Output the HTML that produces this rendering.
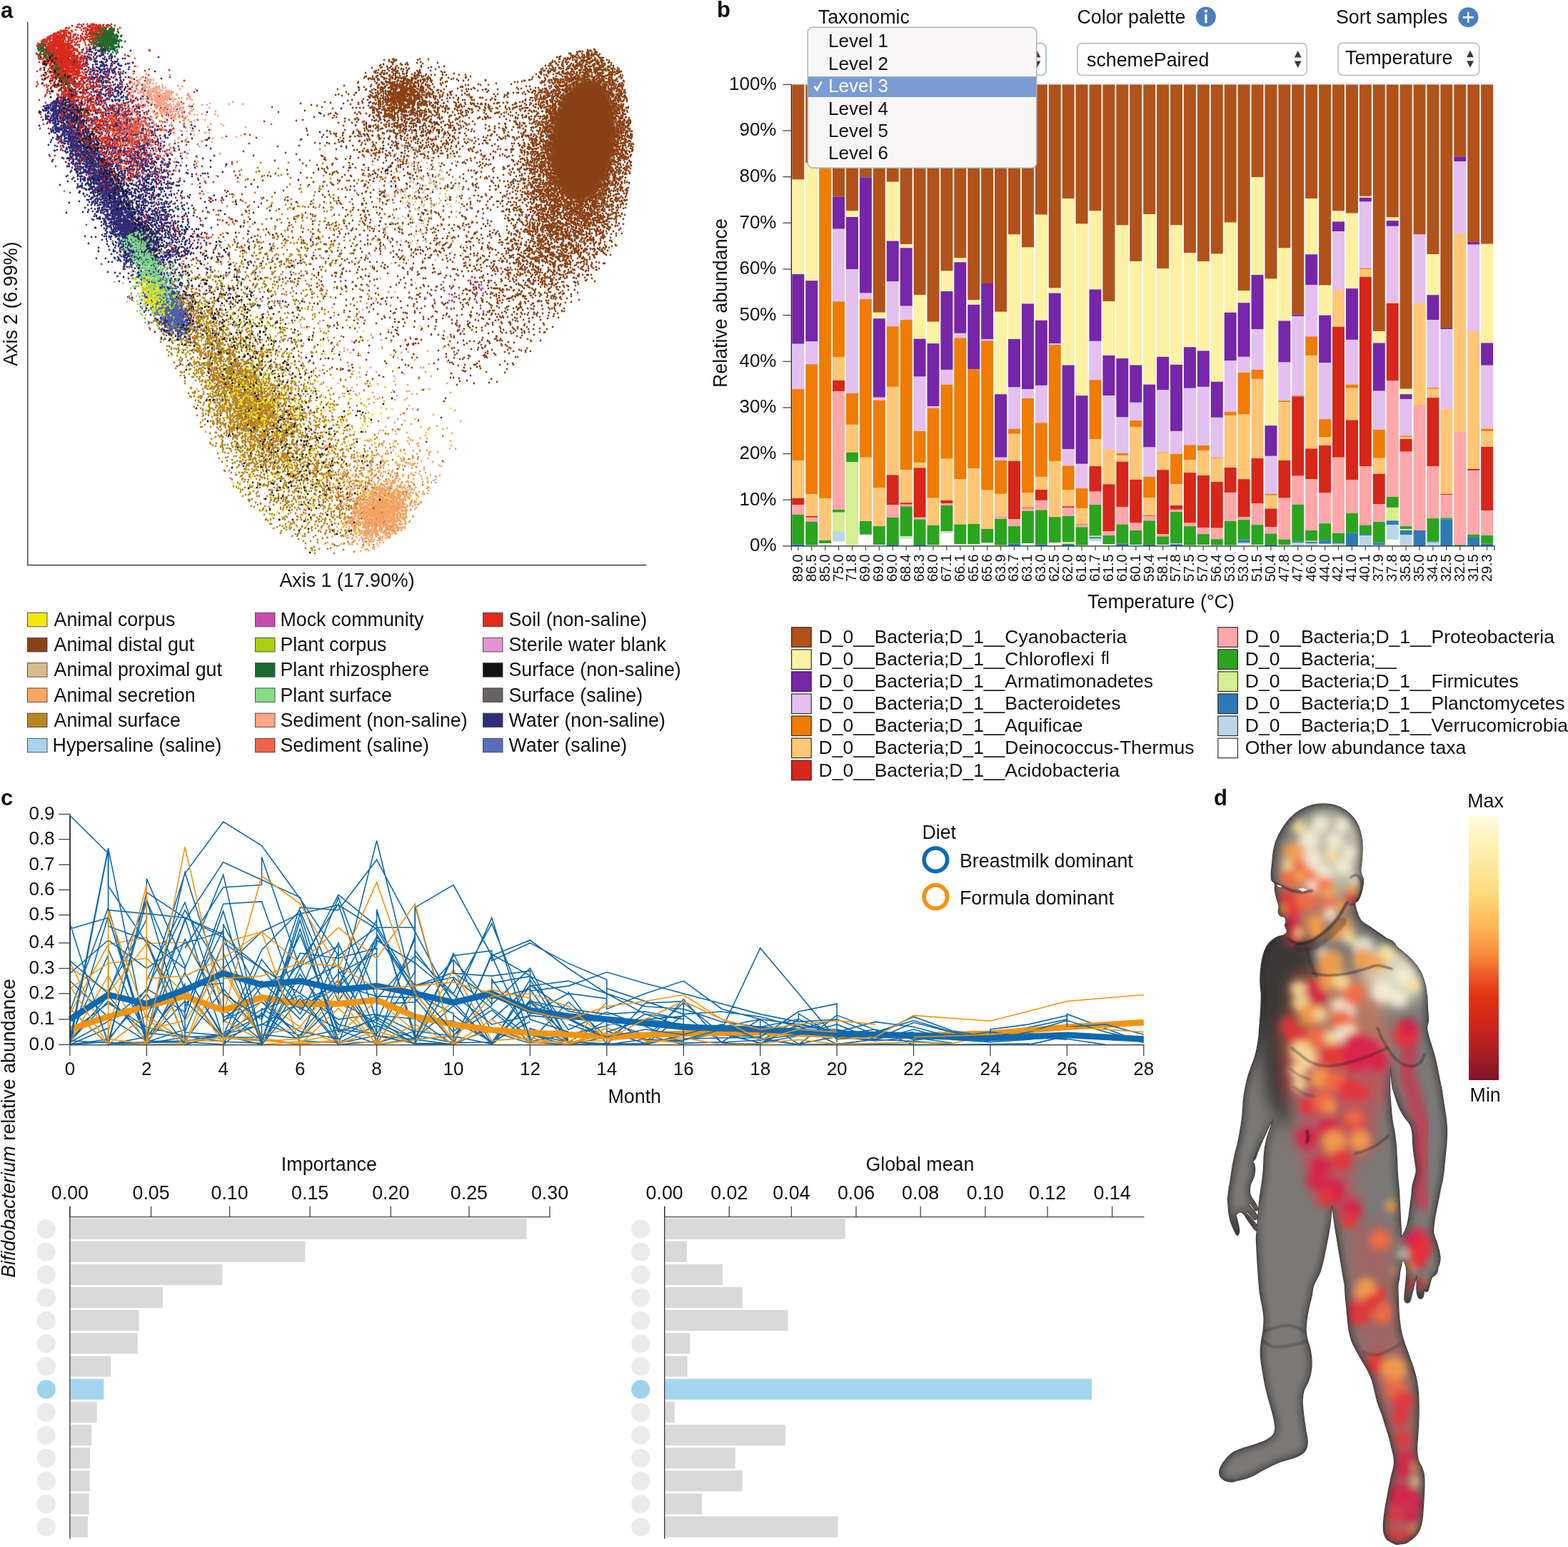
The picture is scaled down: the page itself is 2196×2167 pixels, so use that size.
<!DOCTYPE html>
<html lang="en"><head><meta charset="utf-8"><title>Figure</title>
<style>html,body{margin:0;padding:0;background:#fff;overflow:hidden}svg{display:block}text{font-family:'Liberation Sans', Arial, Helvetica, sans-serif;fill:#111}</style></head><body>
<svg width="2196" height="2167" viewBox="0 0 2196 2167">
<rect width="2196" height="2167" fill="#fff"/>
<g id="sc" fill="none" stroke-width="2.8" stroke-linecap="round">
<filter id="sf" x="-20%" y="-20%" width="140%" height="140%"><feGaussianBlur stdDeviation="3.5"/></filter><ellipse cx="817" cy="196" rx="85" ry="45" transform="rotate(96 817 196)" fill="#8a4115" filter="url(#sf)"/>
<path stroke="#8a4115" d="M823 70zm3 1zm2 0zm12 10zm2 0zm3 0zm-4 4zm2 0zm1 0zm1 0zm-3 2zm1 0zm13 1zm-13 2zm4 0zm-7 2zm5 0zm14 0zm-6 2zm-12 1zm18 0zm-43-23zm18 0zm-12 1zm14 0zm-14 2zm3 0zm9 0zm-10 1zm8 0zm1 0zm-11 1zm3 0zm6 0zm-12 2zm6 0zm-7 1zm1 0zm3 0zm-4 1zm6 0zm1 0zm3 0zm5 0zm-7 1zm-3 1zm1 0zm2 0zm8 0zm-18 1zm6 0zm15 0zm-19 1zm13 0zm4 1zm-14 1zm1 0zm6 0zm9 0zm-12 1zm14 0zm-14 1zm8 0zm-2 1zm6 0zm-7 1zm9 0zm-23 1zm3 1zm1 0zm6 0zm2 0zm3 0zm8 1zm-18 1zm11 0zm2 0zm2 0zm-28-22zm1 1zm-1 2zm-1 1zm-7 1zm3 0zm-1 1zm9 1zm-16 1zm13 0zm3 0zm-19 1zm4 0zm-1 1zm3 0zm-5 1zm9 0zm6 0zm-1 1zm8 1zm-9 1zm6 0zm-2 2zm-2 1zm3 0zm1 1zm1 0zm-10 1zm4 0zm6 0zm1 0zm-17 1zm16 0zm-7 1zm9 1zm-30-16zm-5 1zm3 0zm1 2zm6 0zm-1 3zm-6 2zm5 0zm-16 1zm7 0zm0 1zm-8 1zm17 0zm-7 1zm1 0zm6 0zm-20 1zm19 0zm1 0zm1 1zm-11 2zm5 0zm-19-3zm-164-9zm22 10zm-18 1zm11 0zm-15 1zm-16-7zm8 1zm-2 3zm-38-9zm3 1zm-3 1zm18 3zm-9 2zm10 0zm0 1zm-15 1zm-2 2zm-4-11zm-12 1zm12 4zm-8 5zm-7 1zm-8 5zm-2 1zm-13 2zm1 5zm-2 1zm16 0zm-17 1zm7 1zm-1 1zm5 0zm3 0zm1 3zm11-15zm3 0zm-4 2zm-6 1zm13 0zm-5 1zm2 0zm3 0zm9 0zm-19 1zm-3 2zm16 0zm1 1zm3 1zm-11 1zm1 1zm8 0zm3 0zm-12 1zm7 0zm-4 3zm6 3zm2 0zm-18 1zm-1 1zm1 0zm11 0zm12-23zm-1 1zm9 0zm-10 1zm0 1zm5 0zm-3 1zm1 0zm9 0zm-7 1zm13 0zm-14 1zm3 1zm5 0zm5 0zm-15 2zm0 3zm12 0zm-8 1zm3 0zm1 1zm-9 1zm13 0zm2 0zm3 0zm-14 1zm12 0zm3 1zm2 0zm-18 1zm5 0zm10 0zm2 0zm2 0zm-22 1zm12 0zm6 0zm-3 1zm4 0zm-20 1zm8 0zm3 0zm7 0zm2 0zm-12 1zm-6 1zm1 0zm2 0zm8 0zm23-21zm-4 1zm3 1zm-1 1zm-5 2zm-4 1zm8 0zm12 0zm-12 1zm-4 1zm-5 3zm2 0zm21 0zm-20 1zm3 0zm-4 1zm4 0zm10 0zm2 0zm-18 1zm13 0zm6 0zm4 0zm-14 1zm1 0zm9 0zm-10 1zm4 0zm-8 1zm1 0zm3 0zm8 0zm5 0zm-15 1zm3 1zm5 0zm-11 1zm-1 1zm7 0zm12 0zm12-22zm-7 2zm15 1zm5 1zm-19 4zm16 0zm-20 2zm2 2zm16 1zm-15 3zm1 0zm0 2zm16 1zm-2 3zm18-16zm-11 2zm3 4zm7 1zm-3 1zm-6 3zm33-7zm-7 2zm0 10zm21 0zm11 0zm32-1zm25-6zm1 0zm-8 1zm-9 2zm33-18zm3 2zm2 0zm-5 1zm9 0zm-11 1zm2 1zm-7 2zm11 1zm3 0zm2 2zm-22 4zm18 2zm-1 2zm8-19zm15 0zm4 0zm-16 1zm4 1zm1 0zm-10 1zm20 0zm-17 1zm18 0zm-19 1zm13 0zm4 0zm-5 1zm-14 1zm21 0zm-5 1zm7 3zm-13 3zm11 1zm-7 1zm-13 1zm12 0zm1 1zm3 0zm3 0zm-5 1zm5 0zm-14 1zm7 0zm1 0zm6 0zm3 0zm-8 2zm-4 1zm21-23zm5 1zm7 1zm-10 2zm-7 1zm9 0zm9 0zm-19 1zm2 0zm16 0zm-20 1zm1 0zm6 0zm2 1zm6 0zm1 0zm-6 1zm6 0zm-9 1zm11 0zm-16 1zm16 0zm1 0zm-17 1zm15 0zm-17 1zm8 0zm2 0zm-7 1zm1 0zm2 0zm11 0zm1 0zm-15 1zm16 0zm-8 1zm10 0zm-19 1zm3 0zm4 0zm6 1zm-10 1zm7 0zm3 0zm8 0zm-21 1zm9 0zm-1 1zm2 0zm4 0zm-15 1zm15 0zm6 0zm-12 1zm19-23zm1 0zm14 0zm-17 1zm4 0zm4 0zm-10 1zm1 0zm2 0zm8 0zm9 0zm2 0zm-19 1zm3 0zm2 0zm1 0zm8 0zm-7 1zm1 0zm5 0zm1 0zm2 0zm-20 1zm16 0zm2 0zm-17 1zm1 0zm19 0zm-17 1zm14 0zm-16 1zm4 0zm15 0zm1 0zm-9 1zm-11 1zm1 0zm5 0zm1 0zm4 0zm-9 1zm9 0zm9 0zm1 0zm-21 1zm2 0zm3 0zm9 0zm5 0zm1 1zm-7 1zm5 0zm-17 2zm11 0zm2 1zm6 0zm-22 1zm4 0zm7 0zm5 0zm7 0zm-19 1zm1 0zm5 0zm2 0zm6 0zm-15 1zm5 0zm3 0zm-7 1zm1 0zm13 0zm3 0zm-18 1zm2 0zm3 0zm5 0zm6 0zm3 0zm1 0zm-22 1zm11 0zm8 0zm2 0zm10-23zm8 0zm-16 1zm7 0zm-5 1zm3 0zm8 0zm5 0zm-9 1zm6 2zm4 0zm2 0zm-19 1zm3 0zm12 0zm1 0zm-18 1zm1 0zm13 0zm9 0zm-10 1zm2 0zm2 0zm-6 1zm3 0zm-4 1zm7 0zm-12 1zm0 1zm2 0zm6 0zm4 1zm-17 1zm9 0zm-4 1zm7 0zm4 0zm-13 1zm1 0zm9 0zm5 0zm4 0zm-21 1zm14 0zm7 0zm-10 2zm6 0zm-17 1zm9 0zm3 0zm1 0zm3 0zm1 0zm2 0zm-1 1zm2 0zm-21 1zm8 0zm1 0zm4 0zm7 0zm-13 1zm8 0zm8 0zm2-21zm1 2zm2 0zm-3 3zm4 4zm-2 1zm4 1zm-7 1zm6 0zm3 3zm-8 1zm7 3zm-5 1zm6 1zm-3 2zm2 0zm-1 1zm-4 3zm-2 1zm5 2zm4 0zm0 1zm-8 2zm5 0zm-2 1zm6 1zm-9 1zm4 0zm-2 1zm4 1zm3 1zm1 0zm-7 2zm9 0zm-10 1zm1 0zm5 0zm-7 1zm11 0zm0 1zm-34-21zm8 0zm10 0zm-21 1zm3 0zm2 1zm10 0zm-13 1zm1 0zm8 0zm5 0zm3 0zm3 0zm-21 1zm6 0zm8 0zm-8 1zm6 0zm6 0zm-13 1zm1 0zm-8 1zm7 0zm1 0zm2 0zm1 0zm1 0zm4 0zm1 0zm6 0zm-22 1zm1 0zm2 0zm12 0zm-7 1zm7 0zm-11 1zm3 0zm1 0zm5 0zm1 0zm-12 1zm3 0zm9 0zm8 0zm-16 1zm2 0zm7 0zm3 0zm-7 1zm1 0zm5 0zm1 0zm-10 1zm-2 1zm6 0zm5 0zm4 0zm-10 1zm-1 1zm4 0zm8 0zm-2 1zm-1 1zm1 0zm-14 1zm3 0zm10 0zm2 0zm-6 1zm1 0zm-2 1zm4 0zm-35-23zm2 0zm2 0zm1 0zm2 0zm5 0zm2 0zm-6 1zm2 3zm5 2zm0 1zm-45-7zm5 0zm4 0zm7 0zm-12 2zm9 0zm-14 1zm1 0zm12 0zm5 1zm-17 1zm4 0zm1 0zm9 0zm-4 1zm2 0zm-11 1zm3 0zm1 0zm-7 1zm10 0zm-10 1zm2 0zm7 1zm-6 1zm2 0zm1 0zm2 0zm2 1zm-9 1zm4 0zm2 0zm-6 1zm2 0zm4 0zm-2 2zm-5 1zm4 0zm1 0zm-1 1zm-4 1zm3 0zm-2 1zm0 1zm-21-21zm12 0zm2 0zm1 0zm2 0zm1 0zm-21 1zm8 0zm3 0zm1 0zm5 0zm1 0zm2 0zm-17 1zm6 0zm4 0zm-3 1zm-9 1zm11 0zm1 0zm6 1zm-13 1zm5 0zm-4 1zm7 0zm6 0zm2 0zm-13 1zm5 0zm-8 1zm-7 1zm2 1zm19 0zm-15 1zm7 0zm-2 1zm1 0zm2 0zm-12 1zm3 0zm5 0zm8 0zm1 0zm2 0zm2 0zm-18 1zm3 0zm6 0zm3 0zm6 0zm-10 1zm9 0zm-15 2zm4 0zm-9 2zm2 0zm17 0zm-17 1zm5 0zm7 0zm-10 1zm5 0zm1 0zm3 0zm4 1zm-37-20zm4 0zm9 1zm-3 1zm-4 1zm9 0zm-18 1zm2 0zm18 0zm-17 1zm9 0zm-13 1zm10 0zm6 0zm4 0zm-11 1zm4 0zm8 1zm-15 2zm1 0zm12 0zm2 1zm-10 2zm4 0zm1 0zm1 0zm4 0zm-9 1zm4 0zm3 0zm-4 1zm-9 1zm3 0zm5 0zm3 0zm-13 2zm15 0zm-6 2zm7 0zm-29-22zm5 0zm-18 2zm6 1zm-4 1zm17 0zm-9 4zm-8 1zm17 7zm-7 4zm-4 1zm-4 1zm4 0zm-21-13zm8 0zm-12 3zm0 1zm-1 2zm4 7zm-29-18zm3 2zm-2 2zm10 3zm-20 5zm21 2zm-6 1zm-39-18zm5 3zm16 2zm-18 4zm6 1zm0 2zm2 2zm2 0zm-1 2zm-12 2zm13 0zm3 0zm-39-19zm22 0zm-2 1zm-4 2zm6 3zm-16 2zm1 4zm15 0zm-17 4zm5 0zm7 0zm0 1zm-15 4zm9 1zm6 0zm-41-23zm-1 3zm2 1zm1 1zm19 0zm-17 1zm8 0zm4 1zm-11 2zm1 0zm-1 1zm1 0zm7 0zm-12 1zm2 1zm1 0zm11 1zm-13 3zm4 0zm9 0zm0 1zm-6 1zm9 2zm-18 2zm9 1zm-34-23zm14 0zm-11 1zm3 0zm4 0zm-10 1zm1 0zm4 0zm8 0zm4 0zm-4 1zm2 0zm-13 1zm6 0zm5 0zm-12 1zm2 0zm12 0zm1 0zm-3 1zm8 0zm-20 1zm11 0zm5 0zm-9 1zm-7 1zm2 0zm14 0zm2 0zm-18 1zm10 0zm4 0zm-5 1zm12 0zm1 0zm-20 1zm20 0zm-22 1zm7 0zm4 0zm-8 1zm3 0zm14 0zm-17 1zm2 0zm4 0zm4 1zm1 0zm7 0zm-22 1zm4 0zm1 0zm3 0zm3 0zm-4 1zm-2 1zm3 0zm7 0zm-15 2zm6 0zm10 0zm-15 1zm3 0zm14 0zm2 0zm-16 1zm11 0zm1 0zm-33-23zm4 0zm6 0zm-15 2zm1 0zm1 0zm3 0zm4 0zm1 0zm-5 1zm7 0zm1 0zm-11 1zm6 0zm8 0zm1 0zm1 0zm-20 1zm2 0zm1 0zm10 0zm4 0zm4 0zm-20 1zm1 0zm8 0zm13 0zm-23 1zm13 0zm6 0zm-17 1zm7 0zm2 0zm2 0zm1 0zm-13 1zm1 0zm1 0zm3 0zm8 0zm1 0zm8 0zm-18 1zm1 0zm1 0zm2 0zm2 0zm1 0zm4 0zm1 0zm-17 1zm10 0zm-10 1zm2 0zm3 0zm2 0zm1 0zm4 0zm6 0zm-16 1zm4 0zm4 0zm1 0zm8 0zm4 0zm-20 1zm7 0zm-3 1zm1 0zm3 0zm8 0zm3 0zm-20 1zm4 0zm1 0zm5 0zm2 0zm9 0zm-23 1zm5 0zm1 0zm10 0zm6 0zm-19 1zm4 0zm1 0zm6 0zm1 0zm1 0zm5 0zm-20 1zm3 0zm4 0zm5 0zm1 0zm2 0zm1 0zm-16 1zm10 0zm6 0zm1 0zm2 0zm1 0zm1 0zm-16 1zm1 0zm15 0zm-20 1zm3 0zm2 0zm2 0zm4 0zm5 0zm-16 1zm5 0zm2 0zm-12-23zm2 0zm-22 1zm10 0zm8 0zm1 0zm1 0zm-20 2zm1 0zm3 0zm3 0zm3 0zm9 0zm-14 1zm17 0zm-15 1zm12 0zm3 0zm-18 1zm15 0zm-19 2zm8 0zm6 0zm2 0zm1 0zm-2 1zm7 0zm-22 1zm11 0zm8 0zm-3 1zm5 0zm-20 1zm11 0zm3 0zm1 0zm2 0zm1 0zm3 0zm0 1zm-17 1zm3 0zm6 0zm3 0zm-17 1zm8 0zm12 0zm2 0zm-11 1zm10 0zm-14 1zm4 0zm4 0zm7 0zm-22 1zm3 0zm8 0zm11 0zm-10 1zm2 0zm2 0zm1 0zm1 0zm1 0zm2 0zm-12 1zm1 0zm2 0zm2 0zm1 0zm-14 1zm13 0zm6 1zm2 0zm-21 1zm2 0zm1 0zm10 0zm6 0zm-39-21zm3 3zm11 0zm-12 1zm9 0zm5 0zm-8 2zm1 5zm8 0zm-7 1zm-2 1zm4 0zm-4 2zm6 0zm1 0zm1 3zm-44-20zm3 9zm13 1zm-5 10zm-23-7zm-15 10zm-28 12zm24-5zm-4 8zm7 4zm9-18zm3 8zm-3 7zm-3 1zm6 5zm36-19zm-3 5zm1 9zm-2 7zm4 0zm6-23zm18 2zm-5 4zm-3 1zm5 0zm-1 2zm5 0zm-5 5zm2 0zm-11 1zm5 2zm-1 2zm6 0zm1 2zm13-21zm4 0zm1 0zm7 0zm-19 2zm3 0zm3 0zm11 0zm1 0zm-7 1zm2 0zm3 0zm0 1zm3 0zm-11 1zm-2 1zm15 0zm-8 1zm2 0zm2 0zm2 0zm2 0zm-2 1zm-5 1zm7 0zm-22 1zm9 0zm-10 1zm15 0zm7 0zm-2 1zm-19 1zm2 0zm9 0zm-7 1zm1 0zm6 1zm4 0zm2 0zm-16 1zm19 0zm-9 1zm-11 1zm17 0zm-9 1zm5 0zm9 0zm-20 1zm1 0zm7 0zm8 0zm1 1zm3 0zm-13 2zm14-23zm3 0zm7 0zm2 0zm11 0zm-16 1zm1 0zm11 0zm1 0zm-18 1zm1 0zm4 0zm3 0zm-3 1zm6 0zm8 0zm-17 1zm6 0zm6 0zm2 0zm-2 1zm-8 1zm1 0zm10 0zm2 0zm-18 1zm1 0zm4 0zm8 0zm3 0zm-19 1zm4 0zm3 0zm1 0zm5 0zm-4 1zm5 0zm-14 1zm11 0zm1 0zm-12 1zm9 0zm4 0zm4 0zm6 0zm-11 1zm3 0zm1 0zm-10 1zm5 0zm3 0zm3 0zm-16 1zm3 0zm-3 1zm1 1zm9 0zm-6 1zm10 0zm7 0zm-22 1zm14 0zm2 0zm1 0zm-4 1zm3 0zm-11 1zm-4 1zm13 0zm8 1zm-12 1zm9 0zm2 0zm24-23zm-11 1zm6 0zm3 0zm-18 1zm1 0zm7 0zm3 0zm-8 1zm6 0zm1 0zm3 0zm3 0zm5 0zm-8 1zm-3 3zm-8 1zm-2 1zm19 0zm-19 1zm3 0zm5 1zm9 0zm-15 1zm6 0zm10 0zm-12 1zm12 0zm2 0zm-14 1zm9 0zm-13 1zm5 0zm-8 1zm1 0zm2 0zm9 0zm7 0zm-6 1zm-8 1zm1 0zm7 0zm5 1zm-9 2zm14 0zm-16 1zm2 0zm2 1zm8 0zm9-23zm6 1zm3 1zm-11 1zm3 2zm1 0zm4 0zm9 1zm-10 1zm4 0zm2 0zm-14 4zm2 1zm6 0zm11 0zm-7 1zm-2 1zm4 2zm-3 1zm-3 1zm6 0zm-11 1zm11 1zm4 0zm-19 1zm16 1zm22-22zm7 2zm-20 2zm18 0zm-19 3zm17 0zm-14 1zm1 0zm1 0zm8 1zm-13 1zm16 0zm6 0zm-22 1zm17 0zm-7 2zm-7 1zm19 0zm-4 1zm3 0zm2 2zm-17 1zm-1 2zm15 0zm-1 1zm9-19zm16 3zm3 1zm-10 3zm0 1zm-9 1zm18 0zm-8 2zm-13 6zm8 2zm14 0zm3-20zm-1 1zm7 1zm4 3zm1 1zm10 0zm-6 1zm-3 1zm-8 1zm1 1zm8 0zm1 1zm-5 7zm-4 1zm5 1zm-4 2zm19-23zm6 0zm6 0zm-15 1zm22 2zm-18 2zm8 0zm5 2zm1 2zm1 4zm-19 1zm6 2zm16 2zm-18 2zm23-19zm-2 1zm21 1zm-12 1zm-7 2zm-2 1zm14 0zm2 0zm2 0zm-7 1zm-4 1zm8 2zm-13 3zm17 1zm-14 2zm6 0zm-1 1zm6 0zm-15 2zm13 0zm2 0zm4 0zm-16 1zm7 0zm-10 1zm3 0zm40-22zm-21 1zm13 0zm9 0zm-16 1zm1 0zm6 1zm-1 1zm4 0zm-11 2zm1 0zm7 0zm2 0zm4 0zm2 0zm-3 1zm-8 1zm12 1zm-1 1zm-17 2zm3 0zm8 0zm-14 1zm20 0zm0 1zm-11 1zm-2 1zm14 2zm1 0zm-13 1zm3 0zm6 1zm4 1zm-4 1zm2 1zm9-23zm4 0zm7 0zm3 1zm1 0zm-7 1zm5 1zm-13 1zm2 0zm-7 1zm16 0zm3 0zm1 0zm2 0zm-18 1zm1 0zm15 0zm-11 1zm-5 1zm1 0zm2 0zm1 1zm-9 1zm10 0zm4 0zm2 0zm4 0zm-14 1zm8 0zm1 0zm3 0zm3 0zm-18 1zm5 0zm1 0zm9 0zm-18 1zm5 0zm12 0zm-8 1zm1 0zm4 0zm1 0zm-14 1zm2 0zm1 0zm6 0zm1 0zm-9 1zm4 0zm3 0zm2 0zm4 0zm-11 1zm5 0zm4 0zm4 0zm-13 1zm-1 1zm9 0zm5 0zm-10 1zm4 0zm2 0zm2 0zm2 0zm-12 1zm-2 1zm4 0zm3 0zm5 0zm-10 1zm2 0zm3 0zm2 0zm72-23zm11 0zm-14 1zm2 0zm1 0zm5 0zm-5 1zm11 0zm-9 1zm6 0zm-1 1zm-4 1zm3 0zm1 0zm-9 1zm3 0zm3 0zm-3 1zm5 0zm3 0zm-8 1zm3 0zm-1 1zm-3 1zm9 0zm-8 1zm1 0zm6 0zm2 0zm-1 2zm-4 1zm1 1zm0 1zm-2 1zm3 3zm3 0zm-7 2zm2 0zm2 0zm3 0zm-8 1zm5 0zm11-21zm3 0zm-7 2zm1 0zm4 0zm1 0zm0 1zm0 1zm-8 1zm3 0zm3 0zm7 0zm1 0zm2 0zm-16 1zm2 1zm2 0zm4 1zm-5 1zm7 1zm-6 1zm4 1zm-8 1zm2 0zm2 0zm5 0zm1 1zm-2 1zm-2 1zm-4 1zm4 1zm2 0zm5 0zm-9 1zm-1 1zm1 0zm6 1zm1 1zm7 0zm1 1zm-16 1zm2 0zm3 0zm6 0zm-12 1zm17 0zm-19 1zm4 0zm4 0zm2 0zm9 0zm-19 1zm6 0zm1 0zm11 0zm-15 1zm3 0zm1 0zm9 0zm-16 1zm7 0zm3 0zm-10 1zm2 0zm2 0zm6 0zm1 0zm-6 1zm7 0zm3 0zm-11 1zm-4 1zm2 1zm7 0zm-9 1zm0 1zm2 0zm7 0zm8 1zm-15 1zm18 0zm1 0zm-19 1zm1 0zm5 0zm7 0zm-6 1zm3 0zm1 0zm-10 1zm3 1zm6 1zm-9 1zm4 0zm2 0zm-7 1zm1 0zm8 0zm5 0zm-17-23zm-9 1zm2 0zm-1 1zm2 0zm2 0zm3 1zm-6 1zm0 1zm2 0zm1 1zm-2 1zm-2 3zm2 0zm3 0zm-1 1zm2 0zm-4 2zm3 0zm1 0zm-6 1zm2 1zm2 0zm3 0zm-7 1zm1 0zm2 2zm2 0zm0 1zm2 1zm-7 1zm6 1zm2 0zm-8 1zm-84-23zm2 0zm9 0zm-14 1zm1 0zm3 0zm1 0zm3 0zm3 0zm3 0zm-12 1zm3 1zm10 0zm0 1zm-11 1zm3 0zm2 0zm4 2zm2 0zm-10 1zm5 0zm4 0zm-14 1zm2 0zm0 1zm3 0zm1 0zm6 0zm-5 2zm6 0zm-11 1zm7 0zm1 0zm-2 1zm-8 1zm0 1zm2 0zm1 0zm1 1zm0 1zm5 0zm3 0zm-4 2zm-4 1zm-1 1zm4 0zm2 0zm1 0zm1 0zm1 0zm-6 1zm6 0zm-28-22zm-3 1zm16 0zm-17 1zm3 0zm4 0zm1 0zm-1 1zm10 0zm-20 1zm21 0zm0 1zm-12 1zm3 0zm3 0zm6 1zm-14 1zm9 0zm-15 1zm4 0zm13 0zm4 0zm-20 1zm20 0zm-10 1zm8 0zm0 1zm-9 1zm7 0zm-17 2zm16 0zm5 0zm-9 1zm5 0zm4 1zm-3 1zm-6 1zm8 1zm-15 2zm7 0zm2 0zm-18-23zm-20 2zm6 2zm5 0zm2 1zm-12 1zm1 0zm1 1zm11 2zm-8 1zm0 1zm5 1zm3 2zm-3 4zm-3 1zm2 2zm1 0zm4 1zm2 0zm1 0zm3 0zm-12 1zm9 0zm-26-22zm-15 4zm0 6zm10 0zm-3 2zm-1 2zm2 0zm-11 6zm15 0zm0 1zm-3 1zm5 0zm-20-14zm-13 3zm12 4zm-5 6zm-39-20zm6 5zm7 6zm-5 1zm8 2zm-11 6zm-24-22zm9 0zm6 2zm-13 2zm11 3zm-11 1zm0 2zm0 1zm15 0zm-3 1zm0 1zm-6 1zm-3 1zm-7 2zm10 1zm6 0zm1 0zm-14 4zm4 1zm-33-21zm1 0zm19 0zm-3 1zm0 1zm-13 1zm18 3zm-17 1zm-2 2zm5 0zm3 3zm1 0zm2 0zm-12 1zm9 0zm-9 2zm3 0zm8 1zm8 1zm0 1zm-44-20zm1 0zm8 0zm-2 1zm12 0zm-9 1zm-4 1zm4 0zm-12 2zm19 0zm-12 2zm-1 1zm11 0zm3 0zm-13 1zm8 0zm-15 1zm4 4zm19 0zm-22 1zm6 1zm13 0zm-3 1zm6 1zm-2 2zm-13 3zm7 0zm-38-23zm5 0zm5 0zm-11 1zm11 0zm7 2zm-13 1zm11 0zm7 0zm-19 1zm5 2zm7 0zm-11 1zm3 0zm-8 1zm1 0zm9 0zm11 0zm-17 2zm5 0zm4 2zm-13 1zm16 0zm5 1zm-11 2zm-2 1zm-3 1zm10 0zm-12 1zm8 3zm-18-22zm-15 1zm12 1zm-8 1zm11 1zm-17 4zm0 2zm2 0zm6 1zm11 3zm-1 1zm2 0zm3 1zm-15 2zm-6 4zm-3-23zm-19 3zm2 3zm3 0zm0 3zm6 1zm-6 1zm-3 1zm16 0zm-10 4zm6 0zm-18 1zm1 3zm4 0zm12 2zm1 0zm-6 1zm-27-23zm11 3zm-7 1zm5 3zm-15 7zm19 2zm-7 2zm-15 4zm11 1zm6 0zm6 0zm-29-19zm-12 12zm6 3zm3 0zm-1 2zm1 2zm-18-2zm-38-20zm14 11zm2 9zm-88-1zm-51 6zm67-1zm62 3zm20 4zm7 1zm30-3zm-9 3zm12-7zm4 11zm0 2zm15 3zm4-13zm11 0zm7 2zm-15 1zm20 0zm-15 2zm-6 1zm20 4zm1 2zm-7 1zm-12 1zm0 1zm8 1zm11 1zm-4 1zm8-22zm14 0zm-1 9zm5 1zm-16 5zm3 0zm5 3zm9 0zm-14 2zm-6 1zm15 0zm1 0zm15-21zm14 0zm-4 1zm-17 4zm15 2zm-13 2zm18 1zm-11 1zm-7 2zm11 1zm4 1zm-4 3zm-5 3zm17-21zm3 0zm17 2zm-20 1zm19 0zm-22 2zm9 0zm4 2zm8 0zm0 4zm-6 1zm-12 2zm11 0zm-3 2zm-8 1zm3 0zm5 1zm1 1zm-3 1zm-4 1zm12 1zm17-23zm11 0zm-21 2zm10 1zm1 0zm7 3zm4 3zm-18 1zm16 0zm0 1zm-8 1zm-10 2zm11 0zm-8 2zm9 0zm-8 3zm12 0zm-5 1zm-5 1zm-1 2zm10 0zm2 0zm1 0zm8-22zm8 0zm6 0zm-4 2zm-4 2zm-8 2zm16 0zm-15 1zm-2 1zm3 1zm11 2zm0 2zm-15 2zm7 0zm3 4zm6 1zm-4 2zm29-22zm-7 3zm3 1zm5 1zm-15 1zm2 2zm11 0zm-16 4zm16 1zm-1 1zm-7 2zm1 2zm5 1zm7 1zm9-16zm2 0zm-4 4zm7 0zm-10 10zm18 1zm8-20zm6 1zm-4 1zm16 7zm1 4zm-1 4zm2 0zm-11 1zm2 0zm6 0zm2 0zm9-18zm-7 1zm4 0zm-3 3zm12 0zm9 0zm-8 4zm6 2zm-12 1zm13 0zm-14 1zm1 0zm7 1zm-4 1zm8 0zm1 0zm3 1zm-4 1zm1 0zm3 0zm-2 1zm-10 5zm4 0zm5 1zm12-23zm13 0zm-9 1zm-12 1zm1 0zm1 1zm3 1zm-4 1zm7 0zm15 0zm-21 1zm5 0zm8 0zm8 0zm-17 1zm6 0zm4 0zm-15 1zm1 0zm0 1zm10 0zm-5 1zm4 0zm-9 1zm6 0zm15 0zm-6 1zm1 0zm3 0zm2 0zm-9 1zm-9 3zm3 0zm9 0zm3 0zm-1 1zm-5 1zm-12 1zm4 1zm17 0zm-19 1zm3 0zm9 0zm5 0zm-5 1zm3 0zm4 0zm-21 1zm7 0zm5 0zm11-23zm3 0zm3 0zm3 0zm-4 1zm1 0zm3 0zm-5 1zm1 1zm2 0zm2 0zm-4 1zm3 0zm2 2zm-4 1zm3 0zm-8 1zm2 0zm-4 1zm7 0zm-6 1zm3 0zm-4 1zm9 0zm-8 1zm4 0zm6 0zm-5 1zm2 1zm2 0zm1 0zm-7 1zm7 0zm-6 1zm4 0zm2 0zm-6 1zm5 0zm-10 1zm1 0zm3 0zm5 0zm-8 1zm3 0zm0 2zm4 1zm-8 1zm8 0zm83-23zm1 0zm2 0zm-2 2zm-5 1zm5 1zm1 0zm1 1zm-5 1zm3 2zm-3 1zm2 0zm2 1zm1 0zm-3 1zm-2 1zm1 0zm3 0zm-4 1zm6 1zm-9 1zm1 0zm0 1zm-1 1zm3 0zm4 1zm2 0zm-4 1zm2 0zm-5 1zm-2 1zm-2 2zm7 0zm4 0zm1-23zm4 1zm13 0zm-15 1zm5 0zm-5 1zm1 0zm4 0zm-6 1zm0 1zm10 0zm-9 1zm9 0zm5 0zm3 0zm-19 1zm13 0zm1 0zm1 0zm-9 1zm5 0zm-11 1zm1 0zm1 0zm9 1zm12 0zm-23 1zm11 0zm-10 1zm8 0zm10 0zm3 2zm-19 1zm5 1zm1 0zm-9 1zm7 0zm14 0zm1 0zm-20 1zm4 0zm2 1zm3 0zm11 0zm-22 1zm6 0zm5 0zm6 0zm-10 1zm6 0zm5 0zm-17 2zm4 0zm3 0zm-5 1zm1 0zm4 0zm-8 1zm4 0zm1 0zm15 0zm-13 1zm-1 1zm1 0zm5 0zm-8 1zm12 0zm-14 1zm1 0zm6 0zm1 0zm5 0zm-11 1zm3 0zm4 1zm-8 1zm7 0zm7 1zm-15 1zm9 1zm8 1zm-17 2zm3 0zm0 1zm11 2zm-10 1zm-2 1zm10 0zm-11 1zm6 0zm-6 1zm8 1zm2 0zm-9 1zm12 0zm-28-23zm3 0zm6 0zm2 0zm-7 2zm1 0zm2 0zm-6 1zm-2 5zm2 0zm4 0zm1 0zm2 0zm-8 1zm8 0zm-3 1zm2 0zm3 0zm-10 1zm11 0zm-14 1zm6 0zm0 1zm1 1zm4 0zm2 1zm-15 1zm3 0zm2 0zm-2 1zm2 0zm3 0zm-3 2zm5 0zm-11 1zm8 0zm8 0zm-17 1zm3 1zm3 0zm1 0zm2 0zm5 0zm-14 1zm7 0zm4 0zm-83-23zm1 0zm1 2zm-6 1zm6 0zm-5 2zm5 0zm3 0zm-10 1zm11 0zm-3 1zm1 0zm3 0zm-12 1zm3 0zm3 0zm6 0zm-7 1zm3 0zm2 0zm-9 2zm5 0zm4 1zm1 0zm-11 1zm2 0zm3 0zm2 1zm3 0zm-4 1zm2 0zm3 0zm-8 1zm4 0zm4 0zm-4 1zm6 0zm-13 1zm1 0zm10 0zm1 0zm-10 1zm-1 1zm12 0zm-11 1zm8 0zm1 0zm-11 1zm11 1zm-29-23zm5 0zm-2 1zm-5 1zm12 0zm1 0zm1 0zm4 0zm-14 1zm6 0zm-14 1zm16 0zm-9 1zm16 0zm-8 1zm2 0zm-10 1zm7 0zm-4 1zm10 0zm-18 1zm3 0zm14 1zm-19 1zm8 0zm9 0zm5 0zm-18 1zm11 0zm8 0zm-4 1zm-8 1zm6 0zm-13 1zm10 0zm-9 1zm12 0zm2 0zm-18 1zm3 0zm9 0zm3 1zm4 0zm-6 1zm1 0zm-12 1zm-2 1zm12 0zm9 0zm-22 1zm16 0zm2 0zm1 0zm-3 1zm1 0zm4 0zm-26-23zm-5 1zm-6 2zm10 2zm-6 1zm7 2zm-2 4zm2 1zm-14 1zm16 0zm-8 1zm1 0zm9 0zm-6 1zm4 0zm-13 4zm1 0zm10 0zm3 0zm-17 1zm9 0zm3 0zm1 0zm4 0zm0 2zm1 0zm-39-23zm3 2zm11 0zm-8 2zm9 6zm-8 7zm-6 1zm2 2zm-2 1zm9 1zm-40-22zm13 0zm-10 3zm1 1zm-2 3zm-4 4zm1 4zm11 0zm-5 1zm13 3zm-42-8zm6 12zm4 0zm-33-22zm16 2zm-2 8zm-2 5zm-34 5zm-16-21zm5 0zm5 3zm-5 2zm-8 7zm3 6zm-4 2zm2 3zm-34-22zm13 2zm6 0zm-6 2zm-12 3zm6 0zm5 0zm5 0zm-13 2zm4 0zm8 0zm-4 3zm-1 1zm-7 2zm1 0zm0 2zm3 0zm4 3zm-25-21zm3 2zm-2 7zm8 4zm-1 4zm-4 1zm-8 2zm4 3zm-14-23zm-18 1zm12 1zm-10 1zm12 7zm-13 5zm7 4zm8 4zm-34-17zm-6 1zm10 7zm-13 4zm10 1zm7 0zm-26-12zm-22-5zm5 3zm-1 2zm-34 1zm-18 14zm-47-20zm-38 13zm-44-5zm55 14zm28 12zm-12 10zm35-15zm-11 6zm-7 9zm25-19zm17 1zm18-2zm18 0zm14 13zm-20 4zm38-19zm-3 1zm5 1zm-11 2zm17 4zm-6 4zm3 1zm-1 1zm-12 2zm4 3zm25-12zm-6 6zm3 0zm7 0zm0 8zm-12 2zm25-20zm17 0zm-9 1zm5 0zm-14 1zm11 1zm5 4zm-13 8zm-1 3zm19-16zm19 0zm-14 3zm2 3zm3 3zm-1 6zm18-20zm15 2zm0 1zm-5 3zm-8 3zm17 1zm-16 2zm10 5zm13-15zm-4 4zm12 4zm2 10zm23-15zm-15 1zm6 1zm4 1zm1 7zm-1 6zm19-16zm5 3zm10 0zm-12 8zm3 4zm-11 1zm3 0zm41-20zm-7 7zm-12 2zm4 4zm9 3zm0 2zm8 4zm4-22zm7 7zm1 2zm6 3zm6 7zm22-19zm-3 2zm-13 10zm18 0zm-12 1zm13 0zm-4 2zm1 3zm-8 2zm-10 1zm16 0zm-2 1zm8-21zm15 1zm7 0zm-11 1zm-3 2zm12 1zm-7 3zm8 0zm-11 2zm3 0zm2 0zm-13 1zm18 0zm-15 1zm3 0zm6 2zm-1 1zm2 0zm8 0zm0 2zm-23 2zm18 0zm-3 2zm22-23zm-13 1zm5 0zm10 0zm5 0zm1 0zm-21 1zm3 0zm19 0zm0 1zm1 0zm-18 1zm16 0zm-8 1zm-2 1zm6 0zm-7 1zm2 0zm-9 1zm20 1zm-14 2zm2 0zm-4 1zm-1 1zm11 0zm-14 1zm10 1zm-8 1zm2 0zm1 0zm12 0zm2 0zm-19 1zm9 1zm4 0zm3 0zm2 0zm1 0zm-21 1zm5 1zm-6 1zm10 1zm2 0zm2 0zm4 0zm-17 1zm33-23zm0 1zm1 0zm1 0zm2 0zm-10 1zm1 0zm6 0zm-11 1zm6 0zm-3 1zm5 0zm1 0zm3 0zm-12 1zm14 0zm2 0zm1 0zm-13 1zm-2 1zm3 0zm8 0zm-7 1zm2 0zm3 0zm4 0zm2 0zm-16 1zm11 0zm3 0zm3 0zm-16 1zm3 0zm11 0zm-12 1zm7 0zm6 0zm1 0zm-14 1zm-2 1zm1 0zm3 0zm6 0zm3 0zm-15 1zm2 0zm7 0zm4 0zm4 1zm1 0zm-4 1zm7 0zm-19 1zm4 1zm10 0zm3 0zm1 0zm-19 1zm8 0zm11 0zm-17 1zm6 0zm10 0zm4 0zm-14 1zm4 0zm7 0zm-16 1zm10 0zm1 0zm1 1zm5 0zm3-3zm0 2zm47-11zm-3 7zm2 0zm-2 1zm1 0zm-4 2zm6 0zm-9 1zm1 0zm7 0zm1 0zm-5 1zm5 0zm7-23zm1 0zm9 0zm2 0zm2 0zm-10 1zm5 0zm-9 1zm10 0zm6 0zm-18 1zm17 0zm-18 1zm3 0zm2 0zm3 0zm9 0zm-12 1zm6 0zm4 0zm1 0zm-16 1zm2 0zm5 0zm12 0zm-21 1zm19 0zm-20 1zm3 0zm7 0zm3 0zm7 0zm-12 1zm11 0zm3 0zm-11 2zm10 0zm-21 1zm3 0zm8 0zm8 0zm1 0zm-15 1zm6 0zm1 1zm1 0zm10 0zm-10 1zm4 0zm-15 1zm4 0zm6 0zm6 0zm-18 1zm9 0zm5 0zm3 0zm-17 1zm4 1zm1 0zm5 0zm9 0zm2 0zm-20 1zm8 0zm-9 1zm8 0zm14 0zm-15 1zm1 0zm14 0zm-20 1zm24-23zm7 1zm-7 1zm2 0zm8 0zm1 2zm-7 5zm6 0zm-11 2zm2 1zm0 1zm3 2zm8 0zm-14 1zm17 0zm0 1zm-16 2zm5 2zm-2 1zm1 1zm2 0zm1 0zm8 0zm-11 1zm9 0zm-14 1zm5 1zm8 0zm-8 1zm3 0zm1 1zm-7 3zm12 0zm-1 3zm-5 3zm-6 1zm8 2zm-3 1zm-1 1zm3 4zm4 0zm-34-22zm7 0zm2 0zm-7 1zm7 0zm-6 1zm2 0zm1 0zm-8 1zm3 0zm5 0zm4 0zm3 0zm4 0zm2 0zm-18 1zm3 0zm12 0zm-6 1zm-5 1zm1 1zm-7 1zm3 0zm1 0zm-4 1zm7 0zm12 0zm-15 1zm-5 2zm3 1zm3 0zm15 0zm-11 1zm-10 1zm1 0zm13 0zm-11 1zm11 0zm8 0zm-16 1zm8 0zm8 0zm-12 1zm12 0zm-13 1zm-7 1zm3 0zm13 0zm-14 1zm9 2zm1 0zm-27-23zm3 0zm-4 1zm2 0zm-4 1zm1 0zm3 0zm4 0zm2 0zm-11 1zm1 0zm4 0zm1 0zm5 0zm4 0zm-16 1zm1 0zm2 0zm1 0zm9 0zm-13 1zm11 0zm-10 1zm2 0zm13 0zm-20 1zm2 0zm6 0zm3 0zm1 0zm2 0zm6 0zm-20 1zm6 0zm12 0zm-21 1zm7 0zm-5 1zm4 0zm6 0zm3 0zm4 0zm3 0zm-22 1zm7 0zm10 0zm-16 1zm9 0zm2 0zm2 0zm-2 1zm6 0zm3 0zm-7 1zm8 0zm-14 1zm2 0zm12 0zm-21 1zm3 0zm6 1zm2 0zm2 0zm2 0zm3 0zm-13 1zm11 0zm4 0zm-16 1zm5 0zm7 0zm1 0zm-18 1zm4 0zm12 0zm-16 1zm14 0zm4 0zm5 0zm-23 1zm6 0zm10 0zm-12 1zm-27-23zm3 1zm-2 2zm4 1zm1 0zm-7 1zm2 0zm3 1zm4 0zm-1 1zm-1 1zm3 0zm3 0zm4 0zm2 0zm3 1zm-21 1zm4 0zm4 0zm1 0zm1 0zm2 0zm2 0zm5 0zm1 0zm-18 1zm3 0zm1 0zm4 0zm1 0zm1 0zm2 0zm3 0zm-15 2zm1 0zm5 0zm10 0zm4 0zm-21 1zm11 0zm3 1zm2 0zm-17 1zm20 0zm-21 1zm19 0zm4 0zm-21 1zm5 0zm8 0zm7 0zm-18 1zm3 0zm4 0zm6 0zm1 0zm1 0zm-17 1zm4 0zm3 0zm12 0zm-21 1zm4 0zm1 0zm6 0zm12 0zm-17 1zm2 0zm4 0zm3 0zm8 0zm-18 1zm1 0zm5 0zm6 0zm4 0zm-45-23zm11 0zm3 0zm2 0zm4 0zm-14 1zm1 0zm1 0zm-6 1zm7 0zm7 0zm3 0zm1 0zm2 0zm1 0zm-23 1zm10 0zm6 0zm4 0zm-19 1zm8 0zm13 0zm0 1zm-17 1zm4 0zm5 0zm-9 1zm2 0zm1 0zm5 0zm7 0zm-16 1zm9 0zm6 0zm-19 1zm3 0zm5 0zm-7 1zm2 0zm2 0zm2 0zm2 0zm5 0zm6 0zm-10 1zm-7 1zm9 0zm-10 1zm13 0zm2 0zm-16 1zm6 1zm7 0zm1 0zm5 0zm2 0zm-21 1zm1 0zm9 0zm2 0zm10 0zm-9 1zm3 0zm-3 1zm7 0zm2 0zm-14 1zm4 0zm5 0zm-8 1zm-8 1zm10 0zm6 0zm-4 1zm1 0zm-15 1zm8 0zm1 0zm7 0zm2 0zm5 0zm-42-22zm11 0zm5 0zm-11 1zm12 0zm-15 1zm4 0zm1 0zm2 0zm9 0zm-21 1zm2 0zm3 0zm12 0zm-6 1zm1 0zm7 0zm-21 2zm17 0zm-13 1zm13 1zm-17 1zm16 0zm-1 1zm7 0zm-20 1zm3 0zm3 0zm11 1zm-19 1zm5 0zm1 0zm8 1zm-6 1zm13 0zm-4 1zm-13 1zm12 1zm2 0zm5 0zm-20 1zm19 1zm-15 1zm5 1zm2 0zm9 0zm-45-20zm7 0zm-4 1zm13 4zm3 0zm-10 1zm9 3zm-17 2zm11 1zm4 0zm5 0zm-8 1zm-8 1zm5 3zm-9 3zm-13-19zm8 1zm-17 1zm13 1zm-10 5zm13 1zm1 0zm-6 1zm-8 3zm-1 1zm9 1zm3 0zm-5 3zm-35-10zm11 3zm-38-14zm16 9zm-6 4zm-4 8zm-22-22zm15 10zm-16 2zm-1 1zm0 3zm17 6zm-47-21zm3 13zm1 7zm4 2zm-21-17zm-6 5zm15 1zm-8 1zm10 2zm-28-15zm-2 1zm-13 2zm9 1zm-11 1zm0 6zm19 0zm-8 2zm9 8zm-41-17zm3 1zm1 0zm2 0zm0 1zm0 4zm7 6zm-3 1zm1 0zm-7 3zm15 0zm-10 2zm-22-10zm-10 2zm12 5zm-8 2zm-5 1zm-22-20zm7 13zm-32-6zm2 11zm-16-16zm5 5zm3 3zm-1 7zm-19 3zm-50-16zm14 10zm-30-3zm-3 8zm-27-13zm-2 8zm-31 15zm41-5zm-3 5zm44 13zm40-10zm-10 4zm6 0zm-9 1zm8 2zm-11 2zm41-16zm-18 9zm3 10zm30-9zm27-10zm-10 3zm17 0zm-11 2zm-7 7zm-3 7zm42-20zm-15 5zm2 0zm5 0zm0 1zm-5 1zm1 6zm2 2zm-7 1zm2 5zm27-18zm-7 5zm4 1zm14 4zm-2 1zm-10 1zm-2 5zm39-22zm-16 5zm-3 1zm22 2zm-2 5zm0 1zm-20 3zm35-14zm8 3zm-4 4zm2 2zm6 0zm-10 4zm2 5zm18-12zm12 10zm-21 3zm32-13zm12 1zm3 4zm12-11zm-11 12zm19 0zm-16 1zm2 2zm-1 1zm9 4zm22-20zm-7 2zm11 1zm-4 15zm27-16zm3 0zm-4 1zm-4 2zm9 1zm-1 4zm-5 1zm3 3zm-4 1zm10 1zm1 0zm-6 2zm2 0zm29-19zm-14 3zm14 0zm-16 1zm-7 1zm9 1zm1 1zm13 0zm-12 1zm-4 3zm10 0zm4 0zm-5 3zm2 2zm5 2zm-13 3zm1 0zm11 0zm9-23zm3 0zm10 0zm0 1zm-13 1zm3 0zm4 0zm6 1zm-13 1zm11 0zm-10 1zm5 0zm1 0zm7 0zm-10 1zm2 0zm4 0zm2 0zm-16 1zm6 0zm10 0zm-17 1zm17 0zm-14 1zm1 0zm6 1zm-8 1zm6 0zm0 1zm7 0zm3 0zm-12 1zm2 1zm7 0zm-6 1zm4 1zm2 0zm6 0zm-21 2zm8 0zm7 0zm2 0zm-4 1zm3 0zm2 0zm-8 1zm9 0zm-14 1zm5 0zm8 0zm-5 1zm8 0zm-6 1zm9-23zm11 0zm7 0zm-15 1zm2 0zm8 0zm2 1zm-15 1zm2 0zm5 0zm5 0zm7 0zm-15 1zm3 0zm5 0zm7 0zm-19 1zm5 0zm6 0zm2 0zm-12 1zm3 0zm1 0zm-3 1zm3 0zm4 0zm10 0zm-16 1zm1 0zm2 0zm12 0zm-16 1zm10 1zm7 0zm-12 1zm-5 1zm19 0zm-23 1zm13 0zm3 0zm1 0zm-15 1zm10 0zm10 0zm0 1zm-19 1zm1 0zm3 0zm-2 1zm7 0zm-11 1zm19 0zm1 0zm-17 1zm6 0zm-3 1zm-3 1zm4 0zm5 0zm1 1zm1 0zm1 0zm0 1zm20-23zm-5 1zm10 0zm1 0zm1 0zm-12 1zm1 0zm4 0zm3 0zm5 0zm-19 1zm6 0zm1 0zm6 0zm4 0zm-12 1zm8 0zm7 0zm2 0zm-23 1zm3 0zm1 0zm10 0zm8 0zm-20 1zm5 1zm2 0zm3 0zm11 0zm-16 1zm4 0zm5 0zm4 0zm-11 1zm3 0zm1 0zm6 0zm2 0zm0 1zm-21 1zm5 0zm10 0zm-14 1zm3 0zm2 0zm10 0zm-10 1zm2 0zm8 0zm7 0zm-15 1zm12 1zm3 0zm-17 1zm11 0zm-12 1zm13 0zm-14 1zm3 0zm16 0zm-9 1zm2 0zm-14 1zm1 0zm5 0zm5 0zm5 0zm-10 2zm4 0zm5 0zm-16 1zm22 0zm4-23zm10 0zm1 0zm1 0zm1 0zm2 0zm2 0zm3 0zm-12 1zm3 0zm9 0zm-22 1zm14 0zm4 0zm-8 1zm5 0zm1 0zm-17 1zm7 0zm5 0zm5 0zm-5 1zm8 0zm-10 1zm3 0zm9 0zm-20 1zm9 1zm5 0zm-4 1zm9 0zm-21 1zm5 0zm1 0zm7 0zm-10 1zm6 0zm4 1zm3 0zm5 0zm-15 1zm1 0zm2 0zm9 0zm4 0zm-22 1zm11 0zm-4 1zm-4 1zm4 0zm2 0zm11 0zm-3 1zm5 0zm1 0zm-21 1zm6 0zm1 0zm1 0zm4 0zm1 0zm1 0zm-14 1zm8 0zm5 0zm-11 1zm3 0zm7 0zm8 0zm-21 1zm5 0zm11 0zm1 0zm3 0zm-14 1zm8 0zm7 0zm-19 1zm1 0zm8 0zm9 0zm7-23zm1 1zm-5 1zm9 0zm4 0zm4 0zm-10 3zm12 0zm-6 1zm1 0zm-9 1zm16 3zm2 0zm-14 1zm10 0zm4 0zm-6 1zm-16 1zm10 0zm4 0zm-15 1zm23 0zm-18 1zm-4 1zm6 0zm15 0zm1 0zm-22 2zm1 0zm2 0zm9 0zm-8 3zm2 1zm-3 1zm9 0zm16-21zm7 1zm-3 1zm-7 6zm5 2zm4 1zm-8 1zm-3 1zm9 4zm-6 6zm-2 3zm4 4zm-23-8zm17 0zm-14 2zm2 0zm6 1zm-12 1zm6 0zm11 0zm0 1zm-8 1zm-4 2zm2 1zm-11 1zm18 2zm-17 1zm1 1zm-3 1zm4 3zm19 0zm-18 1zm-3 1zm2 0zm3 0zm-4 1zm2 1zm-20-22zm2 0zm12 0zm-15 1zm3 0zm1 0zm4 0zm-14 1zm7 0zm1 0zm-7 1zm5 0zm6 1zm4 0zm1 0zm-9 1zm13 1zm-17 1zm0 1zm1 0zm13 0zm-10 1zm3 0zm8 0zm-21 1zm20 0zm-10 1zm13 1zm-18 1zm14 1zm-13 1zm4 0zm-5 1zm4 0zm-9 1zm20 0zm-14 1zm13 0zm-12 1zm8 2zm-4 1zm3 0zm1 0zm-31-22zm1 0zm5 0zm8 0zm-21 1zm3 0zm8 0zm1 0zm4 0zm-13 1zm15 0zm-6 1zm5 0zm-17 1zm1 0zm6 0zm7 0zm-10 2zm6 0zm-8 1zm12 1zm6 1zm-8 1zm-10 1zm10 0zm8 0zm1 0zm-7 1zm3 0zm-18 1zm19 0zm4 0zm-5 1zm-6 1zm1 1zm6 0zm2 0zm1 0zm1 0zm-18 1zm7 0zm2 0zm9 0zm-21 1zm1 0zm0 1zm3 0zm8 0zm1 1zm2 0zm-16 1zm17 0zm5 0zm-23 1zm4 0zm12 0zm-11 1zm1 0zm16 0zm-40-23zm2 0zm-1 1zm1 0zm3 0zm5 0zm1 1zm4 0zm-19 1zm-1 1zm3 0zm-1 1zm4 0zm-6 1zm4 0zm6 0zm3 0zm3 0zm1 0zm-10 1zm4 0zm4 0zm3 0zm-16 1zm2 2zm6 0zm1 0zm6 0zm-17 1zm14 0zm8 1zm-20 1zm3 0zm1 0zm1 0zm2 1zm9 1zm1 0zm-9 1zm3 0zm-8 1zm15 0zm-18 1zm19 0zm-20 1zm2 0zm17 0zm2 0zm-13 2zm2 0zm-6 1zm13 0zm2 0zm-7 1zm1 0zm3 0zm-41-23zm4 0zm-3 1zm7 0zm3 0zm-3 1zm7 0zm6 1zm-20 1zm7 0zm6 1zm5 0zm-18 1zm3 0zm3 0zm1 0zm7 0zm7 0zm-20 1zm12 0zm-13 1zm2 1zm1 0zm3 0zm1 0zm7 1zm-13 2zm-1 1zm4 0zm10 0zm1 0zm-9 1zm14 1zm-11 1zm-9 1zm9 1zm2 0zm6 0zm4 0zm-20 1zm5 2zm12 0zm-19 1zm10 0zm4 1zm5 0zm-42-20zm16 0zm4 2zm-20 1zm18 0zm-10 3zm6 0zm-13 2zm2 0zm17 0zm-9 1zm2 1zm3 0zm-10 1zm13 1zm1 0zm-22 1zm2 0zm6 0zm15 1zm-23 5zm-1-18zm-9 6zm3 3zm3 4zm-16 2zm10 4zm9 0zm-36-22zm-6 1zm3 3zm12 5zm-9 9zm5 2zm-12 1zm-8-22zm-19 1zm4 2zm-5 1zm20 9zm-3 1zm-1 2zm-2 5zm-2 1zm-17-16zm-8 5zm7 8zm-7 1zm-16-17zm-12 4zm-3 2zm6 0zm1 9zm1 4zm8 0zm-42-22zm21 3zm-10 7zm-13 6zm17 4zm3 3zm-32-23zm11 0zm-11 1zm-6 6zm2 2zm13 8zm-23-16zm-10 1zm6 0zm2 0zm-17 10zm8 5zm-1 3zm11 2zm-19 1zm-12-23zm-8 1zm5 4zm6 3zm3 1zm-14 2zm13 1zm-19 5zm11 1zm-33-17zm7 0zm-4 4zm7 6zm-22-11zm-12 3zm3 0zm-4 4zm18 5zm1 3zm-8 2zm-30-15zm0 7zm8 11zm-3 2zm3 0zm1 0zm-38-10zm1 9zm-16-5zm-33 2zm-30 2zm11 19zm11 7zm69-18zm0 7zm9 1zm-13 3zm11 8zm6-22zm3 2zm16 3zm-18 3zm33-8zm6 5zm-2 9zm-17 1zm22 3zm-2 1zm24-13zm-8 2zm-9 2zm14 3zm-1 1zm-1 4zm24-13zm-8 1zm-6 5zm20 3zm-18 2zm25-17zm18 0zm-3 3zm-15 3zm1 3zm17 0zm-11 1zm-7 2zm0 1zm1 3zm18 0zm-4 2zm9-15zm16 1zm-11 3zm12 1zm0 2zm15 0zm9 0zm-21 4zm6 0zm7 0zm-10 4zm4 2zm13 1zm-20 1zm32-21zm8 2zm-13 2zm11 0zm5 7zm-11 4zm3 0zm-7 5zm30-19zm-6 9zm9 10zm-12 1zm32-20zm-4 1zm10 5zm-4 2zm-10 1zm5 0zm-4 4zm14 4zm-5 1zm9 2zm17-18zm-2 4zm0 3zm4 0zm-12 1zm-1 1zm16 0zm5 8zm-17 2zm22-23zm8 0zm8 0zm-17 4zm5 0zm8 1zm6 2zm-1 2zm-6 3zm8 0zm-7 2zm5 0zm-1 1zm-7 1zm-6 4zm11 2zm3 0zm-12 1zm17-22zm4 0zm11 2zm0 1zm-16 1zm8 1zm1 1zm6 1zm1 0zm-12 2zm16 0zm1 2zm-16 1zm13 0zm0 2zm1 0zm2 0zm-8 1zm-9 4zm1 0zm15 0zm1 0zm-2 2zm-7 1zm5 0zm1 0zm25-23zm-8 1zm1 0zm-11 1zm7 0zm1 0zm4 0zm4 0zm-6 1zm4 0zm-10 1zm14 1zm-11 1zm2 0zm-1 1zm-1 1zm1 0zm4 0zm3 0zm-15 1zm1 0zm5 3zm5 0zm-12 1zm20 0zm-9 1zm11 0zm-16 1zm-2 2zm4 0zm4 0zm7 0zm-9 1zm-8 1zm12 0zm-2 3zm10 0zm-10 1zm1 0zm3 0zm27-23zm1 0zm0 2zm-21 1zm12 0zm7 1zm-15 1zm1 0zm-3 2zm15 0zm-16 1zm19 0zm2 0zm-13 1zm10 0zm-5 1zm1 0zm3 0zm-16 1zm17 1zm-17 1zm20 0zm-21 2zm20 0zm-9 2zm0 1zm-9 1zm17 0zm-18 2zm2 0zm5 0zm12 0zm1 0zm-17 1zm1 0zm14 1zm17-23zm-4 1zm4 0zm-3 1zm10 0zm-16 2zm2 0zm0 1zm12 1zm-13 1zm10 0zm-15 1zm10 0zm1 0zm-11 1zm21 0zm-20 1zm10 0zm-4 1zm11 0zm-5 1zm2 0zm7 0zm1 0zm-23 1zm11 0zm-9 1zm10 0zm2 0zm5 0zm-2 1zm1 0zm-9 2zm4 0zm2 0zm3 0zm3 1zm1 0zm-13 1zm12 2zm-14 1zm1 1zm13 0zm10-23zm1 0zm5 0zm2 0zm1 0zm-9 1zm8 0zm-9 1zm9 1zm4 0zm-15 2zm7 0zm6 0zm6 0zm-20 2zm20 0zm-16 2zm-3 3zm7 0zm5 0zm5 0zm-18 1zm2 0zm9 0zm3 0zm5 0zm-17 1zm12 0zm-16 1zm2 0zm0 1zm13 0zm3 2zm-10 1zm5 2zm2 2zm22-22zm2 0zm-9 2zm10 0zm-17 2zm23 3zm-14 1zm8 0zm-9 1zm1 0zm-9 1zm13 0zm-9 5zm11 5zm-38 3zm-1 1zm2 1zm3 2zm-4 2zm1 1zm4 0zm7 1zm10 0zm-21 2zm4 0zm6 2zm3 4zm8 0zm-22 2zm18 0zm-23-18zm-16 1zm13 1zm-16 2zm9 1zm-8 2zm20 0zm-15 1zm11 0zm-17 1zm5 1zm1 1zm6 1zm-11 1zm-2 1zm1 0zm22 0zm-16 1zm14 1zm-17 2zm1 3zm-2 1zm-17-22zm1 0zm1 0zm11 0zm-18 2zm8 0zm8 0zm-15 1zm7 0zm9 1zm-7 1zm-13 1zm8 0zm7 0zm-13 1zm2 2zm3 0zm14 0zm-17 1zm2 1zm12 0zm-11 1zm0 1zm9 0zm-18 2zm15 2zm-13 1zm6 0zm-4 2zm4 0zm15 0zm-11 2zm-29-22zm8 0zm5 0zm-11 1zm10 1zm-11 1zm13 0zm-10 1zm5 2zm5 0zm-21 1zm11 0zm0 1zm9 0zm3 0zm-21 6zm5 1zm3 1zm3 1zm-12 1zm5 1zm-1 3zm3 0zm7 0zm-19-22zm1 0zm-15 3zm6 1zm-8 1zm13 0zm1 0zm1 2zm-16 1zm3 0zm1 0zm-7 1zm23 0zm-14 1zm9 0zm-12 1zm0 2zm5 0zm0 3zm-9 1zm6 0zm2 0zm5 0zm1 0zm-1 2zm-9 2zm13 0zm1 0zm1 0zm-6 1zm-6 1zm14 0zm-27-23zm-2 1zm-13 1zm2 3zm11 4zm1 6zm-13 1zm5 1zm-10 1zm11 0zm9 0zm-6 1zm-14 1zm15 2zm2 0zm-41-20zm8 2zm2 0zm-4 2zm14 0zm-11 7zm8 1zm5 0zm-21 1zm19 5zm-41-20zm-3 3zm9 1zm10 2zm-10 5zm-4 4zm12 1zm-1 1zm6 1zm-3 1zm-7 1zm-34-14zm8 11zm6 1zm-41-17zm2 0zm18 3zm-11 17zm-3 1zm-11-20zm-3 4zm0 2zm-13 1zm-1 6zm14 0zm-2 1zm-27-16zm-3 3zm6 1zm-12 4zm15 1zm-5 6zm11 1zm-4 5zm-20-21zm-15 8zm-2 5zm5 3zm-27-15zm-1 3zm12 11zm-11 2zm-14-15zm-15 3zm6 3zm13 0zm-5 2zm6 4zm-23 3zm10 3zm-11-17zm-23 4zm20 5zm-7 10zm-26-20zm-5 1zm1 14zm11 1zm-28-9zm-15 12zm-39-15zm-13 6zm-46-5zm49 34zm38-10zm-5 1zm27-2zm28-5zm-6 1zm-7 14zm11 2zm26-15zm-1 8zm29 5zm-4 5zm22-18zm-11 1zm24 16zm30-8zm34-6zm-16 9zm16 0zm21-15zm1 0zm-11 22zm18 1zm3-21zm10 15zm-3 3zm17-17zm12 1zm-2 10zm4 1zm8 4zm-18 2zm14 0zm-3 1zm-7 1zm2 0zm24-23zm11 0zm-10 9zm4 0zm-3 1zm-11 1zm19 1zm-5 7zm5 1zm2 0zm-21 2zm36-22zm2 1zm0 1zm-4 3zm10 1zm-16 1zm10 0zm-3 9zm6 2zm-15 2zm10 2zm3 0zm11-22zm8 0zm-12 2zm17 0zm-14 2zm18 3zm-8 2zm6 0zm3 1zm-6 2zm-13 2zm4 1zm1 0zm12 3zm-6 2zm-14 2zm32-22zm11 0zm-1 1zm-6 1zm-12 2zm20 0zm3 0zm-18 1zm11 0zm6 0zm-11 1zm8 0zm-16 2zm12 0zm-9 1zm4 0zm9 1zm-4 1zm-12 1zm0 1zm16 0zm1 1zm-5 1zm4 3zm-18 2zm2 2zm36-22zm-9 1zm11 0zm1 0zm3 0zm0 1zm-18 1zm18 1zm-20 1zm16 0zm6 1zm-18 1zm10 0zm1 0zm-11 1zm1 0zm-3 2zm1 0zm1 1zm14 0zm-6 1zm-7 1zm-2 1zm6 0zm-5 1zm3 1zm13 0zm-5 2zm-14 2zm-2 1zm0 1zm14 0zm29-22zm-2 2zm-15 1zm17 0zm-17 2zm10 6zm1 0zm1 1zm-10 10zm9 0zm11-21zm6 0zm2 0zm4 0zm-9 4zm1 4zm-11 17zm-9 2zm0 3zm-6 3zm17 2zm-11 3zm-8 1zm-23-15zm14 2zm-8 4zm2 0zm2 2zm5 0zm2 2zm-1 7zm-7 1zm-10 4zm-19-21zm6 0zm8 0zm-6 2zm1 1zm-14 1zm6 0zm17 0zm-11 1zm-10 2zm19 4zm-12 1zm2 0zm3 0zm-12 3zm13 3zm-11 1zm-18-20zm13 1zm-2 1zm-12 1zm-3 1zm-1 1zm18 0zm-11 1zm2 0zm-12 1zm13 2zm5 4zm-11 1zm0 2zm0 1zm0 3zm-30-19zm6 4zm-6 3zm18 0zm-3 1zm-10 2zm15 0zm-22 2zm-1 2zm2 1zm1 6zm-19-22zm10 2zm-8 1zm5 0zm8 0zm-19 2zm16 0zm-5 3zm-13 1zm2 2zm0 3zm12 8zm-26-21zm6 0zm-4 2zm1 0zm-7 6zm-7 1zm14 0zm-16 1zm8 0zm-2 4zm13 0zm-19 6zm13 1zm-26-8zm9 1zm-19 7zm-22-17zm4 6zm-20-9zm-4 2zm-7 5zm6 1zm12 0zm-11 4zm-4 3zm-7-16zm-16 7zm5 14zm-32-18zm12 4zm6 0zm-8 5zm-7 4zm-13-8zm3 7zm-9 6zm-19-13zm-10 10zm-8-16zm-7 5zm-15-2zm-2 3zm-13 7zm5 0zm0 1zm-30-15zm0 9zm11 3zm-24 7zm-45-4zm-52 10zm74 11zm7 5zm31-18zm34-1zm21 19zm1 3zm27-22zm8 12zm2 8zm17 0zm11-10zm1 2zm-4 2zm30-9zm5 1zm-17 8zm11 0zm-11 4zm5 0zm9 1zm14-16zm7 2zm5 9zm17-11zm10 10zm-20 1zm11 1zm0 3zm25-19zm-10 7zm21 2zm-14 12zm27-16zm8 2zm3 2zm-11 1zm6 6zm4 1zm-12 3zm-2 2zm30-19zm6 0zm-7 2zm4 2zm5 1zm-13 1zm-6 5zm19 3zm-4 3zm-8 1zm8 2zm17-19zm-4 2zm-5 2zm19 1zm-6 3zm-6 1zm-7 3zm20 0zm-16 3zm11 1zm2 1zm12-21zm12 0zm-19 5zm10 1zm-6 2zm7 0zm-10 5zm3 1zm-2 3zm19 1zm0 1zm6-18zm1 5zm5 0zm-2 2zm5 4zm-10 1zm21 1zm-10 2zm-9 7zm14 0zm11-23zm17 0zm-3 3zm-9 1zm9 0zm-18 2zm12 1zm-13 3zm-11 35zm-13 1zm-10-22zm-9 4zm-5 1zm10 0zm10 0zm1 4zm-10 1zm4 0zm-4 4zm8 5zm4 2zm-25-18zm-13 3zm10 2zm-12 2zm6 0zm-13 5zm0 6zm4 0zm3 0zm-23-21zm-5 7zm9 4zm11 4zm-2 4zm-18 1zm8 1zm-11 2zm-16-22zm6 0zm5 2zm-18 18zm9 1zm6 0zm-24-22zm4 0zm-1 2zm-2 5zm0 1zm-5 7zm0 2zm-22-4zm6 5zm-38 1zm2 0zm-28-8zm2 2zm10 7zm-35-8zm8 6zm-44 5zm6 0zm-44-23zm13 4zm-18 6zm-17 10zm-61 14zm-1 8zm90-18zm-1 1zm1 11zm31-12zm21 4zm-1 10zm56-12zm-2 1zm-1 6zm-17 2zm27-10zm3 0zm4 0zm-8 1zm1 1zm5 18zm39-16zm18-5zm-13 3zm8 4zm6 4zm-2 4zm-15 1zm0 4zm19 3zm10-22zm16 0zm-20 2zm20 4zm-14 15zm-8 1zm26-20zm6 1zm-1 2zm10 4zm-6 5zm-4 2zm1 2zm1 0zm21-17zm8 3zm5 3zm4 4zm-12 1zm31-5zm-11 2zm16 2zm-7 1zm-14 7zm-15 6zm4 4zm-11 1zm10 6zm-38-4zm9 8zm-10-15zm-7 5zm4 3zm-9 2zm-7 4zm7 6zm-31-21zm7 5zm7 2zm-28-8zm-6 5zm5 8zm-36-2zm-14-11zm-4 11zm4 7zm-22-13zm-28-5zm-9 11zm9 10zm-19-10zm-29 0zm12 3zm-80-9zm-34 0zm-4 10zm156 15zm22-6zm15 21zm35-20zm6 17zm42-17zm9 5zm-4 5zm24-2zm24-6zm8 4zm-74 27zm-37 12zm-159 4zm171 41zm23 27zm-63 11z"/>
<path stroke="#b5821f" d="M380 174zm97 19zm38 20zm-25 19zm-38-3zm-120-2zm-16 6zm17 22zm26-14zm48 8zm-1 9zm-4 4zm19-3zm10 2zm5-12zm19 5zm-7 7zm17-16zm-7 15zm42-3zm6-3zm26-6zm0 34zm-22-1zm-43-8zm8 8zm-26-16zm-1 22zm-27-23zm-13 15zm-5 2zm-3 6zm-19-11zm-15 1zm1 2zm7 2zm7 3zm-1 3zm-23-17zm-13 14zm-18-8zm-15 8zm-48 26zm9-15zm21 3zm10 3zm5 7zm41-9zm-2 12zm27-19zm-1 15zm30-14zm-8 7zm22-11zm7 0zm-12 2zm-2 1zm14 10zm-8 1zm14 2zm-16 2zm0 4zm22-4zm5 2zm7 1zm6 0zm1 0zm3-14zm17 5zm-4 10zm12-1zm29-9zm-8 9zm11 10zm3 3zm-32-3zm-20-7zm9 2zm-6 2zm5 2zm4 2zm-10 2zm-1 6zm-20-14zm-12 10zm13 0zm-9 2zm13 4zm-44-16zm14 4zm3 1zm-16 5zm-24-8zm1 1zm-1 3zm14 2zm-32-9zm9 11zm2 3zm-24-14zm-13 20zm-23-22zm8 0zm-9 14zm-27 1zm6 5zm-24-5zm4 5zm-40-14zm15 19zm7 10zm5 0zm-2 4zm-21 2zm47-2zm-3 4zm2 0zm24-8zm-2 9zm12-13zm0 1zm2 2zm-8 5zm35-11zm8 3zm-14 10zm2 1zm-5 5zm29-20zm-8 1zm22 1zm-1 3zm-19 5zm2 0zm14 1zm-1 1zm3 1zm-17 2zm-1 1zm8 1zm2 0zm2 3zm26-22zm2 0zm-3 3zm7 0zm-12 1zm-6 7zm13 2zm-15 6zm20 0zm-17 1zm-5 1zm37-22zm-6 4zm-4 1zm15 0zm3 1zm-3 4zm1 2zm-12 1zm2 8zm3 0zm6 0zm-6 2zm22-17zm0 1zm-7 2zm6 5zm6 8zm20-20zm-3 4zm2 0zm-4 1zm4 1zm7 3zm-11 4zm15 0zm-21 2zm25-16zm8 0zm4 4zm4 4zm23-9zm43 22zm17-6zm-14 9zm-60 16zm-37-11zm-14 3zm14 0zm8 1zm-22 9zm-6-18zm-17 9zm19 4zm-31-13zm4 6zm4 4zm-17 1zm-2 1zm2 2zm16 5zm-17 2zm8 1zm-18-20zm2 0zm-1 1zm-11 3zm2 0zm14 2zm-15 3zm0 1zm11 0zm4 1zm-38-13zm-9 2zm2 0zm19 1zm-1 3zm-16 2zm9 1zm-13 5zm10 0zm-3 1zm14 5zm-41-21zm-1 6zm18 1zm-19 1zm2 2zm19 3zm-18 1zm5 2zm13 1zm-15 4zm-22-18zm-2 4zm7 1zm2 4zm0 1zm5 8zm-37-21zm-6 9zm19 1zm-35-1zm11 2zm-18 9zm1 2zm-16-22zm2 14zm0 2zm-13 2zm14 2zm-36-16zm18 8zm-8 1zm-7 9zm-12-5zm-28-13zm18 20zm5 10zm29-9zm2 7zm-8 6zm26-9zm-9 2zm-1 3zm10 3zm4 4zm-5 2zm7 1zm12-15zm9 4zm4 3zm-21 3zm4 2zm-5 2zm37-17zm-1 1zm1 0zm-10 1zm11 0zm-9 1zm5 3zm-10 1zm19 0zm-5 1zm0 1zm1 7zm-2 5zm15-22zm-3 1zm19 1zm0 2zm1 4zm1 1zm-14 6zm6 1zm-13 6zm8 0zm6 0zm21-19zm8 3zm-6 2zm-12 2zm0 5zm21 0zm-2 3zm-19 3zm43-22zm-10 5zm-4 2zm12 0zm-17 1zm8 2zm-10 4zm11 0zm11 0zm9-10zm-7 1zm8 2zm11 3zm-7 1zm-11 4zm9 1zm-4 1zm7 4zm23-15zm8 3zm-18 1zm7 0zm1 0zm-6 2zm17 10zm-4 1zm12-23zm6 5zm-7 11zm11 0zm-14 1zm20 0zm-18 4zm17 1zm26-22zm-20 23zm49-8zm67 17zm-27 12zm-32-16zm-21 8zm-3 6zm-34-15zm-7 1zm-20 1zm-20 2zm18 0zm-10 7zm2 3zm-4 6zm-31-22zm16 0zm-6 3zm3 0zm3 1zm-17 11zm8 1zm-8 3zm-6-20zm-2 1zm6 5zm-15 8zm14 0zm-6 4zm-11 2zm-1 3zm-20-20zm1 1zm3 0zm-8 4zm7 0zm13 2zm-11 1zm-9 2zm-1 2zm16 2zm-3 1zm-9 3zm12 0zm-17 1zm-1 1zm-15-20zm11 2zm-17 6zm15 1zm2 4zm-18 4zm13 2zm-18-21zm-19 2zm21 2zm-3 3zm3 1zm-16 1zm10 1zm-5 1zm-12 1zm15 0zm-5 2zm-1 1zm-5 1zm8 0zm-11 4zm5 1zm4 0zm-30-22zm1 1zm5 1zm-2 1zm0 2zm-7 1zm15 0zm-9 3zm15 1zm-14 3zm1 0zm13 1zm-8 1zm1 0zm-12 2zm15 0zm-13 1zm9 0zm9 0zm-18 1zm-3 1zm4 2zm1 0zm6 0zm-28-21zm-7 7zm8 0zm-2 1zm5 0zm-8 1zm17 0zm-13 2zm4 1zm4 0zm-13 1zm13 0zm6 0zm-23 1zm1 1zm4 0zm-1 2zm10 1zm-13 2zm13 0zm-9 1zm1 0zm-4 1zm10 0zm-18-17zm-14 3zm7 0zm10 9zm2 0zm-5 2zm5 1zm-28-8zm4 0zm-11 8zm-20-18zm19 35zm5 8zm24-22zm-8 2zm6 1zm9 0zm-17 2zm15 1zm-11 2zm-8 1zm-2 2zm19 0zm-3 1zm0 4zm-2 1zm3 1zm5 0zm-9 1zm10 0zm-18 1zm2 1zm8 1zm-11 1zm25-23zm5 0zm8 0zm-3 1zm2 0zm3 2zm-17 1zm3 0zm5 0zm7 0zm5 1zm-17 2zm1 0zm12 0zm-15 1zm8 0zm4 0zm-10 1zm6 0zm8 0zm1 0zm-8 3zm5 0zm-8 1zm4 0zm-2 1zm-1 1zm-4 1zm5 0zm1 0zm-12 1zm16 1zm-14 1zm1 0zm18 0zm-15 1zm16 0zm-5 1zm2 0zm-4 1zm1 1zm1 0zm4 0zm3-23zm2 1zm13 0zm-14 2zm3 0zm4 0zm9 0zm-7 1zm-4 1zm11 0zm-16 2zm21 0zm-19 1zm3 0zm11 0zm-18 1zm9 1zm6 0zm6 0zm-20 2zm16 0zm4 0zm-17 1zm18 0zm-2 2zm-6 1zm2 0zm-9 1zm7 0zm7 1zm-11 1zm-4 2zm1 1zm8 0zm3 0zm4 0zm-4 1zm26-23zm-11 1zm13 0zm-20 1zm3 0zm10 0zm-12 2zm6 0zm0 1zm7 0zm3 1zm-6 2zm-13 2zm3 0zm7 0zm9 0zm-18 1zm13 2zm-3 1zm2 1zm-12 3zm6 0zm9 0zm-10 1zm14 0zm-18 1zm1 0zm2 0zm10 0zm-11 1zm3 0zm-4 1zm9 0zm-11 1zm45-20zm-7 4zm-13 2zm9 1zm0 1zm11 0zm-14 4zm3 0zm-6 2zm11 1zm7 0zm-15 1zm9 0zm2 3zm17-20zm-1 3zm4 5zm-9 4zm8 3zm5 3zm-11 1zm13 1zm1 1zm22-23zm-5 5zm-15 7zm14 1zm5 0zm-13 3zm0 1zm9 2zm-8 1zm10 1zm22-14zm-6 6zm9 0zm-6 3zm-3 5zm-8 1zm46-21zm-19 10zm9 5zm16-14zm18 0zm-8 4zm-6 6zm-3 3zm15 2zm7-12zm8 1zm14 0zm-22 21zm-3 8zm11 6zm-19-9zm0 12zm-32-12zm-7 2zm11 2zm-3 9zm-3 2zm-29-20zm13 0zm-4 6zm1 1zm2 4zm2 0zm-14 1zm19 3zm-10 2zm-3 2zm5 0zm-5 1zm-29-22zm8 0zm11 0zm-11 2zm1 3zm0 1zm6 6zm-17 1zm18 2zm-17 3zm14 1zm-16 3zm-8-20zm-6 1zm2 0zm-3 2zm-6 1zm7 2zm6 1zm0 1zm-15 1zm13 1zm-13 2zm14 0zm-5 1zm10 1zm1 0zm-17 1zm5 0zm5 2zm-6 1zm14 1zm-29-21zm-17 2zm6 0zm16 0zm-14 2zm12 1zm3 1zm-23 2zm10 1zm10 0zm-10 2zm-1 1zm12 0zm-13 1zm10 3zm-12 1zm4 0zm0 1zm-7 1zm12 0zm3 3zm-34-23zm2 1zm10 2zm-12 1zm8 0zm-16 1zm2 0zm8 0zm-9 2zm4 0zm-1 1zm9 0zm2 0zm-3 2zm7 0zm-12 1zm3 0zm6 0zm-15 1zm1 2zm1 2zm9 1zm4 1zm7 0zm-18 1zm14 0zm4 0zm-3 1zm-15 1zm7 0zm5 1zm-36-22zm-3 1zm-1 1zm1 0zm8 1zm6 0zm-13 2zm4 0zm11 0zm4 0zm1 0zm-21 1zm4 0zm2 0zm5 0zm4 1zm6 0zm-3 1zm-20 1zm23 0zm-13 1zm3 1zm1 0zm-11 2zm9 0zm-12 2zm13 0zm0 1zm9 0zm-14 1zm-2 1zm1 0zm2 0zm3 0zm-4 1zm1 0zm0 1zm0 1zm9 0zm-11 1zm-7 1zm1 0zm-16-22zm11 0zm-5 2zm6 2zm-4 1zm-10 2zm12 0zm1 0zm1 1zm-20 2zm0 1zm8 2zm0 1zm3 0zm-10 2zm15 1zm-1 1zm5 1zm-20 3zm-19-19zm6 0zm11 2zm-6 1zm2 2zm-2 1zm-4 2zm1 1zm1 5zm0 1zm8 1zm-14 3zm9 6zm0 5zm3 3zm-1 5zm6-17zm7 2zm2 0zm6 1zm-17 3zm10 0zm12 0zm-22 2zm20 1zm-9 1zm6 0zm-7 2zm13 0zm-14 1zm6 0zm2 0zm-16 3zm7 1zm13 2zm-8 1zm20-18zm5 0zm7 0zm-18 1zm12 0zm8 2zm-9 2zm9 0zm-2 1zm-10 1zm3 0zm-12 1zm16 0zm-6 1zm2 0zm1 0zm7 0zm-9 1zm4 0zm1 1zm1 1zm3 1zm1 0zm-5 2zm-15 4zm18 0zm-5 1zm11-23zm3 0zm2 0zm-7 1zm3 0zm13 0zm1 0zm-13 1zm12 0zm-10 1zm5 1zm4 0zm-4 3zm-12 1zm15 0zm1 0zm-16 1zm17 0zm2 0zm-10 1zm-4 1zm17 0zm-2 1zm1 0zm-18 1zm2 0zm13 0zm-10 1zm6 1zm-10 1zm3 0zm13 0zm2 0zm-1 1zm-8 1zm-4 1zm-7 1zm6 0zm1 0zm-8 1zm12 0zm2 0zm3 1zm1 0zm5-22zm23 1zm-3 1zm-5 2zm4 0zm-11 1zm1 0zm6 0zm6 2zm-20 1zm8 0zm9 1zm-12 1zm2 0zm3 1zm5 0zm-15 1zm3 0zm10 0zm-4 1zm4 0zm-12 1zm4 0zm16 0zm-22 1zm12 0zm3 0zm-8 1zm6 0zm4 1zm-6 2zm-11 1zm10 0zm1 0zm12 0zm-17 2zm3 0zm9 0zm-16 1zm6 0zm2 0zm22-23zm10 1zm-14 2zm15 1zm-11 3zm6 0zm-4 1zm11 0zm-11 2zm4 0zm3 1zm-8 1zm3 4zm-6 1zm8 2zm4 0zm4 0zm-7 1zm3 1zm-4 2zm15-23zm-4 2zm15 1zm7 2zm-17 2zm16 0zm1 2zm-16 4zm11 1zm2 0zm-11 3zm-5 2zm3 0zm6 0zm2 1zm-14 2zm1 0zm6 1zm32-11zm-14 2zm1 0zm11 0zm4 1zm3 2zm-16 1zm6 1zm2 1zm-11 3zm30-19zm6 0zm2 1zm-15 5zm13 4zm-4 4zm1 1zm21-12zm3 6zm25-7zm-2 17zm11 1zm-15 13zm-30-10zm7 1zm3 8zm10 2zm-16 9zm-23-16zm11 1zm-6 5zm1 3zm-6 7zm-9-23zm-3 3zm-16 1zm3 3zm5 3zm-1 2zm-3 2zm5 0zm-10 1zm1 0zm14 0zm6 1zm-8 2zm-7 2zm6 0zm9 0zm2 1zm-44-19zm2 0zm6 1zm-6 1zm2 2zm-7 1zm3 0zm4 0zm13 0zm-18 1zm16 2zm3 0zm-17 2zm2 0zm2 0zm8 0zm-16 1zm0 1zm14 1zm-10 3zm2 2zm6 0zm9 0zm1 0zm1 0zm-13 1zm2 0zm4 0zm1 1zm-39-22zm9 1zm5 0zm-9 2zm2 0zm-2 1zm-6 1zm8 0zm2 0zm-5 1zm0 1zm13 1zm1 2zm-19 1zm17 0zm5 1zm-23 1zm8 0zm-4 1zm15 0zm-12 1zm-7 1zm1 0zm1 0zm7 0zm4 0zm8 0zm-12 1zm-7 1zm17 0zm-3 1zm3 0zm-16 1zm11 0zm-9 1zm3 1zm12 0zm-18 1zm15 0zm1 0zm-20-22zm-18 1zm8 2zm0 1zm3 0zm3 0zm-17 1zm1 0zm9 0zm1 0zm9 0zm-18 1zm13 0zm3 0zm-6 1zm2 1zm6 0zm-14 1zm3 0zm6 0zm4 0zm1 0zm-10 1zm3 0zm-9 1zm2 0zm6 0zm-12 1zm8 0zm2 1zm-4 1zm8 0zm7 0zm-17 1zm4 0zm14 0zm-11 2zm8 0zm-13 1zm6 0zm4 0zm-9 1zm2 0zm2 0zm10 0zm1 0zm-12 1zm5 0zm4 0zm1 0zm1 0zm-21 1zm10 0zm5 0zm-14 1zm4 0zm-25-23zm1 0zm7 0zm-3 1zm12 0zm-17 1zm8 0zm3 1zm-3 1zm-8 1zm8 0zm8 0zm-17 1zm2 0zm3 1zm-6 1zm3 0zm1 0zm-1 1zm16 0zm-7 1zm-11 1zm5 0zm3 0zm8 0zm-8 1zm3 0zm0 1zm-8 1zm7 0zm1 0zm5 0zm-13 1zm-4 1zm2 0zm6 0zm12 0zm-15 1zm13 1zm-9 1zm2 0zm3 0zm-5 2zm2 1zm1 1zm3 0zm2 0zm-36-21zm4 1zm2 0zm-6 2zm2 0zm11 0zm2 0zm-15 1zm13 0zm-3 1zm5 0zm-22 1zm11 1zm-4 2zm10 1zm-15 1zm-2 1zm19 1zm-3 1zm-3 2zm8 0zm-4 1zm2 0zm-19 1zm19 1zm-1 1zm2 1zm-34-23zm-7 4zm12 3zm5 2zm-15 3zm12 5zm0 5zm1 8zm10-6zm2 0zm9 0zm-6 5zm10 0zm3 2zm0 6zm-19 2zm16 2zm-6 3zm7 1zm-12 1zm-9 1zm34-23zm12 0zm1 0zm-2 1zm1 1zm-16 1zm4 0zm1 0zm2 0zm0 1zm-5 1zm4 0zm7 0zm-10 1zm10 0zm1 0zm0 1zm2 0zm-16 1zm11 0zm2 0zm1 0zm-5 3zm7 0zm-3 1zm-15 1zm4 0zm7 0zm3 0zm4 0zm-5 1zm1 0zm-5 1zm-11 1zm4 0zm6 0zm11 0zm-20 1zm4 0zm12 0zm3 0zm1 2zm-6 1zm-8 1zm14 2zm1-23zm12 0zm-4 1zm4 0zm6 0zm2 0zm1 0zm-21 1zm5 0zm3 0zm-8 1zm18 0zm-4 1zm3 1zm2 0zm3 0zm-4 1zm1 0zm3 0zm-17 1zm4 0zm11 0zm-9 1zm2 0zm1 0zm-13 1zm2 0zm5 0zm2 0zm1 0zm3 0zm3 0zm5 0zm-21 1zm2 0zm2 0zm2 0zm1 0zm7 0zm-13 1zm3 0zm6 0zm1 0zm-9 1zm9 0zm-6 1zm7 0zm1 0zm8 0zm-20 1zm1 0zm1 0zm3 0zm3 0zm8 0zm-18 1zm19 0zm-19 1zm8 0zm3 0zm-11 1zm9 0zm2 0zm2 0zm1 0zm2 0zm-7 1zm2 0zm3 0zm3 0zm4 0zm1 0zm1 0zm-7 1zm7 0zm-22 1zm14 0zm1 0zm4 0zm-17 1zm10 0zm-3 1zm3 0zm9 0zm-20 1zm2 0zm1 0zm8 0zm9 0zm24-23zm-11 1zm6 0zm-7 1zm3 0zm5 0zm-17 1zm4 0zm3 0zm1 0zm-6 1zm5 0zm2 0zm10 0zm-17 1zm4 0zm11 0zm-15 1zm8 0zm-11 1zm10 0zm11 0zm-20 1zm9 0zm1 0zm8 0zm-14 1zm4 0zm-8 1zm6 0zm8 0zm4 0zm-12 1zm1 0zm7 1zm4 0zm1 0zm-16 1zm9 0zm7 0zm-19 1zm6 0zm-2 1zm9 0zm-14 1zm17 0zm2 0zm1 0zm1 0zm1 0zm-19 1zm1 0zm10 1zm3 0zm-16 1zm6 0zm12 0zm-8 1zm6 0zm-11 1zm1 0zm2 0zm-8 1zm3 1zm10 0zm2 0zm17-23zm0 1zm8 1zm-4 1zm3 0zm-16 1zm3 0zm4 0zm0 1zm2 1zm-5 1zm5 0zm4 0zm-9 1zm12 0zm-10 1zm1 0zm5 0zm-11 1zm6 0zm-6 1zm5 0zm5 0zm10 0zm2 0zm-12 1zm8 0zm-15 1zm1 1zm-5 1zm14 0zm3 0zm-16 1zm11 0zm10 0zm-22 2zm20 0zm-14 1zm-4 1zm3 0zm14 0zm2 0zm-19 1zm5 0zm4 0zm7 0zm-12 2zm9 0zm4 0zm10-23zm-4 5zm12 0zm6 0zm-10 1zm-2 4zm3 0zm1 0zm-10 2zm4 0zm9 1zm5 0zm1 0zm-19 2zm1 0zm8 1zm1 0zm3 0zm9 0zm-12 2zm8 1zm-12 2zm9 2zm13-23zm-3 1zm0 5zm0 1zm4 2zm-1 2zm9 0zm-7 1zm10 0zm4 2zm-4 2zm4 0zm-3 1zm-3 3zm7 0zm14-20zm-6 10zm12 0zm-9 6zm-3 6zm5 1zm34-20zm0 2zm-13 11zm-4 3zm31-19zm0 19zm15 18zm-18-1zm0 2zm-21-14zm-5 1zm13 4zm-12 2zm0 7zm3 0zm5 1zm2 0zm-5 7zm-25-21zm7 1zm-16 4zm1 3zm8 0zm-10 2zm17 0zm-1 3zm-17 4zm14 2zm4 3zm-42-23zm5 1zm1 1zm7 0zm7 1zm-16 2zm-4 2zm3 0zm2 3zm10 0zm4 0zm-4 1zm5 0zm-10 2zm13 5zm-15 2zm-3 1zm2 1zm-28-22zm7 1zm6 0zm-9 2zm-2 1zm-1 2zm3 0zm2 0zm1 0zm7 0zm2 1zm-18 3zm1 0zm13 0zm6 0zm-16 1zm0 2zm-2 4zm17 0zm3 1zm-23 1zm6 0zm-6 1zm14 2zm-13 1zm5 0zm1 0zm7 0zm2 0zm2 0zm-37-23zm2 0zm6 0zm1 0zm4 0zm-1 1zm5 0zm-22 1zm6 0zm7 0zm3 0zm-5 1zm1 0zm-11 2zm7 0zm15 0zm-21 1zm5 0zm8 0zm5 0zm-16 1zm7 0zm-2 1zm4 0zm-7 1zm14 0zm-20 1zm11 0zm-6 1zm7 0zm6 0zm-14 1zm6 0zm6 0zm6 0zm-21 1zm1 0zm2 0zm4 0zm1 0zm9 0zm-18 1zm4 0zm6 0zm2 0zm-12 1zm4 0zm2 0zm1 0zm9 0zm3 0zm2 0zm2 0zm-20 1zm6 0zm2 0zm7 0zm4 0zm1 0zm-2 1zm-16 1zm4 0zm3 0zm1 0zm2 0zm3 0zm-3 1zm-13 1zm5 0zm11 0zm4 0zm-14 1zm1 0zm1 0zm-9 1zm1 0zm1 0zm1 0zm1 0zm6 0zm1 0zm6 0zm-14 1zm5 0zm7 0zm6 0zm-41-23zm2 0zm-2 1zm10 0zm2 0zm2 0zm4 1zm-14 1zm-6 1zm3 0zm16 0zm-14 1zm3 0zm3 0zm2 0zm3 0zm1 0zm3 0zm-22 1zm13 0zm6 0zm-20 1zm3 0zm4 0zm1 0zm15 0zm-22 1zm7 0zm9 0zm-15 1zm4 0zm1 0zm5 0zm8 0zm3 0zm-21 1zm2 0zm10 0zm3 0zm1 0zm-17 1zm17 0zm4 0zm-22 1zm6 0zm5 0zm7 0zm-13 1zm2 1zm10 0zm2 0zm-13 1zm5 0zm9 0zm-20 1zm12 0zm1 0zm1 0zm1 0zm7 0zm-20 1zm3 0zm13 0zm-10 1zm10 0zm3 0zm-10 1zm1 0zm4 0zm-16 1zm1 0zm1 0zm4 0zm6 0zm1 0zm2 0zm7 0zm-16 1zm1 0zm1 0zm15 0zm-8 1zm-12 1zm2 0zm8 0zm1 0zm-35-23zm8 0zm4 0zm2 0zm2 0zm-7 1zm5 0zm-3 1zm9 0zm-17 1zm8 0zm8 0zm-20 1zm10 0zm-2 1zm6 0zm-8 2zm6 0zm-11 1zm-2 1zm8 0zm7 0zm3 0zm-15 1zm1 0zm10 0zm3 1zm1 0zm-4 1zm3 0zm2 0zm-17 1zm2 1zm9 0zm1 0zm4 0zm2 0zm-10 1zm4 0zm-6 1zm1 1zm1 0zm-9 1zm10 0zm6 0zm-12 1zm16 0zm-19 1zm4 0zm4 0zm-2 1zm12 0zm-6 1zm-13 1zm7 0zm1 0zm1 0zm-25-23zm11 1zm-16 2zm6 0zm9 0zm-16 1zm7 0zm5 3zm3 0zm-6 1zm-3 1zm6 0zm-4 1zm0 1zm1 1zm1 0zm6 0zm-1 1zm-14 1zm14 0zm-4 3zm1 0zm5 0zm1 0zm-17 1zm1 1zm13 0zm3 0zm-13 1zm-3 1zm12 0zm-6 1zm-9 1zm-6-23zm-19 3zm6 0zm8 0zm-12 1zm10 5zm1 2zm-2 5zm-5 2zm12 3zm0 2zm0 8zm0 6zm-3 3zm6 3zm-4 3zm21-22zm1 0zm4 1zm-9 2zm5 0zm5 0zm-18 1zm16 0zm-7 1zm2 0zm-11 1zm5 2zm8 1zm3 2zm-4 1zm1 1zm-1 2zm2 0zm3 1zm-11 1zm11 0zm-5 1zm4 4zm4-22zm9 0zm10 0zm-13 1zm4 0zm6 0zm1 1zm-3 3zm7 0zm1 0zm-10 1zm1 0zm4 1zm-10 1zm4 0zm5 0zm-10 1zm1 0zm14 0zm-20 1zm9 0zm11 1zm-11 1zm12 0zm-20 1zm9 0zm4 0zm4 1zm-6 1zm5 0zm3 0zm-21 1zm11 0zm3 0zm2 0zm-5 1zm0 1zm10 0zm-19 1zm1 0zm1 0zm11 0zm2 0zm5 0zm-19 2zm12 0zm-2 1zm7 0zm3 0zm-12 1zm14-23zm3 0zm12 0zm4 0zm2 0zm-17 1zm10 0zm2 0zm2 0zm-6 1zm-7 1zm8 0zm7 0zm-21 1zm6 0zm3 0zm3 0zm-12 1zm1 0zm2 0zm1 0zm6 0zm7 0zm2 0zm2 1zm-21 1zm1 0zm11 0zm1 0zm4 0zm-14 1zm4 0zm6 0zm2 0zm-15 1zm3 0zm1 0zm5 0zm-2 1zm7 0zm1 0zm1 0zm-11 1zm8 0zm3 0zm5 0zm-17 1zm2 1zm13 0zm-17 1zm12 0zm3 0zm4 0zm-18 1zm12 0zm-13 1zm3 0zm1 0zm1 0zm1 0zm1 0zm1 0zm3 0zm1 0zm2 0zm1 0zm1 0zm1 0zm-11 1zm3 0zm-11 1zm1 0zm1 0zm12 0zm1 0zm2 0zm2 0zm4 0zm-12 1zm8 0zm2 0zm-11 1zm9 0zm-18 1zm5 1zm1 0zm10 0zm-17 1zm44-23zm1 0zm-16 1zm3 0zm6 0zm-13 1zm6 0zm-7 1zm2 0zm3 0zm4 0zm2 0zm2 0zm4 0zm-2 1zm4 0zm3 0zm-20 1zm5 0zm12 0zm-14 1zm2 0zm7 0zm7 0zm1 0zm-19 1zm5 0zm-1 1zm2 0zm3 0zm5 0zm1 0zm2 0zm-15 1zm6 0zm1 0zm2 1zm3 0zm6 0zm-21 1zm2 0zm7 0zm4 0zm2 0zm-6 1zm-11 1zm2 0zm-1 1zm2 0zm1 0zm12 0zm-14 1zm6 0zm6 0zm-14 1zm3 0zm2 0zm2 0zm13 0zm-14 1zm6 0zm3 0zm7 0zm1 0zm-22 1zm1 0zm16 0zm-17 1zm13 0zm9 0zm-11 1zm9 0zm-13 1zm2 0zm9 0zm-16 2zm18 0zm2 0zm2-23zm4 0zm6 0zm-11 1zm19 0zm4 0zm-9 1zm-2 1zm-8 1zm-2 1zm10 0zm7 0zm2 0zm-12 1zm-9 1zm20 0zm-13 1zm6 0zm-11 1zm2 0zm6 0zm2 0zm-10 1zm10 2zm-7 2zm11 0zm-3 1zm2 1zm4 0zm1 0zm3 0zm-22 2zm3 1zm11 0zm2 0zm-17 1zm10 0zm7 0zm4 0zm2 0zm-23 1zm0 1zm3 0zm-3 1zm7 0zm2 0zm8 0zm5 0zm6-23zm9 2zm-13 1zm0 1zm5 2zm3 0zm-6 1zm11 0zm5 1zm-13 2zm2 2zm10 0zm-12 1zm1 3zm11 2zm1 0zm-17 3zm2 0zm1 0zm3 0zm-3 2zm25-21zm-3 2zm16 0zm2 3zm-8 2zm9 0zm-19 1zm10 0zm4 1zm-8 2zm12 1zm-19 1zm9 0zm-8 1zm13 3zm-6 1zm-9 1zm23 1zm-12 1zm4 0zm15-23zm3 7zm-9 1zm10 0zm8 1zm-9 3zm2 0zm-11 1zm4 0zm-4 6zm1 0zm18 4zm13-19zm-6 4zm3 4zm-4 1zm12 8zm19-18zm-6 2zm4 2zm1 3zm-1 3zm20 1zm20 12zm-22 11zm7 9zm-27-17zm4 0zm13 4zm-29 0zm-12 3zm16 3zm-5 1zm1 5zm-3 2zm-32-18zm12 0zm-10 4zm5 2zm4 10zm7 1zm-46-22zm1 0zm-1 4zm9 2zm7 0zm-14 6zm0 1zm3 1zm-4 1zm0 1zm-2 5zm11 2zm-35-22zm9 1zm-2 1zm2 0zm-6 1zm2 1zm3 0zm-8 1zm3 0zm13 0zm-13 2zm12 1zm-14 1zm1 0zm14 0zm1 0zm4 1zm-21 1zm20 0zm3 0zm-4 1zm4 0zm-21 3zm1 0zm5 1zm5 0zm10 0zm-3 1zm-2 1zm-17 1zm20 1zm-20 1zm1 0zm3 0zm9 1zm-19-23zm-2 1zm-12 1zm12 0zm4 0zm-14 1zm5 0zm1 0zm3 0zm4 0zm-20 3zm1 0zm14 0zm1 0zm2 0zm-17 1zm6 0zm-3 1zm16 0zm2 0zm-19 1zm8 0zm-7 1zm8 1zm3 0zm-11 1zm8 1zm2 0zm-14 1zm3 0zm0 1zm6 0zm1 2zm2 0zm2 0zm-14 1zm2 0zm1 0zm2 0zm3 0zm-7 1zm15 0zm5 4zm-32-23zm2 0zm-14 1zm7 1zm4 0zm5 0zm-6 1zm0 1zm-5 1zm3 0zm1 0zm4 0zm-7 1zm4 0zm0 1zm6 0zm-9 1zm7 0zm-5 1zm-4 1zm15 0zm-17 1zm5 0zm4 0zm-1 1zm4 0zm1 0zm2 0zm4 0zm-23 2zm6 0zm2 0zm3 0zm-11 1zm7 0zm4 0zm11 0zm-21 1zm17 1zm5 0zm-21 1zm9 0zm7 1zm5 0zm-21 1zm7 0zm13 0zm-14 1zm-4 1zm13 0zm2 0zm-17 1zm6 0zm15 0zm-41-23zm4 0zm3 0zm2 0zm1 0zm-5 1zm3 0zm-12 1zm1 0zm3 0zm3 0zm10 0zm-14 1zm7 1zm8 0zm-9 1zm-8 1zm12 1zm-15 1zm8 0zm4 0zm4 1zm-12 2zm4 0zm1 0zm12 0zm-14 1zm7 0zm2 0zm6 0zm-10 1zm3 0zm-12 1zm17 0zm3 0zm-15 1zm6 0zm9 1zm-18 1zm2 0zm4 1zm10 0zm-8 1zm-5 1zm8 0zm5 0zm-7 2zm6 1zm2 0zm-31-22zm5 0zm-11 1zm7 0zm4 0zm1 0zm-11 1zm3 0zm7 0zm-15 2zm4 0zm-3 2zm4 0zm8 2zm5 0zm-7 1zm2 0zm-3 1zm5 0zm-20 1zm17 0zm3 0zm-20 1zm15 0zm5 2zm-20 3zm17 1zm-4 1zm7 0zm-8 1zm-12 2zm7 0zm-13-22zm-4 5zm-8 1zm12 3zm-4 2zm-6 3zm-2 5zm17 3zm-13 1zm9 18zm4 5zm21-22zm-6 1zm4 0zm-18 1zm6 1zm3 0zm-8 1zm10 0zm7 1zm3 0zm2 1zm-11 1zm-12 1zm19 1zm-6 10zm19-20zm8 0zm1 0zm-8 1zm12 0zm-3 2zm-11 1zm12 1zm-9 1zm1 0zm3 0zm5 0zm-15 1zm6 0zm8 0zm-11 3zm3 0zm0 1zm-6 2zm1 0zm10 0zm-3 1zm-7 2zm2 0zm9 0zm-16 1zm7 0zm14 0zm1 1zm-7 1zm3 0zm-3 1zm3 2zm5 0zm-23 1zm28-23zm4 0zm3 0zm5 0zm2 0zm2 0zm-19 1zm14 0zm-14 1zm16 0zm1 0zm4 0zm-13 1zm7 0zm-11 1zm8 1zm1 0zm1 0zm2 0zm4 0zm-7 1zm-13 1zm6 0zm13 0zm3 0zm-7 1zm1 0zm-15 1zm14 0zm7 1zm-16 1zm1 1zm11 0zm-16 1zm10 0zm7 0zm0 1zm-15 1zm7 0zm11 0zm-20 2zm7 0zm9 2zm-16 2zm7 0zm-5 1zm1 0zm3 0zm2 0zm-7 1zm9 0zm13-23zm12 0zm-13 2zm11 0zm3 0zm-14 1zm4 0zm15 0zm1 0zm-15 1zm9 1zm-8 1zm7 0zm-8 1zm6 1zm-12 2zm11 1zm1 0zm2 0zm5 0zm2 0zm-5 1zm-3 1zm6 0zm-19 1zm11 0zm6 0zm-11 1zm5 0zm-9 1zm15 0zm3 0zm-14 1zm16 0zm-12 1zm9 1zm-17 1zm20 0zm-11 1zm1 1zm-11 1zm13 0zm8 0zm20-23zm-10 2zm8 0zm-16 1zm0 1zm11 1zm-2 1zm10 0zm-2 1zm-10 1zm-1 1zm9 0zm-14 2zm1 2zm-1 3zm18 0zm-15 1zm13 0zm6 0zm-11 2zm3 0zm-12 1zm-3 2zm29-21zm9 1zm9 0zm-12 2zm9 0zm-12 1zm-7 2zm6 0zm-6 2zm0 2zm2 0zm16 1zm-9 1zm-7 2zm-3 3zm0 2zm14 1zm8 2zm16-23zm-3 1zm0 1zm3 3zm9 0zm-14 2zm-5 2zm-3 5zm23-9zm0 1zm6 0zm14 4zm-20 5zm2 0zm19 0zm-17 1zm8 0zm3 1zm7 4zm9-21zm-1 5zm17 2zm-16 2zm-6 7zm9 6zm6 0zm28-12zm2 10zm16-1zm6 0zm6-4zm5 15zm-16-1zm-2 5zm-8 8zm-29-15zm3 9zm13 3zm-15 6zm-21-20zm13 9zm-17 2zm12 1zm-9 5zm6 3zm-32-21zm5 5zm10 1zm4 2zm-19 7zm6 0zm-3 1zm15 2zm-14 1zm0 1zm17 0zm-22 1zm-19-21zm8 0zm-1 1zm-8 2zm3 0zm15 0zm-20 3zm20 0zm-20 1zm17 3zm-18 4zm4 1zm10 2zm3 0zm-14 1zm2 0zm2 0zm-7 2zm19 2zm-18 1zm14 0zm7 0zm-33-23zm-12 2zm10 0zm1 0zm-4 3zm3 0zm1 0zm6 0zm4 0zm-15 3zm3 2zm-3 1zm2 0zm-8 3zm5 0zm-5 2zm5 0zm4 1zm10 1zm-14 2zm4 0zm10 1zm-38-20zm6 1zm-5 2zm5 0zm8 0zm1 0zm-14 1zm-7 2zm21 0zm-16 1zm2 0zm2 1zm5 0zm5 2zm-18 1zm6 0zm6 0zm4 0zm-18 1zm3 3zm5 0zm2 0zm8 0zm-14 1zm2 0zm16 0zm0 1zm-22 1zm5 0zm10 2zm-9 1zm2 0zm11 0zm0 1zm-43-23zm1 0zm5 0zm-6 1zm4 0zm16 0zm0 1zm-9 1zm3 0zm-13 2zm5 0zm0 1zm10 0zm-16 1zm4 0zm18 0zm-14 1zm7 0zm4 0zm0 1zm-7 1zm7 0zm-4 2zm-3 1zm-6 1zm2 0zm-7 1zm22 1zm-17 2zm17 0zm-3 1zm-13 3zm6 0zm-9 1zm5 0zm2 0zm-17-23zm3 0zm-9 2zm1 2zm5 1zm-18 1zm7 0zm10 0zm-4 2zm10 0zm-15 2zm7 0zm-14 1zm16 0zm-7 5zm12 0zm-18 2zm11 1zm-10 1zm2 1zm3 0zm1 1zm-27-22zm9 0zm-1 1zm4 0zm-17 1zm8 0zm12 0zm-1 1zm-10 7zm8 0zm2 1zm-3 1zm-14 3zm14 1zm-5 1zm-11 1zm-2 1zm12 0zm10 4zm-30-23zm6 3zm-3 4zm-18 4zm10 3zm7 3zm-6 7zm2 9zm7 3zm5-12zm4 0zm5 0zm-6 3zm-6 3zm7 5zm-6 3zm18 2zm-5 2zm9 1zm17-16zm-15 2zm19 0zm-4 1zm-15 2zm8 0zm11 7zm2 0zm-21 2zm13 6zm25-22zm-14 1zm22 0zm-23 2zm20 1zm-3 2zm0 2zm-11 1zm1 1zm2 3zm-3 1zm14 2zm7-16zm14 1zm-17 2zm13 1zm4 0zm6 0zm-20 4zm2 0zm4 0zm9 0zm2 2zm-13 1zm1 0zm6 0zm5 0zm-14 3zm9 3zm-14 4zm11 1zm19-23zm-3 2zm10 0zm2 1zm-4 2zm1 0zm3 0zm5 0zm-6 1zm7 0zm-4 2zm-2 1zm-12 2zm7 3zm1 1zm10 0zm-17 1zm18 3zm-14 1zm1 0zm1 1zm6 1zm24-22zm-1 1zm2 0zm-15 1zm4 2zm11 0zm3 0zm-9 2zm-5 1zm7 3zm-8 2zm9 0zm1 1zm-13 1zm5 1zm9 0zm-15 2zm6 1zm-6 2zm17 0zm-15 1zm6 2zm5 0zm32-21zm-20 1zm0 5zm10 2zm-4 1zm13 1zm2 0zm-18 1zm6 2zm0 1zm-4 2zm10 1zm4 1zm-21 3zm9 0zm28-22zm3 0zm-13 1zm9 2zm-1 1zm2 1zm8 0zm-19 2zm6 2zm11 2zm-12 5zm6 4zm-10 2zm34-23zm-2 14zm-8 8zm8 0zm-7 1zm32-6zm1 3zm15-13zm12 0zm-43 17zm-18 1zm20 5zm-11 1zm-10 4zm11 3zm-13 5zm-23-17zm5 0zm8 0zm5 0zm1 2zm-14 1zm5 5zm-10 1zm11 1zm1 0zm10 0zm-15 4zm15 1zm-23 2zm4 3zm18 0zm-20 1zm-25-23zm20 2zm-11 2zm2 0zm8 5zm-3 1zm-12 2zm7 1zm-1 2zm5 0zm-11 1zm4 0zm4 0zm-12 1zm8 1zm11 4zm-20 1zm12 0zm5 0zm-26-22zm1 0zm2 0zm-18 1zm16 3zm4 0zm1 2zm1 2zm-9 3zm8 1zm-4 1zm-12 1zm10 1zm-8 1zm10 0zm2 0zm-8 3zm9 0zm-12 1zm-8 1zm20 0zm-30-22zm-10 2zm4 2zm6 0zm7 0zm-12 1zm-2 1zm14 0zm-6 1zm-8 2zm-4 1zm3 2zm2 0zm8 0zm5 1zm-17 5zm-24-18zm0 1zm13 0zm-7 1zm1 0zm2 0zm7 0zm-14 2zm5 4zm7 0zm1 2zm-8 1zm5 0zm5 1zm-20 1zm22 2zm-11 2zm-11 1zm19 5zm-26-23zm-17 2zm2 0zm13 0zm2 0zm-17 1zm12 1zm3 0zm-10 1zm-6 1zm12 0zm4 0zm3 0zm-15 1zm17 0zm-18 1zm14 0zm1 0zm-9 1zm9 0zm-4 3zm8 3zm-15 8zm-12-22zm-9 2zm10 1zm-15 5zm0 1zm-4 1zm22 0zm-12 2zm6 1zm-9 4zm10 1zm-30-15zm2 0zm-1 2zm9 2zm-6 5zm29 11zm-11 1zm3 6zm5 7zm26-14zm-4 3zm2 1zm-5 1zm1 0zm-6 3zm9 10zm0 4zm22-21zm-6 3zm4 1zm7 2zm0 3zm-19 4zm22 0zm-16 2zm8 2zm-15 1zm20 0zm-1 1zm-15 2zm32-17zm-8 1zm-1 1zm17 0zm-6 1zm4 2zm5 0zm-22 2zm21 1zm-13 2zm4 2zm6 0zm-1 2zm-14 1zm28-20zm15 0zm-20 1zm17 0zm-8 1zm-2 3zm9 0zm-19 2zm13 1zm-5 3zm5 2zm-11 1zm3 3zm2 5zm5 0zm-11 1zm26-19zm1 1zm3 0zm4 0zm-2 1zm6 1zm-1 1zm1 1zm5 2zm-15 1zm4 0zm-6 11zm1 0zm14 0zm22-20zm-3 14zm9 3zm6-19zm5 2zm-7 4zm18 11zm18-11zm-9 16zm-28 6zm-9 10zm3 4zm-31-19zm5 1zm-13 3zm8 0zm-12 2zm-18-5zm15 1zm-21 15zm10 1zm2 1zm1 1zm-37-19zm17 0zm-17 1zm10 4zm-3 2zm13 2zm-38-6zm13 0zm-10 1zm-8 2zm7 0zm11 0zm-9 4zm10 13zm9 0zm10 1zm-10 2zm4 0zm0 4zm27 0zm13-5zm15 3z"/>
<path stroke="#2f2c78" d="M138 64zm1 0zm-13 2zm16 1zm-17 2zm2 0zm16 1zm-6 1zm1 0zm12-13zm11 0zm-16 2zm11 1zm-7 2zm-2 1zm-2 4zm5 0zm9 0zm-1 1zm-7 2zm32 0zm354 19zm-365-8zm3 0zm11 6zm-7 1zm-34-12zm10 0zm-2 2zm4 0zm4 0zm-14 1zm9 0zm-12 2zm9 0zm-7 1zm3 0zm16 0zm-9 2zm8 1zm-16 1zm10 0zm4 0zm-18 2zm12 0zm9 1zm-19 1zm20 0zm-22 1zm3 0zm3 0zm5 0zm2 0zm-11 2zm17 0zm-8 1zm-30-23zm4 1zm-5 3zm9 0zm10 1zm-21 2zm14 0zm4 0zm-17 1zm2 0zm6 0zm-6 1zm10 0zm-3 2zm-11 1zm0 1zm1 0zm10 1zm2 0zm2 0zm6 0zm-8 1zm-12 1zm12 2zm7 1zm2 1zm-2 1zm-6 1zm-11 1zm15 0zm-24-22zm-7 5zm-3 1zm14 0zm-16 2zm15 1zm-14 2zm-4 2zm6 0zm-8 3zm3 1zm6 0zm-3 1zm7 0zm4 0zm3 2zm-11 1zm8 1zm-29 4zm3 20zm7-22zm19 0zm-19 1zm14 6zm6 5zm-13 1zm-6 6zm8 1zm5 0zm-2 1zm3 0zm16-21zm13 0zm-9 1zm9 0zm3 0zm-11 1zm5 1zm4 0zm-19 1zm4 0zm15 0zm-10 2zm-11 1zm11 0zm6 0zm-3 1zm3 0zm4 1zm-16 2zm10 0zm5 0zm-7 1zm-9 2zm14 1zm-16 1zm20 0zm-5 2zm5 0zm-11 1zm19-20zm11 0zm-16 1zm2 0zm6 0zm14 0zm-14 2zm7 0zm-13 1zm-1 1zm3 0zm4 0zm8 0zm5 0zm-19 3zm1 0zm14 0zm-12 1zm0 1zm2 0zm-7 2zm11 0zm-12 1zm6 0zm2 1zm-8 1zm10 0zm9 0zm-15 3zm-3 2zm9 0zm7 2zm7-21zm12 0zm-7 3zm15 0zm-19 8zm11 0zm-12 1zm1 3zm2 3zm-3 1zm14 0zm-12 2zm47-18zm347 9zm-288 18zm-47 13zm-26-18zm6 8zm-3 12zm-15-22zm-15 2zm-2 4zm-3 2zm7 0zm-8 2zm11 0zm-12 1zm10 2zm-6 1zm-3 2zm8 0zm12 2zm-11 1zm8 2zm-7 2zm-36-23zm11 0zm-6 2zm14 0zm2 0zm-3 1zm-4 3zm7 1zm-11 1zm7 0zm5 1zm-8 1zm7 1zm-17 1zm7 1zm3 0zm-10 1zm12 1zm3 0zm-1 1zm-11 2zm-1 1zm3 0zm4 1zm5 0zm3 0zm-20 1zm2 0zm15 0zm-4 1zm-20-21zm-5 1zm-2 2zm-8 1zm20 0zm-23 1zm21 0zm2 0zm-12 1zm3 1zm1 0zm-7 1zm4 0zm3 0zm-12 1zm17 0zm0 1zm-3 3zm3 0zm-1 2zm-2 1zm6 0zm-8 1zm-7 1zm6 2zm7 0zm2 2zm-28-22zm-12 7zm-6 3zm3 0zm3 0zm-6 1zm8 1zm-8 3zm4 0zm-5 2zm7 1zm-4 1zm10 1zm-8 1zm1 1zm13 0zm-20-11zm-6 2zm-3 2zm5 0zm-6 1zm1 0zm2 0zm1 0zm2 0zm-10 2zm14 0zm-7 1zm2 0zm4 0zm-14 1zm5 0zm-10 1zm2 0zm5 0zm6 0zm-13 1zm2 0zm2 0zm1 0zm5 0zm1 0zm3 0zm-18 3zm-1 1zm-5 1zm-1 3zm2 0zm-3 1zm4 1zm-7 1zm3 1zm2 0zm2 4zm-2 4zm3 0zm-3 2zm6 1zm-7 1zm3 0zm6-23zm8 0zm2 0zm2 0zm-11 1zm3 0zm6 0zm2 0zm3 0zm-9 1zm6 0zm2 0zm-2 1zm2 0zm3 0zm-11 1zm12 0zm2 0zm-19 1zm3 0zm2 0zm16 0zm-19 1zm3 0zm7 0zm-8 1zm11 0zm-16 1zm2 0zm1 0zm13 0zm4 0zm1 0zm-21 1zm11 0zm3 0zm-4 1zm2 0zm1 0zm4 0zm5 0zm-22 1zm1 0zm2 0zm5 0zm3 0zm6 0zm1 0zm2 0zm2 0zm-13 1zm2 0zm1 0zm3 0zm1 0zm4 0zm-15 1zm8 0zm2 0zm2 0zm-15 1zm4 0zm3 0zm9 0zm1 0zm-16 1zm4 0zm6 0zm1 0zm1 0zm1 0zm-10 1zm3 0zm11 0zm-19 1zm3 0zm9 0zm5 0zm1 0zm2 0zm-19 1zm12 0zm3 0zm1 0zm-10 1zm3 0zm6 0zm1 0zm-7 1zm3 0zm7 0zm-22 1zm13 0zm2 0zm8 0zm-20 1zm4 0zm1 0zm5 0zm8 0zm2 1zm7-23zm10 1zm-10 1zm13 0zm-18 1zm3 0zm12 0zm-13 1zm9 1zm5 0zm-16 1zm10 0zm2 0zm4 0zm-17 1zm7 0zm-5 1zm-1 2zm15 0zm3 0zm-17 1zm7 0zm-7 1zm7 0zm7 0zm-3 1zm-9 1zm5 0zm-7 1zm1 0zm2 0zm2 0zm1 0zm1 0zm1 0zm2 0zm-11 2zm1 0zm2 0zm8 0zm6 0zm-15 1zm7 0zm10 0zm3 0zm-23 1zm4 0zm8 0zm4 0zm2 0zm-17 1zm5 0zm6 0zm6 0zm4 0zm-19 1zm11 0zm-14 1zm1 0zm4 0zm4 0zm-2 1zm4 0zm5 0zm15-22zm9 2zm-14 6zm3 0zm12 1zm-17 1zm1 1zm1 2zm1 0zm13 1zm-11 2zm-3 1zm10 2zm-3 3zm20-20zm17 0zm-12 1zm3 2zm-2 1zm8 1zm-15 1zm6 0zm-6 2zm4 0zm15 0zm-19 1zm11 0zm2 0zm5 1zm-22 1zm22 0zm-22 1zm7 0zm2 0zm4 0zm7 0zm-8 3zm0 1zm6 0zm1 0zm4 3zm-17 1zm12 0zm11-23zm4 0zm8 0zm-17 4zm11 1zm1 0zm7 0zm4 0zm-23 1zm8 2zm13 1zm-18 2zm10 1zm-9 2zm-4 2zm3 0zm5 0zm7 0zm-11 2zm5 1zm-2 1zm9 1zm11-17zm-2 3zm2 0zm-3 5zm2 1zm11 0zm-3 1zm-6 3zm7 4zm1 1zm-9 1zm23-17zm-2 6zm18 2zm35-9zm21 8zm188-5zm55 15zm68 17zm-13-6zm-27 12zm-22-21zm-26 3zm-55 11zm-165-1zm-20-5zm-3 3zm-48-3zm-5 4zm3 1zm6 0zm10 3zm1 4zm-19 1zm-24-22zm-2 2zm2 0zm9 0zm6 3zm-9 3zm-1 7zm12 0zm-12 2zm-4 1zm5 0zm-7 2zm10 1zm11 0zm-6 1zm-11 1zm5 0zm1 0zm-22-23zm2 1zm-5 1zm-10 1zm1 0zm9 1zm-1 1zm-8 1zm2 0zm13 0zm7 0zm-8 1zm7 0zm-4 1zm5 0zm-6 2zm-17 1zm1 0zm20 0zm-15 1zm4 0zm-8 1zm4 0zm-1 1zm-5 1zm20 0zm2 0zm-4 1zm-3 1zm6 0zm-11 1zm7 0zm6 1zm-21 2zm12 0zm1 0zm5 0zm-6 1zm2 1zm-40-22zm19 0zm2 0zm-1 2zm0 1zm3 1zm-16 1zm11 0zm2 0zm-17 1zm2 0zm14 2zm-10 1zm1 0zm-10 1zm20 0zm-18 1zm12 0zm-7 1zm14 0zm-12 1zm5 0zm-10 2zm18 2zm1 0zm-6 4zm-40-21zm20 0zm-8 2zm-5 1zm-7 1zm9 0zm9 2zm-13 1zm2 0zm7 1zm6 0zm-21 3zm4 0zm1 0zm15 0zm-18 1zm9 1zm-11 1zm9 1zm1 0zm4 0zm1 1zm-14 1zm2 0zm0 1zm6 0zm1 0zm11 3zm-40-22zm5 0zm2 0zm4 0zm-14 1zm1 0zm2 0zm7 0zm5 0zm3 0zm-14 1zm5 0zm1 0zm-12 1zm6 0zm7 0zm8 0zm-19 1zm1 0zm2 0zm6 0zm6 0zm-16 1zm1 0zm13 0zm-6 1zm5 0zm4 0zm-16 1zm1 0zm11 0zm-13 1zm1 0zm4 0zm2 0zm5 0zm4 0zm-14 1zm1 0zm4 0zm6 0zm5 0zm-15 1zm13 0zm-10 1zm2 0zm5 0zm-12 1zm3 0zm-2 1zm12 0zm8 0zm-19 1zm1 0zm10 0zm-8 1zm5 0zm10 0zm-15 1zm-7 1zm7 0zm9 0zm6 0zm-15 1zm2 0zm1 0zm2 0zm5 0zm-16 1zm1 0zm10 0zm1 0zm1 0zm2 0zm6 0zm-20 1zm1 0zm1 0zm6 0zm5 0zm2 0zm1 0zm-17 1zm14 0zm-14 1zm3 0zm6 0zm4 0zm-11 1zm3 0zm1 0zm2 0zm2 0zm5 0zm2 0zm-33-23zm8 0zm-17 1zm6 0zm9 0zm-6 1zm4 0zm3 0zm-10 1zm-2 1zm12 0zm1 0zm5 0zm-17 1zm12 0zm1 0zm-10 1zm11 0zm-2 1zm-11 1zm8 0zm-7 1zm6 0zm1 0zm4 0zm2 0zm3 0zm0 1zm-21 1zm9 0zm9 0zm-15 1zm1 0zm4 0zm5 0zm-7 1zm10 0zm-16 1zm4 0zm4 0zm2 0zm3 0zm-14 1zm9 0zm8 0zm-9 1zm8 0zm-17 1zm17 0zm6 0zm-17 1zm12 0zm5 0zm0 1zm-6 1zm-9 1zm8 0zm3 0zm-10 2zm4 0zm-16-23zm0 1zm2 0zm-5 4zm-11 3zm16 5zm-2 6zm2 12zm9-7zm2 0zm4 0zm5 1zm2 0zm-2 1zm-12 1zm3 0zm4 0zm-14 1zm14 1zm4 0zm1 1zm1 0zm2 0zm1 0zm-13 2zm6 0zm-8 5zm13 2zm0 2zm-8 1zm-9 1zm1 0zm15 1zm4-20zm4 0zm1 0zm6 0zm3 0zm-14 1zm7 0zm6 0zm1 0zm2 0zm-16 1zm2 0zm9 0zm3 0zm3 0zm5 0zm-22 1zm2 0zm1 0zm17 0zm1 0zm2 0zm-17 1zm10 0zm2 0zm1 0zm2 0zm-19 1zm2 0zm1 0zm5 0zm9 0zm3 0zm-17 1zm2 0zm1 0zm2 0zm11 0zm-21 1zm4 0zm3 0zm1 0zm14 0zm-17 2zm2 0zm-7 1zm23 0zm-19 1zm2 0zm2 0zm3 0zm6 0zm4 0zm2 0zm-19 1zm1 0zm2 0zm2 0zm2 0zm2 0zm2 0zm4 0zm-8 1zm10 0zm-17 1zm3 0zm5 0zm5 0zm-14 1zm10 0zm2 0zm1 0zm6 0zm-14 1zm2 0zm4 0zm7 0zm-10 1zm7 0zm-11 1zm2 0zm3 0zm5 0zm-11 1zm6 0zm1 0zm1 0zm2 0zm1 0zm-13 1zm2 0zm3 0zm2 0zm8 0zm2 0zm-17 1zm6 0zm9 0zm4 0zm-20 1zm17 0zm-7 1zm4 0zm9-23zm5 1zm7 0zm-11 1zm3 0zm4 0zm-9 1zm1 0zm4 0zm2 0zm-4 1zm1 0zm12 0zm-15 1zm6 0zm7 0zm-15 1zm6 0zm3 0zm2 0zm11 0zm-15 1zm1 0zm-8 1zm2 0zm-2 1zm2 0zm20 0zm-10 1zm-7 1zm1 0zm4 0zm-6 1zm3 0zm4 0zm2 0zm1 0zm8 0zm-19 1zm2 0zm4 0zm2 0zm2 0zm2 0zm-12 1zm9 0zm5 0zm3 0zm-15 1zm2 0zm-7 1zm7 0zm1 0zm15 0zm-18 1zm11 0zm-15 1zm8 0zm5 0zm-8 1zm1 0zm4 0zm-10 1zm6 0zm3 0zm-10 1zm7 0zm5 0zm8 0zm-20 1zm3 0zm9 0zm-2 1zm5 0zm2 0zm6 0zm17-23zm-11 1zm3 1zm3 0zm5 0zm-12 2zm10 0zm-9 1zm18 1zm-16 3zm7 0zm-2 3zm5 0zm-16 1zm10 0zm9 0zm-18 2zm16 0zm-16 1zm4 0zm8 0zm-11 1zm3 2zm8 0zm9 0zm-1 1zm-13 1zm4 0zm-13 1zm16 0zm2 0zm5 0zm13-22zm-9 1zm-1 1zm1 0zm17 1zm-20 1zm4 0zm10 0zm4 0zm-11 1zm-3 1zm1 0zm2 0zm5 0zm4 0zm2 0zm5 0zm-5 1zm-6 1zm11 0zm-20 4zm17 3zm-7 1zm7 1zm-14 1zm8 0zm-12 1zm15 0zm-11 1zm1 0zm6 0zm9 0zm-18 2zm18 0zm-15 1zm29-22zm-2 2zm-2 1zm8 0zm5 0zm-18 1zm-2 1zm12 1zm2 1zm-12 1zm9 0zm-12 1zm8 2zm-3 1zm-1 1zm3 2zm3 0zm1 0zm6 0zm-7 2zm-10 3zm3 1zm6 0zm3 0zm-1 1zm32-22zm-10 1zm5 5zm-8 1zm3 1zm-7 1zm7 2zm5 0zm-1 1zm-6 5zm1 2zm7 0zm2 3zm22-17zm-5 7zm-7 2zm8 2zm8 4zm34-20zm-3 3zm5 12zm163-8zm20 5zm59 3zm33-3zm16-10zm2 11zm-11 1zm31-11zm-24 23zm-37 13zm-4 7zm-27-1zm-27-3zm-172-5zm-17-12zm-5 7zm0 9zm-23-3zm-31-14zm12 2zm2 3zm-12 17zm-22-21zm-1 3zm1 0zm7 1zm9 1zm-7 1zm-13 2zm10 0zm-11 1zm22 2zm-22 2zm17 0zm2 3zm-12 3zm7 2zm2 0zm2 0zm-31-23zm-11 1zm20 0zm-19 2zm12 0zm-12 3zm20 0zm-2 1zm-13 1zm7 0zm8 1zm-15 1zm10 0zm5 0zm-10 2zm-10 1zm3 0zm14 0zm1 0zm1 0zm3 0zm-19 1zm10 0zm-6 1zm-7 1zm4 0zm7 0zm-9 1zm11 0zm-7 1zm15 0zm-13 1zm10 0zm-19 3zm15 0zm2 0zm-16 1zm6 0zm-15-22zm-10 1zm7 0zm6 0zm1 0zm-10 1zm5 3zm-15 1zm21 0zm-21 1zm3 1zm3 0zm11 0zm6 0zm-20 1zm-2 1zm22 0zm-22 1zm0 1zm11 0zm-12 1zm9 0zm10 1zm-3 1zm6 0zm-5 1zm2 0zm-13 1zm4 2zm1 0zm0 1zm-5 2zm2 0zm10 0zm-30-22zm1 0zm-12 1zm12 0zm5 0zm-16 1zm4 0zm-6 4zm6 0zm4 1zm3 1zm3 0zm6 0zm-21 1zm1 0zm2 0zm18 0zm-21 1zm13 0zm-14 1zm6 0zm1 1zm13 0zm-20 1zm2 0zm2 0zm9 0zm-9 1zm8 0zm-11 1zm6 1zm12 0zm-18 2zm4 0zm2 0zm4 1zm5 0zm-4 1zm10 0zm-20 1zm4 0zm-24-22zm1 0zm-2 1zm4 0zm9 0zm-14 1zm1 0zm-5 1zm3 0zm8 0zm1 0zm6 0zm1 0zm-18 1zm2 0zm5 0zm2 0zm3 0zm-7 1zm4 0zm3 0zm1 0zm2 0zm-14 1zm5 0zm3 0zm1 0zm6 0zm5 0zm-18 1zm16 0zm3 0zm-16 1zm1 0zm9 0zm4 0zm-15 1zm5 0zm-10 1zm4 0zm2 0zm2 0zm1 0zm8 0zm-13 1zm2 0zm2 0zm13 0zm-21 1zm2 0zm2 0zm3 0zm2 0zm8 0zm-13 1zm3 0zm3 0zm-8 1zm10 0zm6 0zm1 0zm-13 1zm1 0zm2 0zm9 0zm2 0zm1 0zm-21 1zm8 0zm3 0zm2 0zm-14 1zm5 0zm1 0zm7 0zm7 0zm-20 1zm12 0zm6 0zm-10 2zm2 0zm8 0zm-14 1zm1 0zm2 0zm3 0zm2 0zm6 0zm2 0zm3 0zm-14 1zm4 0zm1 0zm-10 1zm11 0zm-37-23zm8 0zm1 0zm7 0zm3 0zm1 0zm-16 1zm3 0zm6 0zm-3 1zm2 0zm7 0zm-15 1zm6 0zm4 0zm1 0zm6 0zm-19 2zm7 0zm5 0zm2 0zm1 0zm-17 1zm3 0zm7 0zm9 0zm-2 1zm1 0zm2 0zm-7 1zm3 0zm-11 1zm6 0zm-7 1zm17 0zm-18 1zm12 0zm-6 1zm6 0zm-17 1zm7 0zm7 0zm6 0zm-19 1zm15 0zm7 0zm-14 2zm4 1zm1 1zm4 0zm-13 1zm5 0zm2 1zm-3 1zm7 0zm0 1zm6 0zm-11 1zm11 0zm1 0zm-32-18zm2 1zm5 0zm-21 4zm19 1zm2 6zm1 0zm-2 14zm2 7zm4-13zm8 0zm6 0zm4 0zm-9 1zm1 5zm5 0zm2 4zm1 0zm1 1zm1 0zm-1 1zm1 0zm-14 1zm4 7zm3 0zm1 0zm2 2zm5-23zm1 0zm3 0zm11 0zm3 0zm1 0zm1 0zm1 0zm2 0zm-12 1zm9 0zm1 0zm2 0zm-20 1zm8 0zm6 0zm2 0zm-15 1zm1 0zm3 0zm1 0zm1 0zm3 0zm6 0zm1 0zm-13 1zm12 0zm2 0zm-20 1zm6 0zm5 0zm1 0zm7 0zm1 0zm-4 1zm3 0zm-12 1zm2 0zm1 0zm6 0zm-12 1zm8 0zm1 0zm8 0zm1 0zm-18 1zm3 0zm2 0zm7 0zm6 0zm-17 1zm2 0zm4 0zm3 0zm3 0zm5 0zm-20 1zm6 0zm4 0zm5 0zm4 0zm-19 1zm1 0zm9 0zm-2 1zm7 0zm-11 1zm12 0zm-9 1zm1 0zm2 0zm-10 1zm5 0zm7 0zm3 0zm2 0zm2 0zm-21 1zm13 0zm5 0zm4 0zm-17 1zm6 0zm4 0zm5 0zm-14 1zm-2 1zm16 0zm-13 1zm3 0zm-4 1zm2 1zm8 0zm1 0zm11-23zm5 0zm2 0zm1 0zm-12 1zm2 0zm2 0zm1 0zm-5 1zm9 0zm2 0zm-12 1zm9 0zm4 0zm-13 1zm1 0zm5 0zm1 0zm12 0zm3 0zm-22 1zm4 0zm3 0zm15 0zm-20 1zm2 0zm6 0zm5 0zm3 0zm-15 1zm18 0zm-20 1zm15 0zm2 0zm-15 1zm18 0zm-19 1zm2 0zm5 0zm-3 1zm8 0zm6 0zm2 0zm-17 1zm18 0zm-18 1zm7 0zm1 0zm-13 1zm11 0zm-11 1zm1 0zm4 0zm2 0zm3 1zm3 0zm-7 1zm8 0zm1 0zm-7 1zm2 0zm8 0zm-18 1zm3 0zm2 0zm1 0zm1 0zm1 0zm8 0zm3 0zm-18 1zm2 0zm1 0zm3 0zm4 0zm9 0zm-16 1zm2 1zm12 0zm-16 1zm1 0zm1 0zm1 0zm7 0zm2 0zm2 0zm5 0zm14-23zm-4 2zm-3 3zm7 0zm11 3zm-18 1zm-1 1zm9 0zm2 0zm-1 2zm2 0zm-6 5zm5 0zm2 1zm-16 2zm4 1zm8 0zm-11 1zm36-22zm5 1zm-11 1zm-5 1zm7 0zm-8 1zm14 0zm-13 1zm2 0zm17 1zm-3 1zm3 0zm-14 1zm5 0zm3 0zm-1 3zm2 0zm-5 1zm2 0zm8 3zm-7 1zm2 0zm-7 1zm10 1zm-16 1zm-3 1zm13 0zm-2 1zm-1 1zm14-22zm19 1zm-8 1zm-6 2zm10 4zm4 0zm-14 1zm4 0zm3 1zm-6 2zm8 0zm-13 2zm18 0zm-12 2zm15 0zm-19 1zm7 0zm9 0zm2 0zm-16 1zm12 0zm-14 4zm-3 1zm9 0zm7 0zm3 0zm2 0zm2 0zm24-20zm-13 12zm-7 1zm4 4zm4 0zm-11 3zm29-19zm9 8zm74 6zm188-18zm14 20zm113 2zm-61 7zm-18-5zm-56 9zm-117 10zm-98-8zm13 8zm-30-9zm-5 9zm-29-10zm-1 4zm-12-3zm-13 8zm14 2zm4 3zm-35-23zm4 0zm0 1zm-2 1zm-9 2zm14 0zm9 0zm-7 4zm5 1zm-15 2zm7 0zm-12 1zm-1 1zm19 0zm-10 2zm7 3zm-16 1zm6 0zm4 1zm4 0zm8 0zm-5 1zm-6 1zm-6 1zm-27-23zm5 0zm1 0zm2 0zm3 0zm1 0zm5 0zm-14 1zm5 0zm6 0zm-7 1zm2 0zm4 0zm5 0zm-10 1zm4 0zm-8 1zm5 1zm11 1zm-7 1zm2 0zm6 0zm-17 2zm6 0zm-7 1zm8 0zm7 0zm-8 1zm9 0zm-4 1zm-16 1zm19 0zm3 0zm-20 1zm2 1zm5 2zm2 0zm-11 1zm7 0zm2 0zm4 0zm2 2zm3 0zm-10 1zm12 0zm-14 2zm1 0zm-29-23zm14 0zm1 0zm4 1zm-13 1zm-3 1zm15 0zm-18 1zm2 0zm6 0zm5 1zm-3 1zm1 0zm2 0zm4 0zm-14 1zm16 0zm-15 1zm6 0zm3 0zm-9 1zm10 1zm-14 1zm1 0zm2 0zm16 0zm-22 1zm1 0zm2 0zm6 1zm14 0zm-23 1zm0 1zm1 0zm5 0zm15 0zm-20 1zm10 0zm-4 1zm7 0zm3 0zm-15 1zm7 0zm-8 1zm4 0zm7 0zm-12 1zm3 0zm2 0zm13 0zm-4 1zm-12 2zm1 0zm14 0zm-38-23zm1 0zm2 0zm2 0zm7 0zm-12 1zm8 0zm3 0zm7 0zm2 0zm-20 1zm3 0zm5 0zm2 0zm1 0zm7 0zm1 0zm-22 1zm2 0zm1 0zm3 0zm3 0zm3 0zm-9 1zm8 0zm7 0zm-14 1zm1 0zm7 0zm2 0zm1 0zm5 0zm2 0zm-20 1zm2 0zm5 0zm8 0zm-16 1zm3 0zm3 0zm1 0zm1 0zm9 0zm5 0zm-20 1zm7 0zm13 0zm-23 1zm5 0zm1 0zm2 0zm12 0zm1 0zm-20 1zm11 0zm1 0zm1 0zm-14 1zm1 0zm6 0zm5 0zm2 0zm3 0zm5 0zm-13 1zm2 0zm1 0zm3 0zm-6 1zm1 0zm5 0zm7 0zm-21 1zm13 0zm1 0zm3 0zm3 0zm-7 1zm3 0zm-9 1zm1 0zm12 0zm-19 1zm3 0zm1 0zm5 0zm5 0zm-14 1zm9 0zm4 0zm1 0zm7 0zm-22 1zm1 0zm8 0zm2 0zm2 0zm2 0zm5 0zm1 0zm-21 1zm5 0zm2 0zm3 0zm7 0zm2 0zm1 0zm-21 1zm9 0zm13 0zm-20 1zm1 0zm13 0zm-12 1zm11 0zm6 0zm2 0zm-41-23zm12 0zm-14 1zm9 0zm9 0zm-6 1zm1 0zm2 0zm-8 1zm7 0zm-8 1zm2 0zm5 0zm3 0zm-11 1zm5 0zm9 0zm-13 1zm1 0zm11 0zm-3 2zm1 0zm-8 1zm4 1zm-3 1zm3 0zm6 1zm-14 1zm2 0zm9 1zm-11 1zm6 0zm-12 1zm2 0zm9 0zm4 0zm4 0zm-16 3zm17 0zm-2 1zm-11 1zm4 0zm-5 2zm11 0zm-28-18zm6 3zm-6 10zm-14 2zm-4 14zm26-7zm20 0zm4 0zm-15 1zm11 0zm-2 3zm4 0zm-6 2zm6 1zm-6 5zm4 2zm-3 1zm3 0zm1 0zm-11 1zm2 1zm11 3zm9-23zm7 0zm-12 1zm6 0zm8 0zm2 0zm3 0zm-16 1zm2 0zm6 0zm10 0zm-13 1zm2 0zm4 0zm4 0zm-9 1zm10 0zm-18 1zm14 0zm6 0zm-22 1zm5 0zm1 0zm11 0zm1 0zm3 0zm-16 1zm1 0zm5 0zm3 0zm3 0zm3 0zm2 0zm-18 1zm2 0zm5 0zm4 0zm1 0zm3 0zm-18 1zm11 0zm5 0zm3 1zm-20 1zm6 0zm4 0zm9 0zm-14 1zm10 0zm2 0zm1 0zm1 0zm1 0zm1 0zm1 0zm-13 1zm-5 1zm2 0zm3 0zm3 0zm4 0zm5 0zm-15 1zm-3 1zm11 0zm7 0zm-16 1zm14 0zm2 0zm-22 1zm6 0zm1 0zm2 0zm5 0zm7 0zm2 0zm-20 1zm4 0zm5 0zm-10 1zm14 0zm6 0zm1 1zm-10 2zm2 0zm21-23zm2 0zm-10 1zm2 0zm4 0zm3 0zm1 0zm-11 1zm9 0zm-4 1zm6 0zm-10 1zm2 0zm8 1zm3 0zm-16 1zm5 0zm15 0zm-19 1zm5 0zm1 0zm-8 1zm1 0zm7 0zm-1 1zm2 0zm3 0zm-9 1zm4 0zm13 0zm2 0zm-22 1zm10 0zm4 0zm3 0zm-13 1zm10 0zm-14 1zm12 0zm5 0zm-17 1zm2 0zm3 0zm4 0zm1 0zm1 0zm-10 1zm5 0zm7 0zm1 0zm2 0zm1 0zm-12 1zm6 0zm2 0zm1 0zm-13 1zm5 0zm1 0zm12 0zm2 0zm-16 1zm3 0zm13 0zm-20 1zm2 0zm3 0zm-4 1zm14 0zm6 0zm-20 1zm10 0zm-12 1zm2 0zm5 0zm-2 1zm4 0zm3 0zm18-23zm4 0zm4 0zm9 1zm-17 2zm5 0zm8 2zm-10 1zm-9 1zm1 0zm15 0zm6 0zm-19 1zm-1 1zm1 0zm11 0zm-8 1zm-1 2zm15 0zm-14 1zm2 0zm6 1zm-12 1zm14 0zm2 0zm-4 2zm5 0zm4 0zm-22 1zm3 0zm-1 1zm3 0zm1 0zm-6 1zm17 0zm1 0zm-6 1zm-6 1zm1 0zm14 0zm-13 1zm27-21zm2 0zm-2 1zm-10 1zm-1 1zm4 1zm7 0zm10 0zm-11 1zm3 0zm-6 1zm5 0zm-10 1zm1 0zm11 0zm2 0zm-10 1zm-5 1zm14 0zm-12 1zm15 0zm1 0zm-12 1zm2 0zm2 0zm11 0zm-19 2zm-2 1zm3 0zm5 0zm8 0zm-12 1zm3 0zm6 0zm-9 1zm11 1zm-4 1zm2 0zm1 0zm2 0zm-14 1zm-4 1zm10 1zm29-23zm0 1zm-6 4zm-6 3zm1 6zm14 0zm-14 1zm5 0zm7 4zm7 2zm-18 1zm5 0zm-5 1zm4 0zm20-23zm-5 4zm0 6zm7 4zm9 4zm9-15zm2 6zm39 12zm20-2zm28-12zm215 4zm-158 36zm-48-8zm12 8zm-42-23zm-20 6zm15 15zm-88-21zm17 3zm3 0zm-15 6zm18 5zm-5 2zm-15 3zm11 0zm5 2zm-18 2zm-19-22zm17 2zm-23 1zm9 0zm5 0zm-1 1zm7 1zm-11 1zm-6 1zm18 0zm-18 1zm18 0zm2 0zm-17 1zm9 0zm5 1zm-11 1zm-4 1zm14 0zm-8 1zm4 1zm-12 1zm9 0zm-12 2zm4 0zm0 1zm8 0zm-9 2zm6 0zm9 1zm-18 1zm16 0zm-22-23zm5 0zm-19 1zm11 0zm7 0zm-20 1zm9 0zm-9 2zm4 0zm12 2zm4 0zm-14 2zm3 0zm-10 1zm6 0zm11 0zm-7 1zm4 0zm-10 1zm3 0zm7 0zm-9 1zm6 0zm9 0zm0 1zm-15 1zm10 0zm-16 1zm2 0zm17 0zm-11 1zm8 2zm-15 2zm9 1zm9 0zm-15 1zm5 0zm-5 1zm1 0zm3 0zm1 0zm1 0zm-31-23zm4 0zm5 0zm-8 1zm8 0zm6 0zm-16 1zm5 0zm-6 1zm1 0zm1 0zm16 0zm-5 1zm1 0zm-10 1zm3 0zm8 0zm-16 1zm3 0zm2 0zm-1 1zm4 0zm-8 1zm5 0zm2 0zm6 0zm-12 1zm7 0zm1 0zm3 0zm5 0zm2 0zm-18 1zm13 0zm-11 1zm4 0zm2 0zm3 0zm-5 1zm2 0zm-3 1zm3 0zm2 0zm7 0zm2 0zm-19 1zm3 0zm2 0zm17 0zm-20 1zm3 0zm2 0zm4 0zm2 0zm8 0zm-22 1zm1 0zm5 0zm-6 1zm3 0zm4 0zm1 1zm1 0zm6 0zm-14 1zm5 0zm1 0zm4 0zm1 0zm3 0zm-11 1zm1 0zm3 0zm2 0zm-8 1zm21 0zm-22 1zm2 0zm1 0zm1 0zm5 0zm3 0zm6 0zm-19 1zm2 0zm2 0zm1 0zm2 0zm2 0zm1 0zm6 0zm-29-23zm1 0zm1 0zm1 0zm3 0zm1 0zm1 0zm2 0zm-16 1zm2 0zm2 0zm4 0zm1 0zm7 0zm-20 1zm11 0zm5 0zm1 0zm-18 1zm4 0zm1 0zm1 0zm2 0zm2 0zm1 0zm4 0zm3 0zm-13 1zm6 0zm2 0zm9 0zm-17 1zm2 0zm5 0zm3 0zm-14 1zm1 0zm2 0zm4 0zm1 0zm1 0zm6 0zm1 0zm5 0zm-18 1zm5 0zm1 0zm1 0zm2 0zm1 0zm5 0zm4 0zm-17 1zm9 0zm5 0zm3 0zm-21 1zm5 0zm5 0zm5 0zm-17 1zm5 0zm10 0zm5 0zm-10 1zm3 0zm4 0zm5 0zm-21 1zm2 0zm2 0zm15 0zm1 0zm-12 1zm3 0zm4 0zm3 0zm1 0zm1 0zm-21 1zm2 0zm6 0zm7 0zm-8 1zm3 0zm3 0zm3 0zm-14 1zm6 0zm4 0zm4 0zm2 0zm1 0zm-13 1zm4 0zm3 0zm2 0zm3 0zm-10 1zm1 0zm2 0zm3 0zm1 0zm5 0zm2 0zm-22 1zm3 0zm2 0zm2 0zm1 0zm1 0zm6 0zm3 0zm3 0zm2 0zm-17 1zm7 0zm3 0zm2 0zm1 0zm-15 1zm2 0zm9 0zm1 0zm4 0zm-9 1zm8 0zm1 0zm3 0zm-19 1zm6 0zm9 0zm-40-23zm7 0zm2 0zm4 0zm1 1zm1 0zm2 0zm-5 1zm-11 1zm14 0zm2 0zm-9 1zm-4 1zm2 0zm12 0zm2 0zm-13 1zm8 0zm4 0zm-4 1zm4 0zm-20 1zm18 0zm1 0zm-16 1zm16 0zm1 0zm-7 1zm5 2zm-10 1zm3 0zm2 0zm1 0zm1 0zm-12 2zm7 0zm2 0zm-11 1zm15 0zm3 0zm-5 1zm6 0zm-4 1zm5 0zm-14 1zm0 1zm2 0zm7 0zm4 2zm-11 1zm12 0zm-33-16zm0 13zm-15-1zm48 6zm-17 1zm8 0zm8 2zm-8 1zm1 2zm7 1zm0 1zm-7 5zm0 2zm2 0zm19-16zm1 0zm3 0zm4 0zm-2 1zm1 0zm-15 1zm2 0zm3 0zm-9 1zm2 0zm12 0zm1 0zm2 0zm1 0zm-15 1zm11 0zm1 0zm2 0zm2 0zm-18 1zm12 0zm6 0zm4 0zm-15 1zm1 0zm7 0zm1 0zm-14 1zm10 0zm1 0zm9 0zm-5 1zm-13 1zm12 0zm3 0zm1 0zm-17 1zm11 0zm-5 1zm6 0zm5 0zm-21 1zm17 0zm3 0zm-12 1zm5 0zm3 0zm6 0zm-19 1zm1 0zm5 0zm3 0zm2 0zm3 0zm3 0zm-20 1zm5 0zm8 0zm3 0zm-16 1zm8 0zm7 0zm-14 1zm19 0zm-14 1zm13 0zm-7 1zm2 0zm-7 1zm3 0zm6 0zm5 0zm-16 1zm18 0zm-3 1zm-7 1zm3 0zm9-23zm8 0zm8 0zm2 0zm-18 1zm5 0zm1 0zm5 0zm2 0zm3 0zm-10 1zm1 0zm3 0zm-10 1zm2 0zm3 0zm1 0zm3 0zm7 0zm2 0zm-17 1zm10 0zm-3 1zm1 0zm1 0zm2 0zm-12 1zm4 0zm1 0zm2 0zm7 0zm-15 1zm4 0zm12 0zm2 0zm2 0zm-13 1zm1 0zm9 0zm-15 1zm1 0zm4 0zm5 0zm5 0zm-13 1zm9 0zm-8 1zm1 0zm2 0zm1 0zm10 0zm4 0zm-23 1zm4 0zm3 0zm1 0zm10 0zm-17 1zm1 0zm2 0zm2 0zm5 0zm7 0zm4 0zm-22 1zm8 0zm4 0zm8 0zm-17 1zm3 0zm12 0zm-17 1zm4 0zm1 0zm12 0zm4 0zm-20 1zm1 0zm3 0zm5 0zm3 0zm8 0zm-22 1zm4 0zm2 0zm3 0zm11 0zm3 0zm-22 1zm3 0zm1 0zm5 0zm2 0zm5 0zm-15 1zm4 0zm2 0zm2 0zm4 0zm-7 1zm4 0zm-8 1zm4 0zm2 0zm1 0zm-3 1zm1 0zm7 0zm4 0zm8-23zm4 0zm3 0zm1 0zm-10 2zm21 1zm-19 1zm8 0zm-6 1zm16 0zm-18 2zm10 0zm-10 1zm3 0zm3 0zm8 0zm1 0zm-12 1zm17 0zm-16 1zm-4 3zm-1 1zm18 0zm-19 1zm22 0zm-22 1zm21 0zm-12 1zm3 0zm5 0zm-4 1zm2 0zm4 1zm-20 2zm3 0zm16 0zm2 0zm1 0zm1 0zm-6 2zm5 0zm1 0zm1-23zm2 1zm20 0zm-2 1zm-18 1zm4 0zm14 3zm-20 1zm19 0zm-13 2zm5 1zm3 0zm-13 1zm2 1zm7 0zm12 0zm-16 1zm13 0zm-19 1zm2 0zm17 2zm-5 1zm-3 2zm-9 2zm3 0zm5 1zm5 0zm3 0zm-2 1zm9-18zm17 5zm-16 1zm4 1zm-6 3zm4 3zm3 1zm-4 1zm17 1zm3 2zm22-20zm-7 8zm31-6zm-1 5zm-16 7zm5 4zm-9 2zm35-21zm8 0zm-6 11zm-9 2zm27-4zm13 0zm0 2zm45-12zm-4 28zm-46-2zm4 13zm-32-8zm1 3zm10 11zm-37-6zm11 3zm-11 3zm-30-21zm0 16zm4 1zm-15-12zm1 3zm-29-6zm-11 4zm5 1zm2 9zm-27-17zm7 0zm3 0zm-13 1zm18 0zm3 0zm-4 1zm-19 1zm12 0zm2 1zm-7 2zm1 1zm3 0zm1 0zm10 0zm-19 1zm-1 1zm12 0zm1 0zm-15 1zm5 0zm1 0zm3 0zm7 0zm-11 1zm9 0zm-1 1zm-10 2zm19 1zm1 1zm-16 3zm-7 1zm1 0zm10 0zm-11 1zm11 0zm7 1zm-12 1zm-29-23zm7 0zm1 0zm-8 1zm7 0zm2 0zm1 0zm2 1zm8 0zm-20 1zm4 0zm1 0zm12 0zm-4 1zm4 0zm-10 1zm12 0zm-12 1zm-6 1zm14 0zm6 0zm-22 1zm7 0zm0 2zm1 0zm9 0zm2 0zm4 0zm-19 2zm6 0zm4 0zm6 0zm-20 1zm11 1zm-5 1zm13 0zm3 1zm-17 1zm15 0zm1 0zm-10 1zm3 0zm-11 1zm14 1zm2 1zm-16 1zm10 0zm-32-22zm11 0zm2 1zm-9 1zm6 0zm-6 1zm5 0zm1 0zm7 0zm1 0zm-17 1zm4 1zm8 0zm2 0zm-19 1zm7 0zm2 0zm2 0zm7 0zm-3 1zm2 0zm-3 1zm-9 1zm1 2zm3 3zm3 0zm8 2zm-16 1zm14 3zm-19 3zm12 0zm-19-21zm5 0zm-9 5zm-6 14zm10 1zm-26-20zm38 26zm7 2zm10 0zm0 1zm-8 4zm15-11zm13 0zm1 0zm4 0zm-15 1zm12 0zm3 0zm-21 1zm2 0zm11 0zm5 0zm1 1zm-21 1zm6 0zm4 0zm12 1zm-16 3zm4 0zm5 0zm-2 1zm10 0zm-13 1zm12 0zm0 1zm-16 1zm17 1zm-4 8zm-8 1zm15-22zm21 0zm-9 1zm-14 3zm2 0zm5 0zm6 0zm-5 2zm10 0zm-2 1zm-4 1zm10 0zm1 0zm-19 1zm1 0zm2 0zm-5 1zm5 0zm2 0zm-8 3zm5 0zm2 0zm7 0zm-11 1zm-4 1zm1 0zm10 0zm-5 2zm0 1zm2 0zm4 0zm-2 1zm5 0zm1 0zm-14 1zm9 0zm8 0zm1 0zm3 0zm-20 1zm5 0zm3 0zm2 1zm7 0zm3 0zm-13 1zm3 0zm23-21zm-12 4zm6 2zm2 0zm2 1zm2 4zm3 0zm-11 3zm33-11zm7 3zm3 6zm-18 2zm10 1zm27-13zm-13 13zm-4 6zm32-1zm7 0zm78-16zm2-5zm42 9zm-50 29zm-23 0zm3 7zm-36 0zm8 0zm-32-12zm7 1zm-10 2zm-9-9zm-2 6zm-39-4zm3 3zm-4 7zm7 2zm-8 3zm3 2zm-26-21zm4 1zm4 0zm-8 1zm3 0zm-5 2zm2 2zm1 0zm5 0zm7 0zm-12 1zm8 1zm2 1zm-5 3zm-7 3zm1 0zm11 1zm1 1zm2 0zm-10 1zm-3 1zm12 0zm-15 1zm4 0zm11 0zm-14 1zm-25-23zm8 0zm3 1zm4 0zm3 0zm-18 1zm3 0zm10 1zm9 0zm-10 1zm9 1zm-20 1zm2 0zm3 0zm7 0zm-5 1zm6 0zm2 0zm-4 1zm0 1zm3 0zm-10 2zm3 0zm-1 2zm1 0zm7 3zm7 0zm-8 1zm5 0zm-14 1zm-1 1zm10 0zm3 0zm-8 1zm-4 2zm16 0zm-6 1zm1 0zm-20-23zm-1 10zm-26-1zm19 18zm7 6zm18-8zm4 2zm6 0zm-18 2zm16 0zm-5 1zm4 5zm3 1zm-13 1zm6 0zm-7 1zm4 0zm3 2zm-6 1zm10 0zm-5 1zm3 2zm2 1zm-13 1zm5 0zm9 0zm-1 1zm5-23zm1 0zm4 0zm-4 1zm5 0zm-7 1zm5 0zm-3 1zm10 0zm2 0zm9 0zm-13 2zm10 0zm-15 1zm3 0zm5 0zm-11 2zm14 0zm6 0zm-12 1zm-6 1zm1 0zm17 0zm-9 1zm9 1zm-10 1zm3 0zm7 0zm-14 1zm6 0zm-4 1zm2 1zm2 0zm1 0zm-10 1zm0 1zm-1 1zm5 0zm0 1zm2 1zm-7 1zm7 0zm3 0zm-7 1zm1 0zm23-22zm7 5zm4 6zm-18 2zm3 0zm-3 1zm16 3zm-3 2zm-12 1zm6 0zm-6 2zm38-22zm5 1zm-12 6zm2 6zm10 5zm18 4zm17-22zm38-1zm82 13zm-25 25zm-74 6zm-81-20zm-11 2zm-8 3zm0 1zm21 1zm-20 1zm-12-8zm4 0zm0 1zm-17 1zm1 0zm2 0zm6 1zm9 1zm1 2zm-10 2zm2 0zm2 1zm2 1zm3 1zm-8 1zm0 3zm2 0zm-14-13zm0 1zm-15 1zm4 1zm8 3zm-18 1zm20 4zm1 6zm-1 2zm69 20zm3 3zm125 5zm-47 6zm-134-1zm142 59z"/>
<path stroke="#d92a1c" d="M168 39zm-18-4zm-6 1zm2 3zm3 0zm16 2zm-20 1zm2 0zm-3 1zm2 0zm1 0zm10 0zm-8 1zm1 0zm5 0zm2 0zm-7 1zm-5 1zm-1 1zm1 0zm3 0zm6 0zm5 0zm-37-13zm6 0zm3 1zm-6 1zm2 0zm3 0zm1 0zm3 0zm5 0zm2 0zm-18 1zm14 0zm1 0zm-4 1zm-5 1zm3 0zm4 0zm3 0zm-17 1zm11 0zm9 0zm1 0zm-21 1zm6 0zm9 0zm3 0zm3 0zm-20 1zm2 0zm2 0zm1 0zm1 0zm4 0zm3 0zm2 0zm-8 1zm-9 1zm6 0zm2 0zm10 0zm2 0zm2 0zm-17 1zm3 0zm1 0zm10 0zm3 0zm-22 1zm4 0zm7 0zm8 0zm-13 1zm1 0zm5 0zm1 0zm3 0zm-28-12zm-8 1zm14 1zm-8 1zm2 0zm-12 1zm15 0zm-16 1zm23 0zm-13 2zm-6 1zm-4 2zm2 1zm0 1zm17 0zm-22-8zm-1 1zm-7 3zm6 0zm-5 1zm4 0zm-8 2zm9 0zm-15 1zm3 0zm3 0zm3 0zm-14 3zm0 1zm-4 1zm2 1zm-3 1zm1 0zm2 0zm2 0zm-8 1zm6 0zm-9 1zm1 1zm1 0zm2 0zm1 0zm1 0zm-8 1zm6 1zm2 0zm4 0zm1 0zm-10 1zm8 0zm-16 1zm5 0zm1 0zm2 0zm7 0zm-13 1zm10 0zm4 0zm1 0zm-9 1zm-9 1zm2 0zm7 0zm-5 1zm1 0zm4 0zm3 0zm4 0zm-13 1zm13 0zm1 0zm2 0zm-17 1zm2 0zm1 0zm2 0zm9 0zm2 0zm-9 1zm7 0zm-9 1zm5 0zm2 0zm1 0zm-7 1zm2 0zm5 0zm1 0zm-7 1zm4 0zm5 0zm6-23zm9 0zm4 0zm-15 1zm1 0zm4 0zm5 0zm-11 1zm5 0zm1 0zm2 0zm5 0zm3 0zm-8 1zm1 0zm-7 1zm6 0zm3 0zm11 0zm-19 1zm1 0zm3 0zm7 0zm1 0zm-14 1zm5 0zm4 0zm5 0zm3 0zm-15 1zm6 0zm2 0zm-7 1zm4 0zm-6 1zm2 0zm2 0zm8 0zm-10 1zm3 0zm2 0zm2 0zm2 0zm1 0zm1 0zm4 0zm3 0zm-23 1zm4 0zm1 0zm5 0zm1 0zm1 0zm3 0zm-9 1zm5 0zm3 0zm2 0zm1 0zm-14 1zm2 0zm2 0zm1 0zm1 0zm2 0zm1 0zm3 0zm1 0zm2 0zm3 0zm2 0zm-21 1zm1 0zm2 0zm3 0zm3 0zm1 0zm2 0zm6 0zm1 0zm2 0zm-22 1zm1 0zm1 0zm1 0zm3 0zm2 0zm2 0zm1 0zm2 0zm6 0zm3 0zm-23 1zm3 0zm1 0zm1 0zm2 0zm3 0zm6 0zm-16 1zm1 0zm1 0zm2 0zm3 0zm4 0zm1 0zm5 0zm2 0zm-9 1zm2 0zm1 0zm1 0zm2 0zm6 0zm-20 1zm2 0zm1 0zm8 0zm4 0zm2 0zm3 0zm-22 1zm1 0zm1 0zm3 0zm6 0zm1 0zm1 0zm1 0zm1 0zm-15 1zm2 0zm7 0zm2 0zm3 0zm2 0zm1 0zm3 0zm-19 1zm3 0zm6 0zm1 0zm2 0zm1 0zm2 0zm1 0zm1 0zm-15 1zm6 0zm4 0zm1 0zm1 0zm1 0zm1 0zm4 0zm12-23zm11 0zm-13 1zm1 0zm5 0zm-10 1zm-2 2zm5 0zm1 0zm-4 1zm-3 1zm3 0zm15 0zm-7 1zm-10 1zm5 0zm15 0zm-18 1zm2 0zm17 0zm-9 1zm-8 1zm3 0zm3 1zm12 0zm-23 1zm2 0zm8 1zm-1 1zm5 0zm-13 1zm4 2zm1 0zm9 0zm-11 1zm-3 2zm6 0zm5 0zm9 0zm-21 1zm1 0zm3 1zm1 0zm2 0zm4 0zm1 0zm16-23zm15 0zm1 0zm-8 1zm1 0zm4 0zm1 1zm1 0zm-10 1zm1 0zm4 0zm1 0zm1 0zm5 0zm-5 1zm2 0zm4 0zm-13 1zm4 0zm3 0zm1 0zm-17 1zm6 0zm11 0zm6 0zm-23 1zm7 0zm1 0zm6 0zm1 0zm3 0zm-13 1zm7 0zm1 0zm6 0zm-14 1zm7 0zm1 0zm5 0zm4 0zm-3 1zm-11 1zm5 0zm-3 2zm-10 2zm5 0zm14 0zm4 1zm-12 2zm-10 1zm21 1zm4-20zm1 0zm-2 1zm1 1zm2 0zm2 0zm-6 1zm2 0zm2 0zm3 0zm-4 1zm4 1zm-7 1zm2 0zm4 0zm-6 1zm4 7zm18 2zm4-14zm39 20zm-34 7zm4 1zm2 1zm0 10zm-37-2zm13 3zm-35-18zm-1 2zm6 7zm-2 1zm9 0zm-12 1zm-1 2zm-1 2zm23 0zm-21 3zm1 0zm-1 3zm-25-21zm1 0zm1 0zm5 2zm7 0zm-11 1zm10 0zm-11 1zm13 0zm-11 1zm3 0zm-6 1zm5 0zm2 0zm4 0zm6 0zm-15 1zm1 0zm3 0zm-8 1zm13 0zm-13 1zm5 0zm16 0zm-13 1zm9 0zm-16 1zm6 0zm9 0zm4 0zm-18 1zm3 0zm2 0zm4 0zm10 0zm-13 1zm-6 1zm2 0zm1 0zm1 0zm7 0zm2 0zm-15 1zm2 0zm3 0zm3 0zm3 0zm6 0zm-16 1zm15 0zm-15 1zm5 0zm1 0zm2 0zm4 0zm-13 1zm2 0zm5 0zm9 0zm-15 1zm3 0zm1 0zm1 0zm2 0zm3 0zm10 0zm-16 1zm8 0zm2 0zm3 0zm-18 1zm13 0zm-7 1zm6 0zm5 0zm-17 1zm1 0zm1 0zm2 0zm3 0zm2 0zm3 0zm-35-23zm1 0zm1 0zm5 0zm3 0zm2 0zm1 0zm8 0zm-19 1zm4 0zm2 0zm2 0zm2 0zm3 0zm1 0zm3 0zm-11 1zm3 0zm2 0zm1 0zm5 0zm-19 1zm3 0zm1 0zm4 0zm1 0zm3 0zm4 0zm3 0zm1 0zm1 0zm-22 1zm3 0zm12 0zm6 0zm1 0zm1 0zm-23 1zm3 0zm4 0zm5 0zm1 0zm7 0zm2 0zm1 0zm-17 1zm5 0zm2 0zm3 0zm3 0zm2 0zm-18 1zm1 0zm13 0zm2 0zm2 0zm2 0zm-22 1zm2 0zm3 0zm1 0zm6 0zm1 0zm4 0zm2 0zm-20 1zm8 0zm1 0zm1 0zm3 0zm8 0zm-19 1zm1 0zm5 0zm4 0zm2 0zm3 0zm4 0zm1 0zm1 0zm-20 1zm3 0zm3 0zm1 0zm1 0zm7 0zm3 0zm2 0zm-20 1zm1 0zm6 0zm2 0zm5 0zm4 0zm2 0zm-19 1zm1 0zm1 0zm2 0zm1 0zm1 0zm1 0zm1 0zm2 0zm7 0zm1 0zm1 0zm-21 1zm1 0zm3 0zm4 0zm2 0zm2 0zm3 0zm1 0zm1 0zm1 0zm1 0zm1 0zm1 0zm-22 1zm1 0zm1 0zm2 0zm4 0zm2 0zm6 0zm2 0zm1 0zm-20 1zm1 0zm8 0zm3 0zm2 0zm4 0zm2 0zm-14 1zm1 0zm2 0zm3 0zm2 0zm4 0zm1 0zm2 0zm-16 1zm5 0zm11 0zm1 0zm-2 1zm2 0zm1 0zm-9 1zm3 0zm1 0zm2 0zm-15 1zm8 0zm1 0zm7 0zm1 0zm1 0zm-22 1zm-1 1zm8 0zm2 0zm1 0zm3 0zm3 0zm3 0zm1 0zm1 0zm1 0zm-25-23zm-6 2zm3 1zm2 0zm2 0zm-15 1zm2 0zm4 0zm5 0zm1 0zm1 0zm1 0zm1 0zm-17 1zm11 0zm5 0zm-1 1zm1 0zm1 0zm0 1zm-9 1zm9 0zm-10 1zm3 0zm6 0zm1 0zm-17 1zm7 0zm9 0zm1 0zm-15 1zm3 0zm12 0zm-1 1zm1 0zm-8 1zm-2 1zm3 0zm4 0zm-8 1zm5 0zm3 0zm-6 2zm3 0zm2 0zm-7 1zm10 0zm-6 2zm6 0zm-2 5zm-12 1zm-4 2zm13 4zm-2 2zm2 3zm-6 2zm4 0zm-2 1zm9 1zm-18 2zm8 2zm11 0zm1-21zm10 0zm2 0zm5 0zm5 0zm-17 1zm10 0zm6 0zm-17 1zm3 0zm3 0zm7 0zm1 0zm3 0zm1 0zm-11 1zm7 0zm1 0zm1 0zm2 0zm1 0zm-20 1zm9 0zm1 0zm4 0zm3 0zm3 0zm-23 1zm2 0zm3 0zm2 0zm11 0zm-14 1zm2 0zm6 0zm1 0zm2 0zm4 0zm-14 1zm6 0zm4 0zm-6 1zm12 0zm-9 1zm3 0zm3 0zm3 0zm1 0zm-16 1zm1 0zm1 0zm6 0zm5 0zm4 0zm-22 1zm6 0zm3 0zm2 0zm2 0zm2 0zm5 0zm2 0zm-19 1zm8 0zm5 0zm2 0zm1 0zm3 0zm-21 1zm11 0zm-6 1zm4 0zm4 0zm4 0zm2 0zm2 0zm-17 1zm1 0zm9 0zm1 0zm3 0zm2 0zm-3 1zm1 0zm-20 1zm5 1zm11 0zm3 0zm1 0zm-1 1zm1 0zm3 0zm-7 1zm-6 1zm11 0zm-17 1zm1 0zm12 0zm1 1zm6-23zm4 0zm-4 1zm7 0zm1 0zm5 0zm5 0zm-13 1zm9 0zm8 0zm-22 1zm2 0zm1 0zm11 0zm1 0zm-10 1zm3 0zm-6 1zm17 0zm-10 1zm5 0zm1 0zm-7 1zm4 0zm-5 1zm1 0zm1 0zm3 0zm1 0zm1 0zm-14 1zm1 0zm2 0zm3 0zm1 0zm-7 1zm2 0zm1 0zm11 0zm4 0zm-11 2zm-4 1zm1 0zm6 0zm3 0zm4 1zm1 0zm3 0zm-20 1zm1 0zm10 0zm-12 1zm7 1zm1 0zm10 0zm2 0zm-13 1zm10 0zm-13 1zm1 0zm10 0zm6 0zm-21 1zm7 1zm9 0zm5 0zm-13 1zm6 0zm2 0zm3 0zm15-22zm-6 2zm12 6zm-16 2zm8 0zm-8 3zm11 0zm1 1zm5 0zm-10 1zm3 1zm-4 2zm-1 1zm9 1zm-11 2zm20 0zm-22 1zm10 0zm8 0zm19-17zm3 5zm-9 5zm10 0zm-11 3zm2 0zm16-12zm13 6zm0 5zm1 1zm-15 3zm41-21zm-6 2zm1 10zm68 20zm-34 10zm-38-16zm6 12zm7 5zm-6 1zm-36-19zm14 0zm-5 3zm3 0zm-3 7zm11 6zm-8 3zm1 0zm-34-21zm5 0zm-3 4zm5 0zm7 4zm-11 4zm12 0zm-17 8zm-18-20zm9 0zm-11 1zm6 0zm-13 1zm2 0zm9 0zm2 0zm-11 1zm6 2zm-8 2zm10 0zm8 2zm-13 2zm12 0zm1 0zm-1 2zm-15 2zm6 0zm1 0zm5 1zm-8 1zm-1 1zm5 0zm9 0zm-19 2zm3 0zm1 0zm12 0zm-10 2zm2 0zm0 1zm1 0zm1 0zm-34-23zm1 0zm6 0zm3 0zm3 0zm-6 1zm7 0zm-14 1zm12 0zm8 0zm-10 1zm-10 1zm1 0zm14 0zm5 0zm-15 1zm3 0zm-3 1zm2 0zm15 0zm-22 1zm1 1zm6 0zm2 0zm3 0zm6 1zm-15 3zm19 0zm-17 1zm1 0zm3 0zm-10 1zm20 0zm-12 1zm1 0zm3 0zm6 0zm3 1zm-14 3zm7 1zm9 0zm-14 1zm2 0zm3 0zm-13 1zm2 0zm4 0zm-29-22zm-2 2zm5 0zm16 3zm-10 1zm-10 1zm9 0zm1 0zm10 1zm-5 1zm1 0zm1 0zm-3 2zm2 0zm3 0zm2 1zm-1 1zm-12 1zm9 1zm5 0zm-13 1zm2 0zm6 0zm-11 4zm5 0zm11 3zm-27-23zm-5 15zm-8 5zm9 4zm-3 5zm27-4zm-12 3zm8 7zm-1 6zm11 0zm17-17zm-12 3zm6 0zm9 1zm-5 2zm-5 1zm4 0zm-1 1zm10 0zm-19 1zm16 0zm2 2zm2 0zm-8 2zm1 0zm-5 1zm6 0zm-6 1zm7 0zm-1 1zm-5 1zm8 0zm3 0zm-7 2zm1 0zm1 0zm-9 2zm3 0zm6 1zm-5 1zm25-23zm-6 1zm10 1zm4 0zm-12 1zm-6 1zm-1 1zm0 1zm3 0zm7 0zm-3 1zm-7 1zm11 0zm6 0zm-14 1zm-1 1zm2 0zm5 0zm-3 1zm5 0zm-6 1zm7 0zm-14 1zm3 1zm18 0zm-7 1zm-8 1zm4 0zm-7 1zm19 0zm-21 2zm22 0zm-21 2zm2 0zm-2 1zm10 0zm1 0zm10 0zm-6 1zm9-23zm2 0zm16 2zm3 1zm-23 3zm1 0zm7 2zm14 1zm-17 3zm-4 2zm16 0zm-4 2zm4 1zm5 0zm-17 1zm16 0zm-7 1zm8 4zm20-23zm-15 3zm9 7zm-4 2zm2 0zm4 0zm0 5zm-3 5zm1 0zm21-19zm-8 3zm15 5zm-1 10zm24-14zm-15 5zm4 3zm13 2zm-14 4zm33-13zm4 12zm-16 2zm26-17zm-47 26zm7 1zm-6 1zm18 6zm-36-13zm-6 6zm-3 4zm15 1zm-15 3zm7 0zm0 3zm14 2zm-33-19zm-6 1zm8 0zm-9 2zm15 0zm-12 3zm-9 1zm14 5zm9 0zm-20 1zm6 1zm8 6zm-37-22zm10 0zm9 1zm-22 1zm4 0zm-2 1zm15 0zm-5 2zm3 0zm0 1zm3 0zm-19 1zm5 1zm13 0zm-11 1zm12 0zm-12 3zm5 0zm8 0zm-4 1zm4 1zm-19 1zm4 0zm15 4zm2 0zm-19 3zm-13-22zm9 0zm-2 3zm-13 1zm5 0zm-2 1zm3 0zm6 1zm-16 1zm4 0zm7 0zm7 0zm-1 1zm-3 1zm-3 1zm6 0zm-15 1zm14 0zm-11 1zm12 0zm1 1zm-5 1zm3 0zm-6 2zm-13 1zm13 0zm6 2zm-18 1zm5 2zm8 0zm5 1zm-24-23zm-18 2zm19 1zm-9 1zm4 1zm0 3zm2 1zm-13 2zm17 2zm-13 1zm8 2zm-17 4zm8 0zm11 0zm0 1zm-41-20zm14 0zm-1 7zm8 4zm-25-8zm-9 2zm7 6zm17 15zm-4 1zm5 4zm0 8zm2 3zm16-16zm11 1zm-19 2zm11 3zm12 5zm-14 2zm-2 2zm10 5zm19-21zm10 0zm-17 1zm7 1zm6 0zm-10 1zm14 1zm-5 1zm-15 2zm21 0zm-4 1zm-3 2zm7 0zm-22 3zm11 0zm11 2zm-16 1zm16 0zm-1 1zm2-18zm1 0zm2 0zm3 1zm5 0zm11 0zm-22 1zm3 0zm18 0zm-2 1zm-9 1zm5 0zm2 1zm-17 1zm3 0zm2 0zm4 0zm-6 1zm5 0zm11 1zm-15 1zm13 0zm5 0zm-15 1zm3 0zm-1 2zm-6 1zm7 0zm1 0zm1 0zm11 0zm-5 3zm-10 1zm-2 2zm11 0zm1 0zm-16 1zm3 0zm-2 1zm1 0zm0 1zm10 0zm15-22zm13 0zm1 1zm-8 1zm2 1zm5 3zm-5 1zm-12 1zm3 2zm4 0zm-7 1zm22 3zm-22 1zm11 3zm8 1zm-15 2zm17 0zm8-21zm12 6zm-14 2zm11 1zm-4 2zm-4 1zm4 2zm-10 6zm1 1zm43-4zm-21 5zm23 0zm12-5zm98-9zm-8 11zm-16 15zm0 3zm-107-10zm10 2zm-11 4zm14 4zm4 4zm-14 2zm-25-19zm-2 3zm4 0zm-3 2zm12 1zm-7 1zm3 1zm-7 4zm0 1zm17 0zm-8 2zm7 2zm-12 4zm-30-21zm3 1zm8 0zm0 1zm10 2zm-4 1zm-9 1zm8 1zm-3 2zm-4 1zm2 0zm0 1zm-12 1zm6 0zm2 1zm-9 2zm18 0zm4 0zm1 0zm-21 1zm15 1zm-16 1zm9 0zm-9 2zm13 0zm1 0zm1 0zm2 2zm-30-20zm0 1zm4 1zm-10 2zm11 0zm-10 1zm7 0zm4 0zm-2 1zm5 0zm-17 1zm-3 1zm1 0zm4 0zm4 1zm8 0zm-9 1zm-7 1zm21 0zm-2 2zm-18 1zm9 0zm-9 2zm6 3zm-23-20zm2 3zm1 0zm2 0zm-12 2zm19 1zm-21 2zm19 8zm-18 1zm3 0zm6 0zm1 1zm8 0zm3 3zm-44-21zm-22 0zm1 15zm-9-16zm26 29zm48-4zm-18 5zm17 0zm-3 9zm15-13zm-9 1zm13 1zm1 0zm-11 4zm14 0zm2 1zm-18 3zm2 0zm7 0zm1 1zm3 0zm7 0zm-6 5zm14-17zm-4 4zm3 1zm0 1zm7 2zm-3 1zm2 1zm-9 2zm-1 1zm66 5zm17-10zm23-6zm2 6zm10 4zm-7 3zm25-10zm62 0zm-52 20zm-2 13zm-20-3zm5 4zm12 0zm-30-10zm-34 6zm8 7zm-83 5zm43 8zm-6 4zm14-10zm14 12zm-5 3zm25 5zm20-7zm30-3zm17 6zm26-12zm-10 6zm64 21zm-41 0zm-21-5zm-28 15zm-24-4zm20 1zm-18 5zm-7-17zm-4 15zm-37-18zm5 5zm9 13zm-27-16zm8 3zm0 4zm-65-6zm25 37zm1 4zm39-14zm-12 1zm4 10zm-10 1zm36 2zm3 0zm11-17zm11 7zm40 6zm-11 6zm-5 7zm-48 3zm-5 1zm-32-8zm10 9zm-20-8zm4 10zm-28 5zm-44-9zm23 17zm43 10zm36 2zm45-2zm22 8zm44-7zm20 20zm-90-6zm-16 16zm-13-15zm-10 11zm-18-14zm-19 9zm5 8zm39 14zm15-8zm8 20zm41-5zm71 2zm-153 9zm-25 2zm94 55zm-56-3z"/>
<path stroke="#f4a262" d="M551 416zm-37 9zm-14-2zm-32 19zm18 6zm141 25zm-53-1zm-40 4zm-27-3zm8 4zm-12-18zm-70-1zm20 9zm-27-8zm47 22zm0 3zm-5 12zm14-8zm0 4zm9 2zm14 4zm47-1zm47-5zm-19 5zm13 18zm-27 8zm-52-2zm13 0zm-32-1zm8 2zm-81 6zm17 20zm54-5zm-4 5zm6 0zm-15 3zm3 0zm20 0zm8-14zm7 0zm1 4zm3 9zm7-12zm21 9zm-2 3zm23-11zm-1 9zm20-2zm11-1zm25-8zm5 13zm-45 23zm-16-15zm-3 2zm-35-3zm-3 2zm12 14zm-24-7zm-19-14zm2 2zm-34 17zm-30-9zm-4 8zm-35-15zm81 36zm8-1zm25 1zm9 1zm-5 5zm30-12zm12 2zm10 2zm9 5zm13 4zm18-17zm38 9zm-14 28zm-11-17zm-20 1zm-4 8zm-7 4zm-11 3zm8 4zm-2 1zm-14-16zm-15 12zm-23-15zm5 0zm6 5zm-5 10zm-1 2zm-18-4zm-5 1zm2 0zm9 4zm-4 2zm-27-23zm4 15zm1 3zm-37-4zm-6 4zm-34 11zm33-2zm7 9zm6 5zm-6 2zm24-18zm2 7zm13 7zm-5 2zm-4 1zm34-16zm1 1zm-6 8zm-7 3zm7 0zm6 0zm-22 1zm8 1zm-3 2zm12 3zm-4 1zm23-11zm3 0zm-16 1zm12 0zm3 0zm-9 4zm9 6zm18-16zm0 2zm13 11zm12-18zm12 6zm-10 1zm2 14zm23-13zm-7 14zm15 0zm17-18zm-23 23zm-5 15zm-29-18zm4 0zm9 6zm-17 1zm17 2zm-6 2zm8 2zm-20 1zm2 2zm12 2zm1 4zm-37-23zm14 0zm-12 2zm19 0zm-15 1zm-1 1zm5 0zm-11 11zm19 3zm-18 1zm2 0zm8 0zm8 1zm-17 2zm17 0zm-33-21zm5 2zm-12 3zm13 5zm5 0zm-13 2zm-3 2zm13 1zm-14 2zm17 2zm-30-15zm-15 2zm4 0zm-1 1zm1 2zm-3 1zm15 0zm-17 5zm23 0zm-19 1zm11 1zm-4 2zm1 1zm-31-19zm16 2zm-10 7zm8 1zm-16 3zm5 5zm9 0zm-20-17zm-15 13zm15 0zm-39-5zm-12-7zm11 26zm-2 6zm44-12zm-19 1zm-1 8zm15 8zm-2 2zm-15 2zm30-21zm7 1zm3 1zm-1 3zm-13 2zm13 1zm3 0zm-9 1zm13 0zm-6 1zm-10 2zm8 2zm6 2zm-12 4zm-9 1zm13 0zm11-18zm19 0zm-16 1zm11 0zm-14 1zm8 2zm9 0zm-8 2zm1 2zm13 0zm-12 2zm10 0zm2 0zm-17 1zm2 0zm10 0zm5 1zm-11 1zm6 0zm-14 1zm3 0zm12 0zm-10 1zm13 0zm-13 1zm6 0zm5 0zm3 0zm-1 1zm-8 1zm1 0zm4 0zm3 0zm-1 1zm-15 1zm11 0zm6 0zm5-23zm14 1zm-16 1zm8 0zm5 1zm-14 2zm5 0zm16 0zm-9 1zm-9 3zm15 0zm2 0zm-21 1zm16 0zm-14 1zm5 0zm-3 1zm11 0zm2 0zm1 0zm1 0zm-13 1zm3 0zm12 0zm-19 1zm5 0zm-3 1zm1 0zm6 0zm2 1zm-8 1zm1 0zm1 0zm5 0zm-8 1zm4 0zm-3 1zm1 0zm3 0zm3 0zm4 0zm1 0zm4 0zm1 0zm-17 1zm3 0zm11 0zm3 0zm1 0zm-9 1zm5 0zm-4 1zm2 0zm-14 1zm10 0zm12-23zm5 2zm13 0zm-11 6zm7 0zm5 0zm-16 2zm10 1zm-10 2zm7 0zm5 0zm6 1zm-3 1zm-14 1zm1 0zm9 0zm-8 1zm2 0zm-9 1zm5 0zm12 0zm-17 2zm4 0zm17 0zm-7 1zm1 0zm1 1zm7 0zm-22 1zm14 0zm32-21zm-23 1zm16 0zm7 1zm0 6zm-17 1zm16 1zm-11 5zm-9 1zm5 2zm11 0zm-11 2zm2 0zm22-21zm3 3zm-33 25zm-1 2zm5 0zm2 0zm-3 1zm6 2zm0 1zm-8 2zm-26-13zm1 0zm2 0zm5 0zm11 0zm-19 1zm7 0zm13 0zm2 0zm-22 1zm6 0zm8 0zm-14 1zm3 0zm0 1zm13 0zm-14 2zm-2 1zm5 0zm1 1zm2 0zm-8 1zm12 0zm10 0zm-17 1zm2 0zm6 0zm1 0zm1 0zm-14 1zm10 0zm-11 1zm1 0zm3 0zm1 0zm1 0zm16 0zm-12 1zm2 0zm-10 1zm3 0zm9 0zm2 0zm-16 1zm4 0zm1 0zm3 0zm4 0zm-10 1zm-2 1zm1 0zm4 0zm2 0zm-7 1zm11 0zm-11 1zm6 0zm8 0zm-11 1zm2 0zm6 0zm6 1zm-9 1zm-8 1zm1 0zm6 0zm-25-23zm16 0zm-16 1zm2 0zm11 0zm-15 1zm9 0zm7 0zm-18 1zm1 0zm9 0zm1 0zm9 0zm-19 1zm4 0zm-7 1zm5 0zm5 0zm5 0zm7 0zm1 0zm-21 1zm2 0zm1 0zm2 0zm3 0zm4 0zm-13 1zm3 0zm2 0zm3 0zm3 0zm3 0zm2 0zm2 0zm2 0zm-21 1zm2 0zm1 0zm3 0zm4 0zm-7 1zm1 0zm2 0zm3 0zm1 0zm1 0zm2 0zm3 0zm2 0zm-18 1zm11 0zm2 0zm-7 1zm3 0zm4 0zm-13 1zm5 0zm3 0zm1 0zm1 0zm1 0zm1 0zm1 0zm2 0zm8 0zm-22 1zm5 0zm2 0zm8 0zm3 0zm1 0zm2 0zm-19 1zm2 0zm5 0zm12 0zm-22 1zm1 0zm1 0zm5 0zm6 0zm3 0zm2 0zm2 0zm-15 1zm9 0zm9 0zm-22 1zm1 0zm1 0zm15 0zm2 0zm-17 1zm9 0zm1 0zm3 0zm3 0zm3 0zm1 0zm-18 1zm4 0zm-9 1zm4 0zm3 0zm6 0zm2 0zm2 0zm4 0zm1 0zm-22 1zm5 0zm6 0zm3 0zm3 0zm2 0zm2 0zm-16 1zm2 0zm2 0zm4 0zm4 0zm5 0zm1 0zm-23 1zm1 0zm1 0zm1 0zm2 0zm3 0zm1 0zm3 0zm11 0zm-40-23zm7 0zm5 0zm-14 2zm7 0zm7 0zm3 0zm-7 1zm-13 1zm6 0zm8 0zm-4 1zm5 0zm-16 1zm17 1zm5 0zm-22 1zm6 0zm2 0zm-8 1zm3 0zm1 0zm9 0zm1 0zm5 0zm-19 1zm3 0zm6 0zm11 0zm1 0zm-19 1zm1 0zm14 0zm-6 1zm4 0zm1 0zm3 0zm-9 1zm2 0zm6 0zm2 0zm1 0zm-22 1zm8 0zm3 0zm6 0zm3 0zm1 0zm1 0zm-16 1zm13 0zm3 0zm-21 1zm1 0zm1 0zm7 0zm13 0zm-22 1zm1 0zm8 0zm10 0zm3 0zm-18 1zm1 0zm3 0zm2 0zm2 0zm1 0zm1 0zm2 0zm1 0zm2 0zm2 0zm1 0zm-17 1zm9 0zm6 0zm-20 1zm3 0zm7 0zm8 0zm1 0zm1 0zm-10 1zm2 0zm1 0zm2 0zm1 0zm-6 1zm5 0zm4 0zm1 0zm1 0zm-15 1zm6 0zm2 0zm2 0zm-30-23zm-10 1zm4 1zm10 0zm4 0zm0 4zm-13 3zm16 0zm1 1zm-19 1zm15 0zm-10 1zm7 0zm-8 1zm15 0zm-7 1zm2 0zm1 0zm-2 1zm3 0zm-2 1zm-13 3zm15 0zm3 0zm-6 1zm4 0zm-5 1zm-13 2zm-9-20zm-14 3zm4 11zm-57 5zm14 4zm-5 16zm34-14zm-5 11zm8 1zm7-14zm18 8zm0 1zm-21 2zm15 5zm-12 1zm35-19zm-13 1zm16 1zm-1 1zm4 0zm-4 1zm-9 1zm-5 1zm12 0zm6 0zm1 1zm-19 1zm19 0zm-12 1zm2 0zm1 1zm7 0zm3 0zm-15 1zm4 0zm2 0zm9 0zm-15 1zm5 0zm3 0zm1 0zm2 0zm-19 1zm1 0zm13 0zm-14 1zm1 0zm5 0zm6 0zm2 0zm5 1zm-6 1zm10 0zm-22 2zm14 0zm-10 1zm14 0zm-10 2zm7 0zm0 1zm14-22zm1 0zm2 0zm5 0zm3 0zm1 0zm3 0zm-16 1zm1 0zm3 0zm5 0zm4 0zm1 0zm3 0zm1 0zm-23 1zm10 0zm5 0zm0 1zm6 0zm-6 1zm3 0zm4 0zm-18 1zm1 0zm3 0zm2 0zm10 0zm-20 1zm22 0zm1 0zm-20 1zm8 1zm5 0zm1 0zm2 0zm-11 1zm8 0zm3 0zm3 0zm-11 1zm2 0zm5 0zm1 0zm4 0zm-15 1zm2 0zm1 0zm1 0zm4 0zm-3 1zm5 0zm-12 1zm5 0zm5 0zm1 0zm3 0zm1 0zm-20 1zm10 0zm1 0zm3 0zm2 0zm-1 1zm6 0zm-17 1zm2 0zm4 1zm-2 1zm1 0zm2 0zm6 0zm-14 1zm4 0zm1 0zm0 1zm8 0zm-8 1zm2 1zm9 0zm-9 1zm5 0zm8-23zm7 0zm3 0zm7 0zm-17 1zm2 0zm4 0zm1 0zm5 0zm-12 1zm2 0zm6 0zm5 0zm1 0zm-14 1zm2 0zm1 0zm4 0zm5 0zm2 0zm1 0zm1 0zm6 0zm-22 1zm3 0zm3 0zm1 0zm5 0zm4 0zm3 0zm2 0zm2 0zm-22 1zm1 0zm1 0zm1 0zm3 0zm2 0zm1 0zm13 0zm-21 1zm3 0zm3 0zm7 0zm2 0zm-15 1zm1 0zm3 0zm2 0zm1 0zm3 0zm1 0zm-8 1zm16 0zm1 0zm-20 1zm2 0zm2 0zm4 0zm5 0zm3 0zm2 0zm-20 1zm6 0zm2 0zm1 0zm2 0zm1 0zm4 0zm-14 1zm2 0zm2 0zm7 0zm2 0zm-15 1zm11 0zm1 0zm5 0zm-17 1zm3 0zm2 0zm4 0zm1 0zm4 0zm9 0zm-23 1zm13 0zm-13 1zm3 0zm18 0zm-11 1zm5 0zm-7 1zm4 0zm4 0zm2 0zm5 0zm-10 1zm2 0zm-7 1zm4 0zm10 0zm1 0zm-5 1zm-5 1zm2 0zm4 0zm2 0zm1 0zm-18 1zm3 0zm8 0zm2 0zm6 0zm-23 1zm3 0zm20 0zm5-23zm7 0zm2 0zm2 0zm1 1zm-11 1zm-5 2zm4 0zm8 0zm-12 1zm4 0zm1 0zm3 0zm7 0zm-4 1zm-10 1zm11 0zm-11 1zm5 0zm9 0zm-15 1zm5 0zm2 0zm2 1zm13 0zm-1 1zm-4 2zm-9 1zm3 0zm4 0zm-15 1zm0 2zm3 1zm12 0zm-12 1zm2 0zm3 0zm4 0zm-2 1zm5 0zm-5 3zm-9 4zm-20-3zm5 0zm-3 1zm6 0zm-5 1zm4 0zm1 0zm-3 1zm7 1zm-3 2zm-6 1zm9 1zm1 0zm-1 2zm-16 3zm1 0zm0 8zm-25-21zm7 0zm1 0zm9 0zm3 0zm-11 1zm1 0zm3 0zm6 0zm-13 1zm5 0zm2 0zm3 0zm-11 1zm4 0zm-3 1zm11 0zm-11 1zm4 0zm-6 1zm3 0zm1 0zm6 0zm2 0zm-3 1zm9 1zm-5 1zm-11 1zm2 0zm-6 1zm1 0zm8 1zm5 0zm-13 1zm10 0zm-7 1zm6 1zm3 0zm-12 5zm16 2zm-17 1zm15 0zm-35-23zm3 0zm0 1zm1 3zm4 2zm-9 3zm7 2zm10 2zm-22 5zm12 1zm-15-13zm-19 3zm55 16zm-2 1zm-7 2z"/>
<path stroke="#151515" d="M97 92zm-18-19zm-7 2zm3 8zm5 2zm-8 1zm0 1zm2 5zm-1 2zm-10-16zm3 5zm0 3zm-4 1zm-1 2zm2 0zm7 13zm-11 15zm15-20zm21 5zm-15 1zm-4 1zm8 1zm-12 1zm11 0zm5 2zm1 2zm-16 3zm13 0zm-3 1zm-7 2zm18 1zm-2 1zm3 0zm-17 1zm22-6zm-1 14zm6 0zm11 2zm-10 1zm-6 5zm-3 1zm-1 2zm-20-18zm5 0zm4 5zm-14-1zm20 21zm1 0zm-3 8zm-10 3zm20-11zm18 8zm-1 1zm-13 2zm-1 1zm22 1zm85 8zm-83 2zm-5 1zm-1 11zm3 1zm7 1zm-5 3zm4 2zm-3 1zm0 3zm5 0zm-13-22zm-3 1zm-3 1zm-15 9zm15 1zm-2 1zm6 12zm-2 2zm1 0zm2 8zm-3 9zm6-20zm4 2zm2 1zm7 6zm0 4zm23-11zm-11 10zm10 3zm42 2zm-5 18zm-14-2zm-31-6zm19 0zm-22 2zm11 0zm8 1zm-10 6zm-6 1zm2 0zm3 1zm3 0zm7 2zm-7 4zm-29-21zm10 7zm-5 1zm1 1zm11 0zm-16 3zm14 8zm1 0zm1 1zm-26-16zm18 21zm-4 9zm22-10zm-7 1zm2 0zm2 1zm4 2zm3 0zm3 3zm-16 2zm1 0zm3 0zm16 1zm-5 3zm-6 1zm13 0zm-7 1zm4 2zm1 5zm7-23zm-1 9zm10 0zm-6 6zm-1 2zm-4 4zm46-9zm27-8zm89 42zm-137-11zm9 4zm-8 3zm4 1zm-27-18zm17 1zm-20 10zm5 4zm14 0zm-15 2zm2 0zm9 1zm-7 1zm4 0zm-1 3zm-15-23zm-4 2zm5 2zm-4 14zm-5 1zm-5 1zm-14-16zm27 42zm7-22zm-2 3zm6 1zm9 0zm2 1zm0 4zm-5 2zm-2 5zm2 6zm12-14zm20 10zm32-15zm25 1zm66 25zm11 7zm-71 5zm-9 2zm-41-7zm-7 1zm-3 3zm-20-13zm5 3zm-2 2zm1 0zm-7 1zm13 0zm-12 1zm1 4zm3 0zm-4 1zm6 0zm9 0zm-11 2zm-5 2zm5 2zm3 1zm5 0zm-27-21zm6 2zm-14 5zm3 4zm2 10zm-17-20zm-22 38zm42 6zm35-21zm-21 3zm16 0zm-6 2zm-3 8zm-5 3zm14 0zm3 0zm-11 1zm-7 2zm19 2zm6-21zm-3 4zm10 4zm-5 1zm-6 3zm4 2zm3 0zm0 4zm15 3zm-20 1zm32-5zm53-15zm0 5zm-4 10zm-10 4zm25-8zm132 32zm-37-10zm-66-8zm11 18zm-58-20zm-32 9zm-13 11zm-34-20zm22 9zm-22 4zm-16-15zm2 3zm6 0zm1 4zm3 4zm2 13zm18 11zm19 4zm12-8zm4 2zm11 7zm11-7zm-2 4zm22 0zm-21 1zm22 3zm-6 4zm-11 2zm38-15zm-5 11zm13-12zm35 16zm13-12zm35 27zm-62 6zm-9-18zm-14 10zm-25-8zm18 4zm-9 1zm13 4zm-9 5zm-16-14zm-20 11zm3 2zm18 0zm-19 5zm-22-17zm-3 5zm1 12zm19 0zm-38-16zm-16-3zm-5 12zm-6 1zm31 9zm14 8zm10 4zm-11 4zm31-10zm3 7zm16-12zm2 8zm-4 8zm32-6zm-10 4zm14 3zm-4 1zm-3 3zm40-15zm-15 4zm-5 9zm25-1zm32-17zm-7 27zm-5 12zm-16-15zm1 2zm-7 17zm-13-18zm-9 6zm8 3zm-8 3zm16 5zm-44-11zm1 0zm9 7zm-9 5zm-25-15zm19 12zm-9 2zm-5 1zm-9-18zm1 2zm-8 8zm-11 5zm17 3zm-43-3zm-9-14zm-2 14zm-5 1zm7 6zm14 9zm17 11zm5-15zm20 2zm-1 2zm0 2zm-16 10zm16 0zm18-19zm-3 2zm-7 9zm3 0zm7 4zm7 1zm15-20zm-9 4zm13 1zm-9 1zm5 4zm9 3zm-8 9zm29-20zm-13 5zm-7 8zm7 5zm37 0zm7 0zm26-1zm43 18zm-67-11zm9 6zm-12 11zm18 0zm-8 1zm-21-18zm5 5zm-10 4zm2 3zm-29-12zm-7 5zm18 2zm-11 5zm15 2zm-16 5zm-9 0zm-28-19zm6 6zm-20 5zm-1 1zm3 5zm-7-17zm-46 5zm40 28zm16-10zm3 0zm2 4zm-1 12zm-2 5zm37-18zm-7 5zm7 0zm-9 3zm-10 2zm10 5zm11-19zm6 22zm17-2zm37-19zm12 0zm116 29zm-105-1zm-9 18zm-17-23zm11 12zm-11 6zm5 0zm-8 2zm1 0zm-25-20zm-1 16zm15 1zm-12 5zm-31-21zm5 13zm13 5zm-43-17zm9 4zm12 6zm-11 2zm5 6zm-37-18zm-3 6zm-6-7zm-7 7zm45 16zm12 4zm5-3zm17 4zm-9 17zm37-18zm-13 4zm2 1zm10 13zm18-12zm-2 3zm-8 5zm-1 3zm3 1zm64-14zm3-8zm19 0zm-2 6zm-12 14zm21-18zm-2 27zm-16 5zm-8 5zm18 4zm-36-19zm-3 1zm-4 5zm17 11zm-26-6zm-5 2zm2 4zm-16-7zm-7 7zm4 1zm3 5zm-28-20zm1 3zm0 16zm-32-18zm5 5zm5 7zm-15 2zm4 1zm12 4zm-24-22zm-1 10zm-36 0zm10 8zm2 2zm-22-11zm23 17zm18-2zm0 13zm29-4zm-13 5zm11 4zm-6 1zm28-20zm6 4zm-17 4zm17 13zm9-10zm9 1zm-1 3zm-7 2zm26-17zm-6 1zm13 15zm13-14zm-6 4zm1 14zm9 8zm-3 1zm-1 6zm-2 1zm-5-5zm-31-1zm6 16zm-45-22zm17 5zm1 11zm-9 4zm-52-19zm-1 4zm42 25zm-23 5zm21 7zm2 4zm10-20zm12 2zm-17 11zm8 8zm35-23zm-12 1zm8 14zm15-5zm6 7zm27-12zm-17 3zm2 4zm26 8zm37 20zm-36-15zm1 12zm-45 3zm-21-5zm-32-9zm4 0zm-3 30zm19 0zm23-7zm2 4zm-3 16zm34 2zm30-11zm-4 11z"/>
<path stroke="#80d787" d="M234 320zm-32 8zm-8 2zm0 1zm4 1zm4 0zm-8 1zm-1 1zm1 0zm2 0zm8 0zm-11 1zm2 0zm3 0zm-9-9zm1 0zm0 1zm-4 1zm3 0zm2 1zm-11 1zm3 0zm-5 1zm2 0zm5 0zm-7 1zm6 0zm-2 1zm2 0zm-10 1zm6 0zm6 0zm1 0zm-1 1zm2 0zm2 0zm-8 1zm9 0zm-4 1zm1 0zm-9 1zm7 0zm-16 1zm17 0zm1 0zm1 0zm-9 1zm4 0zm1 0zm-1 1zm-2 1zm1 0zm7 0zm-6 1zm5 0zm-18 1zm10 1zm-3 1zm7 0zm1 0zm3 0zm-5 1zm1 0zm2 0zm2 0zm-6 1zm1 0zm-11 1zm4 0zm1 1zm12 0zm-4 2zm5 1zm-2 2zm-15 1zm13 0zm3 0zm0 1zm0 2zm4-23zm3 0zm-5 2zm2 0zm3 0zm2 0zm5 0zm-7 1zm-5 2zm1 0zm11 0zm-10 1zm19 0zm-17 1zm3 0zm2 0zm4 0zm2 0zm-10 1zm-4 2zm2 1zm1 0zm1 0zm2 1zm2 0zm3 0zm2 0zm-9 1zm1 0zm3 0zm3 0zm2 0zm-9 1zm11 0zm-13 1zm6 0zm3 0zm-10 1zm2 0zm11 0zm2 0zm3 0zm-19 1zm8 0zm2 0zm4 0zm3 0zm2 0zm-17 1zm1 0zm4 0zm-6 1zm11 0zm3 0zm-15 1zm2 0zm6 0zm2 0zm6 0zm1 0zm-17 1zm6 0zm1 0zm12 0zm-6 1zm-12 1zm2 0zm12 0zm4 0zm6-20zm6 13zm3 0zm-4 1zm14 1zm4 4zm7 17zm1 1zm11 0zm-7 7zm9 0zm-42-20zm-3 1zm1 0zm2 2zm1 0zm-4 2zm4 0zm11 0zm-15 2zm10 1zm-5 1zm-4 1zm7 1zm-5 4zm-4 1zm4 0zm7 0zm5 0zm-15 1zm3 0zm7 0zm-9 1zm1 0zm-3 1zm2 0zm5 1zm3 0zm1 0zm-27-23zm1 0zm4 0zm1 0zm-13 1zm2 0zm2 0zm5 0zm5 0zm-10 1zm1 0zm5 0zm-9 1zm5 0zm3 0zm6 0zm2 0zm-12 1zm12 0zm3 1zm-13 1zm7 0zm3 0zm-17 1zm11 0zm1 1zm2 1zm4 0zm-18 1zm1 0zm8 0zm1 0zm6 0zm-5 1zm9 0zm-13 1zm3 0zm-8 1zm12 0zm4 0zm2 0zm1 0zm-16 1zm2 0zm1 0zm13 0zm1 0zm-8 1zm-12 1zm5 0zm7 0zm4 0zm3 0zm-16 1zm6 0zm8 0zm3 0zm-12 1zm8 0zm1 0zm3 0zm-18 1zm15 0zm1 0zm1 0zm1 0zm-18 1zm6 0zm4 0zm6 1zm-13 1zm2 0zm1 0zm2 0zm2 0zm2 0zm5 0zm-21 1zm10 0zm1 0zm3 0zm-24-23zm4 0zm3 2zm-4 1zm3 0zm-3 1zm-4 1zm8 0zm-5 3zm4 0zm-13 4zm10 2zm4 7zm-28-17zm-2 31zm27 6zm5-17zm15 0zm2 0zm-1 1zm2 0zm2 0zm1 0zm1 0zm-6 1zm3 0zm-13 1zm5 0zm3 0zm6 0zm-10 1zm8 0zm-13 1zm5 0zm-2 1zm5 0zm7 0zm1 0zm-10 1zm9 0zm2 0zm-13 1zm7 0zm1 0zm1 1zm1 0zm-1 1zm4 0zm-10 1zm2 1zm2 0zm3 0zm3 0zm-20 1zm2 0zm16 0zm3 0zm-6 1zm-11 1zm16 0zm1 0zm-7 1zm2 0zm1 0zm1 0zm-20 1zm8 1zm8 0zm3 0zm2 0zm-8 1zm-1 1zm5 0zm6 0zm-11 1zm8 0zm3 0zm-9 1zm4 0zm2 0zm3 0zm-15 1zm17-23zm2 0zm10 1zm10 0zm-22 1zm3 0zm16 0zm-15 1zm2 1zm1 0zm-7 1zm4 0zm6 0zm8 0zm-1 1zm-12 1zm8 0zm1 0zm2 0zm2 0zm-15 1zm5 0zm-8 1zm10 0zm3 0zm2 0zm6 0zm-21 1zm2 1zm8 0zm-8 1zm5 0zm2 0zm5 0zm-15 1zm6 0zm1 0zm2 0zm4 0zm9 0zm-22 1zm13 0zm10 0zm-18 1zm-1 1zm2 0zm2 0zm-4 1zm1 0zm9 0zm1 0zm7 0zm-22 2zm3 0zm7 0zm4 1zm3 0zm-16 1zm3 0zm7 0zm-7 1zm1 0zm1 0zm8 0zm8 0zm-10 1zm3 0zm8 0zm8-21zm-6 7zm6 0zm1 1zm8 6zm-16 6zm1 0zm71-2zm-19 18zm-27-6zm-2 7zm-24-14zm0 1zm3 1zm4 0zm-5 2zm1 0zm10 0zm-13 1zm2 0zm1 1zm2 2zm-1 2zm5 1zm8 0zm-15 1zm5 0zm-7 1zm3 0zm1 0zm-3 1zm4 1zm-4 1zm2 0zm7 1zm-1 1zm-2 2zm-6 1zm5 0zm-28-22zm3 0zm8 0zm2 0zm8 0zm-21 1zm2 0zm10 0zm-9 1zm1 0zm9 0zm-13 1zm6 0zm7 0zm7 0zm-18 1zm1 0zm1 0zm3 0zm5 0zm6 0zm-16 1zm8 0zm5 0zm-8 1zm0 1zm8 0zm-16 1zm4 0zm-2 1zm2 0zm2 0zm9 0zm3 1zm3 0zm-15 1zm9 0zm-12 1zm10 0zm2 0zm1 0zm2 0zm2 0zm-18 2zm5 0zm2 0zm6 0zm-7 1zm2 0zm3 0zm-3 1zm8 0zm-16 1zm7 0zm10 0zm-18 1zm20 0zm-22 1zm2 0zm2 0zm10 0zm5 0zm1 0zm-13 1zm7 0zm2 0zm1 0zm1 0zm4 0zm-12 1zm4 0zm1 0zm5 0zm0 1zm-6 1zm-19-21zm-1 1zm-7 1zm10 0zm-3 1zm1 1zm-16 1zm17 0zm-16 1zm9 0zm4 0zm6 2zm-16 2zm9 0zm-16 2zm15 0zm-4 3zm-10 1zm19 1zm-7 1zm6 3zm-27-17zm8 22zm5 3zm16 0zm-10 13zm22-20zm12 0zm-15 1zm6 0zm9 0zm-13 1zm7 0zm2 0zm2 0zm1 0zm-13 1zm12 0zm-10 1zm4 0zm4 0zm4 1zm2 0zm-7 1zm-2 1zm4 0zm1 0zm-9 4zm16-9zm2 0zm31 5zm-53 21zm3 15z"/>
<path stroke="#4e60b4" d="M260 372zm-32-12zm-6 12zm12 5zm-25 3zm3 2zm-27-11zm23 25zm6 3zm1 2zm-9 2zm28-9zm5 1zm-15 4zm5 5zm-9 1zm22-7zm-2 4zm1 5zm23 19zm-23-15zm2 0zm-3 2zm0 3zm6 0zm4 0zm-9 2zm4 1zm-4 1zm-1 1zm2 0zm2 1zm-1 1zm6 1zm4 0zm-6 1zm-7 1zm1 0zm2 0zm7 0zm3 0zm4 0zm-17 1zm4 0zm2 0zm2 0zm1 0zm-7 1zm-2 1zm11 0zm-7 1zm5 0zm6 0zm-15 1zm11 0zm3 0zm-27-20zm2 0zm-11 1zm10 0zm3 1zm1 0zm2 1zm5 0zm-20 1zm13 0zm7 0zm-12 1zm2 0zm4 0zm-6 1zm3 1zm-6 1zm9 0zm-14 2zm7 0zm7 0zm2 0zm-14 1zm4 0zm5 0zm6 0zm3 2zm-14 1zm8 0zm2 0zm3 0zm-14 1zm4 0zm5 0zm-8 3zm1 0zm12 0zm-13 1zm1 0zm7 0zm4 0zm-7 1zm4 0zm1 0zm-25-10zm2 0zm-7 3zm7 7zm-30-13zm27 34zm15-20zm2 0zm6 0zm2 0zm3 0zm2 0zm-16 1zm15 0zm-19 1zm2 1zm1 0zm7 0zm10 2zm-11 1zm4 0zm2 0zm1 0zm-1 1zm5 0zm-18 1zm9 0zm9 0zm-12 1zm5 0zm3 0zm-19 1zm1 0zm11 0zm6 0zm3 0zm2 0zm-3 1zm-10 2zm9 0zm-7 1zm1 0zm6 0zm3 1zm1 1zm-11 1zm5 0zm4 0zm-10 1zm11 2zm-1 1zm-5 1zm5 0zm4-22zm-1 1zm2 0zm1 0zm2 0zm1 0zm1 0zm5 0zm-11 1zm5 0zm3 0zm-4 1zm2 0zm12 0zm2 0zm-19 1zm2 0zm3 0zm3 0zm3 0zm-7 1zm3 0zm2 0zm4 0zm-15 1zm2 0zm5 0zm1 0zm11 0zm-16 1zm8 0zm-8 1zm1 0zm-3 1zm2 0zm1 0zm4 0zm9 0zm3 0zm-19 1zm3 0zm1 0zm10 0zm2 0zm-17 1zm4 0zm5 0zm1 0zm-10 1zm1 0zm9 0zm2 0zm1 0zm3 0zm2 0zm-18 1zm1 0zm1 0zm2 0zm8 0zm5 0zm-8 1zm1 0zm1 0zm1 0zm4 0zm-15 1zm1 0zm4 0zm2 0zm2 0zm-6 1zm1 0zm9 0zm6 0zm-20 1zm9 0zm-8 1zm2 0zm1 0zm3 0zm12 0zm-19 2zm12 0zm-7 1zm6 0zm-2 1zm2 0zm1 0zm-11 1zm4 0zm2 0zm4 0zm1 0zm15-4zm6 7zm-32-2zm1 0zm7 0zm4 0zm-7 1zm8 0zm-12 1zm3 0zm-5 1zm3 0zm4 0zm4 1zm10 0zm-20 1zm7 1zm-7 3zm2 0zm0 2zm10 0zm7 0zm-7 5zm-20-16zm-5 6zm7 2zm-9 11z"/>
<path stroke="#ef6048" d="M189 82zm-2 21zm27 25zm-61 2zm-60 29zm50-14zm-9 1zm7 8zm0 9zm2 0zm-7 4zm27-21zm-8 2zm2 6zm-9 4zm-4 2zm20 0zm-11 4zm8 3zm7-16zm7 0zm16 1zm-20 4zm14 1zm4 0zm-17 1zm-3 2zm4 0zm12 0zm0 1zm6 0zm-18 3zm2 0zm-7 1zm9 0zm3 0zm-9 1zm3 0zm2 0zm8 0zm5 0zm-2 1zm16-19zm-3 7zm-6 2zm12 1zm-4 2zm-9 4zm8 0zm-9 2zm5 1zm13 0zm1 0zm7-20zm20 0zm-19 12zm21 3zm28 9zm11 12zm-19-4zm-20 3zm3 4zm-19-16zm3 9zm-5 2zm-5 1zm12 0zm-4 1zm-9 4zm1 0zm7 3zm-32-22zm11 0zm0 1zm-9 3zm11 1zm3 1zm-16 1zm6 0zm2 0zm-4 2zm-3 1zm3 0zm16 0zm-17 1zm-3 1zm6 1zm3 0zm-9 2zm3 0zm6 0zm-6 1zm11 0zm4 0zm-11 1zm6 0zm10 0zm-2 1zm-18 1zm-3 1zm0 1zm10 0zm-4 2zm-25-23zm6 0zm2 0zm7 0zm-12 1zm11 1zm-4 1zm-12 1zm1 0zm3 2zm14 0zm2 0zm-10 1zm7 0zm-13 1zm8 0zm5 0zm-10 1zm11 0zm-19 1zm3 0zm4 0zm-1 1zm9 0zm3 0zm1 0zm-9 1zm-5 1zm15 0zm1 0zm-19 2zm5 0zm1 1zm3 1zm7 0zm-16 1zm11 0zm3 0zm5 0zm-23 1zm1 0zm4 0zm16 1zm1 0zm-14 1zm-21-21zm-8 1zm16 0zm2 1zm1 0zm1 0zm-3 3zm1 0zm-1 1zm-11 1zm11 0zm-10 1zm6 0zm7 0zm-7 2zm6 0zm-4 1zm5 1zm-6 1zm-1 2zm-9 2zm15 3zm-8 1zm-1 1zm-16-19zm-11 12zm-4 2zm15 6zm-7 14zm6 0zm1 6zm13-19zm-8 4zm6 0zm-2 1zm12 3zm0 4zm4 1zm-15 2zm9 3zm25-18zm-5 1zm3 0zm3 0zm-17 1zm20 0zm1 0zm-21 1zm19 0zm-6 1zm-6 1zm10 0zm1 0zm1 0zm-4 3zm4 0zm-12 2zm10 0zm2 0zm-4 2zm4 3zm-3 5zm-13 2zm22-21zm8 0zm-5 2zm4 0zm-3 1zm13 1zm-19 2zm15 0zm-5 2zm10 2zm-20 1zm3 0zm-2 1zm13 2zm-11 2zm-2 2zm18 0zm9-19zm-1 6zm-2 1zm0 2zm12 5zm-12 1zm1 0zm6 0zm15 0zm-13 1zm36-9zm0 16zm21-17zm-6 4zm-1 31zm-32-6zm2 12zm-21-19zm13 4zm-6 5zm-6 1zm7 9zm-40-22zm-1 2zm22 6zm-14 1zm4 1zm3 1zm-8 1zm-5 4zm-2 1zm-13-18zm3 7zm9 7zm-42-11zm6 3zm11 3zm-11 8zm-3 2zm-24-17zm13 11zm-8 25zm36-14zm10 3zm22 1zm-5 3zm-4 15zm43-22zm-17 8zm8 0zm0 10zm14-13zm29 13zm-58 15zm-121-5z"/>
<path stroke="#f8a283" d="M192 93zm-6 7zm-3 8zm8 0zm-6 8zm3 0zm0 2zm-2 1zm5 0zm14-16zm-8 7zm10 2zm5 0zm-2 2zm0 2zm0 1zm4 0zm-13 1zm6 0zm-4 1zm24 0zm99 24zm-61-7zm1 3zm-11-18zm-3 4zm-9 4zm4 3zm-6 5zm13 0zm-14 2zm6 0zm-5 1zm0 1zm-20-19zm7 1zm4 0zm-16 1zm7 0zm-4 1zm1 0zm-3 1zm7 0zm3 0zm0 1zm-8 1zm15 0zm-17 1zm4 0zm3 0zm-6 1zm5 0zm9 0zm1 0zm5 0zm-6 1zm6 0zm-21 1zm7 0zm11 0zm-15 2zm12 0zm5 0zm-20 1zm1 0zm4 0zm3 0zm3 0zm1 0zm4 0zm2 0zm2 0zm-10 1zm6 0zm1 0zm1 0zm3 0zm-17 1zm13 0zm2 0zm-16 1zm9 0zm5 0zm-17 1zm2 0zm11 0zm1 0zm1 0zm3 0zm-10 1zm9 0zm-11 1zm3 0zm8 0zm-16 1zm1 1zm2 0zm2 0zm3 0zm-26-23zm9 1zm-5 1zm-3 1zm2 1zm11 0zm-15 1zm2 1zm13 0zm-16 1zm4 0zm1 1zm3 0zm6 0zm1 0zm-14 1zm13 0zm-17 1zm15 0zm-16 1zm16 2zm1 0zm-10 1zm-3 1zm3 0zm9 0zm-2 1zm1 0zm-1 1zm5 0zm-14 1zm7 0zm-10 1zm8 0zm6 0zm1 0zm-32-15zm7 2zm-11 4zm33 14zm6 0zm-1 1zm-6 3zm-4 2zm8 2zm3 4zm1 2zm-9 2zm7 4zm-7 3zm23-23zm-6 1zm10 0zm-13 1zm-4 1zm6 0zm1 0zm2 0zm3 0zm7 0zm-13 1zm-3 1zm13 0zm2 0zm-13 1zm6 0zm1 0zm-3 1zm3 0zm5 0zm-14 1zm1 0zm6 0zm-3 1zm1 0zm9 0zm-8 1zm7 1zm-3 1zm5 0zm4 0zm-11 1zm4 0zm-6 2zm-6 2zm17 2zm3 0zm-8 3zm20-21zm-1 1zm6 0zm-5 1zm-1 1zm-5 2zm12 0zm-14 1zm9 0zm3 0zm-12 1zm14 0zm-12 1zm10 2zm-12 1zm2 0zm1 0zm1 0zm-6 1zm1 3zm14 1zm-11 1zm1 0zm-3 1zm9 0zm-2 1zm10 0zm-17 2zm3 1zm25-21zm0 7zm-7 5zm2 1zm6 2zm4 0zm18-16zm-4 2zm3 4zm-4 10zm32-15zm19 0zm-27 30zm-18 6zm-2 4zm-6-18zm-20 11zm4 4zm16 3zm-15 3zm-15-15zm0 1zm1 3zm-5 5zm2 1zm-11 3zm-7-11zm-9 5zm-12 6zm13 4zm-22-15zm-6 1zm7 8zm-80-8zm83 28zm39-11zm12 0zm-17 3zm14 1zm1 0zm-14 14zm-6 1zm39-8zm-15 10zm34-21zm10 22zm-31 10zm-16-5zm-15 1zm-27 10zm-29 2zm-26 3zm139 9zm-101 18z"/>
<path stroke="#1b6b2e" d="M145 35zm9 1zm-7 3zm9 0zm-12 1zm9 0zm6 1zm-4 1zm2 1zm-9 1zm3 0zm3 0zm-6 1zm1 0zm-5 1zm1 0zm1 0zm5 0zm7 0zm8 0zm-21 1zm4 0zm1 0zm2 0zm2 0zm-26-8zm9 0zm5 1zm-4 1zm2 0zm-6 1zm9 0zm-1 2zm-14 1zm13 0zm2 0zm0 2zm-87 15zm1 1zm6 0zm-9 1zm6 0zm-7 1zm11 0zm-4 1zm-6 2zm1 2zm3 0zm3 0zm-3 1zm19 0zm54-23zm10 1zm-3 1zm5 0zm-3 2zm-4 1zm1 0zm-5 1zm9 0zm1 0zm-13 1zm8 1zm2 0zm2 0zm2 0zm-4 1zm2 0zm-7 3zm1 0zm4 0zm-7 1zm10 0zm-14 1zm10 0zm3 0zm-2 1zm2 0zm-4 1zm3 1zm3 0zm-13 3zm2 0zm10 3zm3-23zm3 0zm3 0zm3 0zm2 0zm2 0zm-13 1zm3 0zm8 0zm3 0zm-10 1zm3 0zm2 0zm1 0zm6 0zm1 0zm-18 1zm3 0zm3 0zm2 0zm3 0zm4 0zm-13 1zm7 0zm1 0zm1 0zm1 0zm-10 1zm2 0zm1 0zm-2 1zm1 0zm7 0zm1 0zm-11 1zm9 0zm7 0zm-16 1zm2 0zm2 0zm3 0zm1 0zm1 0zm1 0zm4 0zm5 0zm-20 1zm7 0zm1 0zm2 0zm1 0zm3 0zm1 0zm2 0zm1 0zm-10 1zm1 0zm1 0zm4 0zm-7 1zm1 0zm1 0zm2 0zm2 0zm5 0zm-16 1zm2 0zm2 0zm1 0zm2 0zm3 0zm4 0zm-12 1zm1 0zm10 0zm2 0zm2 0zm-17 1zm1 0zm8 0zm1 0zm10 0zm-18 1zm1 0zm4 0zm1 0zm-9 1zm1 0zm2 0zm3 0zm2 0zm4 0zm2 0zm-7 1zm5 0zm9 0zm-17 1zm2 0zm1 0zm9 0zm-11 1zm8 0zm-10 1zm-4 1zm3 0zm8 0zm-9 1zm2 0zm3 0zm13 0zm-20 1zm25-20zm-1 5zm2 1zm-17 15zm5 1zm7 0zm-2 2zm-24-3zm3 3zm-65 2zm2 2zm-7 2zm12 7zm-5 3zm5 1zm-11 1zm4 0zm0 2zm-15-23zm-5 1zm-1 2zm12 0zm-14 4zm16 0zm1 1zm-6 2zm6 6zm0 2zm5 6zm6 3zm-7 1zm3 0zm14 1zm-14 1zm2 2zm8 0zm-8 1zm4 1zm11 1zm-11 3zm6 1zm3 1zm2 5zm4-6zm-2 1zm1 1zm-2 4zm1 7zm-6-2zm1 3zm-7 1zm1 1z"/>
<path stroke="#f0e010" d="M229 381zm-33-2zm-17 9zm7 1zm5 2zm-2 1zm1 4zm-1 6zm1 0zm16-16zm-4 1zm-1 8zm5 1zm6 1zm-6 2zm-7 1zm4 1zm5 1zm5 1zm-14 1zm3 0zm1 0zm1 1zm2 1zm2 0zm-4 1zm16-8zm-4 4zm2 0zm11 1zm4 2zm-17 1zm2 0zm10 0zm-11 1zm4 0zm-4 1zm-1 1zm8 2zm7 0zm-14 1zm12 0zm-13 3zm0 1zm1 1zm11 1zm-2 2zm-9 1zm12 2zm-11 1zm-1 1zm19 0zm-17 1zm4 2zm1 0zm1 0zm7 1zm-16 1zm3 0zm1 0zm12 0zm-24-23zm7 0zm-9 1zm6 0zm-4 1zm4 0zm-15 1zm10 1zm-5 1zm0 1zm7 0zm-10 1zm9 1zm5 1zm2 0zm-9 1zm2 0zm6 0zm-12 2zm7 0zm1 0zm-5 1zm8 0zm1 0zm-6 1zm5 1zm-5 1zm6 0zm1 0zm-9 1zm3 0zm-8 1zm1 0zm9 0zm1 0zm0 1zm2 0zm-10 4zm11 0zm-35-14zm7 5zm28 13zm11-3zm3 1zm-7 1zm2 2zm12 3zm-20 1zm11 10zm32 5zm86-21zm22 15zm7 5zm53-22zm-7 1zm-1 18zm35-14zm134 20zm-83 19zm-18-20zm-32 11zm-3 11zm-22-17zm-14 10zm-31 1zm-113 31zm85-12zm0 11zm11-17zm2 13zm16-3zm69 1zm49 19zm-88 2zm1 8zm-22-11zm-26 10zm-18-13zm-6 2zm5 6zm2 4zm1 0zm-7 2zm7 0zm-26-10zm-2 5zm-3 7zm-16-21zm-21 20zm13 20zm24-16zm-10 4zm12 4zm1 0zm4 2zm4 4zm-12 2zm13 2zm-6 3zm25-21zm-11 2zm16 1zm-14 1zm-7 4zm4 0zm14 1zm-18 1zm0 3zm17 1zm-14 1zm3 0zm4 3zm7 0zm-5 1zm26-18zm-8 3zm-5 6zm1 1zm6 0zm6 2zm-13 3zm18 4zm-8 1zm13-19zm23 10zm21 1zm-20 7zm24-18zm12 2zm-5 2zm8 3zm-1 9zm-10 1zm21-7zm82 1zm33 25zm-39 3zm15 2zm-34-14zm11 0zm-14 10zm-52-6zm-49-3zm-14-4zm-5 5zm10 0zm-14 3zm19 11zm-25-23zm-22 3zm20 0zm-8 1zm-1 2zm4 0zm5 3zm-11 1zm-2 1zm-2 1zm13 1zm-5 1zm6 0zm-12 2zm1 3zm-7 2zm18 1zm-41-22zm19 0zm0 1zm1 0zm-11 1zm11 1zm-21 5zm0 1zm2 0zm20 0zm-11 2zm-11 1zm15 2zm-14 1zm17 3zm-16 5zm11 0zm-19-22zm-17 7zm20 4zm-17 4zm13 0zm-14 4zm-21-6zm22 13zm-2 6zm4 2zm5 11zm9 0zm8-22zm0 2zm10 0zm6 2zm-17 1zm6 2zm12 0zm-3 2zm-4 1zm-5 1zm1 5zm1 0zm-8 2zm14 3zm-8 2zm5 0zm29-22zm-13 1zm-1 3zm6 2zm-6 2zm2 0zm1 5zm-9 1zm15 2zm-15 2zm9 2zm-2 1zm3 0zm21-17zm-2 1zm18 2zm-15 2zm-6 7zm11 5zm19-22zm9 3zm3 1zm2 0zm-22 2zm9 0zm-9 14zm41-14zm-7 7zm12 2zm-5 1zm-9 3zm33-10zm3 0zm-18 4zm21 4zm0 3zm10-17zm-2 3zm30 4zm3 6zm-8 2zm21-15zm-28 21zm-1 14zm17 4zm-24-13zm-2 17zm-18-14zm-14 4zm-2 9zm-7-20zm-45 4zm12 1zm10 17zm-47-18zm8 6zm-6 3zm-4-14zm1 0zm-10 23zm-34-19zm0 12zm19 4zm-5 2zm-53-8zm38 14zm9 5zm-1 11zm-6 1zm-3 1zm29-18zm-6 1zm19 6zm14-1zm-8 3zm22 2zm7-13zm29-2zm-5 13zm12 10zm16-20zm9 3zm-12 5zm-7 12zm28-21zm4 3zm-6 17zm22-12zm51 12zm10 21zm-50-6zm-41-12zm-17 17zm8 1zm-32-8zm-7-11zm-17 12zm-22-10zm18 2zm-1 2zm-25-4zm-31 14zm-14 15zm19 2zm4 3zm6-12zm0 23zm39-10zm-11 10zm35-2zm20-12zm30-6zm-3 1zm25 16zm13-18zm18 7zm-39 29zm-25 2zm-27-16zm-10 13zm-40 8zm-5-20zm-18 19zm16 7zm-2 6zm38-1zm13 8zm49 3zm23-1zm-4 6zm0 1zm-11 9z"/>
<path stroke="#d9bc8e" d="M626 190zm-20-6zm5 6zm-83 1zm-10 24zm29-8zm-1 8zm26-20zm-8 8zm15 4zm15 7zm18-12zm-12 11zm11 1zm40 10zm-6-5zm-14 1zm-27 1zm-2 17zm7 0zm8 0zm-1 1zm-31-19zm12 2zm-13 6zm14 0zm-21 1zm-1 3zm4 1zm5 4zm4 1zm-27-13zm10 4zm-11 2zm11 2zm-16 1zm-28-18zm2 21zm-18-2zm7 25zm14-9zm-2 3zm1 0zm13 2zm6 1zm9-16zm14 1zm-20 6zm0 6zm20 7zm15-13zm-13 2zm12 0zm-4 1zm-8 3zm7 5zm5 0zm8 1zm-17 3zm22-19zm15 1zm-5 2zm3 0zm-12 3zm1 2zm2 3zm11 2zm-7 1zm0 1zm3 1zm33-13zm-16 28zm-4 1zm2 10zm-5-22zm-16 2zm-3 5zm-1 8zm15 2zm-14 5zm-13-22zm5 2zm-17 11zm15 0zm-10 1zm7 0zm1 2zm4 1zm-5 5zm-28-19zm5 0zm-10 2zm4 0zm-8 3zm14 1zm-15 2zm19 7zm-7 2zm-23-11zm3 1zm-3 1zm-13 3zm8 9zm-71 16zm28-2zm34-7zm-20 15zm44-3zm-3 5zm12-19zm8 14zm25-17zm-12 4zm1 0zm4 1zm12 1zm-8 5zm-14 4zm19 3zm-17 2zm15 1zm12-22zm3 1zm-4 1zm-1 7zm28-8zm14 2zm-6 5zm10-8zm-49 25zm17 4zm-12 3zm4 14zm-19-21zm3 0zm-10 4zm11 0zm-7 7zm3 1zm-7 3zm-3 3zm-32-19zm-6 6zm-2 8zm-15-9zm-62 5zm-2 36zm65-11zm2-11zm17 1zm-6 12zm28-10zm29-2zm-19 1zm20 1zm-12 7zm1 4zm24-13zm6 6zm-14 4zm32-8zm12 5zm-13 9zm-19 7zm-110 5zm15 8zm-26 23zm60 13zm-27 13zm-92 2z"/>
<path stroke="#a9d110" d="M212 357zm123 18zm-30-10zm-58-1zm0 28zm-5 6zm69-1zm1-10zm45 33zm-43-3zm9 14zm-14-17zm-25 12zm-27-15zm6 19zm-64 11zm32-2zm51-2zm8 9zm1 9zm28-18zm13 9zm-19 9zm18 0zm12-17zm-6 13zm25 3zm-20 3zm-8 6zm-10 11zm-28-4zm-41-14zm-8 2zm-25-1zm34 32zm5 6zm-13 4zm62-18zm1 11zm-23 6zm61-6zm47 5zm-34 13zm9 12zm-49-16zm-20 3zm-29 10zm-12-5zm15 31zm17-7zm34-4zm20-6zm-5 1zm5 19zm16-1zm-7 8zm-1 7zm-77-5zm65 64z"/>
<path stroke="#c64cae" d="M659 393zm6 2zm2 0zm2 0zm-4 7zm9-3zm3 12zm-10 11zm-38-10zm14 2zm-14 7zm-20 2zm-5 21zm22-12zm3 11zm57 4z"/>
<path stroke="#e394d4" d="M441 358zm76 25zm-193 22zm124 45zm60-16zm-15 44zm-103 8zm35-5zm127 46zm-33-12zm-142-8zm117 68zm-90-21zm-32 4zm-24 33zm81-9zm0 7zm-1 17zm-21 69z"/>
<path stroke="#a9d3ef" d="M209 167zm56 43zm-10 17zm0 32zm30-9zm-47 16zm-38 14zm16 19zm38-2zm-59 54zm43-13zm67 4zm10-5zm27 44zm-151 34z"/>
<path stroke="#676363" d="M227 294zm22 58zm17 75zm-87-11zm63 33zm58-8zm50-6zm-113 50zm101 5zm10 18zm3 11zm-6 2zm-46 8zm74 68z"/>
<path stroke="#8a4115" d="M832 69zm1 1zm32 25zm-25-19zm3 5zm-2 1zm2 2zm7 0zm3 1zm0 2zm-1 1zm-7 1zm2 0zm0 2zm9 0zm-14 1zm-2 1zm3 0zm2 0zm7 0zm2 0zm-11 1zm2 0zm6 0zm-27-22zm0 2zm5 0zm4 0zm0 1zm1 0zm-11 1zm6 0zm6 0zm-19 1zm2 0zm10 0zm8 0zm1 0zm-14 1zm5 0zm1 0zm2 0zm7 0zm-22 2zm23 0zm-21 2zm-2 2zm14 0zm3 0zm-15 1zm2 0zm10 0zm-3 1zm2 0zm6 0zm1 0zm-19 1zm6 0zm15 0zm-13 1zm-9 1zm10 0zm10 0zm1 0zm-16 1zm1 0zm-2 1zm12 0zm1 0zm-9 2zm-5 1zm2 1zm-10-23zm2 0zm-16 3zm2 0zm16 0zm-15 2zm10 1zm-5 1zm1 1zm9 0zm-16 1zm3 0zm1 0zm10 1zm-8 2zm-12 1zm21 0zm-22 2zm4 0zm12 0zm-14 1zm6 1zm12 0zm-18 1zm9 0zm9 0zm1 0zm1 0zm-15 1zm13 0zm-14 1zm4 0zm4 0zm3 0zm1 0zm-12 1zm11 0zm-14 1zm9 0zm2 0zm-11 1zm2 0zm17 0zm-31-12zm-9 2zm3 1zm-3 1zm14 1zm-18 1zm17 1zm1 1zm-18 1zm3 0zm1 2zm9 1zm1 0zm-171-7zm-25-5zm-3 1zm4 3zm1 7zm-36-9zm7 4zm7 1zm-5 1zm-5 4zm11 0zm-24-11zm0 2zm3 1zm3 0zm-1 3zm-17 1zm-1 1zm16 1zm-15 2zm10 0zm3 0zm-25 0zm-19 20zm-1 1zm23-15zm2 1zm-4 5zm5 0zm-11 3zm3 0zm3 0zm2 0zm0 1zm3 6zm-7 2zm30-23zm-7 1zm6 0zm-19 1zm15 1zm6 0zm-2 2zm-15 1zm5 1zm-6 1zm5 0zm8 1zm5 0zm-17 2zm15 0zm-13 1zm13 0zm1 1zm-21 1zm12 0zm-12 2zm2 0zm15 0zm-6 2zm6 0zm-12 1zm9 0zm1 0zm6 0zm-22 1zm8 0zm5 0zm5 0zm1 0zm1 0zm3 0zm-16 1zm10 0zm-8 1zm1 0zm11 0zm1 0zm1 0zm-3 1zm14-23zm-8 1zm11 0zm6 1zm-1 1zm0 3zm-16 1zm12 1zm-6 2zm10 0zm-16 1zm15 0zm-13 1zm10 0zm-11 1zm4 0zm8 0zm-13 1zm11 0zm3 0zm1 2zm4 0zm-15 1zm7 0zm1 0zm-4 1zm2 0zm6 0zm-7 1zm9 0zm-2 1zm-14 1zm9 0zm2 0zm4 0zm4 0zm-23 1zm5 0zm14 0zm3 0zm-20 1zm6 0zm4 0zm24-19zm-2 1zm-5 1zm6 0zm2 0zm-3 2zm-6 2zm3 0zm4 0zm3 0zm6 0zm-3 1zm-12 1zm4 0zm6 0zm-8 2zm15 0zm-16 1zm13 0zm-19 1zm17 0zm2 0zm-18 1zm12 0zm-13 3zm1 0zm4 0zm11 0zm-13 2zm17 0zm-10 1zm10 0zm3 0zm21-17zm-11 3zm10 4zm-19 1zm3 1zm14 1zm-12 1zm12 4zm-11 1zm37-13zm-3 6zm2 2zm-18 2zm28-10zm1 3zm3 4zm-7 1zm21 5zm-14 1zm24-7zm0 1zm15 4zm40-4zm-4 1zm-10 1zm39-19zm5 0zm-7 6zm-1 1zm1 1zm-4 3zm-8 1zm9 0zm1 1zm7 0zm1 2zm-5 3zm1 0zm-3 2zm1 0zm1 0zm4 3zm12-23zm9 0zm2 0zm-14 2zm3 1zm2 1zm-9 1zm20 1zm1 0zm-10 1zm2 0zm9 0zm-15 1zm11 1zm-7 2zm9 0zm-13 2zm1 2zm4 0zm1 0zm4 0zm2 0zm-18 1zm2 0zm2 0zm4 0zm2 0zm6 1zm-17 1zm9 0zm13 0zm-17 1zm5 0zm3 0zm-11 1zm7 0zm8 0zm-10 2zm16 1zm3-23zm2 0zm10 0zm2 0zm-14 1zm8 0zm4 0zm-13 1zm8 0zm11 0zm2 0zm-3 1zm-10 1zm2 0zm-4 1zm9 0zm-4 1zm4 0zm5 0zm-21 1zm1 0zm11 0zm-11 1zm1 0zm3 0zm10 0zm5 0zm3 2zm-15 1zm6 0zm-14 1zm3 0zm9 0zm1 0zm1 0zm5 0zm1 0zm-9 1zm6 0zm-17 1zm11 0zm1 0zm1 0zm3 0zm6 0zm-19 1zm6 0zm5 0zm2 0zm-16 1zm6 0zm1 0zm1 0zm1 0zm12 0zm-19 1zm4 0zm12 0zm-13 1zm3 0zm8 0zm-11 1zm9 0zm3 1zm-1 1zm-8 1zm4 0zm3 0zm5 0zm2 0zm-22 1zm2 0zm3 0zm12 0zm4 0zm2 0zm11-23zm12 0zm-5 1zm6 0zm-15 1zm2 0zm6 0zm1 0zm2 0zm-14 2zm-1 1zm2 0zm3 0zm-5 1zm9 0zm8 0zm-13 1zm-5 1zm1 0zm3 1zm15 0zm-22 1zm19 0zm4 0zm-14 1zm1 0zm-6 1zm2 0zm7 0zm4 0zm-17 1zm3 0zm1 0zm11 0zm-14 1zm1 0zm14 0zm-9 1zm2 0zm10 0zm-19 1zm5 0zm13 0zm-8 1zm11 0zm-20 1zm3 0zm4 0zm7 0zm2 0zm-10 1zm8 0zm8 0zm-12 1zm8 0zm2 0zm-7 1zm4 0zm1 0zm2 0zm-20 1zm4 0zm3 0zm14 0zm1 0zm-23 1zm10 0zm3 0zm1 0zm1 0zm6 0zm19-23zm2 0zm-7 1zm10 0zm-18 1zm3 0zm1 0zm1 0zm4 1zm-8 1zm14 0zm-3 1zm6 0zm-21 1zm13 0zm-13 1zm4 0zm14 0zm-18 1zm18 0zm-17 1zm12 0zm8 0zm-20 1zm2 0zm5 0zm9 0zm-12 1zm-2 1zm12 0zm-12 2zm10 0zm-13 1zm13 0zm3 0zm-16 1zm1 0zm3 0zm2 0zm16 0zm-19 1zm1 0zm15 0zm3 0zm-21 1zm4 0zm7 0zm6 0zm-16 1zm4 0zm2 0zm2 0zm4 0zm4 0zm-9 1zm-9 1zm17 0zm-13 1zm1 0zm1 0zm8 0zm-4 1zm8 0zm9-22zm-3 2zm0 1zm6 0zm-2 1zm-2 1zm3 3zm3 1zm-8 5zm10 3zm-3 2zm-3 1zm0 2zm2 0zm-4 1zm1 1zm1 0zm4 0zm-7 1zm6 1zm-7 1zm8 1zm-7 1zm3 0zm7 0zm-5 1zm-6 1zm3 0zm1 1zm7 0zm-5 1zm6 0zm-7 1zm3 0zm-2 1zm-5 1zm3 0zm1 0zm-1 1zm-2 1zm8 0zm2 0zm-8 1zm-2 1zm11 0zm-9 1zm-3 1zm1 1zm-1 1zm2 0zm6 0zm-3 1zm2 0zm-6 1zm-19-23zm10 0zm3 0zm-20 1zm1 0zm5 0zm3 0zm-6 1zm1 0zm-2 1zm6 0zm4 0zm4 0zm3 0zm3 0zm-21 1zm5 0zm10 0zm1 0zm-15 1zm3 0zm9 0zm-14 1zm7 0zm10 0zm-12 1zm6 1zm-2 1zm4 0zm2 0zm1 0zm-12 1zm6 0zm2 0zm3 0zm-13 1zm2 0zm5 0zm9 0zm-15 1zm5 0zm6 0zm3 0zm-8 1zm3 0zm8 0zm-2 1zm-13 1zm12 0zm2 0zm4 0zm-16 1zm5 0zm1 0zm10 1zm-17 1zm3 0zm4 0zm8 0zm-10 1zm-4 2zm1 0zm2 0zm1 0zm1 0zm3 0zm4 0zm-4 2zm-39-23zm6 0zm2 0zm2 0zm1 0zm4 0zm1 0zm1 0zm3 0zm-20 1zm20 0zm-2 1zm4 0zm1 2zm0 1zm-3 1zm3 2zm-47-8zm15 0zm1 0zm-13 1zm8 0zm3 1zm4 0zm-13 1zm2 0zm8 0zm-15 1zm7 0zm3 0zm3 0zm-11 1zm2 0zm8 1zm3 0zm-15 1zm1 0zm13 0zm-7 1zm-7 1zm1 0zm11 1zm-4 1zm1 0zm-1 2zm-6 1zm-2 1zm7 0zm-7 1zm4 0zm2 1zm-5 1zm-1 1zm-8-19zm5 0zm-4 1zm-4 1zm3 3zm-7 1zm10 0zm1 0zm2 0zm-8 1zm9 0zm-19 1zm2 0zm5 0zm5 1zm1 0zm-13 1zm11 0zm-6 1zm2 0zm3 0zm2 0zm-16 1zm19 1zm0 1zm-18 1zm4 0zm1 0zm6 0zm-6 1zm11 0zm4 0zm1 0zm1 0zm-18 1zm11 0zm1 0zm1 0zm3 0zm-16 1zm13 0zm3 0zm1 0zm-16 1zm13 0zm1 0zm-14 1zm7 0zm-9 1zm18 0zm-19 1zm13 0zm-12 1zm10 0zm1 0zm5 0zm-23-19zm-1 1zm-9 1zm3 1zm5 1zm-5 1zm-13 1zm9 0zm10 0zm-15 1zm8 2zm-7 1zm12 0zm-10 2zm6 0zm-13 1zm4 0zm15 0zm-14 2zm6 0zm2 0zm-12 2zm20 0zm-11 1zm6 0zm-7 1zm8 0zm5 0zm-28-16zm2 2zm-17 1zm8 1zm4 1zm0 7zm0 1zm6 0zm-45-15zm15 6zm-15 1zm13 1zm1 3zm-31-11zm-4 1zm18 9zm-21 2zm3 0zm13 1zm-8 2zm13 0zm-31-17zm2 1zm-9 1zm4 0zm-6 3zm0 5zm-3 7zm-18-12zm-3 1zm1 2zm-4 1zm0 2zm12 0zm-13 4zm15 2zm-39-20zm6 2zm6 4zm-2 1zm6 1zm-18 1zm6 0zm-5 1zm20 0zm-19 2zm18 1zm-19 1zm6 0zm-5 1zm8 0zm1 0zm5 0zm3 0zm-11 2zm1 2zm4 1zm-32-20zm1 1zm8 0zm1 0zm-9 1zm17 0zm-21 1zm15 0zm0 1zm-15 1zm8 0zm-9 1zm3 0zm1 0zm-4 1zm5 0zm9 0zm-15 1zm5 0zm8 0zm-11 1zm4 0zm-2 1zm5 0zm-9 1zm9 0zm-6 1zm18 0zm1 0zm-19 1zm2 0zm6 0zm4 0zm2 0zm1 0zm-16 1zm7 0zm12 0zm-11 1zm2 0zm8 1zm-20 1zm5 0zm1 0zm1 0zm3 0zm11 0zm-21 1zm10 0zm2 1zm4 0zm-16 1zm3 0zm16 1zm-17 1zm1 1zm16 0zm3 0zm-45-23zm4 0zm5 0zm1 0zm2 0zm4 0zm1 0zm-17 1zm8 0zm3 0zm10 0zm-19 1zm12 0zm7 0zm-14 1zm2 0zm4 0zm4 0zm-6 1zm1 0zm3 0zm5 0zm2 0zm-22 1zm3 0zm8 0zm1 0zm3 0zm1 0zm-17 1zm9 0zm2 0zm2 0zm1 0zm3 0zm-2 1zm4 0zm-5 1zm1 0zm1 0zm1 0zm5 0zm1 0zm-23 1zm7 0zm-2 1zm3 0zm1 0zm7 0zm1 0zm-17 1zm2 0zm3 0zm5 0zm3 0zm2 0zm1 0zm2 0zm1 0zm1 0zm-20 1zm2 0zm5 0zm2 0zm1 0zm4 0zm8 0zm-16 1zm9 0zm4 0zm2 0zm2 0zm-20 1zm5 0zm3 0zm2 0zm6 0zm-15 1zm3 0zm1 0zm3 0zm4 0zm2 0zm-17 1zm2 0zm1 0zm9 0zm10 0zm-22 1zm3 0zm3 0zm3 0zm3 0zm1 0zm9 0zm-11 1zm11 0zm1 0zm-23 1zm1 0zm9 0zm4 0zm4 0zm-14 1zm3 0zm4 0zm3 0zm-4 1zm2 0zm3 0zm2 0zm-16 1zm8 0zm9 0zm1 0zm3 0zm-1 1zm1 0zm-34-22zm7 0zm2 0zm-15 1zm13 0zm-10 1zm7 0zm2 0zm2 0zm1 0zm1 0zm-17 1zm1 0zm2 0zm1 0zm12 1zm-16 1zm3 0zm15 0zm-18 1zm7 0zm-4 1zm11 0zm4 0zm-17 1zm6 0zm6 0zm1 0zm-18 1zm15 0zm7 0zm-19 1zm5 0zm3 0zm6 1zm3 0zm2 0zm0 1zm-9 1zm9 0zm-14 1zm12 0zm-21 1zm15 0zm5 0zm1 0zm2 0zm-15 1zm12 0zm2 0zm1 0zm-18 1zm4 0zm9 1zm-4 1zm2 0zm2 0zm3 0zm2 0zm-20 1zm1 0zm11 0zm5 0zm1 0zm-13 1zm4 0zm4 0zm1 0zm1 0zm-6 1zm4 0zm-25-22zm1 8zm6 1zm-4 1zm5 3zm-11 1zm9 0zm2 0zm-10 1zm6 0zm-14 3zm6 1zm-8 2zm12 1zm-17-21zm1 1zm0 3zm-4 4zm-11 2zm8 1zm-9 8zm-14-16zm1 7zm5 2zm-98 16zm9 7zm31-12zm15 2zm8 1zm-4 16zm30-6zm2 2zm-4 2zm3 2zm31-20zm-21 1zm10 1zm3 5zm9 6zm-6 1zm3 7zm-17 1zm14 1zm27-23zm-2 1zm1 0zm4 0zm-11 3zm5 1zm-17 2zm5 0zm10 0zm6 0zm-1 3zm-2 1zm2 0zm-19 4zm22 2zm5-17zm1 0zm9 1zm6 0zm3 0zm-21 2zm3 0zm12 1zm-14 1zm1 0zm1 0zm16 0zm1 1zm-20 2zm7 0zm2 0zm5 0zm1 0zm0 1zm3 0zm-13 1zm3 0zm3 0zm4 0zm-5 1zm1 0zm1 0zm8 0zm-4 1zm-7 1zm10 0zm-10 2zm0 1zm3 0zm-11 1zm9 0zm3 0zm5 0zm1 0zm-10 1zm4 0zm2 0zm4 0zm-20 1zm11 0zm10 0zm-5 2zm3 0zm-16 1zm19 0zm-1 1zm8-23zm3 1zm5 0zm-12 1zm6 0zm1 0zm2 0zm2 0zm6 0zm2 0zm1 0zm-22 1zm16 0zm2 0zm2 0zm-16 1zm10 0zm7 0zm-11 1zm4 0zm-13 1zm3 0zm10 0zm-7 1zm3 0zm7 0zm5 0zm-15 1zm-7 1zm1 0zm9 0zm1 0zm4 1zm-9 1zm2 0zm2 1zm5 0zm8 0zm-18 1zm7 0zm8 0zm3 0zm-22 1zm9 2zm12 0zm-9 1zm3 0zm-3 2zm-12 1zm9 0zm-4 1zm10 1zm6 0zm-11 1zm5 0zm4 0zm1 0zm3-23zm1 0zm2 0zm2 0zm4 0zm1 0zm6 0zm-15 1zm2 0zm1 0zm9 0zm1 0zm6 0zm-11 2zm3 0zm6 0zm2 0zm-18 1zm1 1zm19 0zm-21 1zm8 0zm1 0zm-7 2zm6 0zm-6 1zm2 0zm0 1zm8 0zm-10 1zm12 0zm-14 1zm1 0zm9 0zm1 0zm9 0zm-18 1zm9 0zm-8 1zm8 0zm3 0zm-14 1zm5 0zm-5 1zm13 0zm-5 1zm5 0zm7 0zm-12 1zm10 0zm-7 1zm2 0zm4 0zm-17 3zm16 0zm4 0zm0 1zm5-23zm7 0zm3 0zm10 0zm-1 1zm-19 1zm5 1zm-2 1zm12 0zm4 1zm-14 2zm2 0zm4 1zm10 0zm-23 1zm13 1zm1 0zm-6 1zm-7 2zm12 0zm10 0zm-19 1zm8 2zm-6 1zm-5 2zm12 2zm6 0zm-15 2zm12 0zm23-21zm-1 2zm8 0zm-20 1zm13 0zm1 0zm3 1zm4 0zm-10 2zm-9 1zm17 2zm-8 6zm-5 1zm12 2zm-5 2zm2 1zm10-23zm8 0zm3 1zm2 0zm5 0zm-9 1zm4 1zm-14 2zm16 0zm-10 3zm2 1zm3 0zm-7 2zm-6 2zm8 0zm-3 1zm8 0zm-7 3zm-2 1zm17 4zm11-21zm12 0zm-17 1zm9 1zm2 2zm-7 1zm-7 2zm8 0zm5 0zm-7 6zm17 0zm-2 1zm-12 1zm-9 4zm8 1zm1 0zm6 0zm-11 2zm21-23zm11 7zm11 0zm-22 1zm13 1zm8 0zm-19 4zm10 0zm-11 1zm8 0zm6 2zm3 2zm-9 1zm3 4zm13-23zm21 0zm-8 1zm2 2zm-13 2zm4 0zm3 3zm11 2zm-13 1zm12 0zm-6 1zm6 10zm18-22zm1 0zm-6 2zm13 0zm-5 1zm-15 1zm9 0zm1 1zm10 0zm-9 2zm0 1zm7 1zm-17 2zm19 0zm-23 1zm4 0zm12 0zm5 0zm1 0zm-13 2zm-2 4zm11 0zm4 0zm-22 1zm5 0zm11 0zm6 0zm-17 1zm8 0zm7 0zm2 0zm-3 1zm4 0zm-11 1zm8 0zm-20 1zm4 0zm12 0zm1 0zm24-23zm4 0zm-11 1zm5 0zm2 0zm2 0zm-13 1zm2 0zm9 0zm2 0zm-9 1zm6 0zm2 0zm3 0zm-19 1zm1 0zm15 0zm2 0zm-11 1zm11 0zm-9 1zm-8 1zm13 0zm-13 1zm6 0zm6 0zm7 0zm-22 1zm14 0zm-13 1zm1 0zm6 0zm7 0zm6 0zm-12 2zm-8 1zm7 0zm3 0zm-8 1zm1 0zm1 0zm12 0zm-14 1zm5 0zm5 0zm5 0zm-7 1zm4 0zm-4 1zm1 0zm3 0zm2 0zm2 0zm-9 1zm2 0zm3 0zm-12 1zm2 0zm2 0zm11 0zm-1 1zm-12 1zm4 0zm4 0zm2 0zm-10 1zm2 0zm2 0zm15-22zm2 0zm56 0zm2 1zm8 0zm1 0zm2 0zm-14 1zm4 0zm1 0zm5 0zm1 0zm3 0zm-1 2zm-11 1zm2 0zm2 0zm1 0zm2 0zm1 0zm4 0zm-13 1zm1 0zm1 0zm8 0zm-4 1zm-3 1zm1 0zm3 0zm1 0zm-4 1zm4 0zm3 0zm-6 2zm1 0zm5 0zm2 0zm-3 1zm2 0zm-6 1zm4 1zm-5 2zm5 0zm2 0zm-8 2zm1 0zm8 0zm-9 1zm2 0zm1 0zm1 0zm-3 1zm3 0zm-3 1zm1 0zm4 1zm-5 1zm5 0zm4-21zm6 0zm-3 1zm6 0zm-4 2zm11 1zm-15 1zm0 1zm6 0zm1 1zm-7 1zm10 0zm-4 1zm3 0zm4 0zm-14 1zm0 1zm15 0zm-15 1zm12 2zm-12 2zm1 1zm7 0zm4 1zm5 1zm-13 1zm1 0zm2 0zm9 2zm-12 1zm6 0zm1 0zm6 0zm-15 1zm0 1zm2 0zm1 0zm9 0zm2 0zm-3 1zm3 0zm-7 1zm0 2zm7 0zm-8 1zm9 0zm-17 1zm1 0zm13 0zm-9 2zm2 0zm1 0zm1 0zm3 0zm3 0zm-15 1zm5 0zm4 0zm7 0zm2 0zm-17 1zm4 0zm5 0zm-4 1zm3 0zm2 0zm-11 1zm5 0zm9 0zm4 0zm-15 1zm3 0zm2 0zm6 0zm-14 1zm5 0zm7 0zm-12 1zm5 0zm2 0zm7 0zm5 2zm1 0zm1 0zm-21 1zm1 0zm14 0zm4 0zm-4 1zm6 0zm-17 1zm14 0zm-26-23zm0 1zm-1 4zm4 0zm-2 1zm0 4zm-2 1zm1 1zm2 1zm0 1zm-1 2zm-2 1zm6 0zm-1 2zm-2 1zm-2 1zm5 0zm2 0zm-3 1zm-1 1zm3 0zm-88-23zm3 0zm4 0zm-7 1zm4 0zm3 0zm-5 1zm3 0zm-5 1zm5 0zm5 0zm-16 1zm16 0zm-11 1zm9 0zm-4 1zm-8 1zm9 0zm1 0zm-12 1zm2 0zm2 1zm6 0zm-3 1zm3 1zm-5 1zm-5 2zm3 0zm6 0zm3 0zm1 0zm-6 1zm4 0zm-11 1zm8 0zm4 0zm-11 1zm8 0zm4 0zm-9 1zm1 1zm7 0zm-6 1zm-5 1zm5 0zm-5 1zm9 0zm-10 1zm1 0zm1 0zm5 0zm1 0zm3 0zm-31-21zm11 0zm0 1zm3 0zm3 0zm-18 1zm7 0zm6 0zm7 0zm-3 1zm2 0zm-16 1zm3 0zm4 0zm7 0zm-10 1zm5 0zm1 0zm7 1zm-3 2zm1 0zm-21 1zm12 0zm5 0zm5 0zm-9 1zm6 0zm3 0zm-22 2zm12 0zm4 0zm-8 1zm12 0zm1 0zm-11 1zm1 0zm11 0zm-7 1zm1 0zm-1 1zm-5 1zm-10 1zm4 0zm9 0zm-13 1zm5 0zm8 0zm3 1zm1 0zm-14 1zm20 0zm-47-21zm2 1zm1 1zm10 1zm9 0zm-14 2zm3 1zm6 1zm-10 1zm-2 1zm10 5zm1 0zm-10 1zm8 1zm2 4zm-4 1zm5 0zm-30-18zm1 1zm0 4zm11 0zm-15 2zm13 2zm-5 3zm-6 1zm-26-11zm5 2zm8 3zm-7 2zm-2 1zm9 2zm-4 3zm-6 2zm5 0zm-26-20zm-11 2zm2 2zm4 0zm8 0zm-16 3zm4 3zm7 4zm-9 3zm-22-17zm5 1zm6 2zm-13 1zm-3 1zm7 0zm-2 1zm5 0zm11 0zm-16 3zm7 2zm2 1zm-14 5zm4 0zm2 2zm6 2zm-33-23zm-1 3zm2 0zm8 0zm-4 1zm2 0zm1 1zm2 1zm1 0zm-5 1zm6 0zm-14 2zm4 1zm13 0zm-14 2zm4 0zm12 1zm-13 1zm7 1zm5 0zm4 2zm-22 1zm14 0zm-13 1zm13 0zm7 2zm-8 2zm-33-23zm11 0zm3 0zm-17 1zm-2 1zm12 0zm-2 1zm2 1zm-10 1zm1 0zm2 0zm13 0zm-1 2zm-14 1zm0 2zm18 1zm-5 1zm-4 1zm5 1zm-13 1zm1 0zm10 1zm-14 2zm13 0zm-7 1zm14 1zm-5 1zm-9 1zm6 0zm4 0zm4 0zm-40-21zm10 0zm-1 1zm0 1zm-12 1zm-2 1zm17 0zm5 0zm-22 1zm10 0zm2 0zm-12 1zm7 0zm-2 1zm2 0zm6 0zm-12 1zm2 0zm14 0zm-12 1zm10 0zm-7 1zm6 1zm0 1zm9 0zm-14 1zm-2 1zm5 0zm4 1zm-16 1zm13 0zm-13 1zm2 1zm2 2zm15 0zm-1 1zm-15 1zm-23-23zm18 0zm-6 1zm-3 5zm4 0zm4 0zm-11 1zm-8 1zm15 0zm-5 1zm5 0zm-4 1zm8 0zm-15 2zm-1 1zm-3 1zm21 0zm-22 1zm14 0zm3 0zm5 0zm-9 1zm-6 2zm2 1zm-8 2zm1 1zm15 1zm-25-23zm3 1zm2 0zm-16 1zm0 5zm16 0zm-9 1zm2 0zm4 0zm0 1zm-9 4zm-3 2zm5 0zm3 0zm-8 6zm4 0zm-4 1zm-5 1zm-4-23zm-19 2zm-2 6zm17 0zm2 6zm-5 2zm-14 2zm-1 1zm14 0zm9 0zm-2 3zm-38-3zm-39-19zm6 15zm-41 22zm11 9zm22-19zm-3 9zm32-12zm7 0zm16 4zm1 3zm-14 2zm10 8zm19-17zm-10 5zm10 0zm13 1zm-22 1zm13 5zm2 6zm7 3zm14-19zm-3 1zm4 1zm-7 1zm12 5zm2 2zm-3 1zm1 0zm-13 3zm5 2zm10 0zm-4 1zm-8 1zm2 0zm-11 1zm20 2zm9-21zm5 0zm6 0zm-13 1zm14 0zm-8 3zm12 0zm-13 2zm15 0zm-14 4zm-1 5zm-5 2zm1 2zm0 1zm14 1zm8-23zm13 1zm-12 1zm7 1zm4 1zm3 1zm3 3zm-14 1zm14 0zm-17 2zm-2 1zm3 0zm11 0zm4 1zm3 0zm-17 2zm-1 1zm2 0zm14 4zm-5 3zm13-23zm0 2zm2 1zm10 2zm-10 3zm7 0zm-4 1zm7 2zm-5 2zm1 0zm10 1zm-3 1zm-1 1zm-11 3zm17-18zm3 2zm4 0zm-2 1zm0 1zm-5 2zm7 2zm-7 2zm8 0zm-2 2zm1 0zm16 0zm-11 1zm6 0zm-1 1zm-7 3zm3 0zm-13 3zm8 1zm22-18zm-5 1zm8 2zm-1 1zm10 1zm-17 1zm7 3zm-5 4zm17 0zm-18 3zm14 2zm-9 1zm19-20zm6 0zm14 0zm-15 4zm16 3zm-12 6zm2 2zm6 4zm10-22zm4 1zm5 3zm-5 4zm12 2zm-4 2zm5 9zm24-21zm1 0zm-11 2zm-5 1zm-6 1zm1 9zm-1 4zm4 0zm15 0zm0 4zm15-21zm10 1zm-17 1zm-4 7zm6 0zm9 1zm-2 2zm9 2zm-10 1zm-3 3zm2 1zm4 0zm-1 1zm-4 1zm8 0zm1 0zm4 2zm14-22zm-13 1zm6 0zm7 0zm-10 1zm4 0zm10 0zm-11 1zm9 0zm-14 1zm12 0zm5 0zm4 0zm1 0zm-16 1zm6 0zm5 0zm2 0zm-15 1zm-5 1zm20 0zm1 0zm-17 1zm18 0zm-15 1zm1 0zm1 0zm8 0zm3 1zm-16 1zm3 0zm11 0zm2 0zm3 0zm-20 1zm10 0zm5 0zm3 0zm-4 1zm4 0zm-11 1zm4 0zm3 0zm3 0zm1 0zm2 1zm-22 1zm2 0zm4 0zm9 1zm6 0zm-2 1zm-18 1zm-2 1zm3 0zm6 0zm-1 1zm6 0zm4 0zm2 0zm-6 1zm8 0zm3-23zm11 0zm-10 1zm7 0zm-8 1zm3 0zm1 0zm7 0zm-8 1zm1 0zm5 0zm-7 1zm4 0zm2 1zm1 0zm-9 2zm2 0zm5 0zm-5 3zm3 0zm-5 2zm1 0zm6 0zm-8 1zm7 0zm1 0zm-7 1zm1 0zm8 0zm1 1zm-7 1zm2 0zm3 0zm2 0zm-9 1zm1 0zm6 0zm2 0zm-9 1zm1 0zm2 0zm-5 1zm2 0zm4 0zm3 0zm-4 2zm5 0zm-1 1zm81-20zm3 5zm-4 1zm0 2zm3 0zm-5 1zm4 0zm-4 1zm6 0zm1 0zm-7 3zm2 0zm1 0zm-3 1zm2 1zm-5 1zm1 0zm5 0zm1 0zm-7 1zm4 0zm6 0zm-8 1zm1 0zm1 0zm1 0zm2 1zm2 0zm-4 1zm-5 1zm12-23zm3 0zm4 0zm7 0zm7 0zm-16 1zm14 0zm-8 1zm9 0zm-11 1zm3 0zm1 1zm-8 1zm12 0zm-17 2zm1 0zm8 1zm-7 1zm3 0zm2 0zm1 0zm10 0zm3 0zm-10 1zm6 0zm3 1zm-12 1zm4 0zm-12 1zm2 0zm3 0zm11 0zm4 0zm-19 1zm2 0zm5 0zm-5 1zm10 0zm6 1zm-15 1zm-4 1zm6 0zm4 0zm-2 1zm6 0zm7 1zm-19 1zm0 1zm10 0zm0 1zm1 0zm-9 1zm11 0zm-6 1zm10 0zm-10 1zm1 0zm-10 1zm19 0zm-14 1zm8 0zm-3 1zm6 0zm-12 1zm8 0zm-11 1zm13 0zm-10 1zm1 1zm13 1zm-17 1zm19 0zm-19 1zm14 0zm-11 1zm-2 1zm12 0zm-5 1zm10 0zm1 1zm-19 1zm12 0zm2 0zm-14 1zm16 0zm-6 1zm3 1zm5 0zm-8 1zm-11 1zm3 0zm1 0zm2 1zm7 0zm-14-23zm-4 1zm-8 2zm3 0zm6 2zm-8 1zm1 1zm1 2zm5 0zm-6 1zm3 0zm3 0zm-10 1zm5 0zm6 0zm2 0zm-13 3zm5 0zm3 0zm-10 2zm2 0zm4 0zm-4 1zm2 1zm2 0zm10 0zm-11 1zm3 0zm8 0zm-11 2zm5 0zm1 0zm-1 1zm-10 1zm3 0zm-81-23zm1 0zm1 1zm7 0zm-9 1zm3 0zm3 0zm-2 1zm-1 1zm1 0zm2 0zm1 0zm-6 1zm8 0zm-5 1zm3 0zm1 0zm2 0zm-10 1zm3 0zm8 0zm-5 1zm2 0zm1 0zm-9 1zm2 0zm7 0zm2 1zm-11 1zm7 1zm-1 1zm-6 1zm4 0zm1 0zm3 0zm-9 1zm5 0zm-5 1zm6 0zm1 0zm-3 1zm3 0zm1 0zm5 0zm-3 1zm1 0zm-5 1zm2 0zm3 0zm-1 2zm-5 1zm2 0zm2 0zm-6 1zm2 0zm3 0zm2 0zm5 0zm-34-23zm-4 1zm10 0zm1 0zm6 0zm4 0zm1 1zm-13 1zm8 0zm-7 1zm5 0zm2 0zm1 0zm-18 2zm3 0zm7 0zm4 0zm5 0zm2 0zm-21 1zm3 0zm1 0zm4 0zm1 1zm1 0zm9 1zm-12 1zm7 0zm4 0zm-17 1zm11 0zm1 0zm-14 1zm7 0zm7 1zm6 0zm-16 1zm10 0zm-6 1zm4 1zm4 0zm-12 1zm2 0zm1 0zm2 0zm3 0zm5 0zm3 0zm-6 1zm2 0zm4 0zm-9 1zm1 0zm-6 1zm-6 1zm14 0zm5 0zm-16 1zm2 0zm4 0zm-9 1zm21 0zm-26-22zm-8 5zm-2 1zm5 0zm4 1zm-3 1zm4 0zm-13 1zm17 0zm-14 1zm10 0zm3 0zm-18 2zm8 1zm-11 1zm11 0zm1 0zm4 0zm-7 3zm8 2zm-12 2zm1 0zm9 0zm-36-20zm13 1zm-3 1zm7 4zm2 1zm-6 7zm5 4zm0 1zm-44-20zm5 1zm-2 1zm14 1zm0 2zm-10 1zm4 1zm-9 5zm5 1zm6 0zm-12 5zm15 2zm-25-16zm-6 1zm-5 2zm6 1zm-12 3zm20 0zm-16 1zm19 4zm-7 6zm-37-21zm10 1zm-10 2zm6 8zm-2 9zm-17-19zm-7 2zm-7 1zm5 3zm14 4zm-15 2zm18 0zm-5 2zm-11 1zm-25-18zm10 0zm4 2zm-15 3zm0 6zm0 2zm5 3zm-5 1zm0 4zm-10-19zm-18 1zm10 0zm2 8zm1 2zm4 0zm2 5zm-16 3zm-14-19zm6 0zm-16 2zm9 1zm-11 3zm8 4zm13 0zm-4 6zm-3 3zm-13 1zm-4-20zm-1 4zm-15 9zm-3 7zm-16-19zm11 2zm-13 7zm-1 11zm-18-17zm-14 2zm10 5zm-1 2zm-7 3zm1 2zm-7-17zm-8 12zm2 5zm5 0zm3 1zm-8 1zm-31-22zm9 13zm5 3zm-44-7zm-102 8zm9 15zm41 1zm30-9zm12 6zm55 3zm25-9zm-16 15zm13 6zm5-19zm9 0zm0 1zm-1 15zm18-13zm8 1zm0 15zm34-19zm-9 5zm2 5zm-10 1zm15 1zm-7 2zm-4 3zm3 4zm33-23zm-14 1zm6 2zm3 0zm-15 5zm22 1zm0 1zm23-6zm2 0zm-23 4zm1 6zm21 7zm-20 1zm45-19zm-15 4zm9 0zm13-2zm2 9zm18-12zm12 15zm5 0zm-16 2zm0 3zm7 1zm32-21zm1 1zm-18 1zm18 7zm1 6zm-2 2zm-3 1zm-14 2zm42-22zm-6 7zm-12 1zm18 1zm-12 1zm10 4zm2 2zm-5 5zm19-16zm10 0zm-18 4zm14 5zm6 1zm2 2zm-7 2zm-14 1zm30-19zm3 5zm-8 1zm7 3zm3 0zm-13 1zm16 0zm5 5zm-15 2zm14 1zm-5 2zm-9 1zm27-22zm4 0zm9 0zm-16 1zm2 0zm7 0zm7 0zm-8 1zm3 1zm6 0zm-21 1zm9 0zm7 0zm-7 1zm6 0zm1 0zm3 0zm-16 2zm17 0zm-5 1zm-16 1zm-1 1zm13 0zm9 0zm-18 1zm2 0zm1 0zm1 1zm4 0zm10 0zm-14 1zm6 0zm3 0zm-15 2zm15 0zm-1 1zm-5 1zm12 0zm-10 1zm5 0zm2 0zm1 1zm-12 1zm2 0zm7 0zm-16 1zm19 0zm-21 1zm8 0zm9 0zm-13 1zm14 0zm5 0zm10-23zm2 0zm-11 2zm3 0zm5 0zm7 0zm-14 1zm1 0zm-1 1zm-1 1zm3 1zm9 0zm3 0zm-10 1zm1 0zm1 0zm4 1zm3 0zm-11 1zm3 0zm3 0zm4 0zm4 0zm-16 1zm4 0zm2 0zm4 0zm-3 1zm2 1zm7 0zm-10 1zm9 0zm-13 1zm5 0zm1 0zm3 0zm1 0zm6 0zm-18 1zm6 0zm3 0zm3 0zm1 0zm1 0zm3 0zm-14 1zm2 0zm6 0zm5 0zm2 0zm2 0zm-19 1zm6 0zm3 0zm10 0zm-17 1zm1 0zm1 0zm1 0zm3 0zm1 0zm3 0zm6 0zm-5 1zm1 0zm1 0zm-5 1zm5 0zm1 0zm-17 1zm8 0zm14 0zm-23 1zm10 0zm6 0zm6 0zm-18 1zm1 0zm10 0zm5 0zm3 0zm48-13zm-1 2zm0 1zm-1 1zm-1 1zm1 1zm1 1zm-2 1zm2 0zm-1 2zm1 0zm-4 1zm1 0zm1 1zm-6 1zm5 0zm14-23zm2 0zm12 0zm-19 1zm1 0zm12 0zm-6 1zm6 0zm6 0zm-2 1zm-11 1zm3 0zm1 0zm-7 1zm14 0zm-17 1zm3 0zm2 0zm1 0zm1 0zm10 0zm-16 2zm14 0zm1 0zm1 0zm1 0zm-20 1zm2 0zm3 0zm6 0zm-12 1zm11 0zm-11 1zm4 0zm3 0zm1 0zm-9 1zm6 0zm4 1zm4 0zm5 0zm2 0zm-8 1zm1 0zm-7 1zm10 0zm5 0zm-14 2zm3 0zm7 0zm4 0zm-22 1zm3 0zm3 0zm1 0zm2 0zm3 0zm5 0zm1 0zm-1 1zm-17 1zm2 0zm13 0zm-12 1zm3 0zm2 0zm3 0zm11 0zm-14 1zm14 0zm-16 1zm36-22zm-15 2zm5 0zm5 0zm5 0zm-15 1zm8 0zm-3 3zm-4 1zm3 0zm-3 1zm-4 1zm5 0zm-3 1zm3 0zm6 2zm-4 2zm7 0zm-3 1zm-9 1zm5 0zm-2 2zm2 5zm-5 1zm10 1zm1 1zm2 0zm-14 1zm13 2zm-4 1zm3 0zm-13 1zm3 0zm3 3zm6 1zm-8 1zm-4 1zm2 2zm9 0zm3 0zm-3 1zm1 0zm-12 1zm4 0zm4 2zm-2 2zm-5 1zm4 0zm-16-23zm7 0zm-17 1zm10 0zm-3 1zm-2 1zm5 1zm1 0zm-6 1zm5 0zm-12 1zm1 0zm2 0zm1 1zm2 0zm8 0zm-13 1zm4 0zm17 0zm-23 1zm5 1zm7 0zm3 0zm4 0zm-19 1zm2 0zm10 0zm2 0zm-2 1zm11 0zm-23 1zm8 0zm14 0zm1 0zm-17 1zm11 0zm-11 1zm17 0zm-18 1zm16 0zm-18 1zm3 0zm10 1zm2 0zm-13 1zm2 0zm0 2zm-5 1zm5 0zm3 0zm7 0zm-9 1zm-19-23zm2 0zm6 1zm-10 1zm5 0zm-8 1zm5 0zm3 0zm4 0zm-10 1zm0 1zm1 0zm5 0zm-9 1zm3 0zm3 0zm2 0zm3 0zm-18 1zm13 0zm1 0zm-12 1zm8 0zm11 0zm-20 1zm1 0zm2 0zm3 0zm1 0zm7 0zm4 0zm-17 1zm1 0zm5 0zm9 0zm2 0zm3 0zm-19 1zm4 0zm12 0zm-15 1zm7 0zm4 0zm1 0zm-16 1zm1 0zm13 0zm3 0zm1 0zm-17 1zm1 0zm5 0zm3 0zm1 0zm1 0zm7 0zm-11 1zm11 0zm-13 1zm3 0zm9 0zm-12 1zm7 0zm-13 1zm1 0zm2 0zm11 1zm2 0zm-1 1zm4 0zm-12 1zm6 0zm1 0zm7 0zm-21 1zm1 0zm5 0zm12 0zm-13 1zm3 0zm-31-23zm1 0zm2 2zm-2 1zm4 1zm-4 1zm1 0zm3 0zm2 1zm1 0zm-6 1zm2 0zm3 0zm3 0zm-5 1zm4 0zm2 0zm4 0zm2 0zm4 0zm-21 1zm9 0zm3 0zm4 0zm5 0zm-22 1zm2 0zm6 0zm3 0zm6 0zm2 0zm2 0zm-13 1zm2 0zm4 0zm6 0zm2 0zm-17 1zm2 0zm1 0zm6 0zm3 0zm-7 1zm2 0zm4 0zm3 0zm-13 1zm14 0zm3 0zm-21 1zm4 0zm2 0zm1 1zm0 1zm6 0zm5 0zm-6 1zm4 0zm-7 1zm2 0zm3 0zm-11 1zm1 0zm14 0zm-13 1zm12 0zm-16 1zm4 1zm4 0zm4 0zm6 0zm1 0zm-41-23zm2 0zm1 0zm-5 1zm5 0zm1 0zm2 0zm1 0zm-7 1zm1 0zm2 0zm-8 1zm1 0zm8 0zm-7 1zm1 0zm5 0zm4 0zm6 0zm-9 1zm6 0zm1 0zm-16 1zm19 0zm3 0zm1 0zm-23 1zm12 0zm5 0zm6 0zm-20 1zm5 0zm10 0zm2 0zm1 0zm-8 1zm1 0zm6 0zm-16 1zm2 0zm2 0zm2 0zm3 0zm6 0zm1 0zm-9 1zm10 0zm-21 1zm7 0zm4 0zm7 0zm1 1zm2 0zm-21 1zm9 0zm2 0zm9 0zm-16 1zm2 0zm3 0zm1 0zm4 0zm5 0zm3 0zm-11 1zm-5 1zm2 0zm2 0zm13 0zm-19 1zm4 0zm3 0zm5 0zm-13 2zm20 0zm-14 1zm3 0zm3 1zm3 0zm1 0zm-14 1zm12 0zm-18-23zm-13 1zm-4 1zm3 0zm3 0zm1 0zm3 0zm3 0zm2 0zm-17 1zm4 0zm-5 1zm12 0zm5 0zm-16 1zm5 0zm14 0zm-21 1zm9 0zm12 0zm-21 1zm2 0zm8 0zm3 0zm7 0zm-9 1zm6 0zm3 0zm-15 1zm5 0zm4 0zm4 1zm2 0zm-12 1zm7 0zm-15 1zm11 0zm-6 1zm12 0zm-7 1zm1 0zm4 0zm-14 1zm0 1zm1 0zm8 0zm2 1zm4 0zm3 0zm-5 1zm3 0zm2 0zm-7 1zm4 0zm-17 2zm0 1zm21 0zm-14 1zm6 0zm-34-23zm8 0zm6 0zm1 4zm1 0zm-8 1zm3 0zm4 1zm4 0zm-8 1zm1 0zm-13 1zm18 0zm-11 1zm9 2zm-8 1zm-7 1zm11 1zm8 1zm-14 1zm6 1zm-15 2zm23 0zm-20 1zm17 0zm-3 3zm-19-23zm-8 8zm-4 2zm2 1zm-12 7zm2 0zm3 3zm17 2zm-23-22zm-9 1zm8 0zm-14 6zm1 2zm-7 2zm14 0zm1 0zm-17 6zm11 0zm-2 5zm10 0zm-35-22zm10 2zm4 7zm-1 7zm-10 2zm0 3zm-15-11zm2 3zm-15 2zm-7 1zm-12-17zm5 0zm6 0zm-19 17zm-13-17zm0 1zm7 0zm-12 2zm13 7zm-13 2zm-3 2zm8 5zm-29-17zm-5 4zm4 12zm-22-15zm-5 4zm3 4zm2 1zm-7 3zm18 1zm-27-14zm-10 2zm-1 1zm7 1zm-12 1zm0 14zm0 2zm-17-21zm7 1zm5 6zm-18 3zm10 10zm-15-21zm-19 3zm14 9zm-7 1zm7 3zm2 3zm-4 1zm6 1zm-42-4zm-28 4zm-11-19zm6 14zm-47 2zm-31-11zm-41 24zm61 1zm35-8zm-18 1zm18 16zm11-13zm20 0zm28-3zm-1 11zm3 2zm39-12zm14 3zm-7 7zm7 8zm33-19zm-22 11zm12 0zm-5 7zm7 0zm-7 1zm20-18zm7 9zm-6 10zm40-20zm-1 13zm-14 3zm17 1zm22-12zm-11 5zm2 8zm1 0zm2 1zm30-20zm-17 6zm17 0zm-17 3zm7 0zm3 1zm1 2zm2 3zm-16 2zm3 0zm17 2zm8-4zm21-15zm11 3zm-7 2zm16 2zm-1 1zm-7 14zm21-19zm-6 7zm-1 7zm12 4zm28-22zm-12 1zm-7 1zm22 3zm-6 2zm-10 1zm9 10zm7 2zm9-19zm10 0zm-13 1zm-5 1zm2 0zm1 1zm5 1zm14 0zm1 0zm-13 1zm9 0zm-15 1zm8 2zm-10 4zm9 0zm-3 1zm12 0zm-2 2zm-11 2zm-2 2zm2 0zm1 1zm9 0zm1 1zm25-22zm-13 2zm2 0zm-7 1zm3 0zm17 0zm-5 1zm-16 1zm13 1zm4 0zm1 0zm-5 1zm3 0zm0 1zm1 0zm2 0zm4 1zm-13 1zm5 0zm8 0zm-14 1zm5 1zm2 0zm1 0zm4 0zm-14 1zm15 0zm-20 1zm19 0zm-20 1zm16 0zm6 0zm-10 1zm3 0zm-6 1zm7 0zm6 0zm-22 1zm20 0zm-9 1zm-9 1zm1 0zm6 0zm9 0zm-8 2zm8 0zm-1 1zm3 0zm7-23zm6 0zm11 0zm-11 1zm2 0zm4 0zm5 0zm-14 1zm1 0zm1 0zm2 0zm-1 1zm12 0zm-1 1zm-20 1zm7 0zm5 0zm2 1zm-3 1zm8 0zm1 0zm-21 1zm10 0zm-10 1zm4 0zm2 0zm1 0zm1 0zm4 0zm2 0zm1 1zm1 0zm2 0zm-5 1zm2 0zm-9 1zm2 0zm0 1zm5 0zm9 1zm1 0zm-16 1zm3 0zm8 0zm-1 1zm-10 1zm6 0zm4 0zm5 0zm-17 1zm3 1zm11 0zm-14 2zm-5 2zm13 0zm4 0zm9-23zm16 0zm3 0zm-21 1zm4 0zm16 0zm1 0zm2 0zm-21 1zm16 0zm-15 1zm5 0zm1 0zm-6 1zm1 0zm12 0zm-14 1zm6 0zm2 0zm2 0zm1 0zm3 0zm1 0zm2 0zm2 0zm-21 1zm14 0zm7 0zm1 0zm-13 1zm2 0zm10 0zm-7 1zm6 0zm-18 1zm3 0zm6 0zm5 0zm1 0zm3 0zm-10 1zm5 0zm2 0zm4 0zm-17 1zm3 0zm4 0zm7 0zm-15 1zm6 0zm10 0zm2 0zm-21 1zm1 0zm8 0zm4 0zm2 0zm5 0zm-13 1zm2 0zm10 0zm4 0zm-21 1zm4 0zm2 0zm13 1zm-17 1zm8 0zm2 0zm-14 1zm7 0zm2 0zm11 0zm2 0zm-22 1zm3 0zm1 0zm9 0zm1 0zm-12 1zm1 0zm12 0zm2 0zm-13 1zm4 0zm-2 1zm3 0zm11 0zm-9 1zm24-23zm2 0zm3 1zm1 0zm2 0zm-15 1zm4 0zm10 0zm1 0zm2 0zm-15 1zm2 0zm2 1zm1 1zm5 0zm7 0zm-20 1zm4 0zm-5 2zm12 0zm7 0zm-8 1zm-13 1zm1 0zm3 0zm4 0zm8 0zm1 0zm2 0zm2 0zm-8 1zm4 0zm-17 1zm9 0zm2 0zm-6 1zm-4 1zm2 0zm1 0zm6 0zm3 0zm8 0zm-9 1zm-8 1zm4 0zm1 0zm-8 1zm20 0zm-3 1zm-18 1zm3 0zm1 0zm2 0zm-4 1zm2 0zm7 0zm-4 1zm13 0zm-14 2zm16 0zm13-23zm5 0zm3 0zm-19 1zm2 0zm10 0zm-1 1zm-6 1zm18 0zm-19 1zm13 1zm-15 1zm2 0zm-1 1zm3 1zm1 0zm10 0zm-17 1zm19 1zm-15 1zm5 0zm13 0zm-10 1zm0 1zm-7 1zm8 0zm-11 1zm1 0zm20 0zm-17 1zm5 0zm0 1zm-8 1zm1 0zm11 0zm2 0zm5 0zm-19 1zm9 0zm8 0zm3 0zm-23 1zm10 0zm-1 1zm1 1zm13 0zm-23 1zm5 0zm20-22zm1 2zm-1 3zm-1 1zm7 4zm-2 4zm4 11zm-6 8zm4 5zm-29-15zm5 2zm-4 1zm1 2zm3 1zm5 0zm-6 1zm8 0zm1 0zm-14 3zm12 0zm-8 1zm4 1zm-4 1zm-4 2zm9 0zm13 0zm-19 1zm12 0zm-11 2zm1 0zm9 3zm-14 2zm-21-23zm11 0zm5 0zm-18 1zm3 0zm5 0zm0 1zm5 0zm1 0zm-2 1zm-14 1zm1 0zm4 0zm3 0zm1 0zm1 0zm7 0zm1 0zm-15 1zm5 0zm14 1zm-19 1zm0 1zm3 0zm1 1zm3 0zm6 0zm1 1zm4 1zm-20 1zm17 0zm2 0zm-10 1zm-1 2zm4 0zm-3 1zm9 0zm4 0zm-21 1zm10 2zm-6 1zm4 1zm-10 1zm3 0zm1 0zm-26-21zm1 0zm8 0zm2 0zm-13 1zm3 0zm3 0zm6 0zm3 0zm7 0zm-21 2zm18 0zm-4 1zm6 0zm-12 1zm5 1zm1 0zm8 0zm-4 1zm-19 1zm3 0zm5 0zm2 0zm9 0zm-7 1zm-11 2zm6 0zm4 0zm5 0zm-14 1zm8 0zm1 0zm5 0zm3 0zm-19 1zm1 0zm4 0zm9 0zm-12 1zm4 0zm15 0zm-19 1zm10 0zm8 0zm-19 1zm12 0zm-5 1zm9 0zm-16 1zm3 0zm8 0zm3 0zm1 0zm-15 1zm5 0zm-1 1zm10 0zm-8 2zm2 0zm4 0zm-23-23zm-12 1zm6 0zm3 0zm7 0zm2 0zm-15 1zm7 0zm-12 1zm9 0zm14 0zm-21 1zm1 0zm3 0zm14 0zm-10 1zm3 0zm1 0zm1 0zm6 0zm-16 1zm3 0zm7 0zm-4 1zm-11 1zm4 0zm2 0zm10 0zm2 0zm-13 1zm8 0zm7 0zm3 0zm-22 1zm10 0zm4 0zm-12 1zm2 0zm6 0zm3 0zm-5 1zm9 0zm-17 1zm1 0zm7 0zm1 0zm8 0zm2 0zm-9 1zm1 0zm2 1zm-13 1zm2 0zm4 0zm2 0zm3 0zm5 0zm1 0zm-15 1zm1 0zm15 0zm3 0zm-16 1zm6 0zm2 1zm-10 1zm7 0zm9 1zm-17 1zm13 0zm-3 1zm4 0zm-37-21zm-1 1zm8 0zm9 0zm-2 1zm4 0zm-17 1zm11 1zm5 0zm-18 1zm1 0zm11 0zm3 0zm-4 1zm8 0zm1 0zm-10 1zm3 0zm1 0zm-8 1zm-3 1zm8 0zm6 0zm3 0zm-23 1zm2 0zm7 0zm7 1zm-10 3zm10 1zm-7 1zm-8 1zm2 0zm8 0zm6 1zm2 0zm2 1zm-11 1zm10 0zm-17 1zm9 0zm3 0zm1 0zm6 0zm-42-23zm8 1zm7 0zm3 1zm-9 1zm3 1zm6 0zm-21 2zm-1 2zm22 0zm-7 2zm1 0zm2 0zm1 0zm-15 2zm17 0zm-16 1zm14 0zm3 2zm-2 1zm-17 2zm4 2zm1 0zm3 2zm-15-21zm-6 4zm-13 7zm15 3zm4 0zm-17 1zm1 3zm11 2zm-25-17zm-12 4zm12 4zm4 2zm5 0zm-9 2zm8 0zm-20 1zm12 1zm-25-18zm-5 2zm1 4zm1 0zm-8 4zm6 3zm10 2zm-13 3zm1 2zm14 2zm-39-19zm7 0zm5 2zm-8 3zm11 0zm-15 6zm-2 5zm10 2zm-11 1zm7 0zm-15-20zm-5 2zm9 5zm-8 2zm-5 2zm-3 1zm3 8zm3 0zm-15-15zm1 3zm-15 2zm14 2zm-5 2zm-35-15zm-3 1zm18 0zm-19 7zm10 1zm-4 3zm4 1zm1 1zm-33-11zm6 5zm2 0zm-1 2zm-1 3zm6 6zm0 2zm-32-19zm7 3zm-14 11zm22 2zm-3 3zm-29-14zm5 1zm-6 1zm-5 5zm-4 1zm14 4zm-2 3zm-36-23zm11 4zm2 16zm-12 1zm-15-11zm-8 6zm-14-3zm-3 7zm-16-20zm0 4zm-16 15zm7 0zm-12 2zm-11-12zm3 5zm-69 33zm21-23zm21 9zm11-9zm3 3zm10 16zm53-15zm12 3zm9 6zm-8 9zm25-20zm-8 4zm9 11zm50-17zm-10 2zm10 3zm12 7zm-10 7zm16-15zm4 3zm-4 13zm36-18zm-10 12zm4 1zm-8 5zm1 1zm29-20zm-9 12zm6 0zm17 0zm-14 1zm7 1zm1 1zm-4 3zm23-14zm-1 2zm11 0zm-2 1zm-18 4zm19 0zm-11 2zm12 1zm-7 1zm1 1zm1 1zm-4 3zm-10 1zm23-18zm-2 1zm8 1zm-1 2zm-1 2zm15 0zm-15 9zm15 3zm26-22zm-17 3zm5 0zm12 1zm-12 9zm-7 3zm17 3zm-5 3zm12-17zm-1 5zm9 0zm1 3zm4 0zm5 1zm-8 4zm-10 4zm9 1zm30-21zm2 0zm-15 1zm8 2zm2 0zm-9 2zm15 3zm-11 2zm5 0zm2 2zm0 1zm-16 3zm14 0zm-3 1zm10 2zm2-21zm19 0zm3 2zm-13 2zm12 0zm-19 1zm2 1zm-2 1zm12 0zm6 1zm-1 2zm-12 1zm10 1zm1 0zm4 0zm-20 1zm4 0zm10 1zm5 0zm-16 1zm10 0zm5 0zm0 1zm-11 2zm4 1zm2 0zm-8 2zm1 1zm2 1zm13-22zm9 0zm6 1zm2 0zm6 0zm-19 1zm10 0zm-3 2zm12 0zm-19 1zm10 0zm5 0zm1 0zm-6 1zm-8 2zm10 0zm-3 1zm-1 1zm6 0zm2 0zm-10 1zm5 0zm7 0zm-5 1zm-17 1zm11 0zm9 1zm-18 1zm20 0zm1 0zm-3 1zm3 0zm-22 1zm11 0zm1 0zm-9 2zm11 0zm-2 1zm-2 1zm5 0zm3 1zm4 0zm5-23zm4 0zm3 0zm3 0zm-3 1zm-11 1zm9 1zm-5 1zm9 0zm7 1zm-20 1zm18 0zm2 0zm-19 2zm19 0zm-12 1zm-3 1zm1 0zm6 0zm-6 1zm2 0zm-8 1zm9 0zm-7 1zm18 0zm-20 1zm13 0zm1 0zm3 1zm-16 1zm18 1zm4 0zm-22 1zm3 0zm2 0zm1 0zm0 1zm8 0zm2 0zm-13 1zm2 0zm12 0zm-10 1zm10 0zm-3 1zm-8 1zm10 0zm5 0zm10-23zm5 0zm9 0zm-9 1zm-4 1zm11 0zm3 1zm-17 1zm9 0zm-11 2zm4 0zm-7 1zm6 0zm2 1zm9 0zm3 0zm-20 1zm8 0zm7 0zm1 0zm-14 1zm5 0zm-1 2zm8 0zm-15 1zm1 0zm1 2zm11 0zm-4 1zm4 0zm3 0zm-15 1zm6 1zm6 0zm-9 1zm8 0zm5 0zm1 1zm3 1zm-21 1zm2 0zm19 0zm-17 1zm3 0zm12 0zm12-23zm3 0zm2 0zm-10 1zm10 0zm-10 2zm16 1zm-16 1zm9 0zm5 1zm0 2zm-10 5zm5 0zm-10 4zm19 0zm-14 1zm12 2zm2 0zm-12 1zm8 1zm0 1zm9-22zm0 3zm6 3zm15 0zm-17 4zm-2 2zm4 0zm-7 1zm4 1zm7 0zm-9 1zm3 2zm2 1zm2 2zm-4 12zm2 0zm-21-9zm7 1zm-17 1zm10 1zm-7 1zm3 0zm13 3zm-14 3zm8 0zm-12 3zm7 0zm5 1zm6 0zm-11 2zm12 2zm-15 1zm3 0zm-4 1zm-26-19zm1 1zm5 0zm15 0zm-18 3zm-5 1zm6 0zm1 2zm9 0zm2 0zm3 0zm-19 1zm1 1zm2 0zm-5 1zm15 0zm-13 3zm16 0zm-8 3zm13 0zm-12 1zm2 0zm-5 2zm-2 2zm3 0zm-6 1zm9 0zm-22-23zm-11 1zm12 0zm-11 1zm11 0zm-9 1zm9 0zm5 2zm3 0zm-21 1zm7 1zm-3 1zm-4 2zm5 0zm2 0zm-6 1zm14 0zm-2 1zm8 0zm-16 1zm7 0zm9 0zm-15 2zm6 0zm-14 3zm14 0zm2 1zm-16 1zm9 0zm14 0zm-1 1zm-16 1zm1 0zm0 1zm5 0zm-15-23zm-19 1zm3 0zm6 0zm10 0zm-19 1zm3 0zm-4 1zm3 0zm2 0zm10 1zm-10 1zm1 0zm3 0zm5 0zm7 0zm-16 1zm2 0zm10 0zm-7 2zm-9 2zm1 1zm13 1zm-13 1zm3 0zm4 1zm-2 1zm-5 2zm1 1zm6 0zm3 1zm-6 1zm3 1zm13 0zm-11 1zm8 1zm-37-22zm6 0zm2 0zm-10 1zm18 0zm-20 2zm4 2zm5 0zm2 0zm-13 3zm8 0zm13 0zm1 1zm-10 1zm9 2zm-7 1zm-6 1zm9 0zm-13 3zm7 0zm8 1zm-24-19zm3 1zm-12 1zm-8 3zm11 0zm-5 1zm-2 1zm7 0zm9 1zm-8 7zm-15 1zm13 2zm4 0zm-9 3zm11 2zm-42-22zm18 5zm-14 2zm11 0zm4 2zm-19 1zm18 1zm-5 1zm2 3zm4 1zm-2 2zm-16 1zm-20-20zm2 0zm14 3zm-1 2zm-17 3zm-2 1zm18 2zm-16 1zm6 0zm-8 1zm14 0zm-8 7zm-30-18zm5 2zm3 3zm-8 8zm8 2zm3 0zm10 3zm-41-9zm1 5zm1 0zm9 7zm-38-23zm16 15zm1 1zm-19 2zm8 3zm-27-21zm3 2zm4 1zm0 5zm-6 4zm6 4zm-37-9zm11 4zm4 3zm-5 1zm-10 5zm15 3zm-37-22zm9 1zm3 5zm4 6zm0 2zm2 0zm0 2zm-38-14zm-5 13zm20 2zm-16 2zm15 2zm-40-20zm11 3zm-9 5zm1 2zm8 10zm8 0zm-8 1zm-34-22zm-2 9zm13 4zm-40-9zm22 18zm-36-17zm4 4zm-16-4zm-30 2zm-20 32zm68-11zm7 5zm15-8zm-9 5zm31 6zm7 2zm-1 5zm-15 2zm15 1zm29-23zm-14 2zm12 2zm0 6zm-5 8zm0 2zm7 1zm5-12zm10 2zm5 6zm-14 2zm27-17zm5 1zm-11 1zm18 4zm-6 2zm-12 5zm8 0zm2 2zm-8 6zm9 0zm11-16zm19 11zm24-18zm-14 3zm9 2zm-5 3zm7 5zm-13 2zm12 4zm20-19zm-2 1zm11 5zm-20 2zm0 7zm18 2zm-5 2zm-6 1zm40-15zm-5 10zm-18 2zm12 0zm-1 1zm10 1zm-3 2zm-8 2zm29-23zm3 2zm-11 1zm6 5zm-7 9zm3 2zm10 0zm22-14zm-9 4zm10 2zm-7 1zm12 3zm-8 4zm4 0zm-15 2zm2 1zm-5 1zm28-21zm12 0zm-14 2zm-3 1zm4 0zm2 4zm6 3zm11 3zm-12 1zm1 4zm7 0zm11-20zm11 4zm6 4zm-16 1zm-1 1zm12 0zm-7 6zm9 3zm-19 1zm7 1zm6 0zm-10 1zm5 0zm-3 1zm17 0zm10-23zm-4 1zm3 0zm1 0zm-1 1zm-5 6zm16 0zm-16 1zm18 0zm0 1zm-21 1zm23 1zm-17 1zm9 2zm-5 1zm8 0zm1 0zm-7 2zm10 1zm-15 3zm0 1zm19-22zm4 0zm-5 1zm18 1zm-9 1zm5 2zm-1 1zm4 2zm-14 1zm9 1zm3 0zm0 2zm-15 1zm2 0zm7 0zm9 1zm3 1zm-9 2zm-7 3zm-1 2zm28-22zm7 0zm-8 4zm-5 1zm1 2zm7 0zm10 3zm-20 3zm10 0zm-7 4zm7 0zm1 0zm10 0zm-10 3zm12-21zm18 3zm-7 2zm1 0zm3 1zm2 5zm1 3zm-16 2zm12 0zm-10 1zm33-11zm-7 2zm11 2zm-45 14zm-17 1zm14 1zm5 1zm-13 1zm11 0zm-14 2zm-2 1zm13 1zm-13 2zm3 0zm3 1zm-10 2zm0 4zm9 0zm4 0zm-4 3zm7 0zm-8 3zm-27-23zm17 3zm-19 1zm19 4zm-11 5zm11 3zm-19 1zm-3 2zm4 2zm-17-21zm-6 3zm3 1zm1 0zm-6 1zm10 1zm-12 1zm15 0zm1 4zm-2 4zm1 2zm-9 1zm-4 4zm6 0zm1 1zm-26-22zm-5 5zm8 1zm11 0zm-2 2zm-4 1zm-16 1zm14 0zm-10 2zm13 1zm-10 2zm-7 5zm16 0zm-2 1zm-22-20zm7 4zm0 1zm-20 6zm7 2zm3 2zm2 2zm-14 1zm16 0zm-41-17zm6 1zm13 1zm-1 2zm-13 10zm-5 2zm8 0zm-19-16zm-4 2zm6 3zm4 2zm-10 3zm-6 3zm-3 1zm-22-13zm16 4zm1 8zm-10 1zm12 1zm1 1zm-16 1zm0 1zm-7-19zm-13 3zm2 3zm-9 13zm16 0zm-22-12zm-12 5zm10 6zm-35-10zm-2 1zm-5 5zm12 2zm-15-15zm-20 5zm10 3zm4 8zm-35-7zm11 8zm-28-2zm-31-14zm0 5zm-33 10zm-71-12zm-55 29zm91-4zm-2 1zm24-4zm19 1zm64 3zm8-6zm8 1zm10 4zm-12 4zm13 3zm-5 2zm5 4zm22-20zm-6 4zm-12 7zm42-8zm4 3zm-22 1zm17 5zm9-12zm-2 5zm15 0zm2 7zm-5 2zm-6 4zm25-19zm6 0zm-9 6zm12 6zm-12 6zm31-13zm9 5zm-15 1zm26-10zm15 0zm-22 8zm15 1zm-11 2zm4 4zm7 1zm-1 4zm-1 1zm20-13zm1 3zm-4 6zm0 4zm0 1zm18-23zm17 3zm-7 2zm-6 2zm12 0zm-12 2zm11 0zm-11 6zm8 0zm-1 7zm24-22zm11 0zm-8 2zm-2 4zm-9 5zm4 0zm-8 1zm6 1zm12 6zm-11 2zm12 2zm10-23zm0 2zm7 0zm8 4zm-5 2zm4 1zm-10 3zm12 2zm-8 2zm-8 2zm10 4zm9-22zm16 1zm-12 5zm12 1zm-12 1zm4 2zm9 11zm9-20zm7 0zm13 3zm-14 4zm-1 3zm7 2zm-8 13zm-18 2zm-9 1zm19 0zm-10 4zm7 0zm-1 1zm-14 3zm-23-11zm13 0zm-7 4zm-9 1zm12 1zm-10 7zm5 2zm-29-15zm1 2zm0 4zm18 2zm-3 1zm-15 8zm-4 2zm15 2zm-37-20zm15 6zm-14 8zm19 1zm-12 4zm2 1zm-27-20zm-8 2zm11 1zm6 3zm-17 3zm-7-6zm2 5zm0 1zm-14 1zm1 3zm-2 6zm-30-21zm10 0zm-1 4zm13 3zm-18 4zm0 1zm17 1zm1 5zm-42-17zm11 2zm-1 2zm0 14zm-25-19zm-8 2zm-3 3zm2 1zm19 11zm-25-16zm-6 7zm4 1zm3 5zm-3 6zm-43-5zm3 5zm-28-18zm10 0zm7 1zm-16 12zm18 5zm-31-21zm-6 1zm-23 9zm-7 9zm-2-17zm-18 8zm6 3zm-6 7zm-29 2zm26 2zm36 3zm8 9zm-16 2zm12 9zm17-14zm29 1zm7 8zm49 2zm20-16zm-10 1zm-7 8zm25 3zm-2 5zm37-10zm19-3zm3 5zm1 4zm-1 4zm24-12zm9 1zm-13 8zm2 1zm-8 2zm36-20zm-11 6zm1 1zm7 4zm-3 2zm12 1zm2 2zm-17 1zm2 2zm3 1zm26-18zm-5 1zm10 3zm-2 3zm2 5zm7-15zm10 11zm6 0zm-11 9zm-7 9zm1 2zm-12 11zm-34-6zm-5-7zm-17 2zm15 0zm-16 4zm-2 4zm2 1zm-20-12zm3 0zm-1 15zm-64-12zm4 1zm-33-6zm-8 20zm-38-15zm-5 8zm2 0zm3 5zm-21-7zm-33-8zm15 14zm-39-8zm-36 2zm35 11zm108 3zm-6 10zm115-12zm12 1zm11 3zm31 3zm-61 22zm-167 9zm129 22zm32-4zm-178 21zm37 25zm70 71zm-6 18z"/>
<path stroke="#b5821f" d="M455 204zm-7 5zm62 30zm-76-14zm-30 3zm-14 8zm-25-8zm-4 7zm-23 3zm-3 2zm9 12zm33-11zm-7 5zm24-1zm-4 1zm63 0zm10 4zm1 6zm9 1zm29-5zm21-12zm-12 6zm2 8zm61 20zm-74-3zm-10 12zm-16-18zm-11 11zm5 5zm3 1zm-24-18zm-6 5zm-1 5zm-1 6zm-1 5zm-19-20zm3 4zm-5 15zm-17-7zm-26 4zm-35 0zm1 1zm-23-12zm5 2zm5 1zm-1 10zm-30-4zm15 0zm-26-7zm-90 32zm79-10zm44-5zm8 21zm23-22zm-1 16zm-6 5zm35-19zm29 1zm-19 4zm16 11zm-11 1zm27-18zm8 1zm-4 10zm-11 4zm5 0zm-5 1zm12 4zm8-19zm15 0zm-5 1zm12 5zm-12 6zm-4 1zm26-13zm2 1zm-2 3zm-8 12zm35-9zm1 5zm-11 6zm1 0zm30-17zm19 10zm19 0zm1 13zm-48 1zm-21 17zm-18-17zm-2 5zm5 1zm4 0zm-39 1zm14 2zm-9 8zm11 3zm-26-19zm-12 2zm8 17zm-24-23zm9 7zm-15 9zm2 4zm14 0zm-16 3zm-27-14zm8 1zm3 7zm11 1zm-18 2zm17 1zm-32-15zm-3 5zm1 12zm-20-21zm-8 1zm15 11zm-23 1zm-14 2zm8 4zm-16 1zm-5-1zm-58-1zm-19-4zm-17 10zm0 19zm49-7zm37-3zm-12 6zm45-14zm-17 2zm6 9zm0 2zm33-10zm-6 1zm6 2zm3 2zm-5 3zm-11 6zm2 3zm22-16zm0 1zm14 1zm-19 2zm2 0zm16 0zm-19 5zm19 2zm-16 1zm19 3zm-23 1zm18 0zm6-20zm6 1zm-3 5zm20 3zm-18 6zm9 2zm23-19zm3 4zm-2 3zm-14 1zm11 2zm2 9zm9 3zm18-21zm-1 3zm1 0zm3 0zm3 10zm-11 1zm-10 5zm40-18zm-4 2zm-6 1zm7 7zm3 0zm-10 5zm18-11zm6 3zm-2 2zm13 11zm2 0zm15-4zm2 0zm22-12zm-2 15zm17-21zm-22 41zm-15-12zm0 1zm10 0zm-37-2zm-1 3zm-2 1zm-7 11zm-3-18zm-29 1zm-10 1zm-3 2zm9 2zm7 0zm-5 12zm8 1zm-41-19zm15 3zm-3 1zm4 2zm-20 2zm9 0zm-8 4zm-1 1zm16 0zm-16 5zm11 1zm-14-20zm-5 7zm-11 4zm-2 1zm15 1zm-15 7zm19 1zm-47-9zm21 6zm-2 1zm-19 1zm19 1zm-34-22zm10 9zm-9 12zm10 0zm-29-14zm-2 12zm-5 2zm-6 1zm-20-19zm5 0zm-7 2zm1 6zm-12-5zm-15 3zm13 0zm0 4zm7 1zm-4 6zm-32-13zm5 8zm4 1zm-30-6zm4 14zm17 7zm5 0zm4 16zm16-21zm-8 9zm16 7zm3 4zm16-17zm-9 1zm9 0zm9 1zm-6 6zm2 5zm-13 2zm-2 1zm11 1zm10-21zm6 1zm9 1zm-12 1zm2 1zm15 5zm-5 4zm7 0zm-2 2zm-15 3zm11 0zm-12 1zm2 0zm15 0zm22-20zm-13 1zm9 0zm-11 2zm-4 2zm12 4zm8 4zm-19 4zm6 1zm5 2zm27-20zm5 1zm-11 1zm-2 3zm14 0zm-1 2zm-15 1zm-5 7zm17 1zm-11 2zm4 0zm-2 3zm37-21zm-21 3zm12 2zm2 0zm-6 8zm-9 1zm12 1zm1 1zm-2 2zm-4 1zm15 0zm-19 2zm13 0zm18-21zm-8 4zm-2 6zm5 1zm11 2zm1 0zm-12 7zm25-20zm11 2zm-16 9zm21 3zm-15 3zm-6 2zm0 1zm42-16zm-15 3zm11 1zm-14 8zm15 7zm20-4zm10 0zm23-13zm7 1zm17 9zm-21 5zm1 1zm39 3zm-27 6zm-13 1zm23 3zm-22 3zm-20-14zm-28 4zm6 4zm-26-7zm3 2zm5 5zm8 0zm-16 1zm11 5zm-14 3zm-2 5zm6 0zm13 1zm-40-23zm11 3zm2 8zm-13 1zm2 2zm0 4zm3 4zm-9-20zm-21 2zm-1 10zm7 0zm-2 3zm-5 3zm7 0zm7 1zm-5 2zm-14-23zm-16 1zm6 0zm12 4zm-6 5zm0 7zm0 5zm-20-22zm-15 2zm14 4zm-8 12zm3 0zm1 1zm2 1zm-13 3zm-10-21zm-16 2zm5 1zm-7 1zm15 6zm3 1zm0 1zm0 1zm-7 2zm2 0zm-4 1zm8 2zm-28-20zm-8 1zm5 0zm13 5zm-4 1zm1 1zm-12 2zm5 4zm-11 6zm9 0zm10 0zm-10 1zm-19-21zm-6 2zm2 1zm10 0zm-13 1zm-9 2zm12 1zm1 0zm-9 2zm2 0zm14 0zm-18 1zm20 0zm-14 1zm-3 1zm11 1zm-11 1zm7 2zm-9 2zm-2 2zm13 0zm1 0zm-9 1zm11 2zm-20-21zm-3 2zm4 1zm-7 2zm1 0zm-7 1zm-4 2zm6 0zm2 0zm3 0zm5 0zm-4 1zm3 0zm-19 1zm4 0zm3 0zm3 0zm-11 1zm16 0zm-10 1zm5 1zm-2 1zm6 0zm2 0zm1 0zm-5 1zm8 0zm-16 1zm10 1zm-5 1zm12 1zm-18 1zm3 1zm5 0zm-30-21zm9 0zm3 2zm2 16zm2 1zm-13 2zm-44-16zm34 35zm-3 2zm13-20zm10 1zm-9 1zm9 0zm-19 2zm4 0zm-3 1zm0 1zm7 0zm15 0zm-12 1zm-9 1zm1 0zm2 0zm10 1zm-1 4zm-13 4zm2 1zm4 0zm16 3zm-13 2zm10 0zm16-23zm7 0zm2 0zm-12 1zm13 0zm-18 1zm17 2zm-17 1zm9 0zm8 0zm-1 2zm-12 1zm1 0zm2 0zm-6 1zm2 0zm-3 1zm1 0zm10 0zm-6 1zm14 0zm-9 1zm8 1zm-13 1zm6 1zm2 0zm4 0zm1 0zm-19 1zm4 0zm4 0zm-5 2zm7 0zm3 0zm-11 3zm8 0zm1 0zm-2 1zm-8 1zm4 0zm30-23zm-11 2zm9 0zm-6 1zm7 0zm-9 1zm2 0zm6 0zm10 0zm-9 2zm-10 1zm7 0zm8 0zm-14 3zm4 0zm5 1zm-2 1zm4 0zm5 0zm3 0zm-12 2zm2 0zm5 0zm-1 1zm-13 1zm2 1zm5 1zm-1 1zm-3 1zm8 0zm-11 1zm10 0zm-12 2zm14 0zm15-21zm-5 1zm3 0zm4 0zm14 0zm-19 1zm-1 1zm4 1zm-2 1zm18 0zm-14 2zm7 0zm-9 1zm14 1zm2 1zm-20 1zm5 0zm10 0zm-15 1zm0 1zm11 0zm-8 3zm3 2zm6 1zm4 0zm0 1zm4 0zm-4 1zm16-22zm12 1zm-18 4zm10 0zm-1 2zm-13 1zm13 6zm-13 5zm10 2zm-3 1zm9 0zm13-22zm-3 3zm1 5zm9 7zm-7 2zm-5 3zm39-12zm-9 5zm14 0zm-17 1zm26-10zm13 1zm1 1zm-11 7zm0 3zm30-17zm-5 9zm5 4zm3 2zm-13 2zm-3 3zm31-12zm14 0zm-17 1zm8 12zm53-10zm-9 1zm-5 5zm26 0zm11 24zm-62-9zm18 7zm-18 6zm16 1zm-36-18zm-7 12zm5 0zm-30-11zm5 15zm-5 2zm13 0zm-8 1zm-17-20zm6 1zm-9 1zm4 1zm2 1zm-6 2zm-1 1zm2 6zm5 3zm-2 1zm-13 1zm19 0zm-19 1zm-17-22zm12 0zm3 0zm-16 1zm5 8zm-10 3zm17 6zm-2 1zm-9 1zm6 2zm-9 1zm-23-22zm13 0zm5 0zm-20 2zm6 3zm7 1zm-13 1zm10 0zm5 1zm-6 4zm2 0zm5 1zm-11 2zm-7 1zm3 1zm8 0zm3 0zm-14 2zm1 0zm3 0zm2 2zm-28-21zm20 1zm-16 3zm-3 1zm1 0zm-3 4zm8 1zm-10 1zm4 0zm1 2zm-5 1zm15 0zm-12 2zm11 0zm8 0zm-7 2zm5 1zm-15 1zm-28-21zm-1 1zm13 0zm2 0zm-11 1zm19 0zm-1 1zm-21 1zm3 1zm1 0zm11 0zm4 1zm-14 2zm-6 1zm5 0zm10 2zm3 0zm-16 3zm1 0zm3 1zm4 0zm5 0zm-1 1zm7 0zm-18 1zm3 0zm2 0zm2 0zm6 0zm0 1zm-13 1zm5 0zm7 1zm8 0zm-18 1zm6 0zm-11 1zm3 0zm7 0zm-21-22zm-1 2zm-10 1zm10 0zm-10 1zm2 0zm3 0zm16 0zm-21 1zm7 1zm3 0zm8 0zm-20 1zm6 2zm7 1zm4 1zm-13 1zm14 0zm-18 1zm0 1zm1 0zm8 0zm1 1zm8 0zm-12 1zm5 0zm3 0zm3 0zm-7 1zm11 0zm-13 1zm3 0zm8 0zm-17 1zm6 0zm-6 1zm12 1zm-11 2zm-24-23zm3 0zm2 1zm-6 1zm12 1zm5 1zm2 1zm-15 1zm10 0zm4 0zm1 0zm-20 1zm10 1zm8 0zm-18 1zm11 1zm-12 1zm22 0zm-5 1zm3 0zm-14 1zm13 2zm1 1zm-8 3zm4 0zm-2 1zm9 0zm-18 1zm14 0zm2 1zm-7 1zm9 0zm-32-21zm3 0zm2 2zm-8 7zm4 8zm-3 1zm-20-17zm33 21zm19 0zm0 1zm-1 1zm1 2zm-17 4zm6 1zm-10 6zm0 1zm20 1zm-5 6zm9-23zm6 0zm5 1zm2 0zm-2 2zm2 0zm8 0zm-20 1zm7 0zm8 1zm-4 2zm2 1zm2 0zm-8 1zm7 0zm-9 1zm3 1zm2 0zm-4 3zm13 0zm-4 1zm-14 1zm14 1zm1 0zm-11 3zm11 0zm-4 1zm-9 1zm0 1zm27-23zm13 0zm-18 1zm13 0zm1 0zm-16 1zm2 0zm4 0zm2 0zm12 0zm2 0zm1 0zm-23 1zm10 0zm8 1zm1 0zm-10 1zm7 0zm-11 1zm7 0zm7 0zm2 0zm-4 1zm-17 1zm21 2zm2 0zm-18 2zm4 0zm9 2zm2 0zm-20 1zm9 0zm4 0zm-10 1zm7 0zm4 0zm3 0zm-17 1zm4 0zm12 0zm7 0zm-23 1zm7 0zm1 0zm-4 1zm-2 1zm11 0zm1 0zm7 0zm1 0zm-10 1zm3 0zm-15 1zm11 0zm8 0zm2 0zm1 1zm15-23zm-6 2zm15 0zm-19 1zm9 0zm-10 1zm19 1zm-10 1zm7 2zm-10 1zm2 0zm10 0zm-11 1zm-7 1zm13 0zm1 0zm-11 1zm4 0zm10 1zm4 0zm-22 1zm22 0zm-13 2zm5 0zm1 0zm-7 1zm7 0zm1 0zm-3 1zm3 0zm-8 2zm7 0zm-8 1zm13 0zm-9 2zm8 0zm4-23zm8 3zm2 0zm3 0zm-12 1zm13 0zm-2 1zm9 0zm-20 1zm1 0zm1 1zm1 0zm-1 5zm16 1zm-8 2zm8 0zm3 0zm-2 1zm-13 1zm7 1zm-10 2zm18 0zm11-17zm14 0zm-15 5zm0 1zm6 1zm2 0zm3 0zm3 0zm-17 2zm-3 1zm10 0zm3 0zm-2 1zm-4 1zm-4 1zm3 0zm-4 1zm1 1zm1 0zm2 0zm12 0zm-11 1zm7 1zm15-15zm3 4zm-6 2zm3 2zm-5 3zm10 0zm9 4zm9-18zm8 3zm-6 1zm2 6zm-10 3zm14 6zm19-16zm-5 8zm15 3zm21-13zm-16 19zm46-7zm48 25zm-63-12zm-10 8zm-19 4zm5 5zm-10-13zm-14 7zm0 3zm3 4zm5 0zm-28-20zm-6 1zm-5 2zm16 0zm2 4zm-2 3zm5 2zm-2 2zm-18 5zm18 0zm-24-21zm-19 4zm18 0zm-6 1zm-4 2zm-4 1zm-2 2zm10 0zm11 0zm-19 1zm6 0zm12 1zm-8 2zm-13 5zm-23-19zm18 0zm-4 3zm-4 4zm7 0zm-16 1zm2 0zm1 0zm5 1zm-9 2zm7 0zm10 0zm-18 2zm0 1zm0 1zm3 2zm16 1zm-3 2zm-13 2zm-26-22zm2 0zm8 0zm4 0zm-11 2zm5 0zm8 0zm0 1zm-4 2zm1 0zm-7 1zm9 0zm-17 1zm3 2zm13 0zm-14 1zm7 0zm1 0zm1 0zm9 0zm1 1zm-13 1zm1 0zm-7 1zm16 0zm-11 1zm2 0zm7 0zm-9 1zm2 0zm-5 1zm7 0zm-8 1zm5 0zm-8 1zm1 0zm2 0zm1 0zm1 0zm5 0zm3 0zm1 0zm2 0zm-8 1zm12 0zm-19 1zm8 0zm-2 1zm12 0zm3 0zm-14 1zm8 0zm4 0zm1 0zm-18 1zm3 0zm5 0zm3 0zm2 0zm-34-23zm3 1zm7 0zm2 0zm-17 1zm18 0zm-11 1zm3 1zm3 0zm4 0zm3 0zm-3 1zm5 0zm-14 1zm-7 1zm14 0zm6 0zm-21 1zm4 0zm11 0zm-3 1zm4 0zm2 0zm-5 1zm-5 1zm-8 1zm10 0zm10 0zm-7 1zm-1 1zm1 0zm1 0zm2 0zm-13 1zm9 0zm7 0zm-9 1zm-5 1zm2 1zm2 0zm6 0zm6 0zm-7 2zm-3 1zm1 0zm9 0zm-3 1zm-19 1zm7 0zm-27-23zm11 0zm5 0zm-7 1zm6 1zm3 0zm-20 2zm1 0zm3 0zm0 1zm10 0zm5 0zm-13 1zm-6 1zm15 0zm-9 1zm10 0zm-13 1zm18 0zm-19 1zm-1 1zm10 0zm6 1zm-15 1zm17 0zm-12 1zm1 0zm3 0zm4 2zm-6 1zm11 0zm-6 1zm-11 1zm12 0zm5 0zm-14 1zm11 0zm3 0zm-13 1zm1 0zm1 0zm8 0zm-17 1zm5 0zm8 0zm-3 1zm-23-20zm-5 1zm7 0zm8 0zm-12 1zm8 0zm-16 1zm12 0zm7 1zm-17 1zm11 0zm4 2zm1 1zm-6 1zm8 0zm-21 1zm15 0zm-6 1zm3 0zm-2 2zm6 1zm-11 2zm4 0zm-2 2zm-19-20zm9 0zm-11 2zm-1 5zm2 9zm2 1zm-2 4zm6 11zm17-9zm3 2zm0 1zm4 2zm-3 1zm3 0zm-1 5zm5 4zm-20 1zm6 4zm-3 2zm2 1zm26-23zm-4 1zm9 0zm1 0zm2 1zm-1 1zm-2 1zm-15 1zm3 0zm1 0zm7 0zm6 0zm3 1zm2 0zm-12 1zm12 0zm-21 1zm19 0zm-7 1zm-6 1zm10 0zm-16 2zm15 0zm-3 1zm2 0zm7 0zm-22 1zm10 0zm-1 1zm-1 1zm9 0zm-7 1zm1 0zm6 0zm-1 1zm6 0zm-8 2zm5 0zm-9 1zm7 0zm-4 1zm2 0zm0 1zm3 0zm12-23zm2 0zm15 0zm-23 1zm4 0zm6 0zm5 0zm1 0zm-11 1zm3 0zm7 0zm-10 1zm6 0zm5 0zm-14 1zm21 0zm-16 1zm12 0zm3 0zm-7 1zm1 0zm-14 1zm5 0zm7 0zm4 0zm-18 1zm3 0zm-2 1zm3 0zm7 0zm1 0zm-9 1zm4 0zm3 0zm6 0zm7 0zm-12 1zm12 0zm-1 1zm-13 1zm6 0zm5 0zm-3 1zm4 0zm1 0zm1 0zm-22 1zm7 0zm3 0zm-5 1zm-4 1zm12 0zm8 0zm-11 1zm6 0zm-14 1zm4 0zm6 0zm6 0zm-14 1zm7 0zm3 0zm4 0zm4 0zm-4 1zm1 0zm-20 1zm1 0zm10 0zm9 0zm3 0zm13-22zm-5 1zm2 0zm7 0zm3 0zm-11 1zm1 0zm12 0zm1 0zm-21 1zm5 0zm2 0zm7 0zm7 0zm-17 1zm5 0zm5 0zm-12 1zm2 0zm3 0zm2 0zm-3 1zm12 0zm2 0zm1 0zm1 0zm-11 1zm3 0zm4 0zm-18 1zm19 0zm-18 1zm5 0zm1 0zm4 0zm7 0zm-15 2zm7 0zm3 0zm3 0zm3 0zm-9 1zm3 0zm-13 1zm4 0zm2 0zm2 0zm2 0zm-4 1zm4 0zm7 2zm4 0zm-16 1zm5 0zm2 0zm6 0zm3 0zm-22 1zm6 0zm7 0zm1 0zm-5 1zm-1 1zm10 0zm1 0zm-9 1zm2 0zm4 0zm2 0zm4 0zm-20 1zm5 0zm2 0zm2 0zm1 0zm5 0zm-15 1zm2 0zm1 0zm5 0zm10 0zm1 0zm3-23zm2 0zm14 0zm-6 2zm6 0zm-15 1zm15 0zm2 0zm-17 1zm0 1zm16 1zm-15 1zm1 0zm4 1zm3 1zm6 0zm-15 1zm18 0zm1 0zm-18 1zm1 0zm19 0zm-8 1zm-8 2zm16 0zm-17 2zm2 0zm12 0zm-18 1zm9 0zm5 0zm2 0zm-17 1zm10 0zm-9 1zm5 0zm-2 1zm6 0zm3 0zm-12 2zm1 0zm4 0zm4 1zm12 0zm9-20zm0 1zm-3 2zm4 0zm11 1zm-13 3zm10 1zm-12 2zm10 1zm2 0zm-1 1zm-14 1zm4 0zm15 0zm-19 1zm18 0zm1 0zm-18 1zm3 2zm5 2zm7 0zm-15 1zm41-19zm-19 2zm5 1zm6 0zm12 1zm-23 1zm18 1zm0 4zm-17 1zm9 1zm-4 1zm5 0zm-11 2zm15 0zm-5 1zm-10 2zm33-17zm-9 3zm21 0zm-18 2zm-2 6zm3 3zm48-15zm-3 9zm1 1zm28 5zm60 26zm-34-16zm-47-5zm11 16zm-10 3zm-34-14zm12 5zm-9 3zm9 3zm-6 3zm-14-15zm-15 5zm11 12zm-19-21zm6 0zm-12 2zm1 1zm2 0zm-1 3zm-8 1zm1 0zm7 0zm-2 1zm2 7zm0 1zm-9 1zm-2 1zm0 1zm5 0zm5 0zm-1 2zm7 0zm-15 1zm14 1zm-24-23zm-14 1zm7 0zm2 0zm3 0zm-9 1zm7 0zm-12 1zm6 0zm14 1zm-20 2zm1 0zm18 0zm-7 1zm2 0zm6 0zm-17 1zm11 1zm-14 1zm3 1zm1 0zm-4 1zm16 0zm-9 1zm1 0zm5 0zm9 0zm-18 1zm3 0zm7 0zm-2 1zm3 0zm-5 1zm-11 1zm12 0zm4 0zm-10 1zm2 0zm-3 1zm9 1zm9 1zm-18 1zm14 1zm2 0zm-38-22zm11 0zm4 0zm-19 1zm12 0zm-15 1zm2 0zm9 0zm3 0zm-14 1zm4 0zm2 0zm2 0zm14 0zm-20 1zm1 0zm1 0zm9 0zm8 0zm-10 1zm1 0zm-12 1zm2 0zm7 0zm4 0zm10 0zm-20 1zm16 0zm-19 1zm22 0zm1 0zm-23 1zm2 0zm17 0zm-15 1zm10 0zm-13 1zm8 1zm2 0zm4 0zm2 1zm4 0zm-20 1zm4 0zm9 0zm-14 1zm6 0zm13 0zm1 0zm3 0zm-22 1zm8 0zm1 0zm1 0zm2 0zm1 0zm8 0zm-20 1zm3 0zm4 0zm2 0zm2 0zm-6 1zm10 0zm2 0zm-17 1zm2 0zm5 0zm3 0zm3 0zm1 0zm4 0zm3 0zm-13 1zm11 0zm-21 1zm1 0zm10 0zm6 0zm-15 1zm11 0zm1 0zm4 0zm-39-23zm3 0zm5 0zm7 0zm-13 1zm2 0zm3 0zm5 0zm3 0zm2 0zm-20 1zm3 0zm10 0zm6 0zm4 0zm-12 1zm9 0zm2 0zm-12 1zm12 0zm-21 1zm9 0zm7 0zm3 0zm2 0zm-22 2zm7 0zm1 0zm1 0zm1 0zm6 0zm-16 1zm13 0zm9 0zm-16 1zm5 0zm9 0zm-6 1zm1 0zm8 0zm-16 1zm1 0zm1 0zm14 0zm-19 1zm9 0zm3 0zm4 0zm2 0zm-16 1zm1 0zm10 0zm4 0zm-11 1zm5 0zm-4 1zm4 0zm3 0zm3 0zm-21 1zm4 0zm11 0zm3 0zm-17 1zm4 0zm2 0zm1 0zm4 0zm4 0zm3 0zm2 0zm-18 1zm6 0zm1 0zm7 0zm-17 1zm10 0zm3 0zm7 0zm3 0zm-18 1zm5 0zm11 0zm1 0zm-16 1zm2 0zm11 0zm-18 1zm8 0zm3 0zm9 0zm-19 1zm14 0zm1 0zm6 0zm-45-23zm1 0zm15 0zm1 0zm3 0zm-7 1zm2 0zm4 0zm1 0zm-10 1zm3 0zm7 0zm-9 1zm2 0zm2 0zm1 0zm-15 1zm1 0zm12 0zm0 1zm2 0zm1 0zm-16 1zm4 0zm9 0zm2 1zm2 0zm1 1zm-15 1zm1 0zm12 0zm1 1zm-6 1zm8 0zm-18 1zm1 0zm4 0zm9 1zm-8 1zm1 0zm-11 1zm3 0zm15 0zm-6 1zm1 0zm5 0zm2 0zm-10 1zm-9 1zm19 0zm2 0zm-3 1zm1 0zm-20 1zm8 0zm4 0zm3 0zm3 0zm2 0zm3 0zm-17 1zm-5 1zm15 0zm-16 1zm6 0zm5 0zm-32-23zm3 0zm16 0zm-3 1zm-6 1zm3 0zm3 0zm-12 1zm7 0zm5 0zm4 0zm-14 2zm14 1zm-21 1zm2 2zm17 0zm1 0zm1 1zm-16 1zm10 1zm-12 3zm15 0zm-5 1zm-11 1zm10 2zm-8 1zm5 2zm10 0zm-21 1zm5 0zm-21-20zm10 0zm1 0zm-5 1zm4 1zm-1 1zm-7 3zm7 3zm5 0zm-1 3zm-4 5zm3 7zm-8 3zm9 0zm2 5zm-6 11zm27-22zm-16 1zm2 0zm16 2zm-22 1zm12 2zm3 0zm2 0zm-2 5zm5 2zm-13 1zm3 0zm1 0zm7 2zm-6 1zm10 1zm-11 1zm10 2zm-14 1zm9 1zm11-23zm15 0zm4 0zm1 0zm-2 1zm-15 2zm12 0zm4 0zm-12 1zm4 0zm7 0zm-11 1zm11 0zm1 0zm-16 1zm13 0zm-8 1zm9 0zm3 0zm-8 1zm-7 1zm7 0zm-2 2zm6 0zm3 0zm-9 1zm-2 3zm-2 1zm5 0zm-10 1zm17 0zm-20 1zm15 1zm-8 1zm12 0zm-5 1zm6 0zm-13 1zm2 0zm10 0zm-16 1zm11 0zm2 0zm4 0zm4-23zm1 0zm1 0zm19 0zm-13 1zm7 0zm2 0zm2 0zm-13 1zm5 0zm7 0zm1 0zm-18 1zm3 0zm8 0zm8 0zm-14 1zm6 0zm8 0zm-19 1zm18 0zm2 0zm-14 1zm6 0zm-2 1zm5 0zm-17 1zm8 0zm2 0zm1 0zm1 0zm1 0zm-2 1zm1 0zm4 0zm-16 1zm2 0zm7 0zm1 0zm9 0zm4 0zm-14 1zm-6 1zm4 0zm1 0zm9 0zm-6 1zm2 0zm2 0zm8 0zm-22 1zm4 0zm12 0zm6 0zm-11 1zm5 0zm-2 1zm3 0zm3 0zm2 0zm-11 1zm-10 1zm1 0zm14 0zm-10 1zm14 0zm-17 1zm3 0zm1 0zm2 0zm5 0zm1 0zm-11 1zm5 0zm8 0zm3 0zm2 0zm-5 1zm-9 1zm13 0zm3-23zm2 0zm3 0zm1 0zm-5 1zm9 0zm-6 1zm2 0zm5 0zm5 0zm3 0zm-16 1zm2 0zm2 0zm3 0zm6 0zm-14 1zm9 0zm-8 1zm1 0zm1 0zm9 0zm5 0zm-1 1zm4 0zm-21 1zm2 0zm1 0zm2 0zm9 0zm1 0zm4 0zm-19 1zm5 0zm12 0zm1 0zm1 0zm-21 1zm1 0zm6 0zm8 0zm-15 1zm1 0zm21 0zm-21 1zm2 0zm6 0zm0 1zm-6 1zm3 0zm1 0zm6 0zm7 0zm-7 1zm-7 1zm3 0zm13 0zm-20 1zm9 0zm5 0zm2 0zm-14 1zm3 0zm3 0zm1 0zm7 0zm2 0zm2 0zm-11 1zm4 0zm-14 1zm7 0zm11 0zm-15 1zm2 0zm16 0zm-22 1zm7 0zm11 0zm-15 1zm2 0zm-4 1zm13 0zm26-22zm3 1zm-18 2zm1 0zm21 0zm-9 1zm5 0zm-6 1zm-10 1zm7 0zm13 2zm-5 1zm2 0zm-13 1zm10 0zm3 0zm2 0zm-19 1zm-3 1zm1 0zm6 0zm4 0zm-11 1zm1 0zm18 0zm-18 2zm2 1zm-1 1zm1 0zm7 0zm4 0zm-4 1zm3 0zm10 0zm-18 2zm24-20zm11 2zm4 0zm-20 1zm2 0zm10 0zm-10 1zm12 0zm-2 1zm-10 1zm15 1zm2 0zm2 1zm-17 1zm7 0zm4 0zm-14 1zm2 0zm6 1zm-8 5zm2 1zm9 0zm-11 1zm8 0zm-9 1zm8 0zm5 0zm-13 2zm7 0zm5 0zm2 0zm-13 1zm35-23zm0 1zm-11 1zm6 4zm2 2zm14 4zm-8 2zm-4 1zm11 0zm-19 3zm12 1zm-4 1zm2 0zm0 1zm32-9zm-4 3zm-2 4zm2 0zm-17 1zm11 0zm16-13zm-3 4zm9 8zm-4 2zm-2 2zm83-20zm-3 16zm57 16zm-63-10zm2 1zm-6 16zm-22 4zm-6-7zm-35-13zm-8 1zm4 0zm-5 4zm14 2zm-9 3zm-4 3zm0 4zm-14-15zm3 1zm-11 10zm5 0zm-1 1zm6 0zm-38-16zm10 2zm9 4zm-6 1zm-8 1zm14 2zm-10 1zm1 0zm10 1zm-11 2zm-4 1zm16 3zm-11 1zm4 1zm-14 1zm-16-20zm4 2zm8 0zm-18 1zm1 0zm-3 3zm11 0zm1 0zm1 0zm9 1zm-22 1zm18 2zm2 0zm-18 1zm2 0zm7 0zm3 0zm1 1zm-6 4zm-8 1zm1 0zm-1 1zm0 2zm6 0zm-4 1zm14 0zm-9 1zm-30-23zm1 0zm8 0zm9 0zm2 0zm-17 2zm1 1zm6 0zm3 0zm4 0zm-16 1zm2 0zm7 0zm0 1zm-8 1zm5 0zm5 0zm-10 2zm9 0zm2 0zm-4 1zm6 0zm-16 1zm2 0zm16 0zm-15 1zm2 0zm8 0zm3 0zm-11 1zm-2 1zm7 0zm1 0zm-6 2zm3 0zm6 0zm2 0zm-14 1zm9 0zm6 1zm-6 1zm-2 1zm0 1zm1 0zm-2 1zm1 0zm-4 1zm9 0zm-10 1zm4 0zm5 0zm8 0zm-25-23zm-19 1zm16 0zm2 0zm2 0zm1 0zm-9 1zm-14 1zm3 0zm12 0zm-2 1zm1 0zm1 0zm-15 1zm4 0zm1 0zm17 0zm1 0zm-6 1zm5 1zm-10 1zm11 0zm-22 1zm3 0zm8 0zm-9 1zm1 1zm1 0zm2 0zm9 0zm-9 1zm3 0zm-7 1zm2 0zm1 0zm3 0zm7 0zm1 0zm-6 1zm11 0zm-13 1zm7 0zm-16 2zm3 0zm6 0zm-2 1zm-6 1zm14 0zm-12 1zm12 0zm-8 1zm1 0zm8 0zm4 0zm2 0zm-9 1zm6 0zm-9 1zm-31-23zm1 0zm4 0zm9 0zm3 0zm-18 1zm2 0zm5 0zm-4 1zm4 0zm2 0zm2 0zm10 0zm-18 1zm7 0zm-4 1zm13 0zm-2 1zm2 0zm-21 1zm17 0zm2 0zm-19 1zm3 0zm8 0zm5 0zm6 1zm-15 1zm8 0zm2 1zm-13 1zm14 0zm2 0zm-16 1zm11 0zm2 0zm-15 1zm9 2zm6 0zm-2 1zm3 0zm1 0zm-16 2zm4 1zm1 0zm6 0zm-10 1zm10 1zm-7 2zm12 0zm-33-23zm2 0zm9 0zm2 0zm-12 1zm2 0zm3 1zm-10 1zm4 1zm3 1zm8 1zm-19 1zm3 3zm16 0zm-10 1zm9 0zm-2 2zm-4 2zm4 5zm1 0zm-16 3zm16 0zm3 0zm-24-22zm-1 2zm-6 3zm7 5zm-2 1zm3 4zm0 4zm-8 1zm-8 1zm7 3zm7 0zm2 0zm-2 1zm-4 9zm20-11zm6 1zm4 1zm-23 4zm3 4zm5 1zm8 4zm3 0zm-12 1zm-3 1zm2 4zm14 1zm20-22zm-13 1zm1 0zm11 0zm4 0zm-15 1zm-3 1zm0 1zm10 0zm4 0zm5 0zm-6 1zm6 1zm-7 1zm-13 1zm3 0zm-2 1zm15 0zm7 0zm-6 3zm-10 1zm8 0zm7 0zm-20 1zm11 2zm0 1zm7 1zm1 1zm1 0zm-18 1zm9 0zm-5 1zm-8 1zm2 1zm16 0zm5 0zm14-23zm2 0zm4 0zm-14 1zm3 0zm-7 1zm4 0zm5 0zm2 0zm-8 1zm8 1zm11 0zm-2 1zm-14 1zm16 0zm-14 1zm7 0zm-3 1zm-10 2zm7 0zm8 0zm-12 1zm2 0zm15 1zm-21 1zm10 0zm5 0zm-16 1zm7 0zm9 0zm6 0zm-7 1zm-7 2zm11 0zm-11 1zm14 0zm-9 1zm5 1zm-13 1zm4 0zm6 0zm-2 2zm27-21zm-14 1zm13 0zm-11 2zm15 1zm-1 1zm0 1zm1 1zm2 1zm1 0zm-19 1zm16 0zm-16 1zm8 0zm3 0zm0 1zm-2 1zm5 0zm-14 1zm7 1zm2 0zm1 0zm1 1zm2 0zm-9 1zm6 1zm-7 1zm2 0zm10 0zm1 0zm-18 1zm14 0zm1 0zm1 0zm-12 1zm1 0zm12 1zm9-23zm13 1zm6 0zm-17 2zm12 0zm1 0zm-12 1zm3 2zm-6 1zm5 1zm-1 2zm-5 2zm5 0zm6 0zm-2 1zm-10 1zm18 3zm-5 1zm1 0zm-9 1zm-3 1zm2 1zm3 0zm2 0zm1 2zm6 0zm2 0zm6-21zm14 1zm-13 1zm2 0zm13 0zm-5 5zm-1 3zm3 0zm7 0zm-11 2zm6 0zm3 0zm-2 1zm-8 1zm-3 1zm2 2zm-7 2zm7 0zm-6 1zm1 0zm8 1zm17-23zm3 1zm7 0zm-12 2zm5 0zm5 2zm-1 4zm0 1zm2 2zm3 0zm-14 1zm14 2zm4 2zm-11 1zm8 1zm-17 1zm9 0zm-10 3zm9 0zm31-15zm-15 2zm-1 2zm13 1zm3 0zm-13 3zm13 1zm-14 5zm14 0zm2 0zm5 0zm15-18zm-7 4zm10 1zm-6 5zm9 0zm-15 1zm-1 1zm5 0zm9 2zm-3 4zm-8 1zm11 0zm25-20zm-12 19zm31-16zm20 10zm-1 3zm-29 20zm-19-11zm-8 4zm1 14zm-12-22zm2 3zm-14 4zm4 1zm10 1zm-2 3zm-12 3zm15 1zm5 2zm-37-14zm-9 3zm6 4zm12 0zm-16 2zm6 1zm-2 3zm12 0zm-18 1zm2 0zm-1 1zm-1 2zm10 1zm-26-21zm10 0zm-17 2zm21 2zm-18 2zm5 5zm-1 1zm2 0zm8 0zm-13 1zm9 0zm-11 1zm9 2zm-3 1zm-2 1zm-5 1zm4 1zm16 2zm-27-23zm3 0zm-16 1zm5 0zm4 0zm-10 1zm3 1zm-8 2zm10 1zm0 1zm9 0zm-19 1zm11 0zm2 0zm4 2zm-15 1zm-1 1zm0 1zm1 0zm12 0zm-9 1zm1 0zm6 0zm6 1zm-9 1zm7 0zm4 0zm3 0zm-12 1zm8 0zm-10 2zm-29-19zm12 1zm-7 2zm14 0zm-22 1zm4 0zm13 0zm-11 2zm16 1zm-22 1zm4 3zm4 1zm1 2zm1 1zm-9 1zm4 2zm15 0zm-20 1zm8 1zm5 0zm3 0zm-15 1zm3 1zm1 0zm14 1zm-32-23zm-8 1zm19 1zm-10 3zm6 0zm-12 1zm6 0zm-5 1zm-8 2zm5 0zm10 0zm-1 2zm-1 1zm7 0zm-1 1zm-16 1zm3 1zm17 0zm-22 1zm2 0zm14 1zm3 1zm-19 2zm22 0zm-13 1zm-5 1zm-19-22zm10 0zm3 0zm-22 1zm9 0zm9 1zm-14 1zm1 0zm3 0zm14 0zm-14 1zm3 0zm6 1zm-16 1zm3 0zm7 0zm10 0zm-17 1zm3 0zm14 1zm0 1zm-9 2zm-4 1zm-3 2zm8 0zm6 0zm1 1zm0 1zm-11 1zm-10 1zm1 0zm14 5zm-26-22zm2 0zm-5 2zm1 1zm2 0zm-4 1zm11 0zm1 0zm0 1zm-13 2zm-2 1zm11 0zm6 0zm-14 1zm11 1zm2 0zm-15 2zm10 0zm-14 1zm7 0zm11 5zm-7 1zm-10 2zm-14-21zm-8 4zm16 0zm-13 6zm-6 1zm20 2zm-5 3zm-7 5zm10 6zm-2 6zm16-7zm3 5zm4 1zm-2 1zm1 0zm-3 1zm-10 3zm-3 3zm13 3zm-6 1zm4 0zm-8 2zm24-23zm18 1zm-3 2zm-16 2zm2 1zm5 0zm-2 2zm2 0zm3 0zm2 0zm0 1zm-11 2zm13 3zm2 0zm-1 7zm2 0zm-20 2zm3 0zm36-19zm2 0zm-3 2zm-10 1zm12 1zm-3 1zm5 1zm-18 1zm12 0zm8 0zm-16 1zm10 0zm7 3zm-7 2zm-8 3zm7 1zm7 1zm-14 1zm26-22zm10 0zm4 0zm-20 2zm5 1zm-7 3zm12 0zm-1 5zm-5 1zm15 2zm-14 1zm3 0zm-8 1zm19 0zm-17 1zm5 5zm30-22zm3 0zm-12 2zm14 1zm-12 2zm3 0zm-7 1zm18 1zm0 1zm-10 1zm6 0zm-9 1zm-4 1zm15 0zm2 1zm-12 2zm10 0zm-19 1zm22 0zm-14 3zm13 1zm-1 1zm1 0zm1 1zm3-21zm0 3zm18 4zm-20 2zm17 0zm1 0zm-12 1zm4 0zm13 1zm-7 1zm-5 5zm6 0zm4 0zm-3 3zm-17 2zm18 0zm1 0zm2 0zm20-22zm1 0zm-8 1zm9 0zm-19 2zm8 0zm5 2zm6 2zm-15 5zm6 1zm0 1zm-11 2zm10 1zm0 2zm3 0zm-8 1zm16 0zm11-17zm-8 5zm5 1zm12 1zm2 0zm-16 3zm18 4zm-20 1zm42-7zm-11 1zm-2 3zm5 3zm5 0zm-6 2zm36-12zm-22 7zm17 1zm-10 3zm17 11zm14 1zm-32 4zm17 6zm-33-14zm-7 3zm-3 9zm3 6zm-22-22zm-5 4zm6 0zm9 3zm-16 8zm3 0zm14 0zm2 3zm-16 1zm7 0zm-35-16zm5 1zm3 2zm6 0zm4 0zm1 1zm-3 2zm2 1zm-2 1zm-9 1zm8 0zm-17 1zm9 0zm1 2zm2 1zm7 0zm-11 2zm-26-18zm3 0zm9 0zm-13 2zm3 0zm-6 2zm14 0zm-7 1zm-9 2zm23 0zm-17 3zm14 0zm-15 2zm11 2zm7 1zm-5 1zm-14 1zm18 1zm-19 2zm9 0zm-1 1zm-19-20zm-9 3zm14 0zm-19 1zm6 0zm13 3zm-21 1zm19 2zm-2 2zm-9 1zm15 0zm-23 1zm23 0zm-2 2zm-17 2zm13 4zm-25-23zm4 0zm-17 3zm19 1zm-21 2zm6 1zm11 0zm-15 3zm-3 1zm5 4zm5 0zm-2 3zm10 0zm2 1zm-3 3zm-11 1zm-24-22zm7 0zm3 0zm-12 1zm-4 3zm19 3zm-3 3zm4 1zm-2 2zm-9 1zm4 0zm5 0zm-9 2zm3 1zm-24-15zm7 2zm-1 3zm-9 8zm0 1zm-5 2zm9 0zm0 1zm-20-17zm3 11zm22 10zm5 6zm-4 1zm-7 1zm3 1zm5 5zm3 6zm1-19zm12 6zm3 1zm5 3zm3 2zm-7 1zm-8 2zm14 0zm-10 1zm-8 1zm17 1zm-7 1zm8 1zm10-18zm0 5zm6 0zm9 0zm-20 3zm1 2zm11 4zm-2 4zm31-21zm-12 1zm-2 1zm3 0zm7 1zm-1 4zm-11 1zm19 0zm-12 2zm-1 1zm5 0zm-10 7zm5 2zm-5 3zm21-21zm18 0zm-12 1zm11 0zm-3 1zm-5 1zm-11 1zm21 0zm-15 2zm12 6zm-13 3zm0 4zm17 1zm5-22zm4 3zm1 2zm5 1zm-11 1zm4 4zm-2 1zm16 1zm2 0zm-5 4zm6 6zm13-23zm7 1zm-12 4zm-5 1zm13 1zm-2 6zm9 1zm1 2zm1-9zm10 4zm4 10zm11-20zm16 3zm-17 20zm-24 1zm3 9zm1 2zm-19 3zm-4 4zm-24-17zm-4 5zm6 8zm8 0zm-13 2zm7 1zm-16-18zm-11 1zm6 0zm-12 1zm14 2zm-1 1zm9 2zm-20 2zm14 12zm-26-21zm9 4zm-10 8zm-10 2zm10 2zm-5 6zm-21-20zm-1 1zm6 4zm1 7zm3 3zm-34-17zm-1 3zm43 21zm27 0zm-4 1z"/>
<path stroke="#2f2c78" d="M115 70zm28-10zm-12 4zm8 0zm3 0zm-10 3zm-7 3zm9 0zm6 1zm11-15zm-6 2zm3 1zm8 0zm2 0zm-14 5zm0 5zm2 0zm-2 1zm16 0zm-12 1zm74 9zm-36 8zm-10 2zm-8 2zm2 0zm11 2zm-35-22zm1 0zm-3 2zm0 2zm12 0zm1 4zm-1 2zm-7 3zm1 0zm11 1zm-16 3zm15 0zm6 0zm-17 2zm-27-19zm5 0zm16 1zm-8 1zm-1 1zm-6 2zm5 0zm6 1zm2 0zm-20 4zm6 1zm1 0zm6 2zm6 2zm2 0zm1 1zm-23 1zm16 1zm-6 1zm0 3zm-6 1zm13 0zm-19-16zm-5 1zm6 1zm-6 2zm-16 1zm6 0zm0 1zm2 0zm-2 2zm5 0zm9 2zm-14 1zm16 0zm-8 5zm-20 5zm9 0zm7 0zm-3 10zm1 4zm-1 2zm15 0zm-7 1zm8-20zm19 0zm-8 1zm11 0zm-13 1zm1 0zm6 0zm-9 2zm5 1zm8 0zm-15 2zm12 0zm6 3zm-14 1zm1 0zm6 0zm-7 1zm3 0zm11 0zm-16 1zm2 0zm11 0zm-4 2zm1 0zm2 0zm1 1zm-3 1zm-7 1zm-3 1zm8 2zm15-22zm9 1zm0 1zm-8 1zm6 0zm-7 1zm7 0zm-4 2zm5 0zm1 0zm-14 1zm7 1zm15 0zm-19 3zm-3 1zm14 1zm5 3zm-16 1zm-3 1zm3 0zm2 0zm8 1zm-14 1zm5 0zm10 3zm6 0zm11-17zm-4 1zm-4 2zm17 5zm3 1zm-15 1zm-4 1zm9 5zm16-3zm5 4zm27-9zm347-14zm41 47zm-26-1zm-371-3zm-14-12zm6 4zm0 2zm-9 2zm-3 3zm10 0zm-14 2zm-14-19zm-10 1zm6 2zm7 0zm9 0zm-22 1zm1 4zm1 0zm-2 3zm3 4zm4 0zm-6 1zm7 2zm-9 1zm5 1zm10 1zm2 0zm-19-22zm-19 1zm6 0zm-6 1zm-3 1zm3 0zm20 0zm0 1zm-16 1zm3 0zm7 0zm-12 1zm13 0zm0 1zm-10 1zm0 2zm3 0zm11 0zm-1 1zm-20 1zm2 2zm1 0zm4 0zm4 0zm10 0zm-12 2zm7 0zm-11 2zm11 2zm6 0zm-10 1zm10 1zm-31-22zm-8 1zm3 0zm6 0zm4 0zm-15 3zm-3 1zm-3 1zm1 0zm19 3zm1 0zm1 2zm-6 2zm2 0zm-6 1zm-10 2zm18 0zm-14 3zm10 0zm-9 1zm12 0zm-16 2zm19 0zm-3 1zm-28-18zm-7 1zm1 0zm0 2zm7 1zm4 2zm-18 1zm2 0zm7 0zm-11 2zm2 0zm4 0zm3 0zm-6 4zm3 0zm13 0zm-18 2zm7 0zm-7 1zm17 0zm-17 1zm-2-10zm-6 4zm3 0zm-2 1zm-9 1zm6 0zm3 0zm2 2zm-13 1zm2 0zm7 0zm1 0zm-9 1zm8 0zm-12 1zm3 0zm3 0zm6 0zm4 0zm2 0zm-23 3zm-4 1zm4 1zm-9 1zm6 0zm0 1zm-2 1zm4 0zm-5 1zm3 0zm-3 2zm6 0zm-10 1zm-6 1zm13 0zm-11 1zm11 0zm-13 1zm12 0zm-3 3zm2 2zm2 0zm-4 1zm2 0zm5 1zm-6 1zm11-22zm7 0zm3 0zm2 0zm-13 1zm1 0zm2 0zm10 1zm-14 1zm1 0zm11 0zm1 0zm1 0zm7 0zm-18 1zm2 0zm2 0zm1 0zm4 0zm6 0zm3 0zm-20 1zm7 0zm2 0zm-10 1zm3 0zm11 0zm-15 1zm3 0zm8 0zm2 0zm2 0zm2 0zm1 0zm-18 1zm1 0zm2 0zm2 0zm5 0zm6 0zm5 0zm-10 1zm4 0zm4 0zm-19 1zm2 0zm2 0zm3 0zm4 0zm1 0zm6 0zm-19 1zm3 0zm4 0zm7 0zm9 0zm-19 1zm8 0zm8 0zm-13 1zm4 0zm1 1zm-6 1zm9 0zm8 0zm-21 1zm1 0zm0 1zm5 0zm15 0zm-23 1zm1 0zm7 0zm9 0zm1 0zm-16 1zm5 0zm15 0zm-18 1zm17 0zm-15 1zm2 0zm9 0zm3 0zm2 0zm-19 1zm1 0zm2 0zm3 0zm3 0zm3 0zm7 0zm-8 1zm1 0zm2 0zm1 0zm7-23zm8 0zm13 2zm-14 1zm3 0zm-1 1zm-10 1zm1 0zm5 0zm-5 1zm5 0zm1 0zm4 0zm-11 1zm4 0zm1 1zm1 0zm4 0zm-10 1zm2 0zm4 0zm3 0zm7 0zm2 0zm-14 1zm1 0zm3 0zm3 0zm2 0zm-12 1zm2 0zm0 1zm3 0zm3 0zm3 0zm1 0zm3 0zm-10 1zm6 0zm-5 1zm4 0zm7 0zm4 0zm-13 1zm1 0zm5 0zm-7 1zm-6 2zm6 1zm7 0zm3 0zm-18 1zm1 0zm7 0zm5 1zm1 0zm-11 1zm1 0zm4 0zm8 0zm-9 1zm7 0zm13-23zm12 0zm3 2zm-7 1zm10 0zm-21 5zm0 1zm18 1zm-15 1zm-3 2zm14 0zm0 1zm2 0zm-7 3zm6 3zm1 1zm-9 1zm-5 1zm23-19zm9 0zm4 0zm2 0zm6 1zm-16 1zm8 1zm-12 1zm6 0zm5 0zm10 0zm-9 1zm2 0zm-2 1zm-6 1zm13 0zm0 1zm-21 2zm12 0zm8 0zm2 0zm-18 1zm14 1zm-14 1zm12 0zm-15 1zm11 0zm-3 1zm1 1zm1 0zm5 0zm2 0zm-14 2zm2 0zm6 0zm-9 1zm28-22zm5 2zm-5 1zm-5 2zm2 2zm0 1zm4 3zm3 0zm-4 3zm9 0zm-6 2zm-5 1zm1 0zm0 1zm3 2zm1 2zm8 0zm26-20zm-12 1zm-5 4zm1 5zm0 6zm-1 1zm22-17zm9 0zm-8 2zm30 4zm10 4zm191 2zm68-15zm15 8zm39 10zm65 17zm-28-8zm3 2zm4 12zm-33-3zm-13-1zm-52-3zm-3 10zm-66-3zm-180-10zm-1 13zm-26-12zm17 1zm-15 3zm12 9zm-21-21zm-6 3zm3 6zm-10 5zm17 0zm-21 1zm22 4zm-8 2zm0 2zm-21-23zm-6 4zm9 0zm-20 2zm14 1zm0 1zm3 2zm4 0zm-14 2zm1 0zm3 1zm-5 1zm-6 1zm20 1zm-16 2zm15 0zm1 0zm-20 1zm5 0zm-5 1zm22 1zm-23 1zm-14-22zm4 0zm-6 2zm14 1zm-16 1zm9 2zm-5 1zm3 0zm-10 2zm-3 1zm3 0zm11 0zm-1 2zm-6 1zm4 0zm12 1zm-9 1zm-14 2zm6 0zm-3 2zm8 0zm-1 1zm-3 1zm12 0zm3 0zm-13 1zm-11-21zm-10 1zm-7 1zm-4 2zm18 0zm-1 2zm-12 1zm13 0zm1 0zm1 0zm-6 1zm1 0zm-6 3zm-4 1zm3 0zm-8 1zm22 0zm-7 1zm4 0zm-13 1zm2 2zm6 0zm2 1zm2 0zm-11 2zm1 2zm-25-23zm8 0zm-12 1zm7 0zm8 0zm-10 1zm9 0zm-9 2zm5 2zm4 0zm-14 2zm-4 1zm1 1zm16 0zm-4 1zm5 0zm3 2zm-21 1zm1 1zm3 0zm11 0zm-12 1zm-3 1zm2 0zm1 0zm13 0zm7 1zm-21 2zm1 0zm20 0zm-13 1zm-8 2zm2 0zm7 0zm3 0zm-33-23zm2 0zm5 0zm2 0zm-10 1zm6 0zm-7 1zm4 0zm1 0zm2 0zm6 0zm-9 1zm4 0zm11 0zm-22 1zm3 0zm2 0zm3 0zm10 0zm1 0zm-18 1zm9 0zm9 0zm1 0zm-15 1zm9 0zm-11 1zm1 0zm5 0zm12 0zm-15 1zm1 0zm9 0zm6 0zm-22 1zm2 0zm1 0zm1 0zm3 0zm12 0zm4 0zm-6 1zm3 0zm-19 1zm8 0zm1 0zm8 0zm-16 1zm10 1zm3 1zm5 0zm2 0zm-21 1zm3 0zm7 0zm3 0zm7 0zm-1 1zm3 0zm-20 1zm2 0zm-2 1zm9 0zm1 0zm4 0zm3 0zm1 0zm-21 1zm3 0zm1 0zm3 0zm2 0zm2 0zm4 0zm-12 1zm9 0zm1 0zm4 0zm1 0zm3 0zm-16 1zm-5 1zm4 0zm2 0zm10 0zm-6 1zm2 0zm1 0zm9 0zm-44-23zm1 0zm1 0zm11 0zm2 0zm2 0zm-14 1zm12 0zm5 0zm-11 1zm2 0zm9 0zm-1 1zm-19 1zm3 0zm5 0zm4 0zm1 0zm8 0zm-19 2zm3 0zm3 0zm13 0zm-9 2zm3 0zm3 0zm-16 1zm3 0zm11 0zm-4 1zm3 0zm-11 1zm3 0zm8 0zm1 0zm4 0zm-15 1zm2 0zm4 0zm5 0zm4 0zm-8 2zm6 0zm-20 1zm3 0zm18 0zm-19 1zm5 0zm13 0zm2 0zm-11 1zm5 0zm2 0zm-14 1zm15 0zm-3 1zm6 0zm-8 2zm7 0zm-7 1zm4 1zm-30-23zm10 3zm-2 32zm15-11zm-9 1zm9 0zm9 0zm-10 1zm11 0zm-3 2zm-6 2zm3 1zm1 1zm2 1zm1 0zm4 0zm-18 3zm11 0zm1 2zm5 3zm-14 1zm11 2zm4 1zm-2 1zm4-22zm2 0zm3 0zm7 0zm1 0zm-12 1zm7 0zm1 0zm7 0zm1 0zm-18 1zm1 0zm4 0zm2 0zm3 0zm6 0zm-15 1zm2 0zm9 0zm5 0zm-11 1zm15 0zm2 0zm-22 1zm3 0zm2 0zm1 0zm8 0zm1 0zm1 0zm-16 1zm10 0zm3 0zm1 0zm-11 1zm12 0zm-3 1zm4 0zm-14 1zm7 0zm1 0zm12 0zm-13 1zm1 0zm7 0zm3 0zm1 0zm-19 1zm7 0zm3 0zm4 0zm1 0zm1 0zm-14 1zm7 0zm1 0zm2 0zm-12 1zm1 0zm6 0zm3 0zm4 0zm1 0zm4 0zm-22 1zm1 0zm11 0zm6 0zm4 0zm-17 1zm4 0zm4 0zm1 0zm3 0zm-15 1zm11 0zm8 0zm-14 1zm1 0zm-3 1zm1 0zm4 0zm3 0zm1 0zm9 0zm-21 1zm12 0zm1 0zm1 0zm6 0zm-8 2zm5 0zm3 0zm-12 1zm4 0zm-11 1zm2 0zm15 0zm4-23zm18 2zm-4 1zm-13 1zm15 0zm4 0zm-15 1zm15 0zm-11 1zm-5 1zm8 0zm4 0zm1 0zm-17 1zm18 0zm-10 1zm-6 1zm3 0zm7 1zm-12 1zm13 0zm-10 1zm3 0zm1 0zm1 0zm3 0zm-11 1zm1 0zm1 0zm2 0zm1 0zm4 0zm-9 1zm7 0zm4 0zm7 0zm-16 1zm11 0zm2 0zm3 0zm5 0zm-16 1zm2 0zm6 0zm-14 1zm9 0zm-1 1zm6 0zm-7 1zm-5 1zm14 0zm2 0zm-18 1zm4 0zm3 0zm-4 1zm4 0zm6 0zm31-23zm1 0zm1 1zm-17 2zm12 0zm2 1zm-7 1zm9 0zm-2 2zm-13 1zm3 0zm-2 1zm1 1zm10 0zm-11 2zm-6 1zm4 0zm8 0zm1 1zm1 0zm2 1zm1 0zm-2 1zm-12 5zm17 0zm-20 1zm3 0zm10 0zm0 1zm16-23zm16 0zm-15 2zm2 0zm-6 1zm5 0zm5 0zm3 0zm-11 2zm3 0zm7 0zm-11 1zm6 0zm5 0zm-9 1zm5 1zm7 0zm3 2zm-12 1zm7 0zm-15 1zm5 0zm-4 1zm-2 1zm20 0zm-10 2zm-4 1zm12 0zm-19 1zm14 0zm-14 2zm5 0zm5 0zm-9 1zm4 0zm11 0zm-2 2zm7 0zm15-21zm3 3zm-5 1zm12 1zm-19 1zm10 1zm2 0zm-12 1zm11 0zm3 0zm-7 1zm5 1zm-15 1zm5 0zm4 0zm-7 1zm-1 1zm8 0zm12 1zm1 0zm-18 1zm4 0zm2 2zm3 0zm10 0zm-22 2zm9 1zm-9 1zm6 0zm33-22zm-11 2zm0 2zm0 1zm-3 1zm3 4zm1 5zm3 1zm9 1zm-15 1zm26-10zm-1 10zm25-17zm20 10zm258 3zm8-7zm8 14zm27 25zm-33-17zm4 9zm-20 7zm-266-19zm9 3zm-11 13zm-26-8zm3 1zm-3 4zm6 0zm8 0zm-45-16zm19 1zm-1 1zm1 0zm-13 3zm-2 2zm2 0zm16 0zm-21 4zm9 0zm11 0zm-18 1zm9 0zm7 2zm1 0zm-6 1zm-5 1zm11 1zm-2 1zm-16 1zm8 0zm-9 2zm1 0zm8 1zm4 0zm-4 1zm-22-23zm-11 1zm13 0zm2 0zm1 0zm1 0zm2 0zm-18 1zm14 0zm4 1zm-17 1zm1 0zm13 0zm-14 2zm6 0zm7 0zm-11 1zm5 0zm-2 2zm5 0zm-11 1zm19 1zm-9 1zm-11 1zm6 0zm0 2zm2 0zm3 0zm-12 1zm7 1zm5 0zm3 0zm1 0zm-12 3zm4 0zm2 0zm10 0zm-20 1zm3 0zm7 0zm-9 1zm9 1zm2 0zm-27-23zm8 0zm1 0zm-12 1zm9 1zm6 0zm-6 1zm-15 1zm14 0zm7 1zm-13 1zm9 0zm4 1zm-19 1zm16 0zm-15 1zm4 1zm6 0zm7 0zm-18 1zm13 0zm6 0zm-1 1zm-6 5zm-1 1zm-7 2zm-4 1zm12 0zm4 0zm2 0zm-4 2zm3 0zm-39-23zm4 0zm15 1zm-21 4zm7 0zm14 0zm-22 1zm7 0zm3 0zm10 1zm-17 1zm-2 1zm1 0zm-2 1zm11 0zm9 1zm1 0zm-20 1zm3 0zm18 0zm-22 1zm21 0zm-21 1zm11 0zm2 0zm-1 1zm6 0zm-14 1zm3 0zm15 0zm-23 1zm3 0zm2 0zm5 0zm3 0zm8 0zm-18 1zm18 0zm-20 1zm1 0zm3 0zm-5 1zm2 0zm8 0zm10 0zm-20 1zm21 0zm-17 2zm4 0zm8 0zm5 0zm-43-23zm2 0zm7 0zm1 0zm2 0zm6 0zm-20 1zm5 0zm3 0zm3 0zm4 0zm7 0zm-22 2zm6 0zm3 0zm4 0zm6 0zm-11 1zm6 0zm-13 1zm1 0zm8 0zm9 0zm1 0zm-20 1zm2 0zm9 0zm5 0zm-8 1zm2 0zm5 0zm6 0zm-21 1zm2 0zm9 0zm6 0zm-12 1zm1 0zm15 0zm-16 1zm3 0zm1 0zm2 0zm3 0zm4 0zm3 0zm-19 1zm3 0zm2 0zm2 0zm10 0zm4 0zm-21 1zm1 0zm11 0zm3 0zm1 0zm-8 1zm3 0zm5 0zm4 0zm-20 1zm1 0zm7 0zm1 0zm1 0zm2 0zm2 0zm3 0zm-11 1zm5 0zm5 0zm5 0zm-21 1zm4 0zm7 0zm2 0zm8 0zm-20 1zm5 0zm3 0zm11 0zm-13 1zm6 0zm2 0zm1 0zm1 0zm1 0zm-19 1zm4 0zm2 0zm12 0zm-14 1zm3 0zm3 0zm-5 1zm4 0zm1 0zm2 0zm5 0zm-18 1zm9 0zm3 0zm1 0zm5 0zm1 0zm1 0zm-15 1zm4 0zm3 0zm2 0zm1 0zm7 0zm-39-23zm7 0zm1 0zm-3 1zm1 0zm1 0zm1 0zm2 0zm6 0zm-13 1zm1 0zm4 0zm1 0zm4 0zm-18 1zm18 0zm-16 1zm19 0zm-12 1zm5 0zm4 0zm3 0zm-23 1zm20 0zm-18 1zm5 0zm3 0zm10 0zm3 0zm-10 1zm6 1zm-12 1zm8 0zm1 0zm6 0zm-6 1zm-12 1zm11 0zm-5 1zm2 0zm9 0zm-15 1zm3 1zm14 0zm-11 1zm-11 1zm12 0zm3 0zm1 1zm4 0zm-2 1zm-5 2zm3 0zm4 0zm-12 1zm1 0zm-6 1zm18 0zm-23-18zm-21 3zm10 35zm25-19zm10 0zm-11 1zm10 0zm1 0zm-3 1zm-5 1zm1 0zm2 0zm-2 4zm3 0zm3 1zm-15 1zm16 0zm-6 1zm6 0zm-18 1zm8 0zm8 0zm-4 1zm4 0zm-4 2zm2 3zm-6 1zm4 2zm2 0zm-4 2zm-3 1zm7 0zm7-23zm4 0zm14 0zm1 0zm2 0zm-8 1zm4 0zm1 0zm-19 1zm2 0zm4 0zm5 0zm-2 1zm-6 1zm9 0zm1 0zm1 0zm1 0zm-4 1zm-1 1zm4 0zm1 0zm3 0zm-3 1zm1 0zm3 0zm2 0zm1 0zm-15 1zm2 0zm1 0zm1 0zm6 0zm1 0zm-7 1zm9 0zm2 0zm-20 1zm4 0zm13 0zm3 0zm-8 1zm2 0zm5 0zm-17 1zm2 0zm9 0zm3 0zm1 0zm-7 1zm2 1zm5 0zm1 0zm-18 1zm17 0zm-8 1zm-10 1zm6 0zm3 0zm5 0zm6 0zm-18 1zm14 0zm4 0zm-22 1zm18 0zm4 0zm-17 1zm15 0zm-1 1zm2 0zm2 0zm-13 1zm2 0zm4 0zm6 0zm-13 1zm8 0zm1 0zm3 0zm14-22zm5 0zm1 0zm-13 1zm8 0zm11 0zm-22 1zm17 1zm-14 1zm10 0zm7 0zm-19 1zm1 0zm6 0zm2 0zm11 0zm-21 1zm3 0zm1 0zm2 0zm2 0zm-2 1zm3 1zm1 0zm6 0zm-15 1zm10 0zm1 0zm8 0zm-19 1zm3 0zm3 0zm2 0zm7 0zm1 0zm-18 1zm2 0zm1 0zm6 0zm10 0zm3 0zm-20 1zm9 0zm7 0zm2 0zm1 0zm1 0zm-16 1zm4 0zm2 0zm-10 1zm2 0zm7 0zm-8 1zm1 0zm5 0zm11 0zm-18 1zm21 0zm-22 1zm3 0zm4 0zm5 0zm3 0zm3 0zm-16 1zm10 0zm5 0zm-18 1zm9 0zm4 0zm5 0zm-12 1zm3 0zm12 0zm-21 1zm5 0zm2 0zm9 0zm-16 1zm4 0zm4 0zm7 0zm3 0zm5 0zm2-23zm22 1zm-10 1zm-11 1zm1 0zm4 0zm8 0zm-9 2zm13 0zm-4 1zm4 0zm3 0zm-22 1zm7 0zm8 0zm7 0zm-15 1zm13 0zm-14 2zm9 0zm-11 2zm1 0zm-3 1zm12 0zm4 0zm5 3zm-21 1zm0 1zm3 0zm1 0zm0 1zm4 0zm9 0zm2 0zm-9 1zm11 0zm-21 3zm40-22zm-15 1zm13 2zm5 0zm1 0zm-3 1zm-5 1zm2 0zm1 0zm3 0zm-20 1zm3 0zm4 0zm-6 2zm6 0zm-7 1zm8 0zm2 0zm7 0zm6 1zm-15 1zm13 0zm-17 1zm7 0zm-9 1zm11 0zm-9 1zm9 0zm-3 1zm6 0zm-12 1zm12 0zm4 0zm0 1zm-14 1zm4 0zm-2 1zm8 1zm7 0zm-21 1zm7 0zm1 0zm1 0zm11 0zm-10 1zm10 0zm4-23zm20 0zm-18 1zm3 0zm6 0zm-13 2zm1 0zm18 0zm-16 1zm1 1zm16 0zm-19 2zm5 0zm4 0zm3 1zm2 0zm1 1zm7 1zm-20 1zm-1 1zm6 2zm1 0zm-6 1zm11 1zm-4 3zm9 4zm16-23zm10 2zm-9 11zm6 1zm-17 3zm-1 1zm2 0zm7 2zm35-17zm3 0zm-18 4zm11 15zm11-19zm21-2zm106 11zm122-3zm8 5zm0 7zm26-12zm-4 9zm10-7zm5 6zm-266 11zm-8 9zm-16 1zm7 2zm-15 3zm-37-16zm5 1zm-1 2zm-14 2zm4 0zm-4 2zm23 1zm-8 3zm-7 3zm-3 4zm17 0zm-39-21zm5 0zm7 0zm-12 1zm5 0zm-12 1zm10 3zm-4 3zm2 0zm-3 1zm2 0zm-4 1zm4 0zm9 0zm-15 3zm17 0zm-18 2zm8 0zm-3 1zm6 0zm7 3zm-15 2zm11 0zm-7 1zm13 0zm-6 1zm-17-23zm-21 2zm12 0zm3 0zm2 0zm1 0zm3 0zm-15 1zm-5 1zm2 1zm10 1zm-5 2zm-5 1zm18 0zm2 0zm-14 2zm-6 1zm2 0zm12 0zm-9 1zm0 1zm10 1zm-8 1zm2 0zm8 0zm-10 1zm-7 1zm5 0zm4 2zm8 0zm2 0zm-6 1zm4 0zm-17 1zm-3 1zm3 0zm5 0zm-21-23zm-9 1zm1 1zm10 0zm1 0zm-14 1zm7 0zm-6 1zm4 0zm0 1zm1 0zm15 0zm-16 2zm4 0zm1 0zm5 0zm-10 1zm4 0zm4 0zm3 0zm-13 2zm3 0zm13 0zm-19 1zm2 0zm15 0zm5 0zm-13 1zm1 0zm7 0zm-8 1zm-9 1zm6 0zm6 0zm-12 1zm6 0zm5 0zm-6 1zm-5 1zm7 0zm1 1zm15 0zm-18 1zm8 0zm10 0zm-21 1zm1 0zm15 0zm-13 1zm3 0zm-6 1zm8 0zm-5 1zm12 0zm-41-23zm12 0zm-5 1zm2 0zm2 0zm5 0zm2 0zm-14 1zm4 0zm4 0zm1 0zm1 0zm1 0zm6 0zm1 0zm1 0zm-19 1zm6 0zm2 0zm1 0zm1 0zm2 0zm-16 1zm3 0zm2 0zm3 0zm1 0zm3 0zm2 0zm2 0zm1 0zm-9 1zm2 0zm9 0zm2 0zm-16 1zm6 0zm2 0zm3 0zm-12 1zm5 0zm5 0zm1 0zm6 0zm-15 1zm9 0zm3 0zm-18 1zm2 0zm14 0zm2 0zm5 0zm-14 1zm2 0zm1 0zm-11 1zm1 0zm2 0zm12 0zm-3 1zm-13 1zm5 0zm5 0zm2 0zm1 0zm4 0zm-14 1zm1 0zm2 0zm6 0zm2 0zm-5 1zm4 0zm4 0zm-10 1zm2 0zm12 0zm-19 1zm2 0zm12 0zm2 0zm-13 1zm10 0zm2 0zm3 0zm-18 1zm11 0zm1 0zm3 0zm5 0zm-17 1zm8 0zm2 0zm1 0zm6 0zm-22 1zm8 0zm1 0zm14 0zm-21 1zm10 0zm5 0zm2 0zm-13 1zm6 0zm3 0zm4 0zm-36-23zm7 0zm-14 1zm6 0zm3 0zm12 0zm1 0zm-21 1zm4 0zm8 0zm2 0zm1 0zm4 0zm2 0zm-2 1zm2 1zm-15 2zm1 0zm6 0zm3 0zm-6 1zm9 0zm2 0zm-3 1zm1 0zm-18 1zm15 0zm2 0zm-14 2zm6 0zm5 0zm6 0zm1 0zm-7 3zm-9 1zm12 0zm4 0zm-12 3zm3 0zm3 0zm-8 1zm2 0zm12 0zm-8 1zm1 1zm-13 2zm10 0zm8 0zm-23-23zm-6 4zm-1 2zm6 1zm2 4zm-3 22zm21-9zm0 4zm-4 1zm10 0zm-19 1zm14 1zm5 0zm-13 1zm-7 1zm14 0zm6 1zm-10 2zm2 2zm-3 1zm8 1zm-2 2zm2 1zm5-19zm7 0zm10 0zm-6 1zm2 0zm7 0zm-19 1zm7 0zm9 0zm-18 1zm16 0zm2 0zm-2 1zm1 0zm3 0zm-10 1zm4 0zm8 0zm-18 1zm2 0zm7 0zm3 0zm3 0zm2 0zm2 0zm-9 1zm8 0zm-16 1zm6 1zm3 0zm8 0zm-8 1zm5 0zm2 0zm-10 1zm2 0zm2 0zm2 0zm2 0zm2 0zm-7 1zm2 0zm2 0zm-16 1zm6 0zm5 0zm3 0zm-10 1zm11 0zm3 0zm-7 1zm-1 1zm2 0zm2 0zm-2 1zm2 0zm6 0zm-4 1zm1 0zm-10 1zm2 0zm2 0zm2 0zm6 0zm-20 1zm6 0zm11 1zm4 0zm-21 1zm2 0zm7 0zm1 0zm5 0zm2 0zm4 0zm-21 1zm20 0zm12-23zm-7 1zm2 0zm13 1zm5 0zm-20 1zm10 0zm4 0zm6 0zm-22 1zm2 0zm9 0zm5 0zm1 0zm-15 1zm2 0zm6 0zm5 0zm-8 1zm-1 1zm1 0zm5 0zm-13 1zm3 0zm7 0zm5 0zm-15 1zm3 0zm5 0zm9 0zm5 0zm-22 1zm2 0zm2 0zm4 0zm8 0zm1 0zm-16 1zm11 0zm4 0zm-14 1zm2 0zm17 0zm-11 1zm5 0zm-13 1zm3 0zm1 0zm6 0zm3 0zm2 0zm-10 1zm3 0zm-10 1zm14 0zm3 0zm4 0zm-15 1zm1 0zm4 0zm2 0zm2 0zm-14 1zm8 0zm9 0zm-14 1zm3 0zm1 0zm8 0zm4 0zm-19 1zm1 0zm9 0zm12 0zm-18 1zm2 0zm2 0zm1 0zm1 0zm7 0zm-15 1zm5 0zm5 0zm4 0zm-16 1zm9 0zm8 0zm7-23zm11 0zm-11 1zm19 0zm-17 1zm-1 1zm7 0zm-9 1zm11 0zm6 0zm-12 1zm-5 1zm7 0zm10 0zm-17 1zm6 0zm2 0zm-1 1zm5 0zm9 0zm-13 2zm-5 1zm1 0zm2 0zm-5 1zm12 0zm8 0zm1 0zm-17 1zm4 0zm4 0zm-4 2zm2 1zm-8 1zm3 0zm5 0zm6 0zm1 0zm3 0zm-18 1zm13 0zm-11 1zm-3 1zm15 0zm5 0zm-22 1zm1 0zm15 0zm-16 1zm11 0zm11 0zm-20 1zm2 0zm10 0zm32-22zm-7 1zm4 0zm1 0zm-11 1zm2 0zm-8 1zm9 2zm2 0zm2 0zm-16 1zm14 0zm-13 1zm20 0zm-14 2zm-7 2zm4 0zm0 1zm9 0zm1 0zm-13 1zm17 0zm-14 1zm2 0zm10 0zm4 0zm-15 2zm0 1zm13 0zm-17 1zm10 0zm-5 1zm3 0zm3 0zm4 0zm-13 1zm0 2zm5 0zm25-22zm7 3zm-7 1zm1 0zm-9 1zm17 0zm-15 2zm17 3zm0 1zm2 3zm-21 1zm9 0zm5 0zm-15 1zm23 2zm-22 2zm8 2zm7 0zm16-13zm37-3zm-21 11zm27-6zm40-2zm27 31zm-40-17zm5 16zm-28-1zm-23-8zm-31-1zm13 3zm-6 3zm4 7zm-6 1zm-27-20zm0 3zm0 1zm12 2zm-12 1zm1 0zm-2 1zm8 1zm-5 1zm13 0zm-14 1zm1 0zm13 0zm1 0zm-7 1zm8 0zm-1 3zm-13 1zm5 0zm7 0zm-5 1zm-13 1zm6 1zm-5 1zm17 1zm-13 2zm4 0zm-18-23zm5 0zm-10 1zm7 0zm-16 1zm10 0zm-11 1zm13 0zm-3 1zm3 0zm1 0zm-7 1zm10 0zm2 0zm-16 1zm9 0zm8 0zm-10 1zm-5 1zm6 0zm2 0zm9 1zm-20 2zm13 0zm3 0zm-15 2zm17 0zm2 1zm-18 1zm-2 1zm6 0zm7 0zm5 1zm3 0zm-12 1zm-10 1zm1 0zm9 0zm-11 1zm5 0zm11 0zm5 0zm-13 1zm1 0zm5 0zm7 1zm-40-22zm15 0zm-13 1zm-5 2zm2 0zm2 0zm2 0zm6 0zm7 0zm-21 1zm1 0zm14 0zm-11 1zm1 0zm6 0zm10 0zm-17 1zm9 0zm3 0zm6 0zm-5 1zm-13 1zm1 0zm1 0zm7 0zm1 0zm-14 1zm4 0zm6 0zm10 0zm-19 1zm6 0zm6 0zm3 0zm-15 1zm3 0zm4 0zm4 0zm2 0zm1 0zm5 0zm-19 1zm2 0zm1 0zm2 0zm4 0zm9 0zm3 0zm-17 1zm1 0zm2 0zm-5 1zm5 0zm2 0zm12 0zm-21 1zm7 0zm1 0zm11 0zm-18 1zm2 0zm9 0zm1 0zm8 0zm-19 1zm7 0zm6 0zm-15 1zm2 0zm5 0zm3 0zm10 0zm-19 1zm2 0zm1 0zm1 0zm3 0zm7 0zm4 0zm-14 1zm1 0zm7 0zm4 0zm-17 1zm2 0zm2 0zm4 0zm-9 1zm7 0zm6 0zm2 0zm5 0zm3 0zm-21 1zm5 0zm5 0zm7 0zm1 0zm-38-23zm2 0zm9 0zm2 0zm-19 1zm13 0zm1 0zm1 0zm4 0zm-19 1zm1 0zm3 0zm4 0zm8 0zm4 0zm2 0zm-21 1zm4 0zm10 0zm-14 1zm1 0zm4 0zm2 0zm8 0zm2 0zm3 0zm1 0zm-21 1zm4 0zm9 0zm6 0zm3 0zm-23 1zm1 0zm20 0zm-20 1zm5 0zm16 0zm1 0zm-23 1zm2 0zm3 0zm4 0zm1 0zm1 0zm5 0zm4 0zm2 0zm-18 1zm3 0zm2 1zm1 0zm3 0zm6 0zm-16 1zm3 0zm4 0zm5 0zm4 0zm3 0zm-20 1zm3 0zm2 0zm4 0zm1 0zm1 0zm2 0zm2 0zm1 0zm4 0zm-15 1zm1 0zm4 0zm6 0zm2 0zm-19 1zm11 0zm1 0zm6 0zm2 0zm-18 1zm2 0zm3 0zm5 0zm2 0zm1 0zm1 0zm1 0zm2 0zm1 0zm1 0zm-22 1zm4 0zm6 0zm1 0zm1 0zm1 0zm6 0zm1 0zm1 0zm-14 1zm1 0zm3 0zm2 0zm9 0zm-19 1zm5 0zm4 0zm3 0zm2 0zm-10 1zm12 0zm2 0zm-15 1zm7 0zm2 0zm3 0zm2 0zm1 0zm2 0zm-15 1zm2 0zm3 0zm2 0zm5 0zm1 0zm-15 1zm13 0zm3 0zm1 0zm-14 1zm-15-23zm1 0zm4 0zm-18 1zm4 0zm14 0zm-22 1zm12 0zm2 0zm7 0zm0 1zm-17 1zm6 0zm11 0zm-7 1zm3 1zm3 0zm-15 1zm6 0zm9 0zm-5 1zm1 0zm1 0zm-6 1zm3 0zm6 0zm-3 1zm5 0zm-19 1zm9 0zm3 1zm3 0zm-13 1zm5 2zm4 1zm8 0zm-6 1zm2 0zm-17 2zm3 0zm7 0zm8 0zm3 2zm-18 2zm16 0zm-23-19zm-9 3zm10 10zm-15 3zm15 4zm-19 5zm14 6zm24-8zm1 1zm-13 2zm17 0zm-5 2zm-10 1zm9 2zm-8 3zm11 4zm-8 2zm20-20zm3 0zm11 0zm-20 1zm13 0zm3 0zm2 0zm-16 1zm5 0zm4 0zm2 0zm-11 1zm4 0zm2 0zm1 0zm3 0zm9 0zm-23 1zm2 0zm9 0zm2 0zm5 0zm2 0zm2 0zm1 0zm-19 1zm6 0zm2 0zm1 0zm5 0zm1 0zm-5 1zm3 0zm1 0zm1 0zm1 0zm1 0zm1 0zm1 0zm-18 1zm7 0zm7 0zm2 0zm-10 1zm6 0zm-2 1zm5 0zm3 0zm-21 1zm1 0zm5 0zm2 0zm7 0zm4 0zm-20 1zm14 0zm6 0zm2 0zm-12 1zm-6 1zm10 0zm3 0zm-13 2zm8 0zm2 0zm1 0zm2 0zm1 0zm-7 1zm5 0zm2 0zm-12 1zm6 0zm5 0zm5 0zm-16 1zm10 0zm-9 1zm10 0zm2 0zm-12 1zm3 0zm1 0zm4 0zm5 0zm2 0zm-23 1zm7 0zm4 0zm7 0zm-11 1zm1 0zm8 0zm6 0zm-20 1zm3 0zm6 0zm2 0zm14-23zm3 0zm17 0zm-20 1zm4 0zm3 0zm1 0zm1 0zm3 0zm1 0zm-13 1zm3 0zm4 0zm11 0zm1 0zm1 0zm-17 1zm3 0zm1 0zm1 0zm5 0zm4 0zm-15 1zm7 0zm3 0zm8 0zm-19 1zm4 0zm6 0zm5 0zm-19 1zm1 0zm1 0zm1 0zm6 0zm5 0zm-14 1zm1 0zm3 0zm3 0zm9 0zm1 0zm-16 1zm1 0zm1 0zm5 0zm11 0zm-19 1zm1 0zm3 0zm4 0zm2 0zm4 0zm2 0zm3 0zm4 0zm-22 1zm9 0zm-7 1zm1 0zm6 0zm2 0zm5 0zm-3 1zm1 0zm7 0zm-20 1zm2 0zm5 0zm1 0zm5 0zm2 0zm1 0zm5 0zm-9 1zm6 0zm2 0zm-22 1zm1 0zm1 0zm1 0zm6 0zm3 0zm6 0zm-18 1zm2 0zm4 0zm7 0zm1 0zm3 0zm3 0zm-11 1zm1 0zm5 0zm2 0zm1 0zm1 0zm-18 1zm10 0zm2 0zm-12 1zm17 0zm-7 1zm2 0zm-12 1zm5 0zm1 0zm7 0zm1 0zm-9 1zm7 0zm2 0zm-15 1zm1 0zm5 0zm14 0zm15-22zm3 1zm-14 1zm2 0zm3 0zm1 0zm-5 1zm1 0zm1 0zm3 0zm11 0zm-12 1zm1 0zm12 0zm3 0zm-21 1zm0 1zm3 0zm6 1zm4 1zm1 0zm-14 1zm17 0zm-2 1zm-13 1zm1 0zm1 0zm-4 1zm10 0zm-7 1zm4 0zm-6 1zm2 0zm5 0zm10 0zm-17 2zm18 1zm2 0zm-4 3zm6 0zm-8 1zm-11 1zm5 0zm1 0zm1 0zm20-23zm8 2zm-4 1zm9 0zm-19 1zm7 0zm11 0zm-5 2zm-14 1zm4 1zm3 2zm9 0zm-10 1zm-5 1zm0 1zm2 0zm6 1zm-1 1zm13 0zm-17 1zm2 0zm11 0zm1 0zm5 0zm-21 1zm2 0zm4 0zm11 1zm-12 1zm16 0zm-15 1zm12 0zm2 0zm-7 2zm-13 1zm9 0zm3 0zm24-23zm8 1zm-20 1zm11 2zm-9 3zm-1 2zm8 3zm-11 4zm43-14zm-18 5zm0 9zm17 3zm14 2zm28-10zm30-5zm80 10zm-41 17zm-29-6zm17 11zm-39-5zm-15-3zm-5 9zm-25-4zm9 6zm-13 5zm-13-22zm-9 14zm-6 2zm1 6zm-19-19zm-6 11zm-18-14zm-2 4zm4 0zm-4 2zm6 4zm-8 2zm9 0zm-9 1zm16 1zm-13 4zm-1 3zm11 0zm-16 1zm2 1zm3 0zm-28-23zm3 0zm8 0zm4 0zm-8 1zm-2 1zm-4 2zm8 0zm8 0zm-13 1zm8 0zm-6 1zm15 0zm-15 1zm13 0zm3 0zm-22 1zm5 0zm7 0zm8 0zm-12 2zm-9 3zm2 4zm10 0zm-7 2zm-1 1zm1 1zm5 1zm1 0zm-6 1zm9 0zm4 0zm-38-23zm19 0zm-16 1zm-6 1zm2 0zm7 1zm2 0zm2 0zm7 0zm-20 1zm1 0zm4 0zm5 0zm11 0zm-20 1zm3 0zm7 0zm-9 1zm7 0zm0 1zm3 0zm2 0zm3 0zm5 0zm-11 1zm-11 3zm11 0zm-9 1zm17 0zm-18 3zm5 0zm-5 1zm19 0zm1 0zm1 1zm-4 1zm-6 1zm4 0zm-11 1zm13 0zm-6 1zm10 0zm-22 1zm22 0zm-26-22zm-14 1zm3 0zm10 0zm1 0zm-5 1zm2 0zm3 0zm1 0zm1 1zm-23 1zm13 0zm2 0zm-5 1zm1 0zm0 1zm5 0zm2 0zm0 1zm-9 1zm10 1zm-12 1zm-1 1zm9 0zm-10 3zm1 0zm10 0zm-19-14zm-5 1zm-12 1zm19 2zm-2 1zm-13 2zm15 27zm19-9zm-2 1zm5 18zm6-20zm16 0zm-6 1zm-11 3zm21 1zm-14 1zm14 0zm-17 1zm5 0zm12 0zm-11 1zm10 2zm-5 1zm-17 1zm6 1zm9 1zm-8 1zm3 7zm16-22zm4 0zm2 0zm-6 1zm8 0zm10 1zm-7 4zm2 0zm-8 1zm10 1zm-10 1zm9 0zm6 0zm-14 2zm-8 1zm1 0zm8 0zm14 0zm-7 2zm-6 2zm7 0zm-14 1zm12 0zm-6 1zm9 0zm-13 1zm10 0zm5 0zm-10 1zm11 0zm-21 1zm44-21zm-7 1zm-10 2zm2 4zm6 0zm2 5zm1 4zm-8 1zm3 1zm12 2zm3-8zm5 5zm27 1zm32-14zm7 0zm-22 2zm7 14zm38-13zm-20 6zm79 1zm-28 24zm7 0zm-16-7zm-12 1zm-7 11zm3 1zm-14-20zm3 2zm-2 3zm-34-3zm1 12zm5 1zm-27-13zm-8 2zm11 0zm-20 0zm-14 1zm3 2zm3 1zm-1 6zm-2 9zm-28-23zm2 0zm-1 1zm2 0zm1 0zm7 0zm-10 2zm3 0zm16 1zm-10 1zm2 1zm8 0zm2 0zm-12 4zm6 0zm-15 2zm4 2zm-2 4zm4 0zm-7 2zm0 3zm7 0zm-16-21zm-9 2zm0 1zm1 1zm2 1zm1 1zm4 0zm3 0zm5 0zm-22 1zm22 0zm-19 1zm4 0zm5 0zm4 0zm-1 1zm4 0zm-1 1zm-10 1zm2 0zm9 0zm2 0zm-3 1zm-15 2zm7 0zm9 2zm-5 1zm2 1zm-13 1zm0 1zm7 0zm6 1zm7 0zm-35-15zm2 0zm1 1zm-9 3zm14 1zm1 3zm-16 1zm10 2zm-5 10zm26-5zm6 0zm3 0zm-19 1zm18 0zm-7 1zm4 0zm6 0zm-10 3zm-9 2zm3 2zm8 0zm-3 1zm2 0zm7 1zm-12 2zm11 0zm-18 1zm3 2zm10 0zm6 0zm-3 1zm-9 2zm8 0zm-2 1zm-8 1zm6 0zm7 2zm5-23zm4 2zm15 0zm-17 1zm1 0zm13 0zm0 1zm-16 2zm1 0zm0 1zm10 0zm2 0zm6 0zm-20 1zm14 0zm4 0zm-11 3zm4 0zm5 0zm-15 2zm1 1zm5 0zm-2 1zm5 0zm3 2zm8 0zm-7 1zm1 0zm1 1zm2 0zm-16 1zm3 0zm18 1zm-14 1zm7 0zm7 0zm-5 1zm7-22zm16 5zm-15 2zm2 3zm-4 5zm6 1zm-4 3zm-1 1zm4 2zm37-16zm0 1zm-7 4zm1 3zm2 0zm25 5zm20-19zm-5 10zm58 11zm10-16zm-1 11zm-103 20zm-4 9zm-22-21zm-2 1zm1 0zm-7 5zm-7 1zm1 11zm-12-19zm7 0zm1 0zm-13 2zm7 0zm-4 1zm2 0zm-8 1zm17 0zm-23 1zm22 1zm-10 1zm-3 1zm3 1zm9 1zm-12 1zm5 2zm-14 1zm6 1zm3 3zm-18-18zm7 0zm-6 2zm7 3zm-5 2zm3 0zm-7 1zm2 0zm4 3zm1 0zm1 1zm-12 5zm12 2zm35 5zm64 1zm-78 48z"/>
<path stroke="#d92a1c" d="M156 34zm-4 1zm-3 1zm12 0zm-11 1zm1 0zm-6 1zm-1 1zm0 1zm12 1zm-11 1zm1 1zm1 0zm5 0zm8 0zm-8 2zm2 0zm-10 1zm5 0zm-5 1zm4 0zm8 0zm-26-13zm2 0zm-1 1zm4 0zm4 0zm1 0zm-10 1zm8 0zm1 1zm-14 1zm1 0zm8 0zm2 0zm5 0zm-11 1zm3 0zm2 0zm-5 1zm6 0zm6 0zm1 0zm-9 1zm2 0zm3 0zm-15 1zm4 0zm2 0zm3 0zm6 0zm-19 1zm1 0zm6 0zm3 0zm5 0zm2 0zm4 0zm1 0zm1 0zm-13 1zm3 0zm2 0zm1 0zm2 0zm-12 1zm4 0zm5 0zm5 1zm1 0zm2 0zm-18 1zm4 0zm1 0zm4 0zm7 0zm-30-13zm6 0zm-3 1zm5 4zm-2 1zm-3 2zm-13 2zm16 0zm-21 3zm3 0zm-11-4zm2 0zm2 0zm2 0zm-6 1zm-7 1zm2 0zm6 0zm-5 1zm9 0zm-17 1zm1 0zm2 0zm-9 4zm-2 1zm-2 2zm2 0zm2 0zm1 0zm-2 1zm1 0zm-9 1zm1 0zm4 0zm3 0zm1 0zm-10 2zm1 0zm2 0zm7 1zm-11 2zm3 0zm6 0zm3 0zm-4 1zm-11 1zm3 0zm11 1zm-16 1zm1 0zm12 0zm1 0zm-3 1zm3 0zm-3 1zm1 0zm3 0zm-9 1zm7 0zm3 0zm1 0zm-9 1zm2 0zm3 0zm4 0zm-6 1zm4 0zm-3 1zm1 0zm2 0zm1 0zm1 0zm6-23zm13 0zm2 0zm-14 1zm10 0zm-13 1zm4 0zm7 0zm3 0zm4 0zm-18 1zm6 0zm2 0zm4 0zm4 0zm3 0zm-17 1zm2 0zm7 0zm4 0zm-10 1zm11 0zm-17 1zm3 0zm3 0zm2 0zm1 0zm1 0zm1 0zm4 0zm-15 1zm1 0zm8 0zm1 0zm1 0zm4 0zm2 0zm-16 1zm9 0zm-9 1zm7 0zm2 0zm3 0zm1 0zm1 0zm-15 1zm1 0zm5 0zm3 0zm-9 1zm15 0zm-17 1zm1 0zm2 0zm3 0zm1 0zm3 0zm2 0zm2 0zm1 0zm1 0zm-16 1zm1 0zm1 0zm12 0zm-12 1zm2 0zm6 0zm4 0zm2 0zm1 0zm2 0zm-14 1zm3 0zm3 0zm1 0zm4 0zm2 0zm-15 1zm1 0zm1 0zm5 0zm3 0zm3 0zm1 0zm2 0zm3 0zm-19 1zm1 0zm3 0zm4 0zm6 0zm1 0zm5 0zm-19 1zm5 0zm1 0zm2 0zm1 0zm1 0zm9 0zm-11 1zm1 0zm1 0zm3 0zm5 0zm-21 1zm2 0zm1 0zm8 0zm2 0zm5 0zm2 0zm-20 1zm3 0zm3 0zm2 0zm1 0zm5 0zm1 0zm1 0zm2 0zm-19 1zm3 0zm1 0zm1 0zm1 0zm5 0zm3 0zm1 0zm8 0zm-22 1zm3 0zm3 0zm1 0zm2 0zm2 0zm3 0zm1 0zm3 0zm2 0zm13-23zm-1 1zm8 1zm-5 2zm5 0zm2 0zm4 0zm-12 2zm3 0zm6 0zm-20 1zm9 0zm1 0zm11 0zm-20 1zm16 0zm-17 2zm16 0zm-12 2zm-2 1zm10 2zm3 0zm-12 1zm2 0zm-2 1zm3 0zm-5 1zm3 0zm-3 1zm5 0zm-6 1zm3 0zm5 0zm2 1zm-1 1zm2 0zm-6 1zm19-23zm17 0zm1 0zm3 0zm-19 1zm7 0zm1 0zm2 0zm1 0zm1 0zm4 0zm-16 1zm9 0zm5 0zm1 0zm3 0zm-15 1zm1 0zm1 0zm8 0zm7 0zm-22 1zm2 0zm7 0zm5 0zm4 0zm5 0zm-1 1zm-11 1zm-8 1zm15 0zm4 0zm-11 1zm2 1zm1 0zm-1 1zm-7 1zm15 0zm-10 1zm12 0zm-12 1zm-7 2zm13 2zm-3 1zm-8 1zm8 0zm-12 2zm22-20zm3 0zm3 0zm7 0zm-13 1zm1 0zm2 1zm1 0zm1 0zm-4 1zm1 0zm5 1zm-2 3zm2 3zm3 0zm-7 1zm15 1zm-14 4zm2 0zm20-15zm40 21zm-21 22zm-42-19zm-26 0zm11 1zm-7 2zm1 7zm-6 8zm-23-20zm12 0zm-13 1zm1 0zm-1 1zm1 0zm1 0zm2 0zm1 0zm11 0zm-15 1zm7 0zm14 0zm-21 1zm3 0zm-4 1zm2 0zm4 0zm2 0zm0 1zm-8 1zm1 0zm10 0zm-7 1zm5 0zm-5 1zm3 0zm3 0zm2 0zm4 0zm3 0zm4 0zm-11 1zm1 0zm4 0zm-17 1zm7 0zm3 0zm6 0zm4 0zm-16 1zm-3 1zm5 0zm4 0zm2 0zm-11 1zm5 0zm8 0zm2 0zm1 0zm1 0zm3 0zm-21 1zm1 0zm1 0zm2 0zm11 0zm-12 1zm7 0zm-10 1zm2 0zm1 0zm1 0zm1 0zm4 0zm2 0zm-10 1zm7 0zm1 0zm13 0zm-11 1zm-7 1zm5 0zm2 0zm4 0zm-15 1zm1 0zm5 0zm3 0zm1 0zm9 0zm-19 1zm5 0zm2 0zm2 0zm3 0zm1 0zm4 0zm-12 1zm2 0zm3 0zm1 0zm2 0zm5 0zm-41-23zm4 0zm1 0zm1 0zm1 0zm6 0zm1 0zm5 0zm1 0zm2 0zm-22 1zm2 0zm3 0zm4 0zm3 0zm5 0zm1 0zm2 0zm-19 1zm2 0zm1 0zm2 0zm3 0zm2 0zm1 0zm2 0zm2 0zm-13 1zm1 0zm1 0zm4 0zm4 0zm5 0zm2 0zm2 0zm-20 1zm3 0zm3 0zm2 0zm4 0zm5 0zm-17 1zm3 0zm6 0zm2 0zm3 0zm3 0zm-20 1zm4 0zm2 0zm2 0zm3 0zm1 0zm4 0zm5 0zm2 0zm-22 1zm1 0zm2 0zm2 0zm9 0zm1 0zm1 0zm1 0zm1 0zm3 0zm-20 1zm1 0zm7 0zm1 0zm2 0zm2 0zm2 0zm1 0zm-12 1zm2 0zm2 0zm1 0zm2 0zm1 0zm4 0zm2 0zm3 0zm-22 1zm3 0zm1 0zm1 0zm2 0zm2 0zm4 0zm1 0zm1 0zm2 0zm-18 1zm1 0zm4 0zm4 0zm1 0zm1 0zm1 0zm2 0zm9 0zm-22 1zm3 0zm1 0zm3 0zm8 0zm3 0zm3 0zm-21 1zm5 0zm2 0zm1 0zm6 0zm1 0zm1 0zm1 0zm3 0zm2 0zm-15 1zm9 0zm2 0zm-16 1zm3 0zm1 0zm1 0zm3 0zm2 0zm-13 1zm1 0zm3 0zm1 0zm1 0zm1 0zm5 0zm3 0zm1 0zm1 0zm1 0zm3 0zm-17 1zm4 0zm3 0zm2 0zm1 0zm2 0zm1 0zm4 0zm2 0zm-19 1zm5 0zm2 0zm7 0zm2 0zm3 0zm-17 1zm5 0zm5 0zm1 0zm2 0zm3 0zm1 0zm-18 1zm3 0zm1 0zm4 0zm1 0zm1 0zm2 0zm1 0zm3 0zm2 0zm-17 1zm1 0zm4 0zm1 0zm1 0zm3 0zm1 0zm5 0zm-20 1zm9 0zm1 0zm2 0zm1 0zm4 0zm1 0zm-15 1zm2 0zm3 0zm1 0zm2 0zm4 0zm3 0zm2 0zm1 0zm-28-23zm-6 1zm8 0zm-7 1zm4 0zm1 0zm3 0zm-19 1zm16 0zm3 0zm1 0zm-10 1zm10 0zm-7 1zm1 0zm-11 1zm11 2zm2 0zm-12 2zm3 0zm12 0zm1 0zm-4 2zm4 2zm-16 1zm10 0zm0 1zm-4 2zm9 0zm1 0zm0 2zm-1 3zm-13 1zm10 4zm-4 2zm7 0zm-12 4zm10 1zm-2 2zm5 1zm-18 8zm12 1zm15-23zm5 0zm1 0zm2 0zm1 0zm-16 1zm1 0zm12 0zm9 0zm-21 1zm3 0zm5 0zm3 0zm1 0zm2 0zm6 0zm1 0zm-19 1zm5 0zm3 0zm2 0zm4 0zm5 0zm-17 1zm10 0zm7 0zm-23 1zm5 0zm4 0zm2 0zm1 0zm6 0zm3 0zm2 0zm-19 1zm4 0zm3 0zm4 0zm-10 1zm3 0zm2 0zm2 0zm3 0zm1 0zm1 0zm3 0zm-17 1zm3 0zm8 0zm1 0zm4 0zm4 0zm-11 1zm5 0zm6 0zm-22 1zm6 0zm3 0zm3 0zm5 0zm1 0zm4 0zm-21 1zm10 0zm3 0zm3 0zm-12 1zm16 0zm1 0zm-19 1zm4 0zm3 0zm12 0zm-21 1zm12 0zm7 0zm-7 1zm6 0zm-18 1zm15 0zm4 0zm1 0zm-10 1zm9 0zm1 0zm1 0zm-12 2zm6 0zm3 0zm-4 1zm-1 1zm2 0zm-13 1zm11 0zm8 1zm2-23zm1 0zm14 0zm-16 1zm9 0zm4 0zm1 0zm-9 1zm3 0zm-8 1zm2 0zm7 0zm3 0zm-12 1zm4 0zm1 0zm1 0zm-3 1zm1 0zm1 0zm4 0zm5 0zm9 0zm-21 1zm3 0zm6 0zm1 0zm3 0zm1 0zm-10 1zm2 0zm4 0zm2 0zm7 0zm-13 1zm2 0zm0 1zm-7 1zm10 0zm3 0zm2 0zm-15 1zm9 0zm-12 1zm1 0zm8 0zm11 0zm2 0zm-21 1zm18 0zm-17 1zm2 0zm19 0zm-18 1zm1 0zm1 0zm11 0zm1 0zm-19 1zm5 0zm2 0zm-7 1zm3 0zm2 0zm10 1zm6 1zm-21 1zm2 0zm8 0zm-7 1zm3 0zm6 0zm2 0zm-6 1zm2 0zm7 0zm-17 1zm7 0zm1 0zm1 0zm11 0zm16-23zm-9 3zm11 0zm-14 2zm7 3zm8 0zm-14 2zm-1 3zm2 0zm4 0zm13 0zm-16 1zm9 1zm6 0zm-17 3zm4 0zm1 0zm9 0zm4 1zm-13 3zm30-21zm-12 4zm8 1zm-1 2zm-1 2zm-3 3zm22-8zm0 2zm7 5zm-5 10zm37-13zm-8 3zm-8 5zm11 0zm-10 6zm44-21zm1 10zm20 5zm5 20zm-9 10zm-33-11zm2 3zm-3 4zm-21-14zm-28-4zm18 7zm-8 3zm5 3zm-2 1zm2 1zm5 1zm-8 2zm5 2zm-43-21zm10 3zm1 4zm-8 1zm4 0zm-2 3zm4 2zm-2 6zm-5 1zm-20-20zm1 1zm8 0zm2 0zm-11 1zm2 0zm11 0zm-3 4zm-2 1zm-14 2zm16 0zm-14 1zm19 2zm-17 1zm3 0zm-6 3zm16 0zm4 0zm-19 2zm6 0zm2 1zm11 0zm-3 2zm-14 1zm1 0zm12 0zm-33-22zm10 1zm-9 1zm8 0zm-14 1zm13 1zm4 0zm-21 1zm6 1zm14 0zm-20 1zm5 0zm3 0zm13 0zm1 0zm-22 1zm4 0zm2 1zm3 0zm10 0zm-16 1zm19 0zm-20 1zm10 0zm9 0zm2 0zm-22 3zm10 0zm-10 1zm5 0zm2 0zm0 1zm2 0zm3 0zm2 0zm-15 1zm3 0zm2 0zm2 0zm6 0zm3 0zm3 0zm4 0zm-19 1zm1 0zm14 0zm-15 2zm4 0zm5 0zm-2 1zm7 2zm5 0zm-39-23zm3 0zm3 0zm3 0zm1 0zm-9 1zm8 0zm1 0zm-11 1zm11 0zm-3 1zm2 0zm2 0zm1 0zm-2 2zm3 1zm-3 1zm1 1zm-4 2zm2 0zm6 0zm-15 2zm9 0zm-7 1zm4 0zm5 0zm4 0zm-14 1zm9 1zm2 0zm-1 1zm-4 2zm-2 5zm-23-23zm-11 1zm15 1zm1 3zm-1 2zm3 1zm-3 2zm4 1zm-6 2zm6 26zm-13 1zm1 4zm17-18zm12 3zm-1 2zm4 2zm1 2zm-4 3zm7 0zm-6 2zm-1 2zm-1 5zm15-23zm3 0zm-5 1zm20 0zm-6 1zm-3 1zm7 0zm-21 1zm2 0zm-1 3zm3 0zm6 0zm-8 1zm3 0zm11 0zm1 2zm4 1zm-14 1zm16 0zm-13 1zm1 2zm12 0zm-17 1zm15 0zm-10 2zm12 3zm-13 2zm33-21zm-17 1zm18 0zm-14 1zm4 1zm-7 2zm8 0zm-11 1zm19 1zm-5 1zm1 0zm-15 1zm20 0zm-9 1zm6 1zm5 0zm-3 1zm3 0zm1 5zm-20 4zm5 0zm7 0zm12-22zm17 0zm-6 2zm-14 2zm12 0zm-1 3zm-4 1zm2 0zm-2 1zm4 0zm4 0zm0 1zm0 1zm4 0zm-17 2zm6 4zm4 0zm1 0zm5 0zm-8 1zm-2 1zm-7 1zm8 0zm1 1zm2 0zm1 0zm6 0zm15-22zm-8 2zm16 4zm-5 2zm7 3zm-14 2zm5 0zm1 3zm-6 2zm2 2zm-2 1zm34-21zm0 12zm-16 2zm1 2zm13 0zm-6 5zm22-17zm3 3zm10 2zm-6 1zm7 7zm-9 1zm30-17zm-8 2zm10 19zm111 4zm-20 19zm-33 2zm-40-23zm-34 1zm0 11zm-12-9zm-7 10zm9 2zm6 1zm-15 6zm-26-20zm-2 3zm5 3zm-9 3zm13 5zm0 4zm-3 1zm10 1zm-19 1zm-19-20zm9 1zm-4 6zm-9 1zm11 0zm9 0zm-22 3zm2 0zm14 0zm1 2zm5 1zm-8 2zm2 0zm-9 1zm6 1zm-22-21zm-6 1zm-6 1zm11 0zm2 0zm-16 1zm7 0zm6 1zm8 0zm-17 2zm-1 1zm8 0zm3 0zm-12 1zm8 0zm3 0zm-7 1zm0 3zm3 0zm12 0zm-18 1zm-2 1zm12 0zm1 0zm-7 1zm3 0zm7 0zm-9 3zm-3 1zm9 1zm5 1zm-15 1zm12 1zm7 0zm-41-23zm7 0zm8 0zm-4 1zm4 0zm-17 1zm18 0zm-6 1zm4 0zm-6 3zm-10 1zm13 0zm-8 1zm14 0zm-8 1zm5 2zm-15 1zm8 1zm2 0zm-14 1zm0 2zm13 0zm5 1zm3 0zm-5 1zm5 0zm-22 4zm19 1zm1 0zm-44-23zm13 2zm-11 2zm7 0zm-4 1zm-1 1zm-2 2zm15 0zm2 0zm3 1zm-7 3zm2 0zm-8 3zm14 1zm-6 1zm0 1zm-13 3zm8 2zm-24-22zm10 5zm-8 4zm-19-7zm-11 9zm39 22zm-10 3zm26-13zm3 1zm-1 2zm1 0zm4 2zm1 0zm-10 1zm7 4zm-11 7zm4 3zm1 1zm14-20zm14 0zm4 1zm-12 1zm2 0zm4 0zm-5 1zm-8 1zm-3 3zm6 0zm1 4zm6 0zm-4 2zm7 0zm-12 2zm1 2zm7 1zm8 1zm-3 1zm6 0zm8-21zm15 0zm-19 1zm4 0zm-7 1zm3 0zm2 0zm6 0zm7 0zm-9 1zm-9 1zm8 0zm-5 1zm4 0zm7 2zm5 0zm-2 1zm-12 1zm1 0zm9 0zm5 1zm-15 1zm2 0zm6 0zm-9 1zm7 0zm-9 1zm5 0zm8 0zm5 0zm1 6zm-9 2zm0 1zm9 0zm-18 1zm6 0zm24-22zm-6 1zm10 1zm1 2zm-3 1zm-10 1zm6 0zm14 0zm-17 4zm14 2zm-18 2zm6 0zm1 1zm10 0zm-4 1zm2 0zm-3 1zm2 1zm-5 2zm2 0zm-11 1zm4 0zm33-19zm-6 2zm15 0zm-21 3zm1 1zm33-3zm34 5zm-17 5zm20-9zm24-3zm-39 31zm-25-9zm-26-1zm4 0zm-6 1zm9 0zm-11 3zm10 1zm-5 1zm-1 4zm9 0zm-10 7zm-1 1zm-4 2zm1 2zm6 0zm-24-23zm-5 1zm9 1zm0 1zm6 1zm5 5zm-13 2zm-1 2zm8 0zm-1 1zm-15 5zm2 2zm11 2zm1 0zm-36-23zm9 0zm2 0zm7 0zm1 0zm2 2zm-17 1zm11 0zm2 0zm-6 1zm-11 1zm0 4zm10 0zm-9 1zm4 0zm14 0zm-12 2zm14 0zm-20 1zm12 0zm-15 1zm10 4zm-10 3zm14 0zm-31-21zm16 0zm-13 1zm4 4zm6 6zm3 2zm-3 1zm1 0zm-12 5zm-14-15zm1 0zm3 2zm-18 1zm-4 2zm16 2zm-4 5zm-3 2zm-36-15zm66 24zm6 2zm16-5zm3 4zm-4 2zm-8 3zm4 1zm-7 1zm16 3zm3 0zm-1 1zm-20 3zm1 0zm9 4zm26-21zm6 2zm5 0zm-6 1zm6 0zm-8 1zm4 0zm-12 1zm11 0zm-1 2zm-2 2zm-3 3zm-6 1zm39-13zm19-1zm-5 8zm-8 2zm62-4zm18 9zm-11 1zm42-10zm6-1zm11 6zm56 25zm-73 5zm-37 0zm-10-13zm-2 10zm-33-7zm7 5zm3 1zm-15 9zm-26 1zm-44 0zm-18-23zm-9 2zm18 2zm-30 0zm7 8zm-43-6zm89 40zm15-8zm4 5zm-7 1zm32-5zm26 0zm0 4zm24 2zm18-15zm6 14zm20-1zm-13 2zm20 1zm25 21zm-40-19zm-12 3zm-16 17zm4 1zm-10-7zm-13 2zm-23-4zm13 3zm-8 3zm-8 1zm-15-17zm-14 10zm-8 11zm-25-8zm-61-12zm85 23zm29 5zm-14 7zm8 5zm15-7zm2 2zm26-13zm9 4zm14 0zm13 3zm-7 5zm28-10zm9 6zm10 22zm-13 11zm-29-13zm-8 16zm-23-20zm2 4zm-22 11zm-10 7zm-48-17zm13 10zm-35 1zm11 13zm56 8zm37-13zm-3 3zm-1 17zm52-1zm38 15zm-91 4zm-10 2zm-17-14zm-62 9zm72 17zm-1 9zm15-1zm25-13zm42 8zm-113 22zm132 30z"/>
<path stroke="#f4a262" d="M597 418zm-79 12zm-53 1zm-13-17zm-93 9zm45 30zm99-16zm-3 10zm67 31zm-23-16zm-24 7zm-61 4zm-11-13zm-26-1zm3 25zm51 9zm59-7zm0 2zm12 9zm7-5zm18 1zm-10 1zm-5 7zm64-14zm8-2zm-3 22zm-25 3zm3 17zm-23-23zm15 17zm-108-8zm6 11zm-46-5zm-48 7zm26 18zm13-2zm34-5zm27 2zm-14 5zm18-16zm10 9zm-2 1zm40-4zm2 5zm19 9zm13-17zm51 44zm-60-23zm7 0zm-28 2zm-3 6zm-15 2zm-21-3zm7 5zm-42-9zm-69 5zm-87 7zm94 13zm45-1zm10 5zm-13 7zm29-12zm25-1zm-11 8zm38 0zm-3 12zm24-19zm-3 2zm-8 11zm28-5zm31 10zm-10 2zm24 1zm7 7zm-33-6zm-2 13zm-38-12zm-6 2zm1 4zm17 5zm3 3zm-22 2zm18 0zm-14 4zm16 0zm-43-15zm14 1zm-1 1zm3 13zm-30-4zm1 0zm-32-16zm7 8zm-9 11zm-29-16zm-10 12zm-27-7zm-46 6zm72 28zm14-20zm9 3zm11 5zm-5 8zm4 2zm14-18zm7 3zm-15 12zm33-7zm-9 6zm15 6zm15-20zm-6 1zm21 0zm-11 2zm11 4zm-9 1zm-13 3zm2 2zm4 2zm0 1zm1 4zm-3 2zm5 0zm0 1zm15-21zm14 9zm-9 4zm7 2zm-4 1zm2 2zm-1 2zm3 0zm23-16zm-9 1zm5 5zm-5 5zm-1 1zm21 0zm4-9zm-2 1zm0 3zm31-13zm-2 4zm-12 25zm-15 12zm13 1zm-5 2zm-33-18zm2 0zm-3 2zm5 10zm5 2zm-7 2zm18 4zm1 0zm-20 1zm-9-23zm2 1zm-16 1zm1 2zm2 0zm0 3zm6 10zm-10 1zm2 4zm3 1zm-27-21zm-1 1zm5 1zm-3 2zm3 1zm-4 1zm-3 5zm1 0zm9 0zm9 0zm-2 5zm-11 1zm11 0zm3 1zm-6 3zm-24-23zm-11 2zm4 2zm7 0zm-2 3zm7 4zm-6 1zm2 2zm-13 3zm16 1zm-15 1zm6 1zm9 0zm-3 2zm-4 1zm-17-23zm-9 2zm-9 8zm0 4zm16 2zm-18 1zm13 1zm1 0zm-28-17zm1 0zm-2 7zm2 4zm1 10zm-19 3zm1 21zm17-15zm8 3zm-12 2zm9 3zm-6 1zm8 2zm8-18zm4 2zm0 1zm9 3zm-6 1zm-3 3zm11 2zm-3 1zm3 6zm3 0zm-7 3zm21-18zm-8 2zm13 1zm2 0zm4 0zm1 0zm-11 2zm10 1zm-17 1zm19 0zm0 1zm-17 2zm16 0zm-17 1zm7 0zm6 0zm-2 1zm2 1zm-4 1zm5 0zm-14 1zm12 0zm-13 2zm1 0zm2 0zm7 0zm3 0zm1 0zm3 0zm2 0zm-1 1zm-21 1zm45-22zm-9 2zm9 0zm-3 1zm-4 2zm4 0zm1 0zm-15 1zm2 0zm2 0zm1 0zm0 1zm9 1zm-8 1zm9 0zm-6 1zm-14 1zm8 0zm-7 2zm6 0zm7 0zm3 0zm-13 1zm9 0zm3 0zm-10 1zm1 0zm2 0zm2 0zm6 0zm2 0zm-15 1zm3 0zm-2 1zm6 0zm-11 1zm2 0zm2 0zm1 0zm6 0zm10 0zm1 0zm-19 1zm7 0zm1 0zm11 0zm-22 1zm20 0zm1 0zm1 0zm-1 1zm-21 1zm7 0zm8 0zm2 0zm2 0zm6-21zm10 1zm6 0zm-17 1zm1 0zm19 0zm-10 1zm-1 2zm-5 1zm1 1zm2 1zm1 0zm2 0zm2 0zm-4 1zm11 0zm3 0zm-20 3zm3 1zm1 0zm-6 1zm2 1zm6 0zm6 0zm5 1zm4 0zm-12 1zm6 1zm-12 1zm2 0zm2 0zm9 0zm-10 1zm-8 1zm6 0zm1 0zm1 0zm1 0zm18-18zm20 6zm-22 1zm0 2zm3 0zm13 3zm-10 2zm16 0zm-7 1zm18-20zm-6 4zm-3 7zm-1 4zm-14 9zm-3 3zm-2 3zm9 1zm-14 1zm12 0zm-7 3zm4 0zm-2 4zm-2 2zm-23-17zm-1 1zm11 0zm-11 1zm3 0zm5 0zm-13 1zm3 0zm18 0zm-17 1zm6 0zm1 0zm2 0zm-10 1zm5 0zm3 0zm1 0zm1 0zm3 0zm-15 1zm9 0zm-6 1zm19 0zm-11 1zm1 0zm-10 1zm1 0zm4 1zm15 0zm-22 2zm5 0zm12 0zm-18 1zm5 0zm3 0zm11 0zm-13 1zm-5 1zm2 0zm-1 1zm1 0zm1 0zm2 0zm3 0zm7 0zm1 0zm-17 1zm2 0zm3 0zm11 0zm-16 2zm3 0zm7 0zm8 0zm5 0zm-21 1zm1 0zm9 0zm4 0zm-16 1zm7 1zm10 0zm-17 1zm5 0zm3 0zm-32-23zm2 0zm1 0zm7 0zm-6 1zm4 0zm9 0zm1 0zm-15 1zm2 0zm1 0zm7 0zm-10 1zm2 0zm2 0zm2 0zm5 0zm3 0zm5 0zm-17 1zm1 0zm4 0zm1 0zm5 0zm6 0zm-19 1zm2 0zm7 0zm1 0zm9 0zm-22 1zm1 0zm1 0zm2 0zm2 0zm3 0zm2 0zm3 0zm4 0zm5 0zm-18 1zm3 0zm2 0zm8 0zm1 0zm2 0zm-20 1zm1 0zm1 0zm11 0zm8 0zm-21 1zm12 0zm3 0zm1 0zm1 0zm3 0zm2 0zm-21 1zm1 0zm3 0zm3 0zm-9 1zm2 0zm2 0zm1 0zm1 0zm2 0zm4 0zm2 0zm3 0zm4 0zm-19 1zm2 0zm8 0zm7 0zm-15 1zm4 0zm2 0zm-7 1zm1 0zm4 0zm3 0zm11 0zm-18 1zm7 0zm6 0zm-15 1zm5 0zm2 0zm11 0zm2 0zm-21 1zm3 0zm4 0zm-7 1zm8 0zm2 0zm8 0zm3 0zm-20 1zm2 0zm1 0zm7 0zm2 0zm8 0zm-21 1zm2 0zm2 0zm4 0zm4 0zm7 0zm-20 1zm2 0zm3 0zm11 0zm2 0zm3 0zm-20 1zm3 0zm1 0zm5 0zm5 0zm-13 1zm1 0zm10 0zm3 0zm2 0zm2 0zm-44-23zm8 0zm7 0zm2 0zm1 2zm1 0zm-4 2zm2 0zm-17 1zm6 0zm3 0zm1 0zm12 0zm-15 1zm6 0zm4 0zm-3 1zm0 1zm1 0zm3 0zm5 0zm-18 1zm5 0zm1 0zm3 0zm1 0zm0 1zm4 0zm2 0zm-8 1zm3 0zm3 0zm2 0zm-20 1zm6 0zm1 0zm5 0zm2 0zm4 0zm-18 1zm5 0zm1 0zm10 0zm6 0zm-20 1zm7 0zm13 0zm-19 1zm2 0zm5 0zm6 0zm-12 1zm3 0zm2 0zm3 0zm1 0zm3 0zm5 0zm-13 1zm4 0zm1 0zm1 0zm1 0zm-10 1zm5 0zm7 0zm5 0zm-1 1zm-21 1zm12 0zm6 0zm2 0zm-13 1zm6 0zm2 0zm2 0zm3 0zm-15 1zm3 0zm9 0zm1 0zm2 0zm1 0zm-15 1zm1 0zm6 0zm3 0zm2 0zm4 0zm-37-23zm12 0zm-7 3zm4 0zm4 0zm-20 1zm6 0zm10 0zm3 1zm-16 1zm8 0zm6 0zm1 0zm-19 4zm20 0zm-4 3zm-9 2zm6 1zm-1 1zm2 0zm5 0zm-5 1zm4 0zm-4 1zm-2 2zm5 0zm4 0zm-9 1zm7 0zm-22-16zm-6 5zm5 0zm-4 1zm-39 3zm12 1zm-25-9zm9 6zm-5 10zm5 15zm17 8zm30-21zm-8 13zm-10 4zm1 3zm3 1zm34-22zm4 0zm-4 1zm4 0zm1 0zm-1 1zm-15 1zm6 0zm4 0zm5 0zm-8 2zm8 1zm-9 1zm5 0zm-15 1zm11 0zm9 0zm-13 1zm5 0zm-8 1zm5 1zm8 0zm2 1zm-12 1zm12 0zm-4 1zm2 0zm-14 1zm10 0zm6 0zm-19 1zm10 1zm-4 1zm8 1zm1 1zm4 1zm-7 1zm8 0zm-16 1zm17-23zm7 0zm1 0zm4 0zm2 0zm5 0zm4 0zm-23 1zm20 0zm-19 1zm4 0zm7 0zm2 0zm2 0zm1 0zm4 0zm-19 1zm2 0zm1 0zm4 0zm1 0zm5 0zm2 0zm4 0zm1 0zm-16 1zm3 0zm2 0zm4 0zm8 0zm-18 1zm3 0zm-2 1zm6 0zm2 0zm1 0zm-9 1zm1 0zm7 0zm4 0zm3 0zm-11 1zm2 0zm1 0zm5 0zm-11 1zm1 0zm15 0zm-6 1zm1 0zm3 0zm-17 1zm-3 1zm3 0zm4 0zm1 0zm7 0zm3 0zm4 0zm-7 1zm1 0zm-12 1zm4 0zm2 0zm1 0zm-11 1zm5 0zm6 0zm5 0zm1 0zm3 0zm-15 1zm1 0zm4 0zm5 0zm2 0zm-10 1zm12 0zm-3 1zm4 0zm-15 1zm6 0zm-4 1zm4 1zm7 0zm4 0zm-10 1zm3 0zm-13 1zm9 0zm4 0zm5 0zm12-23zm1 0zm2 0zm1 0zm3 0zm1 0zm5 0zm-20 1zm4 0zm2 0zm1 0zm9 0zm-18 1zm2 0zm1 0zm2 0zm2 0zm12 0zm3 0zm1 0zm-20 1zm3 0zm1 0zm4 0zm2 0zm2 0zm-14 1zm11 0zm1 0zm-9 1zm1 0zm4 0zm7 0zm6 0zm-21 1zm3 0zm3 0zm9 0zm3 0zm-18 1zm2 0zm1 0zm8 0zm7 0zm1 0zm0 1zm-15 1zm1 0zm7 0zm10 0zm-22 1zm1 0zm1 0zm2 0zm3 0zm4 0zm-11 1zm4 0zm2 0zm5 0zm4 0zm2 0zm1 0zm-19 1zm1 0zm2 0zm4 0zm5 0zm2 0zm4 0zm4 0zm1 0zm-17 1zm2 0zm5 0zm1 0zm7 0zm-16 1zm3 0zm1 0zm-2 1zm2 0zm3 0zm10 0zm-21 1zm2 0zm3 0zm7 0zm1 0zm2 0zm2 0zm-14 1zm5 0zm14 0zm-23 1zm4 0zm10 0zm1 0zm7 0zm-16 1zm12 0zm-11 1zm7 0zm4 0zm-14 1zm2 0zm12 1zm4 0zm-11 1zm2 0zm4 0zm3 0zm14-23zm5 0zm-15 1zm1 0zm3 0zm9 0zm1 0zm-10 1zm4 0zm1 0zm-4 1zm4 0zm-9 1zm8 1zm3 0zm-7 1zm9 0zm-12 1zm5 1zm1 0zm-4 1zm12 0zm-12 1zm-3 1zm2 0zm2 0zm5 0zm7 0zm-16 2zm8 0zm-1 1zm-5 1zm1 0zm6 0zm-4 2zm2 3zm-6 1zm4 0zm1 0zm20-18zm1 1zm-25 21zm1 3zm-15-4zm9 0zm-20 1zm6 0zm4 0zm1 0zm5 1zm-3 1zm1 0zm2 0zm5 0zm-22 1zm1 0zm18 0zm-19 1zm12 0zm-10 1zm16 1zm-13 1zm10 0zm-3 1zm-5 1zm6 0zm-9 1zm3 2zm-3 3zm5 0zm-9 2zm-18-18zm8 0zm9 0zm-18 1zm5 0zm3 0zm9 0zm1 0zm-21 1zm7 0zm2 0zm-9 1zm1 0zm6 0zm8 0zm4 0zm-20 1zm9 0zm3 0zm10 0zm-7 1zm1 0zm-10 1zm15 0zm-13 1zm14 1zm-21 1zm9 0zm5 0zm-11 2zm15 1zm-1 2zm-14 2zm7 2zm1 2zm-8 1zm-13-21zm7 2zm-5 2zm1 0zm-5 1zm-7 1zm16 0zm-19 1zm15 1zm-11 1zm6 1zm3 3zm-8 4zm4 0zm7 1zm-35-10zm-6 8zm19 2zm-3 2zm48 4zm1 1zm-8 2z"/>
<path stroke="#151515" d="M73 78zm5 4zm-5 3zm3 3zm-6-14zm-13 6zm13 0zm-1 1zm1 1zm-2 3zm-5 1zm-1 4zm3 1zm-3 4zm0 3zm8 2zm-6 2zm-3 3zm2 5zm7 4zm11-18zm-4 3zm0 2zm5 3zm9 1zm0 1zm-12 1zm16 1zm-17 1zm7 1zm-2 3zm3 2zm-5 3zm0 1zm16-12zm69 22zm-68-3zm2 1zm13 3zm-12 4zm6 7zm-21-18zm-14 5zm2 0zm6 10zm10 1zm-19-3zm21 12zm-2 4zm0 6zm24-14zm-16 3zm1 1zm-2 1zm5 1zm7 1zm4 2zm-4 1zm3 1zm-2 2zm-9 1zm4 4zm3 0zm6 1zm-11 2zm4 0zm14-10zm0 17zm11 8zm-12 4zm9 1zm10 2zm-11 1zm4 0zm-7 3zm-18-23zm10 0zm-13 1zm13 5zm-13 4zm5 1zm2 8zm7 3zm-1 4zm-7 4zm7 1zm-5 1zm4 4zm9-12zm10 1zm-9 8zm12 0zm-3 1zm2 1zm-13 3zm-2 1zm19 0zm-14 1zm10 0zm-3 1zm3 2zm-14 1zm10 0zm-1 1zm16-15zm3 9zm7 5zm77 6zm-58 18zm-31-12zm15 0zm-12 5zm-2 9zm1 1zm-24-17zm15 1zm-2 1zm5 0zm1 3zm-13 1zm-21 17zm33-2zm-4 10zm19-12zm10 1zm-22 1zm8 0zm-8 1zm3 3zm13 0zm-11 3zm-1 1zm7 1zm10 1zm0 4zm-11 3zm10 1zm4-4zm16 0zm-7 3zm35 2zm-42 2zm10 2zm-9 2zm4 0zm2 1zm-6 2zm4 3zm2 1zm-9 8zm0 1zm22 1zm-12 1zm-2 1zm-15-21zm-2 5zm1 0zm-8 4zm1 3zm7 0zm5 9zm-23-22zm21 28zm9-3zm-4 2zm10 0zm2 1zm6 0zm1 4zm0 3zm-2 2zm-1 1zm-1 4zm7 2zm18-4zm-15 1zm136 20zm-55-5zm-55 12zm-12-21zm-5 1zm-10 1zm5 0zm-3 1zm8 1zm-3 6zm8 0zm-11 1zm9 0zm7 6zm-9 4zm-12 1zm-2-21zm-1 7zm-2 4zm-3 3zm-8 27zm35-18zm-18 2zm1 2zm10 0zm7 3zm-5 1zm-13 3zm13 3zm9 0zm-19 1zm7 2zm-5 1zm8 2zm6 2zm6-8zm19 3zm-14 2zm-5 3zm32-10zm27-2zm4 8zm8-14zm29 8zm5 22zm6 8zm-24-15zm-18 0zm-5 7zm-5 6zm-16-14zm-1 18zm3 2zm-41-1zm-9-20zm1 1zm-6 2zm-12 12zm23 10zm13 5zm22-4zm9 6zm0 7zm2-15zm-1 1zm10 5zm11 1zm24-5zm22 1zm-9 16zm11 0zm13 0zm19-14zm119 11zm-66 30zm-72-16zm6 0zm-2 5zm-8 7zm-27-14zm20 2zm-9 2zm7 7zm-10 6zm-23-13zm5 4zm1 1zm-16 1zm-20 0zm4 1zm-4 6zm-13-22zm2 1zm-16 2zm4 5zm11 2zm-42-7zm-10 1zm8 18zm-9 2zm24 7zm-9 9zm42 1zm-12 4zm7 2zm26-23zm0 7zm-13 11zm31-11zm0 6zm-2 6zm12 1zm18-13zm-6 6zm-11 3zm23 7zm8-21zm3 4zm-1 9zm6 7zm27-22zm-10 13zm-1 6zm49-6zm37 30zm-20 1zm-11 1zm-62-20zm4 7zm5 1zm6 8zm-22-16zm0 11zm-8 5zm13 3zm-16 2zm-29-21zm18 9zm-7 2zm-10 6zm-1 1zm14 0zm1 4zm-39-20zm21 3zm-12 1zm-8 4zm8 0zm4 1zm-34-11zm16 12zm-35-13zm10 5zm1 1zm-1 10zm-9 4zm-20-14zm29 21zm8-3zm5 5zm25-3zm0 6zm9 5zm2 1zm-13 7zm34-14zm18 9zm-4 3zm-1 1zm12 0zm4 2zm11-18zm-3 5zm8 10zm28-10zm-15 2zm25-3zm17 13zm46-4zm-15 5zm-24 19zm-39-13zm5 3zm-1 5zm2 2zm-12 9zm5 0zm-17-21zm-14 18zm-9-10zm1 8zm-28-18zm-5 6zm3 11zm-15 4zm-15-16zm-4 8zm-1 5zm-31-4zm61 12zm-8 1zm12 6zm-10 1zm19 1zm-9 2zm18-13zm14 7zm-3 5zm-4 2zm1 3zm-9 1zm4 0zm10 5zm28-22zm11 6zm6 1zm-11 4zm15 11zm3-21zm19 18zm14 0zm45 0zm50 18zm-102-11zm-3 16zm21 0zm-43-11zm13 14zm-39-14zm-23-1zm11 1zm-8 3zm0 11zm-5-19zm-10 20zm-55-15zm-5 1zm-14 11zm34 10zm-18 8zm57-13zm-1 18zm9 4zm27-21zm-20 8zm20 10zm18-19zm4 4zm-7 6zm9 0zm-14 1zm-3 2zm0 2zm3 6zm30-15zm2 4zm-12 7zm27-16zm14 20zm50-22zm16 12zm20 19zm-79 1zm8 0zm-7 14zm-26-20zm11 11zm1 1zm-4 2zm8 6zm-24-22zm1 1zm-20 6zm22 5zm-1 6zm-14 1zm-28-19zm3 3zm2 2zm8 1zm-7 13zm-13-14zm-10 11zm-3 6zm-17-19zm1 1zm-20-4zm-6 8zm-5 1zm30 26zm26-7zm-9 1zm12 5zm15-7zm-9 6zm17 2zm23-11zm3 13zm-19 3zm10 4zm15-19zm-1 5zm17 6zm-3 1zm9-8zm1 0zm21 15zm-14 2zm26-18zm18 10zm-2 8zm26 2zm-18 4zm-30-2zm-13-2zm-8 22zm-11-22zm0 1zm-20 1zm12 10zm-11 3zm-3-15zm0 5zm-2 6zm-9 2zm3 5zm-12 1zm-22-6zm16 3zm-39-10zm7 6zm-48-5zm29 21zm-6 8zm33-7zm-17 2zm43-4zm-15 8zm12 0zm18-11zm-14 9zm18 2zm-8 6zm13 3zm-11 3zm24-23zm-6 8zm36 4zm3 1zm-16 1zm-5 7zm41-2zm15-6zm20 15zm-55 2zm-45 2zm15 3zm-14 6zm-28 2zm-33-16zm6 14zm48 17zm-7 13zm39-22zm7 14zm24 9zm-17 4zm-38 26z"/>
<path stroke="#80d787" d="M198 322zm-5 3zm6 1zm-7 1zm14 0zm-11 1zm1 0zm7 2zm-7 1zm4 0zm-3 1zm2 0zm-2 1zm17 1zm-25-8zm2 1zm-6 1zm6 0zm-8 1zm7 0zm-9 1zm1 0zm-2 1zm2 0zm2 1zm2 0zm-18 1zm12 0zm1 0zm1 0zm1 0zm2 1zm3 0zm1 0zm2 0zm-4 1zm4 0zm-34 3zm9 1zm6-3zm2 0zm3 0zm4 0zm7 0zm-8 1zm2 0zm4 0zm2 0zm-6 1zm1 0zm-6 1zm7 0zm7 0zm-20 1zm12 0zm7 0zm-12 1zm9 0zm2 0zm-11 1zm7 0zm2 1zm1 1zm1 0zm-12 1zm10 0zm2 0zm1 0zm-5 2zm-3 1zm1 0zm3 0zm-10 1zm1 0zm8 0zm3 0zm1 1zm-17 1zm8 2zm10 2zm-6 1zm3 0zm1 1zm2 0zm1 0zm17-21zm-15 1zm14 0zm-11 1zm4 0zm6 0zm-14 2zm4 0zm4 0zm3 0zm-9 1zm10 0zm7 0zm-19 1zm1 0zm3 0zm3 1zm1 0zm2 0zm-8 1zm1 0zm4 0zm-7 1zm11 0zm8 0zm-18 1zm3 0zm4 0zm3 0zm-2 1zm2 0zm-11 1zm2 0zm1 0zm8 0zm1 0zm-4 1zm1 0zm1 0zm-9 2zm2 0zm2 0zm4 0zm6 0zm-1 1zm8 1zm-22 1zm4 0zm9 0zm-8 1zm7 0zm5 0zm-17 1zm7 0zm8 0zm-15 1zm0 1zm4 0zm3 0zm5 0zm1 0zm2 0zm-14 1zm11 0zm8 0zm2 0zm14-5zm12-10zm13 0zm-13 28zm4 0zm-3 2zm3 3zm-28-15zm7 1zm-1 3zm-6 1zm1 0zm2 1zm12 1zm5 1zm-15 2zm-3 1zm16 1zm-18 1zm5 0zm5 0zm-6 1zm8 0zm2 0zm-6 1zm-8 1zm10 0zm-6 1zm5 0zm1 0zm-2 1zm-4 2zm8 0zm10 0zm-17 1zm2 0zm-29-23zm5 0zm8 0zm2 0zm5 0zm-14 1zm1 0zm1 0zm4 0zm-6 1zm6 0zm3 0zm1 0zm-9 1zm2 0zm8 0zm-19 1zm4 0zm5 0zm10 0zm1 0zm-14 1zm10 0zm-14 1zm9 0zm3 0zm-10 1zm9 0zm6 0zm2 0zm1 0zm-20 1zm4 0zm11 0zm5 0zm1 0zm-12 1zm2 0zm6 0zm1 0zm-14 1zm13 0zm-6 1zm5 0zm-9 1zm-8 1zm4 0zm7 0zm-5 1zm3 0zm1 0zm7 0zm2 0zm2 0zm-16 1zm3 0zm13 0zm1 0zm-18 1zm4 0zm1 0zm3 0zm5 0zm1 0zm-6 1zm1 0zm7 0zm-17 1zm15 0zm2 0zm-18 1zm11 1zm7 0zm-12 1zm1 0zm2 0zm1 0zm2 0zm4 0zm-14 1zm3 0zm2 0zm6 0zm5 0zm-17 1zm2 0zm11 0zm-41-23zm17 2zm2 0zm3 0zm-3 4zm3 4zm-9 6zm3 5zm6 8zm-5 1zm-13 7zm18 4zm-7 3zm16-20zm2 0zm14 0zm-7 1zm-16 1zm7 0zm11 0zm-7 1zm9 0zm-6 1zm5 0zm-6 1zm7 0zm1 0zm-18 1zm5 0zm9 0zm5 0zm-9 1zm-3 2zm1 0zm10 0zm1 0zm1 0zm-14 1zm4 0zm6 0zm3 0zm1 0zm-20 1zm3 1zm13 0zm-6 2zm9 0zm-7 1zm5 0zm2 0zm-8 1zm-12 1zm12 0zm1 0zm8 0zm-6 2zm6 0zm-14 1zm9 1zm-6 1zm6 0zm1 0zm4 1zm2-23zm1 0zm18 0zm3 1zm-20 1zm13 1zm-13 1zm1 0zm7 0zm9 0zm-20 1zm1 0zm6 1zm7 0zm-14 1zm7 0zm8 0zm1 0zm5 0zm-20 1zm3 0zm1 0zm5 0zm-10 1zm3 0zm6 0zm1 0zm-10 1zm17 0zm-13 1zm7 0zm-8 1zm2 0zm3 0zm2 0zm-7 1zm2 0zm5 0zm6 0zm-16 1zm4 0zm3 0zm9 0zm-13 1zm4 0zm2 0zm12 0zm-19 1zm5 0zm2 0zm8 0zm-10 1zm8 0zm-15 1zm2 0zm13 0zm1 0zm0 1zm-15 1zm2 0zm1 0zm2 0zm3 2zm1 0zm1 0zm6 0zm-16 1zm3 0zm7 0zm26-19zm-5 3zm15 0zm-21 3zm-1 2zm-1 3zm1 4zm1 2zm10 0zm-12 1zm24-15zm8 0zm10 32zm-11 5zm-23-18zm-3 3zm5 1zm-5 2zm-5 1zm6 4zm9 0zm-15 3zm0 1zm6 0zm3 1zm-9 1zm4 0zm1 2zm-3 1zm5 0zm5 0zm-7 1zm-25-23zm1 0zm7 0zm6 0zm5 0zm-22 1zm4 0zm-5 1zm4 0zm3 0zm12 0zm3 0zm-22 1zm4 0zm3 0zm5 0zm1 0zm4 0zm-9 1zm10 0zm3 0zm-14 1zm9 0zm-14 1zm5 0zm2 0zm7 0zm1 0zm-8 1zm4 0zm2 0zm-11 1zm2 0zm10 0zm2 0zm4 0zm-19 1zm-2 1zm3 0zm7 0zm5 0zm6 0zm-21 2zm2 0zm3 0zm2 0zm7 0zm4 0zm1 0zm-20 1zm4 0zm1 0zm1 0zm2 0zm8 0zm1 0zm5 0zm-18 1zm3 0zm4 0zm1 0zm3 0zm0 1zm-1 1zm1 0zm6 0zm-17 1zm3 0zm11 0zm5 0zm-19 1zm4 0zm4 0zm-1 1zm2 0zm7 0zm2 0zm-20 1zm13 0zm3 0zm4 0zm-12 1zm1 0zm5 0zm-12 1zm18 0zm-8 1zm6 0zm-21-23zm-3 1zm2 0zm-15 1zm6 0zm2 1zm2 0zm1 0zm4 0zm1 0zm-22 1zm19 0zm1 0zm1 0zm-15 2zm12 0zm3 2zm-3 1zm2 1zm1 0zm-5 1zm5 0zm-16 2zm12 0zm1 1zm-8 4zm11 2zm-14 1zm-22-6zm18 12zm18 2zm-10 4zm10 11zm17-20zm-13 1zm1 0zm3 0zm4 0zm4 0zm6 0zm-13 1zm-7 1zm7 0zm-6 1zm6 0zm1 0zm6 0zm2 0zm-16 1zm11 0zm5 0zm-11 1zm2 0zm2 0zm6 0zm-12 1zm5 1zm4 0zm0 2zm1 3zm-8 9zm20-22zm4 0zm12 2zm-17 1zm0 2zm1 6zm1 9zm-3 7z"/>
<path stroke="#4e60b4" d="M239 361zm-5 22zm-70 4zm49 8zm12-3zm-1 2zm9 2zm-3 6zm2 5zm24-22zm6 16zm-20 3zm3 0zm2 0zm1 4zm-6 2zm1 8zm17 0zm-14 1zm-6 1zm0 1zm23 0zm-23 2zm7 0zm7 0zm-11 1zm-1 1zm6 0zm5 1zm1 0zm-14 1zm6 1zm2 1zm4 0zm-12 1zm6 0zm-1 1zm2 0zm-16-20zm-3 1zm3 0zm6 0zm-5 1zm-8 1zm1 1zm14 0zm-7 2zm7 0zm0 2zm-6 1zm-4 2zm-8 1zm14 0zm-1 1zm1 0zm-16 2zm1 0zm9 0zm-2 1zm1 0zm3 0zm6 1zm2 0zm-7 1zm1 0zm4 0zm1 0zm1 0zm-10 1zm5 0zm3 0zm2 0zm-15 1zm2 0zm2 0zm2 0zm1 0zm-23-22zm-7 1zm2 3zm-1 2zm2 2zm-7 13zm2 2zm15 0zm-2 1zm-4 2zm0 16zm15-19zm3 0zm7 0zm3 0zm2 0zm-16 1zm11 0zm2 0zm-5 1zm1 0zm5 0zm-3 1zm4 0zm1 0zm-11 1zm4 0zm2 0zm4 0zm-17 1zm6 0zm6 0zm2 0zm2 0zm-16 1zm-3 1zm16 0zm1 0zm4 0zm-11 1zm5 0zm4 0zm3 0zm-7 1zm4 0zm2 0zm1 0zm-2 1zm1 0zm-1 1zm-1 1zm1 0zm-8 1zm-2 1zm9 0zm3 0zm-22 1zm12 0zm7 0zm-10 1zm11 0zm-1 3zm3 0zm-13 1zm13 0zm6-20zm2 0zm-1 1zm2 1zm-6 1zm3 0zm1 0zm2 0zm1 0zm7 0zm4 0zm-20 1zm2 0zm9 0zm3 0zm-11 1zm2 0zm5 0zm8 0zm-18 1zm5 0zm7 0zm2 0zm-11 1zm4 0zm7 0zm-14 1zm2 0zm6 0zm8 0zm-12 1zm1 0zm5 0zm6 0zm-16 1zm1 0zm1 0zm4 0zm1 0zm1 0zm6 0zm1 0zm7 0zm1 0zm-23 1zm1 0zm1 0zm6 0zm3 0zm3 0zm-12 1zm1 0zm3 0zm14 0zm-18 1zm1 0zm3 0zm2 0zm4 0zm1 0zm3 0zm-12 1zm7 0zm1 0zm-10 1zm1 0zm3 0zm-4 1zm3 0zm1 0zm2 0zm1 0zm3 0zm1 0zm-13 1zm2 0zm1 0zm8 0zm1 0zm3 0zm-7 1zm2 0zm11 0zm-16 1zm12 0zm1 0zm3 0zm1 0zm-17 1zm3 0zm2 0zm2 0zm1 0zm2 0zm7 0zm-16 1zm16 0zm-22 1zm2 0zm4 0zm1 0zm-2 1zm8 0zm13 7zm9 2zm-9 8zm-20-16zm3 0zm4 0zm-12 1zm20 1zm-21 1zm4 1zm2 1zm9 0zm-5 1zm3 0zm4 0zm-11 1zm13 0zm-11 1zm5 1zm3 2zm5 6zm-28-17zm4 0zm2 4zm-13 4zm12 0zm-5 6zm14 19z"/>
<path stroke="#ef6048" d="M208 128zm-24 14zm-45-2zm-10 13zm33-5zm-1 2zm5 0zm-13 6zm-6 1zm13 1zm0 1zm-4 2zm2 0zm-8 3zm4 0zm2 0zm5 0zm-11 1zm3 0zm-5 2zm29-22zm-4 1zm7 1zm10 0zm-19 2zm8 3zm6 1zm-16 1zm7 1zm14 2zm-10 1zm-11 4zm6 3zm2 0zm-7 1zm2 0zm1 0zm8 0zm13-20zm-1 1zm10 0zm-6 2zm3 1zm11 13zm-16 1zm-1 1zm5 0zm24-18zm16 8zm16 3zm-4 5zm6 6zm-5 2zm6 2zm-16 8zm-18-11zm-8 5zm15 7zm-15 3zm0 2zm-24-17zm8 0zm-2 1zm6 0zm11 1zm-23 2zm3 0zm4 0zm5 0zm4 0zm-2 2zm1 1zm3 0zm-10 1zm-7 2zm-1 1zm2 2zm11 0zm2 0zm1 0zm-15 1zm-1 2zm23 0zm-20 1zm1 0zm13 0zm-7 2zm-9 1zm12 0zm4 0zm-17 1zm13 0zm-21-23zm4 0zm1 1zm-19 1zm6 0zm-5 1zm12 0zm-1 2zm5 0zm-15 1zm13 0zm-5 1zm1 0zm-12 1zm3 0zm7 0zm8 0zm1 0zm3 0zm-19 1zm17 1zm-18 1zm9 0zm6 0zm-14 1zm16 0zm-5 1zm-12 1zm5 0zm3 0zm8 0zm3 0zm-9 1zm1 0zm9 0zm-18 1zm16 0zm-13 1zm7 0zm5 0zm-8 1zm-12 1zm13 1zm-11 1zm2 0zm3 0zm-6 1zm13 0zm0 1zm1 0zm-35-23zm10 1zm-3 1zm9 0zm-17 3zm20 1zm-15 2zm14 2zm-9 2zm8 0zm-14 1zm-6 1zm7 0zm1 1zm5 1zm8 0zm-15 2zm8 0zm4 0zm-2 1zm6 1zm-20 2zm17 1zm-26-21zm-7 2zm11 7zm-9 11zm8 6zm11 2zm14 0zm-4 1zm-11 1zm12 3zm1 7zm-6 3zm23-20zm2 0zm-3 1zm6 0zm-11 1zm1 0zm7 0zm1 2zm3 1zm-12 1zm-6 1zm4 0zm6 0zm8 0zm-5 1zm9 0zm-20 2zm8 0zm5 0zm1 0zm-2 1zm-13 2zm8 0zm11 1zm-8 3zm25-16zm4 1zm-16 1zm10 1zm2 0zm-5 1zm4 0zm6 1zm1 0zm-11 1zm2 1zm9 3zm1 0zm-20 3zm13 0zm-12 4zm3 1zm1 1zm8 0zm4 1zm-4 1zm11-22zm-1 5zm11 0zm10 5zm-15 1zm6 2zm-9 4zm15 1zm-15 1zm9 0zm4 3zm28-19zm-10 4zm3 15zm23 5zm-1 9zm-29 6zm5 3zm12 0zm-45-22zm2 2zm10 0zm-9 2zm3 18zm-12-21zm-16 1zm8 0zm4 4zm-39-6zm11 0zm4 0zm1 1zm-16 5zm7 0zm10 4zm1 1zm-15 2zm2 5zm0 1zm11 4zm-26-15zm5 1zm1 0zm0 3zm-26 8zm-13 9zm15 9zm42-14zm18 1zm11 2zm-8 2zm8 0zm-17 6zm5 3zm22-10zm-3 15zm-1 3zm30-7zm-25 24zm-11 2z"/>
<path stroke="#f8a283" d="M185 110zm-6 7zm20-9zm7 3zm4 0zm-15 1zm20 0zm-22 1zm13 1zm3 0zm-15 1zm-1 1zm3 1zm10 0zm-12 2zm44-14zm-19 12zm55 8zm-10 6zm0 2zm2 2zm-1 1zm4 4zm-20-20zm-9 8zm0 2zm2 0zm-2 3zm8 0zm3 5zm11 0zm-18 1zm18 0zm-19 3zm7 0zm-31-21zm4 0zm5 0zm-11 2zm1 0zm5 0zm10 4zm4 0zm-3 2zm2 0zm-17 1zm3 1zm6 0zm2 0zm1 0zm-10 1zm10 0zm-5 1zm-1 1zm11 0zm-19 1zm11 0zm2 0zm4 0zm-13 1zm13 0zm-16 1zm13 0zm1 0zm2 0zm-17 1zm5 0zm1 0zm1 0zm1 0zm3 0zm3 0zm1 0zm-14 1zm2 0zm3 0zm5 0zm1 0zm-12 1zm3 0zm3 0zm4 0zm-4 1zm2 0zm1 0zm1 0zm3 0zm-13 1zm3 0zm5 1zm-25-22zm3 1zm1 0zm2 0zm3 0zm0 1zm2 2zm-19 1zm1 0zm15 0zm1 1zm6 0zm-19 1zm3 0zm2 0zm11 0zm-16 1zm4 0zm15 0zm-22 1zm5 0zm3 0zm8 0zm-3 1zm1 0zm-6 1zm8 0zm3 0zm-10 1zm1 0zm6 0zm6 1zm-6 2zm3 0zm-11 2zm0 1zm-2 2zm8 0zm6 0zm-15 2zm-8-20zm0 2zm-5 3zm1 1zm-2 1zm-1 3zm1 2zm-21 19zm15-6zm-7 10zm40-13zm-15 2zm19 8zm14-11zm1 0zm1 0zm1 0zm-10 1zm4 0zm-6 1zm2 0zm2 0zm2 0zm12 0zm-19 1zm2 0zm1 0zm1 0zm7 0zm3 0zm4 0zm2 0zm-22 1zm5 0zm13 0zm2 0zm-1 1zm-18 1zm9 0zm8 0zm-16 2zm17 0zm-12 1zm4 0zm0 1zm3 0zm7 0zm-15 1zm5 0zm-3 1zm7 0zm7 1zm-4 1zm3 0zm-11 1zm3 1zm-13 1zm3 2zm1 0zm7 1zm20-19zm-5 1zm8 0zm5 0zm-10 2zm3 0zm-9 1zm9 0zm-5 1zm3 0zm6 0zm-13 2zm3 0zm-3 1zm12 1zm3 0zm-5 3zm-1 2zm-3 1zm5 1zm-11 1zm14 1zm8 0zm-21 1zm4 0zm-3 1zm9 0zm6 0zm1 1zm25-19zm-18 1zm-1 1zm4 3zm1 3zm-2 1zm-1 4zm17 0zm-7 7zm26-11zm-1 4zm4 2zm39 16zm-7 12zm-42-16zm15 0zm-19 4zm-3 8zm-24-18zm8 1zm-6 2zm3 12zm-11-14zm-18 3zm1 3zm21 9zm-36-15zm8 2zm-6 1zm-10 3zm21 0zm-26-7zm2 2zm0 5zm-8 10zm-59 11zm43-1zm18-2zm18 6zm11 2zm-20 10zm19 3zm-13 1zm27-22zm5 21zm55-21zm-14 6zm11 16zm23-23zm-163 38zm27 14zm30-1z"/>
<path stroke="#1b6b2e" d="M156 38zm0 1zm-8 1zm9 0zm3 0zm-16 1zm10 0zm-7 2zm2 0zm3 0zm6 0zm1 0zm-10 1zm6 0zm10 0zm-19 1zm3 0zm5 1zm2 0zm1 0zm-12 1zm1 0zm2 0zm3 0zm1 0zm4 0zm-17-7zm2 4zm-10 3zm4 0zm-76 15zm3 0zm-5 3zm2 2zm-6 1zm4 1zm1 0zm5 1zm2 0zm-11 1zm5 0zm68-23zm12 0zm-4 1zm2 0zm6 0zm0 2zm-10 2zm5 0zm4 0zm-5 1zm4 0zm-1 1zm-1 1zm2 1zm1 0zm-12 1zm6 0zm5 0zm-15 1zm17 1zm-5 1zm2 0zm2 0zm-8 1zm2 0zm7 1zm-8 1zm-2 2zm9 1zm1 1zm-2 1zm4-21zm2 0zm3 0zm2 0zm6 0zm5 0zm-19 1zm4 0zm1 0zm2 0zm3 0zm1 0zm-8 1zm1 0zm4 0zm3 0zm1 0zm5 0zm2 0zm2 0zm-19 1zm4 0zm1 0zm14 0zm-21 1zm7 0zm4 0zm2 0zm4 0zm3 0zm-18 1zm4 0zm2 0zm3 0zm1 0zm5 0zm3 0zm-12 1zm5 0zm2 0zm1 0zm-15 1zm5 0zm1 0zm4 0zm1 0zm1 0zm5 0zm-15 1zm1 0zm2 0zm1 0zm4 0zm2 0zm1 0zm1 0zm2 0zm-17 1zm4 0zm1 0zm2 0zm4 0zm1 0zm2 0zm6 0zm2 0zm-18 1zm8 0zm1 0zm1 0zm6 0zm-20 1zm1 0zm2 0zm4 0zm1 0zm7 0zm8 0zm-18 1zm1 0zm1 0zm4 0zm8 0zm-19 1zm2 0zm12 0zm4 0zm-17 1zm7 0zm1 0zm4 0zm-5 1zm1 0zm1 0zm-2 1zm3 0zm-9 1zm10 0zm1 0zm1 0zm7 0zm-17 1zm10 0zm5 0zm4 0zm-20 1zm1 0zm7 0zm3 0zm-6 1zm9 0zm-4 1zm-3 1zm6 0zm10-20zm5 8zm-4 8zm-25 6zm16 0zm-11 3zm-9-1zm-67 1zm-2 1zm5 8zm-3 3zm11 0zm-8 3zm2 2zm-7 1zm12 2zm-27-23zm7 1zm-1 1zm1 0zm5 0zm-18 2zm9 0zm7 1zm-12 1zm6 0zm3 2zm13 16zm1 1zm2 0zm1 0zm-3 1zm1 0zm8 2zm-9 3zm-1 4zm2 0zm9 1zm-11 2zm8 0zm1 0zm7 1zm-3 3zm2 1zm-8 4zm15-13zm-3 3zm0 8zm5 1zm-1 7zm-6-5zm0 3zm-2 4z"/>
<path stroke="#f0e010" d="M205 389zm9 0zm-9 1zm7 0zm-10 2zm2 4zm7 1zm-15 1zm4 0zm8 0zm2 1zm4 0zm-15 2zm7 1zm0 3zm-4 1zm7 0zm1 0zm1 0zm-12 1zm25-11zm-5 2zm1 2zm1 2zm-1 1zm-1 1zm1 1zm2 0zm-1 1zm-2 1zm4 0zm20 9zm-27-8zm8 1zm2 0zm5 0zm-3 1zm-7 1zm-2 1zm8 0zm-10 3zm6 1zm3 0zm-6 1zm0 1zm11 0zm-13 1zm4 0zm-5 1zm12 0zm-7 1zm-5 1zm22 0zm-21 1zm9 0zm-1 2zm9 2zm-14 1zm3 0zm1 1zm5 0zm2 0zm6 0zm-18 2zm1 0zm-6-23zm-5 1zm4 0zm-9 1zm6 0zm3 0zm-16 1zm8 1zm2 0zm-1 2zm2 2zm6 0zm-7 1zm1 1zm2 0zm3 0zm1 1zm-5 1zm5 0zm-14 1zm2 1zm12 0zm-2 3zm1 0zm1 0zm-20 2zm17 2zm2 3zm-8 3zm7 0zm26-3zm-10 1zm1 1zm-14 1zm11 0zm-4 1zm5 1zm1 1zm7 0zm-10 1zm4 2zm9 1zm-22 1zm134 12zm158 9zm-15-8zm-117 13zm-64-9zm-1 36zm27-13zm31 10zm-5 7zm40-6zm2 7zm43-17zm-11 10zm117 22zm-117 7zm-30-14zm-9 0zm-6 13zm7 3zm-40 2zm-6-19zm-15 8zm6 0zm7 2zm-12 5zm-28-2zm4 3zm10 3zm-44 9zm12 3zm16 7zm-15 4zm33-22zm3 5zm-5 1zm-4 2zm4 3zm0 3zm7 3zm1 0zm-8 1zm5 5zm11-20zm12 0zm2 3zm-4 2zm-13 1zm-3 3zm7 0zm1 0zm7 0zm-5 2zm3 3zm2 0zm5 0zm1 1zm-11 1zm5 1zm18-18zm-3 6zm-5 1zm0 5zm7 0zm4 1zm6 2zm9-14zm6 14zm1 2zm3 1zm13-19zm0 8zm-1 8zm57-15zm33-1zm-19 14zm58-1zm15-12zm77 42zm-126-13zm4 8zm2 1zm2 2zm-23-11zm2 0zm-4 16zm-25-21zm-3 16zm6 3zm-13-17zm-5 9zm-4 4zm-8 5zm19 1zm-41-15zm5 2zm-11 2zm6 0zm17 0zm-5 1zm-8 5zm-16-18zm-9 4zm-9 1zm5 3zm-2 2zm-2 8zm2 0zm3 3zm0 2zm-26-18zm7 1zm1 0zm-2 1zm-2 4zm7 0zm-11 1zm10 0zm-13 1zm9 0zm11 2zm-20 1zm0 2zm8 2zm12 1zm-36-20zm2 2zm-4 1zm9 1zm0 1zm-15 2zm16 1zm4 3zm-11 3zm8 0zm-12 5zm10 3zm-27-23zm3 0zm5 0zm-8 2zm-4 1zm1 2zm-2 1zm-4 2zm18 9zm-46 5zm13 4zm30 0zm-2 9zm-3 6zm23-15zm7 0zm2 0zm-10 1zm4 1zm-2 3zm4 0zm5 0zm0 3zm-13 2zm9 1zm-12 1zm-3 1zm21-15zm3 0zm13 4zm-10 6zm5 0zm-3 1zm2 0zm-4 2zm12 0zm4 1zm-13 2zm11 2zm-10 1zm-7 2zm22-14zm9 7zm-9 1zm19 5zm-7 3zm4 0zm17-22zm3 7zm-7 1zm11 1zm-6 4zm0 8zm31-20zm-11 2zm18 9zm-1 5zm18 2zm9-8zm38-7zm-11 8zm-3 6zm89 11zm-57 0zm11 15zm-40-4zm-21-6zm-2 7zm-13 0zm-15 2zm18 3zm-26-14zm-5 2zm-57-4zm3 0zm12 3zm-34-10zm-8 1zm1 2zm19 5zm-15 5zm-21-7zm2 2zm0 6zm-19 6zm7 17zm37-13zm-2 5zm-5 3zm29 11zm1 1zm24-5zm5 0zm19-15zm-7 6zm-2 2zm4 3zm-7 3zm9 4zm20-12zm58 11zm21 5zm13-10zm25 16zm-67 18zm-41-21zm-17 6zm-7 4zm-13 8zm21 3zm-3 1zm-22-23zm-16 2zm6 17zm-16-19zm3 1zm-6 1zm-5 8zm-6 7zm-1 4zm16 2zm-29-5zm6 1zm-24-8zm-5 8zm1 0zm-2 3zm-22-8zm-4 15zm21 1zm72 2zm1 7zm-1 7zm50-14zm22 7zm14-11zm2 10zm11 7zm-2 1zm21-5zm17 2zm30 8zm-9-3zm-30 7zm-93-7zm-14 12zm2 2zm-21-5zm-18 9zm-4 3zm-2 7zm9 15zm25-15zm5 3zm44-3zm92 1zm-71 21zm-45 16z"/>
<path stroke="#d9bc8e" d="M613 163zm-9 17zm-41 6zm-39 20zm34-8zm4 5zm4 11zm-11 1zm40-21zm-12 13zm-1 1zm-1 4zm15 0zm22-19zm-10 4zm4 17zm45-18zm-23 21zm4 9zm-23-5zm0 7zm-9 2zm9 2zm-19-11zm-14 1zm8 4zm-11 3zm6 4zm1 2zm13 1zm-19 3zm3 0zm-27-13zm15 2zm-15 6zm-34-3zm17 12zm2 6zm11-7zm2 8zm20 5zm-4 6zm16-19zm6 6zm-14 1zm15 2zm-1 2zm-13 2zm8 2zm3 3zm-2 2zm31-22zm-9 7zm11 2zm-2 1zm-2 1zm4 1zm-12 2zm-8 2zm1 0zm1 1zm5 1zm15 3zm11-12zm4 3zm5 9zm-14 1zm28 17zm-8 8zm-23-20zm-2 5zm16 4zm-13 3zm12 3zm4 2zm-31-20zm4 7zm-1 7zm-11 2zm11 5zm-10 1zm6 0zm-6 1zm-21-19zm-2 1zm11 0zm-12 1zm11 0zm-14 9zm4 4zm-3 4zm15 0zm-38-23zm12 0zm-9 2zm7 3zm-10 2zm6 6zm6 0zm5 1zm-4 6zm5 2zm0 1zm-43-22zm0 6zm14 10zm6 2zm-13 2zm-81 0zm81 14zm5 5zm25-13zm-15 3zm11 9zm-6 3zm27-13zm14 3zm-9 7zm-4 5zm35-11zm-17 3zm0 4zm35 0zm20-15zm2 20zm-10 9zm-21 13zm-54-13zm19 8zm-3 3zm-28-14zm-4 2zm-6 6zm-14-4zm-4 2zm3 2zm-15 27zm-5 8zm20-11zm1 1zm22-11zm13 4zm-19 2zm37-6zm-9 4zm-4 11zm-4 3zm38-12zm13-4zm43 0zm-17 5zm-5 12zm29-5zm-67 13zm7 16zm-25-16zm-25-4zm5 4zm-7 4zm-7 5zm-10-4zm-34-9zm-41 4zm42 37zm18-11zm49 6zm52 2zm-90 12zm78 53z"/>
<path stroke="#a9d110" d="M219 304zm71 1zm-59 40zm75 35zm-33-7zm-13 10zm-61 7zm82-1zm69 16zm-60 17zm-16 8zm-31 15zm-2 9zm40-4zm4 1zm-7 4zm26-6zm-15 5zm32-8zm37-1zm-17 1zm13 2zm-6 6zm41 13zm-51 12zm-50-18zm23 3zm-19 5zm14 10zm-38-22zm-1 2zm19 13zm-36-12zm-9 17zm5 12zm86-8zm-19 1zm11 0zm27 9zm25 33zm-16 1zm-22-17zm10 10zm4 1zm-3 5zm-21 1zm-35-21zm-5 8zm14 12zm-25-5zm28 30zm11 1zm30-13zm83 9zm-74 25zm-50-2zm-17 36zm66 76z"/>
<path stroke="#c64cae" d="M636 361zm-15 34zm19-10zm20 13zm11 4zm-6 1zm11 1zm-3 1zm-6 7zm-31 4zm-29 15zm-12-14zm37 15zm8 20zm37-16zm-29 28z"/>
<path stroke="#e394d4" d="M523 373zm-102 82zm81-7zm46 31zm-47-14zm-14 25zm102 25zm-158 8zm-13 18zm160 32zm-54-17zm-131 19zm-15-21zm-1 25zm23 9zm40 16zm-20 19zm-4 3zm12 21z"/>
<path stroke="#a9d3ef" d="M176 80zm51 68zm21 3zm29 108zm58-4zm-44 15zm-39 16zm-31-5zm-53 8zm24 14zm23 0zm35 2zm-61 43zm8 10z"/>
<path stroke="#676363" d="M321 305zm34 123zm-32-16zm9 44zm-29 12zm-9 2zm6 20zm78 0zm6-10zm-118 29zm27 19zm23 32zm28 23z"/>
</g>
<g id="pa">
<text x="1" y="24.6" font-size="31" font-weight="bold" fill="#000">a</text>
<line x1="38.8" y1="31.0" x2="38.8" y2="792.2" stroke="#1a1a1a" stroke-width="1.2"/>
<line x1="38.2" y1="791.6" x2="905.5" y2="791.6" stroke="#555" stroke-width="1.6"/>
<text x="486.0" y="822.3" font-size="26.8" text-anchor="middle">Axis 1 (17.90%)</text>
<text transform="translate(24.3 425.7) rotate(-90)" font-size="26.8" text-anchor="middle">Axis 2 (6.99%)</text>
<rect x="38.5" y="858.3" width="27.5" height="19.5" fill="#f3e70c" stroke="#444" stroke-width="0.9"/>
<text x="75.6" y="876.9" font-size="26.8">Animal corpus</text>
<rect x="38.5" y="893.5" width="27.5" height="19.5" fill="#8c4216" stroke="#444" stroke-width="0.9"/>
<text x="75.6" y="912.1" font-size="26.8">Animal distal gut</text>
<rect x="38.5" y="928.7" width="27.5" height="19.5" fill="#d9bc8e" stroke="#444" stroke-width="0.9"/>
<text x="75.6" y="947.3" font-size="26.8">Animal proximal gut</text>
<rect x="38.5" y="963.9" width="27.5" height="19.5" fill="#f9a762" stroke="#444" stroke-width="0.9"/>
<text x="75.6" y="982.5" font-size="26.8">Animal secretion</text>
<rect x="38.5" y="999.1" width="27.5" height="19.5" fill="#b9851f" stroke="#444" stroke-width="0.9"/>
<text x="75.6" y="1017.7" font-size="26.8">Animal surface</text>
<rect x="38.5" y="1034.3" width="27.5" height="19.5" fill="#a9d3ef" stroke="#444" stroke-width="0.9"/>
<text x="73.6" y="1052.9" font-size="26.8">Hypersaline (saline)</text>
<rect x="357.5" y="858.3" width="27.5" height="19.5" fill="#c64cae" stroke="#444" stroke-width="0.9"/>
<text x="392.5" y="876.9" font-size="26.8">Mock community</text>
<rect x="357.5" y="893.5" width="27.5" height="19.5" fill="#a9d110" stroke="#444" stroke-width="0.9"/>
<text x="392.5" y="912.1" font-size="26.8">Plant corpus</text>
<rect x="357.5" y="928.7" width="27.5" height="19.5" fill="#1b6b2e" stroke="#444" stroke-width="0.9"/>
<text x="392.5" y="947.3" font-size="26.8">Plant rhizosphere</text>
<rect x="357.5" y="963.9" width="27.5" height="19.5" fill="#86dc88" stroke="#444" stroke-width="0.9"/>
<text x="392.5" y="982.5" font-size="26.8">Plant surface</text>
<rect x="357.5" y="999.1" width="27.5" height="19.5" fill="#fea583" stroke="#444" stroke-width="0.9"/>
<text x="392.5" y="1017.7" font-size="26.8">Sediment (non-saline)</text>
<rect x="357.5" y="1034.3" width="27.5" height="19.5" fill="#f2614a" stroke="#444" stroke-width="0.9"/>
<text x="392.5" y="1052.9" font-size="26.8">Sediment (saline)</text>
<rect x="676.5" y="858.3" width="27.5" height="19.5" fill="#dd2b1c" stroke="#444" stroke-width="0.9"/>
<text x="712.5" y="876.9" font-size="26.8">Soil (non-saline)</text>
<rect x="676.5" y="893.5" width="27.5" height="19.5" fill="#e394d4" stroke="#444" stroke-width="0.9"/>
<text x="712.5" y="912.1" font-size="26.8">Sterile water blank</text>
<rect x="676.5" y="928.7" width="27.5" height="19.5" fill="#111111" stroke="#444" stroke-width="0.9"/>
<text x="712.5" y="947.3" font-size="26.8">Surface (non-saline)</text>
<rect x="676.5" y="963.9" width="27.5" height="19.5" fill="#676363" stroke="#444" stroke-width="0.9"/>
<text x="712.5" y="982.5" font-size="26.8">Surface (saline)</text>
<rect x="676.5" y="999.1" width="27.5" height="19.5" fill="#2f2c78" stroke="#444" stroke-width="0.9"/>
<text x="712.5" y="1017.7" font-size="26.8">Water (non-saline)</text>
<rect x="676.5" y="1034.3" width="27.5" height="19.5" fill="#5a6cc0" stroke="#444" stroke-width="0.9"/>
<text x="712.5" y="1052.9" font-size="26.8">Water (saline)</text>
</g>
<g id="pb">
<text x="1004" y="23.8" font-size="31" font-weight="bold" fill="#000">b</text>
<rect x="1109.30" y="118.40" width="17.00" height="133.18" fill="#b1521b"/>
<rect x="1109.30" y="251.58" width="17.00" height="132.53" fill="#fdf1a4"/>
<rect x="1109.30" y="384.11" width="17.00" height="97.62" fill="#7626a9"/>
<rect x="1109.30" y="481.73" width="17.00" height="63.36" fill="#e3c0ef"/>
<rect x="1109.30" y="545.09" width="17.00" height="99.88" fill="#f07c04"/>
<rect x="1109.30" y="644.97" width="17.00" height="52.69" fill="#fec675"/>
<rect x="1109.30" y="697.66" width="17.00" height="9.37" fill="#d7261a"/>
<rect x="1109.30" y="707.04" width="17.00" height="13.90" fill="#ffa7a9"/>
<rect x="1109.30" y="720.94" width="17.00" height="41.38" fill="#2ba420"/>
<rect x="1109.30" y="762.31" width="17.00" height="2.59" fill="#2f7ab5"/>
<rect x="1128.22" y="118.40" width="17.00" height="109.90" fill="#b1521b"/>
<rect x="1128.22" y="228.30" width="17.00" height="164.86" fill="#fdf1a4"/>
<rect x="1128.22" y="393.16" width="17.00" height="85.34" fill="#7626a9"/>
<rect x="1128.22" y="478.50" width="17.00" height="31.68" fill="#e3c0ef"/>
<rect x="1128.22" y="510.18" width="17.00" height="182.31" fill="#f07c04"/>
<rect x="1128.22" y="692.49" width="17.00" height="30.39" fill="#fec675"/>
<rect x="1128.22" y="722.88" width="17.00" height="1.94" fill="#d7261a"/>
<rect x="1128.22" y="724.82" width="17.00" height="5.82" fill="#ffa7a9"/>
<rect x="1128.22" y="730.64" width="17.00" height="32.97" fill="#2ba420"/>
<rect x="1147.14" y="118.40" width="17.00" height="103.44" fill="#b1521b"/>
<rect x="1147.14" y="221.84" width="17.00" height="476.47" fill="#f07c04"/>
<rect x="1147.14" y="698.31" width="17.00" height="58.51" fill="#fec675"/>
<rect x="1147.14" y="756.82" width="17.00" height="4.20" fill="#2ba420"/>
<rect x="1166.05" y="118.40" width="17.00" height="157.10" fill="#b1521b"/>
<rect x="1166.05" y="275.50" width="17.00" height="45.25" fill="#7626a9"/>
<rect x="1166.05" y="320.75" width="17.00" height="101.50" fill="#e3c0ef"/>
<rect x="1166.05" y="422.25" width="17.00" height="78.23" fill="#f07c04"/>
<rect x="1166.05" y="500.48" width="17.00" height="32.33" fill="#fec675"/>
<rect x="1166.05" y="532.81" width="17.00" height="15.52" fill="#d7261a"/>
<rect x="1166.05" y="548.32" width="17.00" height="165.50" fill="#ffa7a9"/>
<rect x="1166.05" y="713.83" width="17.00" height="3.88" fill="#2ba420"/>
<rect x="1166.05" y="717.71" width="17.00" height="26.51" fill="#d5ee8f"/>
<rect x="1166.05" y="744.21" width="17.00" height="14.22" fill="#bbd6e8"/>
<rect x="1184.97" y="118.40" width="17.00" height="177.14" fill="#b1521b"/>
<rect x="1184.97" y="295.54" width="17.00" height="8.40" fill="#fdf1a4"/>
<rect x="1184.97" y="303.95" width="17.00" height="73.05" fill="#7626a9"/>
<rect x="1184.97" y="377.00" width="17.00" height="173.91" fill="#e3c0ef"/>
<rect x="1184.97" y="550.91" width="17.00" height="43.96" fill="#f07c04"/>
<rect x="1184.97" y="594.87" width="17.00" height="38.79" fill="#fec675"/>
<rect x="1184.97" y="633.66" width="17.00" height="13.58" fill="#2ba420"/>
<rect x="1184.97" y="647.24" width="17.00" height="116.37" fill="#d5ee8f"/>
<rect x="1203.89" y="118.40" width="17.00" height="129.95" fill="#b1521b"/>
<rect x="1203.89" y="248.35" width="17.00" height="162.27" fill="#7626a9"/>
<rect x="1203.89" y="410.62" width="17.00" height="8.40" fill="#e3c0ef"/>
<rect x="1203.89" y="419.02" width="17.00" height="221.75" fill="#f07c04"/>
<rect x="1203.89" y="640.77" width="17.00" height="89.22" fill="#fec675"/>
<rect x="1203.89" y="729.99" width="17.00" height="18.75" fill="#2ba420"/>
<rect x="1222.81" y="118.40" width="17.00" height="319.37" fill="#b1521b"/>
<rect x="1222.81" y="437.77" width="17.00" height="8.40" fill="#fdf1a4"/>
<rect x="1222.81" y="446.18" width="17.00" height="110.55" fill="#7626a9"/>
<rect x="1222.81" y="556.73" width="17.00" height="3.88" fill="#e3c0ef"/>
<rect x="1222.81" y="560.61" width="17.00" height="122.84" fill="#f07c04"/>
<rect x="1222.81" y="683.44" width="17.00" height="53.66" fill="#fec675"/>
<rect x="1222.81" y="737.10" width="17.00" height="25.86" fill="#2ba420"/>
<rect x="1241.73" y="118.40" width="17.00" height="136.41" fill="#b1521b"/>
<rect x="1241.73" y="254.81" width="17.00" height="82.75" fill="#fdf1a4"/>
<rect x="1241.73" y="337.56" width="17.00" height="56.89" fill="#7626a9"/>
<rect x="1241.73" y="394.46" width="17.00" height="62.71" fill="#e3c0ef"/>
<rect x="1241.73" y="457.17" width="17.00" height="84.69" fill="#f07c04"/>
<rect x="1241.73" y="541.86" width="17.00" height="123.48" fill="#fec675"/>
<rect x="1241.73" y="665.34" width="17.00" height="42.02" fill="#d7261a"/>
<rect x="1241.73" y="707.36" width="17.00" height="17.46" fill="#ffa7a9"/>
<rect x="1241.73" y="724.82" width="17.00" height="38.14" fill="#2ba420"/>
<rect x="1241.73" y="762.96" width="17.00" height="1.94" fill="#2f7ab5"/>
<rect x="1260.64" y="118.40" width="17.00" height="223.69" fill="#b1521b"/>
<rect x="1260.64" y="342.09" width="17.00" height="5.17" fill="#fdf1a4"/>
<rect x="1260.64" y="347.26" width="17.00" height="81.46" fill="#7626a9"/>
<rect x="1260.64" y="428.72" width="17.00" height="19.39" fill="#e3c0ef"/>
<rect x="1260.64" y="448.11" width="17.00" height="210.11" fill="#f07c04"/>
<rect x="1260.64" y="658.23" width="17.00" height="45.90" fill="#fec675"/>
<rect x="1260.64" y="704.13" width="17.00" height="2.59" fill="#d7261a"/>
<rect x="1260.64" y="706.71" width="17.00" height="2.59" fill="#ffa7a9"/>
<rect x="1260.64" y="709.30" width="17.00" height="42.02" fill="#2ba420"/>
<rect x="1260.64" y="751.32" width="17.00" height="1.29" fill="#d5ee8f"/>
<rect x="1260.64" y="752.62" width="17.00" height="1.94" fill="#bbd6e8"/>
<rect x="1279.56" y="118.40" width="17.00" height="294.80" fill="#b1521b"/>
<rect x="1279.56" y="413.20" width="17.00" height="61.42" fill="#fdf1a4"/>
<rect x="1279.56" y="474.62" width="17.00" height="53.01" fill="#7626a9"/>
<rect x="1279.56" y="527.63" width="17.00" height="76.29" fill="#e3c0ef"/>
<rect x="1279.56" y="603.92" width="17.00" height="43.96" fill="#f07c04"/>
<rect x="1279.56" y="647.88" width="17.00" height="7.43" fill="#fec675"/>
<rect x="1279.56" y="655.32" width="17.00" height="69.50" fill="#d7261a"/>
<rect x="1279.56" y="724.82" width="17.00" height="2.59" fill="#ffa7a9"/>
<rect x="1279.56" y="727.40" width="17.00" height="35.56" fill="#2ba420"/>
<rect x="1279.56" y="762.96" width="17.00" height="1.94" fill="#2f7ab5"/>
<rect x="1298.48" y="118.40" width="17.00" height="332.30" fill="#b1521b"/>
<rect x="1298.48" y="450.70" width="17.00" height="30.39" fill="#fdf1a4"/>
<rect x="1298.48" y="481.09" width="17.00" height="87.92" fill="#7626a9"/>
<rect x="1298.48" y="569.01" width="17.00" height="2.59" fill="#e3c0ef"/>
<rect x="1298.48" y="571.60" width="17.00" height="126.07" fill="#f07c04"/>
<rect x="1298.48" y="697.66" width="17.00" height="38.14" fill="#fec675"/>
<rect x="1298.48" y="735.81" width="17.00" height="27.48" fill="#2ba420"/>
<rect x="1317.40" y="118.40" width="17.00" height="261.19" fill="#b1521b"/>
<rect x="1317.40" y="379.59" width="17.00" height="28.45" fill="#fdf1a4"/>
<rect x="1317.40" y="408.03" width="17.00" height="109.90" fill="#7626a9"/>
<rect x="1317.40" y="517.94" width="17.00" height="20.69" fill="#e3c0ef"/>
<rect x="1317.40" y="538.62" width="17.00" height="104.09" fill="#f07c04"/>
<rect x="1317.40" y="642.71" width="17.00" height="58.18" fill="#fec675"/>
<rect x="1317.40" y="700.90" width="17.00" height="4.20" fill="#d7261a"/>
<rect x="1317.40" y="705.10" width="17.00" height="2.91" fill="#ffa7a9"/>
<rect x="1317.40" y="708.01" width="17.00" height="36.20" fill="#2ba420"/>
<rect x="1317.40" y="744.21" width="17.00" height="1.29" fill="#d5ee8f"/>
<rect x="1317.40" y="745.50" width="17.00" height="1.29" fill="#bbd6e8"/>
<rect x="1336.32" y="118.40" width="17.00" height="243.08" fill="#b1521b"/>
<rect x="1336.32" y="361.48" width="17.00" height="5.82" fill="#fdf1a4"/>
<rect x="1336.32" y="367.30" width="17.00" height="99.56" fill="#7626a9"/>
<rect x="1336.32" y="466.86" width="17.00" height="6.46" fill="#e3c0ef"/>
<rect x="1336.32" y="473.33" width="17.00" height="197.83" fill="#f07c04"/>
<rect x="1336.32" y="671.16" width="17.00" height="63.36" fill="#fec675"/>
<rect x="1336.32" y="734.51" width="17.00" height="27.80" fill="#2ba420"/>
<rect x="1355.23" y="118.40" width="17.00" height="301.92" fill="#b1521b"/>
<rect x="1355.23" y="420.32" width="17.00" height="6.47" fill="#fdf1a4"/>
<rect x="1355.23" y="426.78" width="17.00" height="90.51" fill="#7626a9"/>
<rect x="1355.23" y="517.29" width="17.00" height="139.00" fill="#f07c04"/>
<rect x="1355.23" y="656.29" width="17.00" height="77.58" fill="#fec675"/>
<rect x="1355.23" y="733.87" width="17.00" height="28.45" fill="#2ba420"/>
<rect x="1374.15" y="118.40" width="17.00" height="278.64" fill="#b1521b"/>
<rect x="1374.15" y="397.04" width="17.00" height="78.23" fill="#7626a9"/>
<rect x="1374.15" y="475.27" width="17.00" height="1.94" fill="#e3c0ef"/>
<rect x="1374.15" y="477.21" width="17.00" height="209.47" fill="#f07c04"/>
<rect x="1374.15" y="686.67" width="17.00" height="54.31" fill="#fec675"/>
<rect x="1374.15" y="740.98" width="17.00" height="19.39" fill="#2ba420"/>
<rect x="1393.07" y="118.40" width="17.00" height="318.40" fill="#b1521b"/>
<rect x="1393.07" y="436.80" width="17.00" height="115.40" fill="#fdf1a4"/>
<rect x="1393.07" y="552.20" width="17.00" height="88.57" fill="#7626a9"/>
<rect x="1393.07" y="640.77" width="17.00" height="4.20" fill="#e3c0ef"/>
<rect x="1393.07" y="644.97" width="17.00" height="46.87" fill="#f07c04"/>
<rect x="1393.07" y="691.85" width="17.00" height="30.39" fill="#fec675"/>
<rect x="1393.07" y="722.23" width="17.00" height="4.53" fill="#ffa7a9"/>
<rect x="1393.07" y="726.76" width="17.00" height="36.85" fill="#2ba420"/>
<rect x="1411.99" y="118.40" width="17.00" height="210.11" fill="#b1521b"/>
<rect x="1411.99" y="328.51" width="17.00" height="146.43" fill="#fdf1a4"/>
<rect x="1411.99" y="474.94" width="17.00" height="67.56" fill="#7626a9"/>
<rect x="1411.99" y="542.50" width="17.00" height="58.18" fill="#e3c0ef"/>
<rect x="1411.99" y="600.69" width="17.00" height="7.11" fill="#f07c04"/>
<rect x="1411.99" y="607.80" width="17.00" height="38.14" fill="#fec675"/>
<rect x="1411.99" y="645.94" width="17.00" height="81.14" fill="#d7261a"/>
<rect x="1411.99" y="727.08" width="17.00" height="10.02" fill="#ffa7a9"/>
<rect x="1411.99" y="737.10" width="17.00" height="24.57" fill="#2ba420"/>
<rect x="1411.99" y="761.67" width="17.00" height="3.23" fill="#2f7ab5"/>
<rect x="1430.91" y="118.40" width="17.00" height="228.21" fill="#b1521b"/>
<rect x="1430.91" y="346.61" width="17.00" height="78.87" fill="#fdf1a4"/>
<rect x="1430.91" y="425.49" width="17.00" height="119.60" fill="#7626a9"/>
<rect x="1430.91" y="545.09" width="17.00" height="12.93" fill="#e3c0ef"/>
<rect x="1430.91" y="558.02" width="17.00" height="132.53" fill="#f07c04"/>
<rect x="1430.91" y="690.55" width="17.00" height="20.69" fill="#fec675"/>
<rect x="1430.91" y="711.24" width="17.00" height="0.97" fill="#d7261a"/>
<rect x="1430.91" y="712.21" width="17.00" height="3.56" fill="#ffa7a9"/>
<rect x="1430.91" y="715.77" width="17.00" height="45.25" fill="#2ba420"/>
<rect x="1449.82" y="118.40" width="17.00" height="182.31" fill="#b1521b"/>
<rect x="1449.82" y="300.71" width="17.00" height="148.05" fill="#fdf1a4"/>
<rect x="1449.82" y="448.76" width="17.00" height="91.16" fill="#7626a9"/>
<rect x="1449.82" y="539.92" width="17.00" height="52.37" fill="#e3c0ef"/>
<rect x="1449.82" y="592.28" width="17.00" height="75.64" fill="#f07c04"/>
<rect x="1449.82" y="667.92" width="17.00" height="18.10" fill="#fec675"/>
<rect x="1449.82" y="686.03" width="17.00" height="14.87" fill="#d7261a"/>
<rect x="1449.82" y="700.90" width="17.00" height="13.58" fill="#ffa7a9"/>
<rect x="1449.82" y="714.47" width="17.00" height="47.84" fill="#2ba420"/>
<rect x="1449.82" y="762.31" width="17.00" height="2.59" fill="#2f7ab5"/>
<rect x="1468.74" y="118.40" width="17.00" height="285.11" fill="#b1521b"/>
<rect x="1468.74" y="403.51" width="17.00" height="7.11" fill="#fdf1a4"/>
<rect x="1468.74" y="410.62" width="17.00" height="70.47" fill="#7626a9"/>
<rect x="1468.74" y="481.09" width="17.00" height="1.94" fill="#e3c0ef"/>
<rect x="1468.74" y="483.03" width="17.00" height="162.92" fill="#f07c04"/>
<rect x="1468.74" y="645.94" width="17.00" height="78.23" fill="#fec675"/>
<rect x="1468.74" y="724.17" width="17.00" height="35.88" fill="#2ba420"/>
<rect x="1487.66" y="118.40" width="17.00" height="159.69" fill="#b1521b"/>
<rect x="1487.66" y="278.09" width="17.00" height="233.39" fill="#fdf1a4"/>
<rect x="1487.66" y="511.47" width="17.00" height="117.66" fill="#7626a9"/>
<rect x="1487.66" y="629.13" width="17.00" height="23.27" fill="#e3c0ef"/>
<rect x="1487.66" y="652.41" width="17.00" height="33.62" fill="#f07c04"/>
<rect x="1487.66" y="686.03" width="17.00" height="23.27" fill="#fec675"/>
<rect x="1487.66" y="709.30" width="17.00" height="1.94" fill="#d7261a"/>
<rect x="1487.66" y="711.24" width="17.00" height="11.64" fill="#ffa7a9"/>
<rect x="1487.66" y="722.88" width="17.00" height="36.20" fill="#2ba420"/>
<rect x="1487.66" y="759.08" width="17.00" height="2.91" fill="#d5ee8f"/>
<rect x="1487.66" y="761.99" width="17.00" height="2.91" fill="#2f7ab5"/>
<rect x="1506.58" y="118.40" width="17.00" height="195.24" fill="#b1521b"/>
<rect x="1506.58" y="313.64" width="17.00" height="240.50" fill="#fdf1a4"/>
<rect x="1506.58" y="554.14" width="17.00" height="95.68" fill="#7626a9"/>
<rect x="1506.58" y="649.82" width="17.00" height="34.26" fill="#e3c0ef"/>
<rect x="1506.58" y="684.09" width="17.00" height="27.80" fill="#f07c04"/>
<rect x="1506.58" y="711.89" width="17.00" height="22.63" fill="#fec675"/>
<rect x="1506.58" y="734.51" width="17.00" height="0.97" fill="#d7261a"/>
<rect x="1506.58" y="735.48" width="17.00" height="2.91" fill="#ffa7a9"/>
<rect x="1506.58" y="738.39" width="17.00" height="25.21" fill="#2ba420"/>
<rect x="1525.50" y="118.40" width="17.00" height="177.14" fill="#b1521b"/>
<rect x="1525.50" y="295.54" width="17.00" height="109.90" fill="#fdf1a4"/>
<rect x="1525.50" y="405.45" width="17.00" height="72.41" fill="#7626a9"/>
<rect x="1525.50" y="477.85" width="17.00" height="54.31" fill="#e3c0ef"/>
<rect x="1525.50" y="532.16" width="17.00" height="83.40" fill="#f07c04"/>
<rect x="1525.50" y="615.56" width="17.00" height="37.50" fill="#fec675"/>
<rect x="1525.50" y="653.06" width="17.00" height="35.56" fill="#d7261a"/>
<rect x="1525.50" y="688.61" width="17.00" height="18.43" fill="#ffa7a9"/>
<rect x="1525.50" y="707.04" width="17.00" height="43.64" fill="#2ba420"/>
<rect x="1525.50" y="750.68" width="17.00" height="1.62" fill="#d5ee8f"/>
<rect x="1525.50" y="752.29" width="17.00" height="2.26" fill="#2f7ab5"/>
<rect x="1525.50" y="754.56" width="17.00" height="3.23" fill="#bbd6e8"/>
<rect x="1544.41" y="118.40" width="17.00" height="303.86" fill="#b1521b"/>
<rect x="1544.41" y="422.25" width="17.00" height="75.64" fill="#fdf1a4"/>
<rect x="1544.41" y="497.90" width="17.00" height="56.25" fill="#7626a9"/>
<rect x="1544.41" y="554.14" width="17.00" height="74.99" fill="#e3c0ef"/>
<rect x="1544.41" y="629.13" width="17.00" height="49.13" fill="#fec675"/>
<rect x="1544.41" y="678.27" width="17.00" height="65.94" fill="#d7261a"/>
<rect x="1544.41" y="744.21" width="17.00" height="5.82" fill="#ffa7a9"/>
<rect x="1544.41" y="750.03" width="17.00" height="12.28" fill="#2ba420"/>
<rect x="1563.33" y="118.40" width="17.00" height="197.18" fill="#b1521b"/>
<rect x="1563.33" y="315.58" width="17.00" height="186.52" fill="#fdf1a4"/>
<rect x="1563.33" y="502.10" width="17.00" height="82.43" fill="#7626a9"/>
<rect x="1563.33" y="584.53" width="17.00" height="50.43" fill="#e3c0ef"/>
<rect x="1563.33" y="634.95" width="17.00" height="2.91" fill="#f07c04"/>
<rect x="1563.33" y="637.86" width="17.00" height="8.73" fill="#fec675"/>
<rect x="1563.33" y="646.59" width="17.00" height="63.36" fill="#d7261a"/>
<rect x="1563.33" y="709.95" width="17.00" height="24.57" fill="#ffa7a9"/>
<rect x="1563.33" y="734.51" width="17.00" height="27.15" fill="#2ba420"/>
<rect x="1563.33" y="761.67" width="17.00" height="3.23" fill="#2f7ab5"/>
<rect x="1582.25" y="118.40" width="17.00" height="247.61" fill="#b1521b"/>
<rect x="1582.25" y="366.01" width="17.00" height="145.46" fill="#fdf1a4"/>
<rect x="1582.25" y="511.47" width="17.00" height="52.37" fill="#7626a9"/>
<rect x="1582.25" y="563.84" width="17.00" height="25.21" fill="#e3c0ef"/>
<rect x="1582.25" y="589.05" width="17.00" height="9.05" fill="#f07c04"/>
<rect x="1582.25" y="598.10" width="17.00" height="73.70" fill="#fec675"/>
<rect x="1582.25" y="671.80" width="17.00" height="60.77" fill="#d7261a"/>
<rect x="1582.25" y="732.57" width="17.00" height="10.34" fill="#ffa7a9"/>
<rect x="1582.25" y="742.92" width="17.00" height="20.04" fill="#2ba420"/>
<rect x="1601.17" y="118.40" width="17.00" height="181.67" fill="#b1521b"/>
<rect x="1601.17" y="300.07" width="17.00" height="238.56" fill="#fdf1a4"/>
<rect x="1601.17" y="538.62" width="17.00" height="87.92" fill="#7626a9"/>
<rect x="1601.17" y="626.55" width="17.00" height="41.38" fill="#e3c0ef"/>
<rect x="1601.17" y="667.92" width="17.00" height="29.09" fill="#f07c04"/>
<rect x="1601.17" y="697.02" width="17.00" height="25.21" fill="#fec675"/>
<rect x="1601.17" y="722.23" width="17.00" height="0.97" fill="#d7261a"/>
<rect x="1601.17" y="723.20" width="17.00" height="6.14" fill="#ffa7a9"/>
<rect x="1601.17" y="729.34" width="17.00" height="33.62" fill="#2ba420"/>
<rect x="1601.17" y="762.96" width="17.00" height="1.94" fill="#2f7ab5"/>
<rect x="1620.09" y="118.40" width="17.00" height="257.95" fill="#b1521b"/>
<rect x="1620.09" y="376.35" width="17.00" height="123.48" fill="#fdf1a4"/>
<rect x="1620.09" y="499.83" width="17.00" height="46.55" fill="#7626a9"/>
<rect x="1620.09" y="546.38" width="17.00" height="87.28" fill="#e3c0ef"/>
<rect x="1620.09" y="633.66" width="17.00" height="0.97" fill="#f07c04"/>
<rect x="1620.09" y="634.63" width="17.00" height="23.60" fill="#fec675"/>
<rect x="1620.09" y="658.23" width="17.00" height="89.86" fill="#d7261a"/>
<rect x="1620.09" y="748.09" width="17.00" height="3.23" fill="#ffa7a9"/>
<rect x="1620.09" y="751.32" width="17.00" height="11.64" fill="#2ba420"/>
<rect x="1639.00" y="118.40" width="17.00" height="197.18" fill="#b1521b"/>
<rect x="1639.00" y="315.58" width="17.00" height="195.24" fill="#fdf1a4"/>
<rect x="1639.00" y="510.83" width="17.00" height="93.10" fill="#7626a9"/>
<rect x="1639.00" y="603.92" width="17.00" height="31.68" fill="#e3c0ef"/>
<rect x="1639.00" y="635.60" width="17.00" height="42.67" fill="#f07c04"/>
<rect x="1639.00" y="678.27" width="17.00" height="29.74" fill="#fec675"/>
<rect x="1639.00" y="708.01" width="17.00" height="5.82" fill="#d7261a"/>
<rect x="1639.00" y="713.83" width="17.00" height="3.23" fill="#ffa7a9"/>
<rect x="1639.00" y="717.06" width="17.00" height="43.96" fill="#2ba420"/>
<rect x="1639.00" y="761.02" width="17.00" height="1.29" fill="#bbd6e8"/>
<rect x="1639.00" y="762.31" width="17.00" height="2.59" fill="#2f7ab5"/>
<rect x="1657.92" y="118.40" width="17.00" height="235.97" fill="#b1521b"/>
<rect x="1657.92" y="354.37" width="17.00" height="131.89" fill="#fdf1a4"/>
<rect x="1657.92" y="486.26" width="17.00" height="57.54" fill="#7626a9"/>
<rect x="1657.92" y="543.80" width="17.00" height="79.52" fill="#e3c0ef"/>
<rect x="1657.92" y="623.32" width="17.00" height="20.69" fill="#f07c04"/>
<rect x="1657.92" y="644.00" width="17.00" height="18.10" fill="#fec675"/>
<rect x="1657.92" y="662.11" width="17.00" height="70.47" fill="#d7261a"/>
<rect x="1657.92" y="732.57" width="17.00" height="4.53" fill="#ffa7a9"/>
<rect x="1657.92" y="737.10" width="17.00" height="26.51" fill="#2ba420"/>
<rect x="1676.84" y="118.40" width="17.00" height="247.61" fill="#b1521b"/>
<rect x="1676.84" y="366.01" width="17.00" height="125.42" fill="#fdf1a4"/>
<rect x="1676.84" y="491.43" width="17.00" height="50.43" fill="#7626a9"/>
<rect x="1676.84" y="541.86" width="17.00" height="82.11" fill="#e3c0ef"/>
<rect x="1676.84" y="623.96" width="17.00" height="7.11" fill="#f07c04"/>
<rect x="1676.84" y="631.07" width="17.00" height="34.91" fill="#fec675"/>
<rect x="1676.84" y="665.99" width="17.00" height="73.05" fill="#d7261a"/>
<rect x="1676.84" y="739.04" width="17.00" height="9.05" fill="#ffa7a9"/>
<rect x="1676.84" y="748.09" width="17.00" height="14.87" fill="#2ba420"/>
<rect x="1695.76" y="118.40" width="17.00" height="237.27" fill="#b1521b"/>
<rect x="1695.76" y="355.67" width="17.00" height="179.08" fill="#fdf1a4"/>
<rect x="1695.76" y="534.75" width="17.00" height="50.10" fill="#7626a9"/>
<rect x="1695.76" y="584.85" width="17.00" height="55.92" fill="#e3c0ef"/>
<rect x="1695.76" y="640.77" width="17.00" height="0.97" fill="#f07c04"/>
<rect x="1695.76" y="641.74" width="17.00" height="33.29" fill="#fec675"/>
<rect x="1695.76" y="675.04" width="17.00" height="64.65" fill="#d7261a"/>
<rect x="1695.76" y="739.69" width="17.00" height="15.52" fill="#ffa7a9"/>
<rect x="1695.76" y="755.20" width="17.00" height="8.40" fill="#2ba420"/>
<rect x="1714.68" y="118.40" width="17.00" height="193.30" fill="#b1521b"/>
<rect x="1714.68" y="311.70" width="17.00" height="126.07" fill="#fdf1a4"/>
<rect x="1714.68" y="437.77" width="17.00" height="67.24" fill="#7626a9"/>
<rect x="1714.68" y="505.01" width="17.00" height="71.76" fill="#e3c0ef"/>
<rect x="1714.68" y="576.77" width="17.00" height="5.17" fill="#f07c04"/>
<rect x="1714.68" y="581.94" width="17.00" height="73.05" fill="#fec675"/>
<rect x="1714.68" y="655.00" width="17.00" height="34.91" fill="#d7261a"/>
<rect x="1714.68" y="689.91" width="17.00" height="40.08" fill="#ffa7a9"/>
<rect x="1714.68" y="729.99" width="17.00" height="33.62" fill="#2ba420"/>
<rect x="1733.59" y="118.40" width="17.00" height="288.66" fill="#b1521b"/>
<rect x="1733.59" y="407.06" width="17.00" height="17.13" fill="#fdf1a4"/>
<rect x="1733.59" y="424.19" width="17.00" height="75.64" fill="#7626a9"/>
<rect x="1733.59" y="499.83" width="17.00" height="21.98" fill="#e3c0ef"/>
<rect x="1733.59" y="521.82" width="17.00" height="58.83" fill="#f07c04"/>
<rect x="1733.59" y="580.65" width="17.00" height="90.51" fill="#fec675"/>
<rect x="1733.59" y="671.16" width="17.00" height="53.01" fill="#d7261a"/>
<rect x="1733.59" y="724.17" width="17.00" height="3.88" fill="#ffa7a9"/>
<rect x="1733.59" y="728.05" width="17.00" height="28.45" fill="#2ba420"/>
<rect x="1733.59" y="756.50" width="17.00" height="3.56" fill="#2f7ab5"/>
<rect x="1733.59" y="760.05" width="17.00" height="2.26" fill="#bbd6e8"/>
<rect x="1752.51" y="118.40" width="17.00" height="129.95" fill="#b1521b"/>
<rect x="1752.51" y="248.35" width="17.00" height="136.73" fill="#fdf1a4"/>
<rect x="1752.51" y="385.08" width="17.00" height="75.96" fill="#7626a9"/>
<rect x="1752.51" y="461.04" width="17.00" height="56.89" fill="#e3c0ef"/>
<rect x="1752.51" y="517.94" width="17.00" height="12.93" fill="#f07c04"/>
<rect x="1752.51" y="530.87" width="17.00" height="111.20" fill="#fec675"/>
<rect x="1752.51" y="642.06" width="17.00" height="63.36" fill="#d7261a"/>
<rect x="1752.51" y="705.42" width="17.00" height="29.74" fill="#ffa7a9"/>
<rect x="1752.51" y="735.16" width="17.00" height="27.80" fill="#2ba420"/>
<rect x="1771.43" y="118.40" width="17.00" height="272.18" fill="#b1521b"/>
<rect x="1771.43" y="390.58" width="17.00" height="205.59" fill="#fdf1a4"/>
<rect x="1771.43" y="596.16" width="17.00" height="42.67" fill="#7626a9"/>
<rect x="1771.43" y="638.83" width="17.00" height="53.01" fill="#e3c0ef"/>
<rect x="1771.43" y="691.85" width="17.00" height="1.94" fill="#f07c04"/>
<rect x="1771.43" y="693.78" width="17.00" height="18.75" fill="#fec675"/>
<rect x="1771.43" y="712.53" width="17.00" height="25.86" fill="#d7261a"/>
<rect x="1771.43" y="738.39" width="17.00" height="9.05" fill="#ffa7a9"/>
<rect x="1771.43" y="747.44" width="17.00" height="15.52" fill="#2ba420"/>
<rect x="1771.43" y="762.96" width="17.00" height="1.94" fill="#2f7ab5"/>
<rect x="1790.35" y="118.40" width="17.00" height="229.18" fill="#b1521b"/>
<rect x="1790.35" y="347.58" width="17.00" height="101.82" fill="#fdf1a4"/>
<rect x="1790.35" y="449.41" width="17.00" height="58.19" fill="#7626a9"/>
<rect x="1790.35" y="507.59" width="17.00" height="53.66" fill="#e3c0ef"/>
<rect x="1790.35" y="561.25" width="17.00" height="1.94" fill="#f07c04"/>
<rect x="1790.35" y="563.19" width="17.00" height="81.78" fill="#fec675"/>
<rect x="1790.35" y="644.97" width="17.00" height="52.69" fill="#d7261a"/>
<rect x="1790.35" y="697.66" width="17.00" height="57.86" fill="#ffa7a9"/>
<rect x="1790.35" y="755.53" width="17.00" height="7.76" fill="#2ba420"/>
<rect x="1809.27" y="118.40" width="17.00" height="321.96" fill="#b1521b"/>
<rect x="1809.27" y="440.36" width="17.00" height="2.59" fill="#7626a9"/>
<rect x="1809.27" y="442.94" width="17.00" height="111.20" fill="#e3c0ef"/>
<rect x="1809.27" y="554.14" width="17.00" height="1.29" fill="#f07c04"/>
<rect x="1809.27" y="555.43" width="17.00" height="111.20" fill="#d7261a"/>
<rect x="1809.27" y="666.63" width="17.00" height="40.08" fill="#ffa7a9"/>
<rect x="1809.27" y="706.71" width="17.00" height="52.04" fill="#2ba420"/>
<rect x="1809.27" y="758.76" width="17.00" height="1.62" fill="#2f7ab5"/>
<rect x="1809.27" y="760.37" width="17.00" height="4.53" fill="#bbd6e8"/>
<rect x="1828.18" y="118.40" width="17.00" height="159.69" fill="#b1521b"/>
<rect x="1828.18" y="278.09" width="17.00" height="78.23" fill="#fdf1a4"/>
<rect x="1828.18" y="356.31" width="17.00" height="42.67" fill="#7626a9"/>
<rect x="1828.18" y="398.98" width="17.00" height="72.41" fill="#e3c0ef"/>
<rect x="1828.18" y="471.39" width="17.00" height="26.51" fill="#f07c04"/>
<rect x="1828.18" y="497.90" width="17.00" height="130.59" fill="#fec675"/>
<rect x="1828.18" y="628.49" width="17.00" height="42.67" fill="#d7261a"/>
<rect x="1828.18" y="671.16" width="17.00" height="71.76" fill="#ffa7a9"/>
<rect x="1828.18" y="742.92" width="17.00" height="14.87" fill="#2ba420"/>
<rect x="1828.18" y="757.79" width="17.00" height="1.29" fill="#d5ee8f"/>
<rect x="1828.18" y="759.08" width="17.00" height="1.94" fill="#2f7ab5"/>
<rect x="1828.18" y="761.02" width="17.00" height="3.88" fill="#bbd6e8"/>
<rect x="1847.10" y="118.40" width="17.00" height="281.23" fill="#b1521b"/>
<rect x="1847.10" y="399.63" width="17.00" height="42.02" fill="#fdf1a4"/>
<rect x="1847.10" y="441.65" width="17.00" height="66.59" fill="#7626a9"/>
<rect x="1847.10" y="508.24" width="17.00" height="78.87" fill="#e3c0ef"/>
<rect x="1847.10" y="587.11" width="17.00" height="24.89" fill="#f07c04"/>
<rect x="1847.10" y="612.00" width="17.00" height="11.96" fill="#fec675"/>
<rect x="1847.10" y="623.96" width="17.00" height="66.59" fill="#d7261a"/>
<rect x="1847.10" y="690.55" width="17.00" height="42.67" fill="#ffa7a9"/>
<rect x="1847.10" y="733.22" width="17.00" height="22.95" fill="#2ba420"/>
<rect x="1847.10" y="756.17" width="17.00" height="5.50" fill="#2f7ab5"/>
<rect x="1866.02" y="118.40" width="17.00" height="177.14" fill="#b1521b"/>
<rect x="1866.02" y="295.54" width="17.00" height="14.87" fill="#fdf1a4"/>
<rect x="1866.02" y="310.41" width="17.00" height="13.58" fill="#7626a9"/>
<rect x="1866.02" y="323.99" width="17.00" height="82.11" fill="#e3c0ef"/>
<rect x="1866.02" y="406.09" width="17.00" height="51.72" fill="#fec675"/>
<rect x="1866.02" y="457.81" width="17.00" height="182.96" fill="#d7261a"/>
<rect x="1866.02" y="640.77" width="17.00" height="106.03" fill="#ffa7a9"/>
<rect x="1866.02" y="746.80" width="17.00" height="13.25" fill="#2ba420"/>
<rect x="1866.02" y="760.05" width="17.00" height="1.62" fill="#2f7ab5"/>
<rect x="1866.02" y="761.67" width="17.00" height="3.23" fill="#bbd6e8"/>
<rect x="1884.94" y="118.40" width="17.00" height="180.37" fill="#b1521b"/>
<rect x="1884.94" y="298.77" width="17.00" height="105.38" fill="#fdf1a4"/>
<rect x="1884.94" y="404.15" width="17.00" height="71.76" fill="#7626a9"/>
<rect x="1884.94" y="475.91" width="17.00" height="62.71" fill="#e3c0ef"/>
<rect x="1884.94" y="538.62" width="17.00" height="5.17" fill="#f07c04"/>
<rect x="1884.94" y="543.80" width="17.00" height="44.61" fill="#fec675"/>
<rect x="1884.94" y="588.41" width="17.00" height="84.04" fill="#d7261a"/>
<rect x="1884.94" y="672.45" width="17.00" height="46.55" fill="#ffa7a9"/>
<rect x="1884.94" y="719.00" width="17.00" height="27.80" fill="#2ba420"/>
<rect x="1884.94" y="746.80" width="17.00" height="18.10" fill="#2f7ab5"/>
<rect x="1903.86" y="118.40" width="17.00" height="156.45" fill="#b1521b"/>
<rect x="1903.86" y="274.85" width="17.00" height="1.94" fill="#fdf1a4"/>
<rect x="1903.86" y="276.79" width="17.00" height="5.82" fill="#7626a9"/>
<rect x="1903.86" y="282.61" width="17.00" height="93.10" fill="#e3c0ef"/>
<rect x="1903.86" y="375.71" width="17.00" height="1.29" fill="#f07c04"/>
<rect x="1903.86" y="377.00" width="17.00" height="10.99" fill="#fec675"/>
<rect x="1903.86" y="387.99" width="17.00" height="265.06" fill="#d7261a"/>
<rect x="1903.86" y="653.06" width="17.00" height="82.43" fill="#ffa7a9"/>
<rect x="1903.86" y="735.48" width="17.00" height="12.61" fill="#2ba420"/>
<rect x="1903.86" y="748.09" width="17.00" height="1.94" fill="#2f7ab5"/>
<rect x="1903.86" y="750.03" width="17.00" height="14.87" fill="#bbd6e8"/>
<rect x="1922.77" y="118.40" width="17.00" height="345.55" fill="#b1521b"/>
<rect x="1922.77" y="463.95" width="17.00" height="16.49" fill="#fdf1a4"/>
<rect x="1922.77" y="480.44" width="17.00" height="67.24" fill="#7626a9"/>
<rect x="1922.77" y="547.68" width="17.00" height="54.31" fill="#e3c0ef"/>
<rect x="1922.77" y="601.98" width="17.00" height="39.76" fill="#f07c04"/>
<rect x="1922.77" y="641.74" width="17.00" height="21.98" fill="#fec675"/>
<rect x="1922.77" y="663.72" width="17.00" height="42.35" fill="#d7261a"/>
<rect x="1922.77" y="706.07" width="17.00" height="24.89" fill="#ffa7a9"/>
<rect x="1922.77" y="730.96" width="17.00" height="29.42" fill="#2ba420"/>
<rect x="1922.77" y="760.37" width="17.00" height="3.23" fill="#2f7ab5"/>
<rect x="1941.69" y="118.40" width="17.00" height="186.19" fill="#b1521b"/>
<rect x="1941.69" y="304.59" width="17.00" height="4.53" fill="#fdf1a4"/>
<rect x="1941.69" y="309.12" width="17.00" height="7.76" fill="#7626a9"/>
<rect x="1941.69" y="316.88" width="17.00" height="106.67" fill="#e3c0ef"/>
<rect x="1941.69" y="423.55" width="17.00" height="1.29" fill="#fec675"/>
<rect x="1941.69" y="424.84" width="17.00" height="108.61" fill="#d7261a"/>
<rect x="1941.69" y="533.45" width="17.00" height="162.59" fill="#ffa7a9"/>
<rect x="1941.69" y="696.05" width="17.00" height="14.87" fill="#2ba420"/>
<rect x="1941.69" y="710.92" width="17.00" height="18.43" fill="#d5ee8f"/>
<rect x="1941.69" y="729.34" width="17.00" height="5.82" fill="#2f7ab5"/>
<rect x="1941.69" y="735.16" width="17.00" height="20.69" fill="#bbd6e8"/>
<rect x="1960.61" y="118.40" width="17.00" height="426.37" fill="#b1521b"/>
<rect x="1960.61" y="544.77" width="17.00" height="7.43" fill="#fdf1a4"/>
<rect x="1960.61" y="552.20" width="17.00" height="6.79" fill="#7626a9"/>
<rect x="1960.61" y="558.99" width="17.00" height="51.40" fill="#e3c0ef"/>
<rect x="1960.61" y="610.39" width="17.00" height="1.94" fill="#f07c04"/>
<rect x="1960.61" y="612.33" width="17.00" height="2.59" fill="#fec675"/>
<rect x="1960.61" y="614.91" width="17.00" height="17.78" fill="#d7261a"/>
<rect x="1960.61" y="632.69" width="17.00" height="104.41" fill="#ffa7a9"/>
<rect x="1960.61" y="737.10" width="17.00" height="3.88" fill="#2ba420"/>
<rect x="1960.61" y="740.98" width="17.00" height="1.94" fill="#d5ee8f"/>
<rect x="1960.61" y="742.92" width="17.00" height="6.47" fill="#2f7ab5"/>
<rect x="1960.61" y="749.38" width="17.00" height="15.52" fill="#bbd6e8"/>
<rect x="1979.53" y="118.40" width="17.00" height="210.11" fill="#b1521b"/>
<rect x="1979.53" y="328.51" width="17.00" height="96.33" fill="#e3c0ef"/>
<rect x="1979.53" y="424.84" width="17.00" height="142.23" fill="#fec675"/>
<rect x="1979.53" y="567.07" width="17.00" height="175.85" fill="#ffa7a9"/>
<rect x="1979.53" y="742.92" width="17.00" height="21.98" fill="#2f7ab5"/>
<rect x="1998.45" y="118.40" width="17.00" height="237.59" fill="#b1521b"/>
<rect x="1998.45" y="355.99" width="17.00" height="57.22" fill="#fdf1a4"/>
<rect x="1998.45" y="413.20" width="17.00" height="34.91" fill="#7626a9"/>
<rect x="1998.45" y="448.11" width="17.00" height="95.04" fill="#e3c0ef"/>
<rect x="1998.45" y="543.15" width="17.00" height="1.62" fill="#f07c04"/>
<rect x="1998.45" y="544.77" width="17.00" height="12.28" fill="#fec675"/>
<rect x="1998.45" y="557.05" width="17.00" height="96.01" fill="#d7261a"/>
<rect x="1998.45" y="653.06" width="17.00" height="73.05" fill="#ffa7a9"/>
<rect x="1998.45" y="726.11" width="17.00" height="32.32" fill="#2ba420"/>
<rect x="1998.45" y="758.43" width="17.00" height="1.29" fill="#2f7ab5"/>
<rect x="1998.45" y="759.73" width="17.00" height="5.17" fill="#bbd6e8"/>
<rect x="2017.36" y="118.40" width="17.00" height="340.71" fill="#b1521b"/>
<rect x="2017.36" y="459.11" width="17.00" height="1.94" fill="#7626a9"/>
<rect x="2017.36" y="461.04" width="17.00" height="111.84" fill="#e3c0ef"/>
<rect x="2017.36" y="572.89" width="17.00" height="118.96" fill="#fec675"/>
<rect x="2017.36" y="691.85" width="17.00" height="1.29" fill="#d7261a"/>
<rect x="2017.36" y="693.14" width="17.00" height="32.32" fill="#ffa7a9"/>
<rect x="2017.36" y="725.46" width="17.00" height="1.94" fill="#2ba420"/>
<rect x="2017.36" y="727.40" width="17.00" height="37.50" fill="#2f7ab5"/>
<rect x="2036.28" y="118.40" width="17.00" height="100.85" fill="#b1521b"/>
<rect x="2036.28" y="219.25" width="17.00" height="7.11" fill="#7626a9"/>
<rect x="2036.28" y="226.37" width="17.00" height="100.85" fill="#e3c0ef"/>
<rect x="2036.28" y="327.22" width="17.00" height="277.35" fill="#fec675"/>
<rect x="2036.28" y="604.57" width="17.00" height="158.72" fill="#ffa7a9"/>
<rect x="2036.28" y="763.28" width="17.00" height="1.62" fill="#2ba420"/>
<rect x="2055.20" y="118.40" width="17.00" height="220.46" fill="#b1521b"/>
<rect x="2055.20" y="338.86" width="17.00" height="3.88" fill="#7626a9"/>
<rect x="2055.20" y="342.74" width="17.00" height="121.22" fill="#e3c0ef"/>
<rect x="2055.20" y="463.95" width="17.00" height="192.98" fill="#fec675"/>
<rect x="2055.20" y="656.93" width="17.00" height="2.26" fill="#d7261a"/>
<rect x="2055.20" y="659.20" width="17.00" height="89.54" fill="#ffa7a9"/>
<rect x="2055.20" y="748.74" width="17.00" height="4.20" fill="#2ba420"/>
<rect x="2055.20" y="752.94" width="17.00" height="11.96" fill="#2f7ab5"/>
<rect x="2074.12" y="118.40" width="17.00" height="223.37" fill="#b1521b"/>
<rect x="2074.12" y="341.77" width="17.00" height="138.67" fill="#fdf1a4"/>
<rect x="2074.12" y="480.44" width="17.00" height="31.36" fill="#7626a9"/>
<rect x="2074.12" y="511.80" width="17.00" height="88.89" fill="#e3c0ef"/>
<rect x="2074.12" y="600.69" width="17.00" height="3.23" fill="#f07c04"/>
<rect x="2074.12" y="603.92" width="17.00" height="21.98" fill="#fec675"/>
<rect x="2074.12" y="625.90" width="17.00" height="89.22" fill="#d7261a"/>
<rect x="2074.12" y="715.12" width="17.00" height="34.91" fill="#ffa7a9"/>
<rect x="2074.12" y="750.03" width="17.00" height="11.64" fill="#2ba420"/>
<rect x="2074.12" y="761.67" width="17.00" height="3.23" fill="#2f7ab5"/>
<line x1="1108.4" y1="118.4" x2="1108.4" y2="765.5" stroke="#222" stroke-width="1.3"/>
<line x1="1107.8" y1="764.9" x2="2093.4" y2="764.9" stroke="#222" stroke-width="1.3"/>
<line x1="1096.3" y1="764.9" x2="1108.4" y2="764.9" stroke="#444" stroke-width="1.3"/>
<text x="1087.5" y="772.3" font-size="26" text-anchor="end">0%</text>
<line x1="1096.3" y1="700.2" x2="1108.4" y2="700.2" stroke="#444" stroke-width="1.3"/>
<text x="1087.5" y="707.6" font-size="26" text-anchor="end">10%</text>
<line x1="1096.3" y1="635.6" x2="1108.4" y2="635.6" stroke="#444" stroke-width="1.3"/>
<text x="1087.5" y="643.0" font-size="26" text-anchor="end">20%</text>
<line x1="1096.3" y1="571.0" x2="1108.4" y2="571.0" stroke="#444" stroke-width="1.3"/>
<text x="1087.5" y="578.4" font-size="26" text-anchor="end">30%</text>
<line x1="1096.3" y1="506.3" x2="1108.4" y2="506.3" stroke="#444" stroke-width="1.3"/>
<text x="1087.5" y="513.7" font-size="26" text-anchor="end">40%</text>
<line x1="1096.3" y1="441.6" x2="1108.4" y2="441.6" stroke="#444" stroke-width="1.3"/>
<text x="1087.5" y="449.0" font-size="26" text-anchor="end">50%</text>
<line x1="1096.3" y1="377.0" x2="1108.4" y2="377.0" stroke="#444" stroke-width="1.3"/>
<text x="1087.5" y="384.4" font-size="26" text-anchor="end">60%</text>
<line x1="1096.3" y1="312.3" x2="1108.4" y2="312.3" stroke="#444" stroke-width="1.3"/>
<text x="1087.5" y="319.7" font-size="26" text-anchor="end">70%</text>
<line x1="1096.3" y1="247.7" x2="1108.4" y2="247.7" stroke="#444" stroke-width="1.3"/>
<text x="1087.5" y="255.1" font-size="26" text-anchor="end">80%</text>
<line x1="1096.3" y1="183.0" x2="1108.4" y2="183.0" stroke="#444" stroke-width="1.3"/>
<text x="1087.5" y="190.4" font-size="26" text-anchor="end">90%</text>
<line x1="1096.3" y1="118.4" x2="1108.4" y2="118.4" stroke="#444" stroke-width="1.3"/>
<text x="1087.5" y="125.8" font-size="26" text-anchor="end">100%</text>
<line x1="1108.4" y1="764.9" x2="1108.4" y2="770.9" stroke="#444" stroke-width="1.3"/>
<line x1="2093.0" y1="764.9" x2="2093.0" y2="770.9" stroke="#444" stroke-width="1.3"/>
<line x1="1117.8" y1="764.9" x2="1117.8" y2="770.9" stroke="#555" stroke-width="1.3"/>
<text transform="translate(1123.7 776.3) rotate(-90)" font-size="21" text-anchor="end" textLength="38.8" lengthAdjust="spacingAndGlyphs">89.0</text>
<line x1="1136.7" y1="764.9" x2="1136.7" y2="770.9" stroke="#555" stroke-width="1.3"/>
<text transform="translate(1142.6 776.3) rotate(-90)" font-size="21" text-anchor="end" textLength="38.8" lengthAdjust="spacingAndGlyphs">86.5</text>
<line x1="1155.6" y1="764.9" x2="1155.6" y2="770.9" stroke="#555" stroke-width="1.3"/>
<text transform="translate(1161.5 776.3) rotate(-90)" font-size="21" text-anchor="end" textLength="38.8" lengthAdjust="spacingAndGlyphs">85.0</text>
<line x1="1174.6" y1="764.9" x2="1174.6" y2="770.9" stroke="#555" stroke-width="1.3"/>
<text transform="translate(1180.5 776.3) rotate(-90)" font-size="21" text-anchor="end" textLength="38.8" lengthAdjust="spacingAndGlyphs">75.0</text>
<line x1="1193.5" y1="764.9" x2="1193.5" y2="770.9" stroke="#555" stroke-width="1.3"/>
<text transform="translate(1199.4 776.3) rotate(-90)" font-size="21" text-anchor="end" textLength="38.8" lengthAdjust="spacingAndGlyphs">71.8</text>
<line x1="1212.4" y1="764.9" x2="1212.4" y2="770.9" stroke="#555" stroke-width="1.3"/>
<text transform="translate(1218.3 776.3) rotate(-90)" font-size="21" text-anchor="end" textLength="38.8" lengthAdjust="spacingAndGlyphs">69.0</text>
<line x1="1231.3" y1="764.9" x2="1231.3" y2="770.9" stroke="#555" stroke-width="1.3"/>
<text transform="translate(1237.2 776.3) rotate(-90)" font-size="21" text-anchor="end" textLength="38.8" lengthAdjust="spacingAndGlyphs">69.0</text>
<line x1="1250.2" y1="764.9" x2="1250.2" y2="770.9" stroke="#555" stroke-width="1.3"/>
<text transform="translate(1256.1 776.3) rotate(-90)" font-size="21" text-anchor="end" textLength="38.8" lengthAdjust="spacingAndGlyphs">69.0</text>
<line x1="1269.1" y1="764.9" x2="1269.1" y2="770.9" stroke="#555" stroke-width="1.3"/>
<text transform="translate(1275.0 776.3) rotate(-90)" font-size="21" text-anchor="end" textLength="38.8" lengthAdjust="spacingAndGlyphs">68.4</text>
<line x1="1288.1" y1="764.9" x2="1288.1" y2="770.9" stroke="#555" stroke-width="1.3"/>
<text transform="translate(1294.0 776.3) rotate(-90)" font-size="21" text-anchor="end" textLength="38.8" lengthAdjust="spacingAndGlyphs">68.3</text>
<line x1="1307.0" y1="764.9" x2="1307.0" y2="770.9" stroke="#555" stroke-width="1.3"/>
<text transform="translate(1312.9 776.3) rotate(-90)" font-size="21" text-anchor="end" textLength="38.8" lengthAdjust="spacingAndGlyphs">68.0</text>
<line x1="1325.9" y1="764.9" x2="1325.9" y2="770.9" stroke="#555" stroke-width="1.3"/>
<text transform="translate(1331.8 776.3) rotate(-90)" font-size="21" text-anchor="end" textLength="38.8" lengthAdjust="spacingAndGlyphs">67.1</text>
<line x1="1344.8" y1="764.9" x2="1344.8" y2="770.9" stroke="#555" stroke-width="1.3"/>
<text transform="translate(1350.7 776.3) rotate(-90)" font-size="21" text-anchor="end" textLength="38.8" lengthAdjust="spacingAndGlyphs">66.1</text>
<line x1="1363.7" y1="764.9" x2="1363.7" y2="770.9" stroke="#555" stroke-width="1.3"/>
<text transform="translate(1369.6 776.3) rotate(-90)" font-size="21" text-anchor="end" textLength="38.8" lengthAdjust="spacingAndGlyphs">65.6</text>
<line x1="1382.7" y1="764.9" x2="1382.7" y2="770.9" stroke="#555" stroke-width="1.3"/>
<text transform="translate(1388.6 776.3) rotate(-90)" font-size="21" text-anchor="end" textLength="38.8" lengthAdjust="spacingAndGlyphs">65.6</text>
<line x1="1401.6" y1="764.9" x2="1401.6" y2="770.9" stroke="#555" stroke-width="1.3"/>
<text transform="translate(1407.5 776.3) rotate(-90)" font-size="21" text-anchor="end" textLength="38.8" lengthAdjust="spacingAndGlyphs">63.9</text>
<line x1="1420.5" y1="764.9" x2="1420.5" y2="770.9" stroke="#555" stroke-width="1.3"/>
<text transform="translate(1426.4 776.3) rotate(-90)" font-size="21" text-anchor="end" textLength="38.8" lengthAdjust="spacingAndGlyphs">63.7</text>
<line x1="1439.4" y1="764.9" x2="1439.4" y2="770.9" stroke="#555" stroke-width="1.3"/>
<text transform="translate(1445.3 776.3) rotate(-90)" font-size="21" text-anchor="end" textLength="38.8" lengthAdjust="spacingAndGlyphs">63.1</text>
<line x1="1458.3" y1="764.9" x2="1458.3" y2="770.9" stroke="#555" stroke-width="1.3"/>
<text transform="translate(1464.2 776.3) rotate(-90)" font-size="21" text-anchor="end" textLength="38.8" lengthAdjust="spacingAndGlyphs">63.0</text>
<line x1="1477.2" y1="764.9" x2="1477.2" y2="770.9" stroke="#555" stroke-width="1.3"/>
<text transform="translate(1483.1 776.3) rotate(-90)" font-size="21" text-anchor="end" textLength="38.8" lengthAdjust="spacingAndGlyphs">62.5</text>
<line x1="1496.2" y1="764.9" x2="1496.2" y2="770.9" stroke="#555" stroke-width="1.3"/>
<text transform="translate(1502.1 776.3) rotate(-90)" font-size="21" text-anchor="end" textLength="38.8" lengthAdjust="spacingAndGlyphs">62.0</text>
<line x1="1515.1" y1="764.9" x2="1515.1" y2="770.9" stroke="#555" stroke-width="1.3"/>
<text transform="translate(1521.0 776.3) rotate(-90)" font-size="21" text-anchor="end" textLength="38.8" lengthAdjust="spacingAndGlyphs">61.8</text>
<line x1="1534.0" y1="764.9" x2="1534.0" y2="770.9" stroke="#555" stroke-width="1.3"/>
<text transform="translate(1539.9 776.3) rotate(-90)" font-size="21" text-anchor="end" textLength="38.8" lengthAdjust="spacingAndGlyphs">61.7</text>
<line x1="1552.9" y1="764.9" x2="1552.9" y2="770.9" stroke="#555" stroke-width="1.3"/>
<text transform="translate(1558.8 776.3) rotate(-90)" font-size="21" text-anchor="end" textLength="38.8" lengthAdjust="spacingAndGlyphs">61.5</text>
<line x1="1571.8" y1="764.9" x2="1571.8" y2="770.9" stroke="#555" stroke-width="1.3"/>
<text transform="translate(1577.7 776.3) rotate(-90)" font-size="21" text-anchor="end" textLength="38.8" lengthAdjust="spacingAndGlyphs">61.0</text>
<line x1="1590.8" y1="764.9" x2="1590.8" y2="770.9" stroke="#555" stroke-width="1.3"/>
<text transform="translate(1596.7 776.3) rotate(-90)" font-size="21" text-anchor="end" textLength="38.8" lengthAdjust="spacingAndGlyphs">60.1</text>
<line x1="1609.7" y1="764.9" x2="1609.7" y2="770.9" stroke="#555" stroke-width="1.3"/>
<text transform="translate(1615.6 776.3) rotate(-90)" font-size="21" text-anchor="end" textLength="38.8" lengthAdjust="spacingAndGlyphs">59.4</text>
<line x1="1628.6" y1="764.9" x2="1628.6" y2="770.9" stroke="#555" stroke-width="1.3"/>
<text transform="translate(1634.5 776.3) rotate(-90)" font-size="21" text-anchor="end" textLength="38.8" lengthAdjust="spacingAndGlyphs">58.1</text>
<line x1="1647.5" y1="764.9" x2="1647.5" y2="770.9" stroke="#555" stroke-width="1.3"/>
<text transform="translate(1653.4 776.3) rotate(-90)" font-size="21" text-anchor="end" textLength="38.8" lengthAdjust="spacingAndGlyphs">57.8</text>
<line x1="1666.4" y1="764.9" x2="1666.4" y2="770.9" stroke="#555" stroke-width="1.3"/>
<text transform="translate(1672.3 776.3) rotate(-90)" font-size="21" text-anchor="end" textLength="38.8" lengthAdjust="spacingAndGlyphs">57.5</text>
<line x1="1685.3" y1="764.9" x2="1685.3" y2="770.9" stroke="#555" stroke-width="1.3"/>
<text transform="translate(1691.2 776.3) rotate(-90)" font-size="21" text-anchor="end" textLength="38.8" lengthAdjust="spacingAndGlyphs">57.0</text>
<line x1="1704.3" y1="764.9" x2="1704.3" y2="770.9" stroke="#555" stroke-width="1.3"/>
<text transform="translate(1710.2 776.3) rotate(-90)" font-size="21" text-anchor="end" textLength="38.8" lengthAdjust="spacingAndGlyphs">56.4</text>
<line x1="1723.2" y1="764.9" x2="1723.2" y2="770.9" stroke="#555" stroke-width="1.3"/>
<text transform="translate(1729.1 776.3) rotate(-90)" font-size="21" text-anchor="end" textLength="38.8" lengthAdjust="spacingAndGlyphs">53.0</text>
<line x1="1742.1" y1="764.9" x2="1742.1" y2="770.9" stroke="#555" stroke-width="1.3"/>
<text transform="translate(1748.0 776.3) rotate(-90)" font-size="21" text-anchor="end" textLength="38.8" lengthAdjust="spacingAndGlyphs">53.0</text>
<line x1="1761.0" y1="764.9" x2="1761.0" y2="770.9" stroke="#555" stroke-width="1.3"/>
<text transform="translate(1766.9 776.3) rotate(-90)" font-size="21" text-anchor="end" textLength="38.8" lengthAdjust="spacingAndGlyphs">51.5</text>
<line x1="1779.9" y1="764.9" x2="1779.9" y2="770.9" stroke="#555" stroke-width="1.3"/>
<text transform="translate(1785.8 776.3) rotate(-90)" font-size="21" text-anchor="end" textLength="38.8" lengthAdjust="spacingAndGlyphs">50.4</text>
<line x1="1798.8" y1="764.9" x2="1798.8" y2="770.9" stroke="#555" stroke-width="1.3"/>
<text transform="translate(1804.7 776.3) rotate(-90)" font-size="21" text-anchor="end" textLength="38.8" lengthAdjust="spacingAndGlyphs">47.8</text>
<line x1="1817.8" y1="764.9" x2="1817.8" y2="770.9" stroke="#555" stroke-width="1.3"/>
<text transform="translate(1823.7 776.3) rotate(-90)" font-size="21" text-anchor="end" textLength="38.8" lengthAdjust="spacingAndGlyphs">47.0</text>
<line x1="1836.7" y1="764.9" x2="1836.7" y2="770.9" stroke="#555" stroke-width="1.3"/>
<text transform="translate(1842.6 776.3) rotate(-90)" font-size="21" text-anchor="end" textLength="38.8" lengthAdjust="spacingAndGlyphs">46.0</text>
<line x1="1855.6" y1="764.9" x2="1855.6" y2="770.9" stroke="#555" stroke-width="1.3"/>
<text transform="translate(1861.5 776.3) rotate(-90)" font-size="21" text-anchor="end" textLength="38.8" lengthAdjust="spacingAndGlyphs">44.0</text>
<line x1="1874.5" y1="764.9" x2="1874.5" y2="770.9" stroke="#555" stroke-width="1.3"/>
<text transform="translate(1880.4 776.3) rotate(-90)" font-size="21" text-anchor="end" textLength="38.8" lengthAdjust="spacingAndGlyphs">42.1</text>
<line x1="1893.4" y1="764.9" x2="1893.4" y2="770.9" stroke="#555" stroke-width="1.3"/>
<text transform="translate(1899.3 776.3) rotate(-90)" font-size="21" text-anchor="end" textLength="38.8" lengthAdjust="spacingAndGlyphs">41.0</text>
<line x1="1912.4" y1="764.9" x2="1912.4" y2="770.9" stroke="#555" stroke-width="1.3"/>
<text transform="translate(1918.3 776.3) rotate(-90)" font-size="21" text-anchor="end" textLength="38.8" lengthAdjust="spacingAndGlyphs">40.1</text>
<line x1="1931.3" y1="764.9" x2="1931.3" y2="770.9" stroke="#555" stroke-width="1.3"/>
<text transform="translate(1937.2 776.3) rotate(-90)" font-size="21" text-anchor="end" textLength="38.8" lengthAdjust="spacingAndGlyphs">37.9</text>
<line x1="1950.2" y1="764.9" x2="1950.2" y2="770.9" stroke="#555" stroke-width="1.3"/>
<text transform="translate(1956.1 776.3) rotate(-90)" font-size="21" text-anchor="end" textLength="38.8" lengthAdjust="spacingAndGlyphs">37.8</text>
<line x1="1969.1" y1="764.9" x2="1969.1" y2="770.9" stroke="#555" stroke-width="1.3"/>
<text transform="translate(1975.0 776.3) rotate(-90)" font-size="21" text-anchor="end" textLength="38.8" lengthAdjust="spacingAndGlyphs">35.8</text>
<line x1="1988.0" y1="764.9" x2="1988.0" y2="770.9" stroke="#555" stroke-width="1.3"/>
<text transform="translate(1993.9 776.3) rotate(-90)" font-size="21" text-anchor="end" textLength="38.8" lengthAdjust="spacingAndGlyphs">35.0</text>
<line x1="2006.9" y1="764.9" x2="2006.9" y2="770.9" stroke="#555" stroke-width="1.3"/>
<text transform="translate(2012.8 776.3) rotate(-90)" font-size="21" text-anchor="end" textLength="38.8" lengthAdjust="spacingAndGlyphs">34.5</text>
<line x1="2025.9" y1="764.9" x2="2025.9" y2="770.9" stroke="#555" stroke-width="1.3"/>
<text transform="translate(2031.8 776.3) rotate(-90)" font-size="21" text-anchor="end" textLength="38.8" lengthAdjust="spacingAndGlyphs">32.5</text>
<line x1="2044.8" y1="764.9" x2="2044.8" y2="770.9" stroke="#555" stroke-width="1.3"/>
<text transform="translate(2050.7 776.3) rotate(-90)" font-size="21" text-anchor="end" textLength="38.8" lengthAdjust="spacingAndGlyphs">32.0</text>
<line x1="2063.7" y1="764.9" x2="2063.7" y2="770.9" stroke="#555" stroke-width="1.3"/>
<text transform="translate(2069.6 776.3) rotate(-90)" font-size="21" text-anchor="end" textLength="38.8" lengthAdjust="spacingAndGlyphs">31.5</text>
<line x1="2082.6" y1="764.9" x2="2082.6" y2="770.9" stroke="#555" stroke-width="1.3"/>
<text transform="translate(2088.5 776.3) rotate(-90)" font-size="21" text-anchor="end" textLength="38.8" lengthAdjust="spacingAndGlyphs">29.3</text>
<text transform="translate(1017.5 424.6) rotate(-90)" font-size="26.8" text-anchor="middle">Relative abundance</text>
<text x="1626.0" y="851.9" font-size="26.8" text-anchor="middle">Temperature (°C)</text>
<rect x="1108.6" y="878.8" width="27.6" height="27.6" fill="#b1521b" stroke="#222" stroke-width="1.1"/>
<text x="1146.6" y="901.1" font-size="26.5">D_0__Bacteria;D_1__Cyanobacteria</text>
<rect x="1108.6" y="909.9" width="27.6" height="27.6" fill="#fdf1a4" stroke="#222" stroke-width="1.1"/>
<text x="1146.6" y="932.2" font-size="26.5">D_0__Bacteria;D_1__Chloroflexi</text>
<text x="1541.9" y="930.2" font-size="23.5">fl</text>
<rect x="1108.6" y="940.9" width="27.6" height="27.6" fill="#7626a9" stroke="#222" stroke-width="1.1"/>
<text x="1146.6" y="963.2" font-size="26.5">D_0__Bacteria;D_1__Armatimonadetes</text>
<rect x="1108.6" y="972.0" width="27.6" height="27.6" fill="#e3c0ef" stroke="#222" stroke-width="1.1"/>
<text x="1146.6" y="994.3" font-size="26.5">D_0__Bacteria;D_1__Bacteroidetes</text>
<rect x="1108.6" y="1003.0" width="27.6" height="27.6" fill="#f07c04" stroke="#222" stroke-width="1.1"/>
<text x="1146.6" y="1025.3" font-size="26.5">D_0__Bacteria;D_1__Aquificae</text>
<rect x="1108.6" y="1034.1" width="27.6" height="27.6" fill="#fec675" stroke="#222" stroke-width="1.1"/>
<text x="1146.6" y="1056.4" font-size="26.5">D_0__Bacteria;D_1__Deinococcus-Thermus</text>
<rect x="1108.6" y="1065.2" width="27.6" height="27.6" fill="#d7261a" stroke="#222" stroke-width="1.1"/>
<text x="1146.6" y="1087.5" font-size="26.5">D_0__Bacteria;D_1__Acidobacteria</text>
<rect x="1705.8" y="878.8" width="27.6" height="27.6" fill="#ffa7a9" stroke="#222" stroke-width="1.1"/>
<text x="1743.8" y="901.1" font-size="26.5">D_0__Bacteria;D_1__Proteobacteria</text>
<rect x="1705.8" y="909.9" width="27.6" height="27.6" fill="#2ba420" stroke="#222" stroke-width="1.1"/>
<text x="1743.8" y="932.2" font-size="26.5">D_0__Bacteria;__</text>
<rect x="1705.8" y="940.9" width="27.6" height="27.6" fill="#d5ee8f" stroke="#222" stroke-width="1.1"/>
<text x="1743.8" y="963.2" font-size="26.5">D_0__Bacteria;D_1__Firmicutes</text>
<rect x="1705.8" y="972.0" width="27.6" height="27.6" fill="#2f7ab5" stroke="#222" stroke-width="1.1"/>
<text x="1743.8" y="994.3" font-size="26.5">D_0__Bacteria;D_1__Planctomycetes</text>
<rect x="1705.8" y="1003.0" width="27.6" height="27.6" fill="#bbd6e8" stroke="#222" stroke-width="1.1"/>
<text x="1743.8" y="1025.3" font-size="26.5">D_0__Bacteria;D_1__Verrucomicrobia</text>
<rect x="1705.8" y="1034.1" width="27.6" height="27.6" fill="#ffffff" stroke="#222" stroke-width="1.1"/>
<text x="1743.8" y="1056.4" font-size="26.5">Other low abundance taxa</text>
<text x="1145.8" y="33.2" font-size="26.8">Taxonomic</text>
<text x="1508.5" y="33.2" font-size="26.8">Color palette</text>
<text x="1871.0" y="33.2" font-size="26.8">Sort samples</text>
<circle cx="1688.9" cy="23.6" r="14" fill="#4a7fc1"/>
<circle cx="1688.9" cy="15.6" r="2.2" fill="#fff"/><rect x="1687.3" y="19.8" width="3.2" height="12.6" rx="1" fill="#fff"/>
<circle cx="2056.3" cy="24.2" r="14" fill="#4a7fc1"/>
<path d="M2048.8 24.2h15M2056.3 16.7v15" stroke="#fff" stroke-width="2.4" fill="none"/>
<rect x="1146" y="60.8" width="319" height="44.6" rx="6.5" fill="#fff" stroke="#7fb0e8" stroke-width="1.4"/>
<path d="M1447.4 80.6l5 -9.5l5 9.5zM1447.4 85.6l5 9.5l5 -9.5z" fill="#3a3a3a"/>
<rect x="1508.8" y="60.8" width="321.5" height="44.6" rx="6.5" fill="#fff" stroke="#b4b4b4" stroke-width="1.4"/>
<text x="1522.0" y="92.8" font-size="26.8">schemePaired</text>
<path d="M1812.7 80.6l5 -9.5l5 9.5zM1812.7 85.6l5 9.5l5 -9.5z" fill="#3a3a3a"/>
<rect x="1874" y="60.2" width="197.6" height="45.2" rx="6.5" fill="#fff" stroke="#b4b4b4" stroke-width="1.4"/>
<text x="1884.0" y="90.2" font-size="26.8">Temperature</text>
<path d="M2054.0 80.30000000000001l5 -9.5l5 9.5zM2054.0 85.30000000000001l5 9.5l5 -9.5z" fill="#3a3a3a"/>
<rect x="1131.2" y="38.2" width="320.6" height="197" rx="7" fill="#f8f6f7" stroke="#b0aeae" stroke-width="1.4"/>
<rect x="1131.9" y="107.2" width="319.2" height="28.8" fill="#7b9bd3"/>
<text x="1160.0" y="66.4" font-size="26">Level 1</text>
<text x="1160.0" y="97.8" font-size="26">Level 2</text>
<text x="1160.0" y="129.1" font-size="26" style="fill:#fff">Level 3</text>
<text x="1160.0" y="160.5" font-size="26">Level 4</text>
<text x="1160.0" y="191.8" font-size="26">Level 5</text>
<text x="1160.0" y="223.2" font-size="26">Level 6</text>
<path d="M1140.6 120.6l3.6 5.4l6.6 -11.6" stroke="#fff" stroke-width="2.6" fill="none"/>
</g>
<g id="ln" fill="none" stroke-linejoin="miter">
<path d="M151.6 1329.7L205.3 1454.6L259.0 1378.5L259.0 1385.3L312.7 1455.7L366.5 1380.6L420.2 1353.1L473.9 1325.3L473.9 1379.6L527.6 1395.6L581.3 1397.5L581.3 1426.3L635.0 1463.4L635.0 1450.2L688.7 1415.0L742.4 1459.8L796.1 1463.3L849.8 1461.9L903.5 1463.2L957.3 1450.2L957.3 1455.5L1011.0 1453.8L1064.7 1453.8L1118.4 1463.4L1172.1 1462.5L1225.8 1456.1L1279.5 1432.3L1386.9 1459.7M97.9 1457.8L151.6 1460.7L205.3 1459.7L259.0 1442.2L259.0 1463.4L312.7 1447.7L366.5 1414.1L420.2 1394.6L473.9 1461.2L527.6 1450.7L527.6 1425.1L581.3 1455.3L635.0 1408.6L688.7 1462.8L742.4 1402.7L796.1 1426.0L849.8 1453.1L849.8 1463.4L903.5 1405.3L957.3 1402.6L957.3 1423.6M97.9 1462.5L97.9 1463.4L151.6 1458.9L205.3 1261.0L259.0 1386.0L259.0 1446.0L312.7 1450.4L366.5 1463.3L420.2 1355.5L473.9 1462.0L527.6 1317.2L581.3 1348.7L635.0 1393.5L688.7 1435.0L742.4 1422.6L796.1 1427.7L849.8 1454.3L903.5 1420.4L957.3 1438.0M97.9 1412.8L151.6 1463.1L205.3 1452.3L259.0 1286.6L312.7 1454.7L366.5 1434.6L420.2 1450.2L473.9 1380.6L527.6 1455.0L527.6 1463.4L581.3 1454.2L581.3 1463.4L635.0 1463.1L635.0 1422.0L688.7 1461.0L742.4 1380.4L796.1 1416.4L849.8 1425.5L903.5 1456.5L957.3 1457.0L1011.0 1446.6L1064.7 1461.4L1118.4 1436.8L1172.1 1462.7L1172.1 1461.8L1279.5 1463.1L1279.5 1456.9L1333.2 1450.9L1386.9 1450.1L1494.4 1428.0L1494.4 1420.5L1601.8 1460.8M97.9 1450.8L97.9 1445.4L151.6 1405.3L205.3 1438.8L259.0 1451.1L312.7 1459.1L366.5 1461.2L420.2 1289.0L473.9 1463.3L527.6 1458.5L581.3 1310.5L581.3 1268.7L635.0 1463.2L688.7 1336.7L742.4 1366.9L796.1 1442.4L849.8 1417.6L903.5 1437.5L957.3 1461.1L1011.0 1459.6L1064.7 1427.9L1118.4 1462.4L1172.1 1452.1L1225.8 1458.0L1279.5 1453.3L1333.2 1461.0M97.9 1416.8L151.6 1271.6L205.3 1460.4L259.0 1459.7L312.7 1463.0L312.7 1463.4L366.5 1343.9L420.2 1410.8L473.9 1383.2L527.6 1324.1L527.6 1308.7L581.3 1392.1L635.0 1420.1L635.0 1444.4L688.7 1408.9L688.7 1371.6L742.4 1447.6L742.4 1440.4L796.1 1459.0L849.8 1462.0L903.5 1462.1L957.3 1399.6L1011.0 1461.0L1064.7 1462.9L1118.4 1434.0L1172.1 1445.4M97.9 1463.2L151.6 1283.1L205.3 1461.8L205.3 1463.4L259.0 1362.6L312.7 1453.7L312.7 1463.4L366.5 1419.6L420.2 1458.1L473.9 1460.5L527.6 1436.5L581.3 1461.4L635.0 1462.1L688.7 1338.6L742.4 1458.3L796.1 1403.5L849.8 1452.8L849.8 1428.7M97.9 1374.0L151.6 1424.9L205.3 1458.5L259.0 1458.3L312.7 1449.0L366.5 1435.3L420.2 1403.8L473.9 1378.6L527.6 1289.0L527.6 1276.1L581.3 1450.0L635.0 1460.6L688.7 1459.8L742.4 1431.0M205.3 1373.4L259.0 1264.1L312.7 1425.5L366.5 1394.0L420.2 1411.8L473.9 1441.9L527.6 1448.6L581.3 1360.8L581.3 1331.7L635.0 1403.3L688.7 1462.8L742.4 1421.3M97.9 1453.1L151.6 1337.9L151.6 1389.0L205.3 1287.8L205.3 1230.9L259.0 1352.9L259.0 1363.5L312.7 1451.1L366.5 1458.2L366.5 1463.4L420.2 1379.3L473.9 1351.7L527.6 1459.3L527.6 1461.3L581.3 1444.3L635.0 1451.2L688.7 1387.2L688.7 1407.2L742.4 1356.3L796.1 1458.9L849.8 1463.4L903.5 1462.9L957.3 1421.5L1011.0 1460.1L1064.7 1457.0M205.3 1451.0L259.0 1315.6L312.7 1413.7L366.5 1457.3L366.5 1412.6L420.2 1444.7L473.9 1455.6L527.6 1422.3L581.3 1427.3L635.0 1430.4L688.7 1459.0L742.4 1404.2L796.1 1451.4L849.8 1454.0L903.5 1454.3L957.3 1404.5L1011.0 1448.5L1064.7 1460.8L1118.4 1451.2L1118.4 1442.8L1172.1 1453.8L1279.5 1458.6L1333.2 1462.6L1333.2 1463.2L1440.7 1462.0L1440.7 1463.4L1494.4 1451.4M151.6 1462.2L205.3 1461.5L259.0 1452.8L312.7 1450.3L366.5 1330.7L420.2 1275.6L473.9 1402.9L527.6 1312.1L581.3 1380.6L635.0 1362.4L688.7 1398.9L742.4 1385.7L796.1 1460.8L849.8 1449.0L849.8 1463.4L903.5 1455.8L957.3 1459.0L957.3 1452.7M97.9 1463.3L151.6 1440.0L151.6 1458.0L205.3 1384.7L259.0 1418.0L312.7 1266.2L366.5 1262.9L420.2 1413.7L473.9 1374.1L527.6 1451.1L581.3 1461.5L635.0 1371.1L688.7 1462.7L742.4 1372.2L796.1 1456.4M97.9 1458.8L151.6 1402.3L205.3 1446.7L259.0 1452.4L259.0 1411.0L312.7 1302.1L312.7 1335.8L366.5 1460.8L420.2 1280.1L473.9 1443.1L527.6 1311.5L527.6 1274.0L581.3 1455.7L635.0 1451.6L688.7 1462.3L742.4 1400.9L796.1 1462.0M205.3 1318.2L259.0 1458.0L312.7 1385.0L366.5 1449.3L420.2 1454.6L473.9 1402.4L527.6 1433.3L581.3 1455.0L635.0 1335.4L688.7 1445.0L742.4 1461.4L742.4 1448.9L796.1 1459.6L849.8 1429.1L849.8 1444.3L903.5 1461.6L957.3 1450.3L1011.0 1441.6L1064.7 1455.8L1118.4 1463.4L1172.1 1422.1L1279.5 1463.4L1386.9 1463.1M97.9 1458.0L151.6 1394.8L205.3 1458.4L259.0 1402.3L312.7 1452.8L366.5 1453.2L366.5 1463.4L420.2 1364.6L473.9 1435.1L527.6 1449.5L527.6 1406.1L581.3 1403.8L635.0 1344.4L688.7 1406.2L688.7 1377.0L742.4 1367.6L796.1 1392.8L796.1 1390.0L849.8 1462.9L849.8 1435.9L903.5 1428.0L957.3 1423.4M97.9 1456.7L97.9 1463.4L151.6 1455.7L205.3 1392.4L259.0 1463.0L312.7 1449.7L366.5 1422.5L420.2 1347.6L473.9 1266.1L527.6 1430.8L581.3 1315.5M151.6 1283.4L205.3 1453.1L259.0 1382.7L312.7 1377.2L312.7 1429.7L366.5 1403.3L420.2 1453.5L473.9 1442.7L527.6 1462.3L581.3 1380.9L635.0 1368.8L688.7 1412.3L742.4 1452.1L742.4 1449.5L796.1 1463.4L849.8 1452.5L849.8 1430.5L903.5 1449.8L957.3 1463.2L957.3 1446.2L1011.0 1450.1L1064.7 1452.3L1064.7 1457.9L1118.4 1428.7L1118.4 1419.9L1172.1 1453.1L1172.1 1443.4L1279.5 1454.4L1279.5 1447.1L1333.2 1453.1L1440.7 1450.3L1440.7 1447.4L1548.1 1463.2M97.9 1460.0L151.6 1430.7L205.3 1387.2L259.0 1274.9L312.7 1364.1L312.7 1294.7L366.5 1397.3L420.2 1454.9L473.9 1334.2L473.9 1359.4L527.6 1451.0L581.3 1456.1L635.0 1463.2L688.7 1439.1L742.4 1458.9L796.1 1449.1L849.8 1437.0M97.9 1142.3L151.6 1195.3L151.6 1274.7L205.3 1279.9L259.0 1285.6L312.7 1313.1L366.5 1356.5L420.2 1391.7L473.9 1427.8L527.6 1420.6L581.3 1445.6" stroke="#0d69b0" stroke-width="1.6"/>
<path d="M205.3 1452.3L205.3 1442.3L259.0 1429.7L312.7 1352.1L366.5 1454.0L420.2 1463.1L473.9 1412.3L527.6 1461.2L527.6 1461.6L581.3 1435.1L635.0 1462.7L688.7 1428.2L742.4 1461.1L796.1 1458.9L849.8 1457.8L903.5 1451.7L903.5 1460.4L957.3 1453.6L1011.0 1463.2L1064.7 1461.5L1118.4 1456.4L1172.1 1462.6L1279.5 1460.0L1333.2 1461.8L1386.9 1449.2M97.9 1420.1L151.6 1323.0L205.3 1313.2L259.0 1457.7L312.7 1458.5L366.5 1402.2L420.2 1438.5L473.9 1371.2L473.9 1384.5L527.6 1455.6L527.6 1463.4L581.3 1456.7L635.0 1357.8L688.7 1457.9L742.4 1453.6L796.1 1463.4L796.1 1463.4L849.8 1403.4M97.9 1459.6L151.6 1366.7L205.3 1463.3L259.0 1462.0L312.7 1357.5L366.5 1457.8L420.2 1461.3L473.9 1459.0L527.6 1460.4L581.3 1390.4L635.0 1460.5L688.7 1443.2L742.4 1458.2L796.1 1459.3L796.1 1463.4L849.8 1439.9L903.5 1457.5L957.3 1460.5M97.9 1407.2L97.9 1413.1L151.6 1462.6L205.3 1422.3L259.0 1457.7L312.7 1453.9L366.5 1458.5L420.2 1455.1L473.9 1388.3L473.9 1398.0L527.6 1462.7L581.3 1456.3L635.0 1450.7M97.9 1355.9L151.6 1388.5L151.6 1391.4L205.3 1321.5L259.0 1320.1L312.7 1392.8L366.5 1449.0L420.2 1439.8L473.9 1461.5L527.6 1444.2L581.3 1460.7M97.9 1347.8L151.6 1455.6L205.3 1462.2L259.0 1383.6L312.7 1461.1L312.7 1429.2L366.5 1457.8L366.5 1463.4L420.2 1458.7L473.9 1449.1L527.6 1401.0L581.3 1444.0L635.0 1403.2L688.7 1386.4L742.4 1398.4L796.1 1463.2L849.8 1446.1M97.9 1384.7L151.6 1349.4L205.3 1342.3L259.0 1391.7L312.7 1452.7L366.5 1456.3L420.2 1463.4" stroke="#f4940c" stroke-width="1.6"/>
<path d="M97.9 1442.0L151.6 1424.2L205.3 1409.8L259.0 1395.3L312.7 1415.2L366.5 1397.1L420.2 1406.1L473.9 1406.1L527.6 1400.7L581.3 1424.2L635.0 1434.9L688.7 1442.8L742.4 1446.7L796.1 1449.2L849.8 1452.0L957.3 1447.7L1064.7 1445.6L1172.1 1449.9L1279.5 1450.6L1386.9 1447.7L1494.4 1438.8L1601.8 1432.1" stroke="#f4940c" stroke-width="8.6"/>
<path d="M97.9 1427.8L151.6 1393.5L205.3 1406.1L259.0 1386.4L312.7 1363.5L366.5 1379.4L420.2 1374.1L473.9 1386.4L527.6 1381.1L581.3 1391.7L635.0 1404.3L688.7 1391.7L742.4 1415.2L796.1 1423.5L849.8 1427.8L957.3 1438.8L1064.7 1442.0L1172.1 1447.7L1279.5 1450.6L1386.9 1454.1L1494.4 1449.9L1601.8 1455.6" stroke="#0d69b0" stroke-width="8.6"/>
<path d="M97.9 1144.0L97.9 1456.3L151.6 1188.2L205.3 1452.7L259.0 1221.9L312.7 1391.7L366.5 1427.8L420.2 1309.1L473.9 1445.6L527.6 1427.8M97.9 1463.4L151.6 1189.9L151.6 1241.2L205.3 1320.9L259.0 1427.8L312.7 1276.4L366.5 1456.3L420.2 1335.1L473.9 1342.3L527.6 1328.0L527.6 1427.8L581.3 1463.4M97.9 1293.5L151.6 1463.4L205.3 1250.0L259.0 1285.6L312.7 1309.1L366.5 1463.4L420.2 1398.9L473.9 1463.4M97.9 1301.3L151.6 1285.6L151.6 1297.4L205.3 1317.0L259.0 1356.5L312.7 1225.4L366.5 1459.8L420.2 1301.3L473.9 1456.3M205.3 1391.7L259.0 1223.6L312.7 1151.1L366.5 1184.6L420.2 1258.8L473.9 1338.7L527.6 1299.3L581.3 1299.3L581.3 1463.4M205.3 1427.8L259.0 1289.5L312.7 1207.7L366.5 1232.4L420.2 1257.1L473.9 1391.7L527.6 1177.5L581.3 1398.9L635.0 1459.8M259.0 1328.0L312.7 1243.0L366.5 1239.5L366.5 1200.6L420.2 1356.5L473.9 1253.5L527.6 1297.4L581.3 1384.7L635.0 1445.6M312.7 1356.5L366.5 1305.2L420.2 1279.9L473.9 1267.6L527.6 1301.3L581.3 1391.7L581.3 1271.1L635.0 1239.5L688.7 1338.7L742.4 1317.0L796.1 1356.5L849.8 1391.7L903.5 1420.6L957.3 1427.8M366.5 1427.8L420.2 1271.1L473.9 1274.7L527.6 1204.2L581.3 1305.2L635.0 1406.1L688.7 1285.6L742.4 1456.3M420.2 1391.7L473.9 1257.1L527.6 1398.9L581.3 1338.7L635.0 1391.7L688.7 1293.5L742.4 1427.8L796.1 1445.6M581.3 1456.3L635.0 1338.7L688.7 1331.6L688.7 1345.8L742.4 1320.9L796.1 1349.4L849.8 1372.3L849.8 1413.4L903.5 1391.7L957.3 1374.1L1011.0 1413.4L1064.7 1427.8L1118.4 1434.9L1172.1 1445.6M635.0 1345.8L635.0 1363.5L688.7 1367.1L742.4 1360.0L742.4 1388.2L796.1 1381.1L849.8 1361.8L903.5 1377.6L957.3 1391.7L1011.0 1406.1L1064.7 1420.6L1118.4 1431.4L1172.1 1427.8L1172.1 1459.8M742.4 1381.1L796.1 1374.1L849.8 1391.7L903.5 1409.8L957.3 1413.4L957.3 1456.3L1011.0 1442.0L1064.7 1328.0L1118.4 1391.7L1172.1 1456.3L1225.8 1445.6L1279.5 1449.2M849.8 1445.6L903.5 1427.8L957.3 1434.9L1011.0 1438.5L1064.7 1427.8L1064.7 1452.7L1118.4 1417.0L1172.1 1406.1L1172.1 1445.6L1225.8 1431.4L1279.5 1438.5L1333.2 1452.7L1386.9 1456.3M1064.7 1445.6L1118.4 1442.0L1172.1 1427.8L1225.8 1449.2L1279.5 1424.2L1333.2 1443.8L1386.9 1452.7L1386.9 1442.0L1440.7 1434.9L1494.4 1422.4L1494.4 1438.5L1548.1 1434.9L1601.8 1449.2M1172.1 1452.7L1225.8 1445.6L1279.5 1429.6L1333.2 1445.6L1386.9 1456.3L1440.7 1445.6L1494.4 1429.6L1548.1 1445.6L1601.8 1458.1M688.7 1427.8L742.4 1381.1L742.4 1420.6L796.1 1391.7L849.8 1398.9L849.8 1384.7L903.5 1402.5L957.3 1420.6L1011.0 1417.0L1064.7 1424.2L1118.4 1438.5L1172.1 1442.0L1225.8 1452.7L1279.5 1445.6M742.4 1402.5L796.1 1413.4L849.8 1420.6L903.5 1417.0L957.3 1427.8L957.3 1413.4L1011.0 1431.4L1064.7 1438.5L1118.4 1427.8L1172.1 1449.2L1225.8 1442.0L1279.5 1456.3L1333.2 1452.7L1386.9 1445.6L1440.7 1452.7L1494.4 1456.3M796.1 1434.9L849.8 1452.7L903.5 1442.0L957.3 1449.2L1011.0 1434.9L1064.7 1456.3L1118.4 1449.2L1172.1 1434.9L1225.8 1456.3L1279.5 1442.0L1333.2 1456.3L1386.9 1459.8L1440.7 1456.3L1494.4 1449.2L1548.1 1456.3L1601.8 1452.7M97.9 1345.8L151.6 1391.7L205.3 1260.6L259.0 1445.6L312.7 1320.9L366.5 1356.5L420.2 1420.6L473.9 1320.9L527.6 1445.6M97.9 1363.5L151.6 1317.0L205.3 1356.5L259.0 1320.9L312.7 1305.2L312.7 1431.4L366.5 1374.1L420.2 1427.8L473.9 1363.5L527.6 1335.1" stroke="#0d69b0" stroke-width="1.6"/>
<path d="M97.9 1381.1L151.6 1463.4L151.6 1276.4L205.3 1427.8L259.0 1463.4L312.7 1320.9L366.5 1305.2L420.2 1463.4L473.9 1456.3M151.6 1445.6L205.3 1239.5L205.3 1463.4L259.0 1186.4L312.7 1420.6L366.5 1227.1L420.2 1265.9L473.9 1356.5L527.6 1235.9L581.3 1391.7L635.0 1456.3M205.3 1370.6L259.0 1367.1L312.7 1342.3L366.5 1305.2L420.2 1349.4L473.9 1299.3L527.6 1342.3L581.3 1265.9L635.0 1463.4M312.7 1370.6L366.5 1367.1L420.2 1349.4L473.9 1352.9L527.6 1384.7L581.3 1381.1L635.0 1375.9L688.7 1391.7L742.4 1417.0L796.1 1427.8L849.8 1409.8L903.5 1402.5L957.3 1393.5L1011.0 1427.8L1064.7 1442.0L1118.4 1434.9L1172.1 1429.6L1225.8 1434.9M635.0 1456.3L688.7 1395.3L742.4 1391.7L796.1 1409.8L849.8 1456.3L903.5 1427.8L957.3 1402.5L1011.0 1427.8L1064.7 1456.3L1118.4 1442.0L1172.1 1445.6M1172.1 1456.3L1225.8 1452.7L1279.5 1422.4L1386.9 1430.3L1494.4 1402.5L1601.8 1393.5M1279.5 1452.7L1386.9 1449.2L1494.4 1438.5L1601.8 1445.6" stroke="#f4940c" stroke-width="1.6"/>
</g>
<g id="pc">
<text x="1" y="1128.4" font-size="31" font-weight="bold" fill="#000">c</text>
<line x1="98.2" y1="1140.5" x2="98.2" y2="1464.0" stroke="#222" stroke-width="1.3"/>
<line x1="97.6" y1="1463.6" x2="1602.4" y2="1463.6" stroke="#555" stroke-width="1.6"/>
<line x1="82.2" y1="1140.5" x2="98.2" y2="1140.5" stroke="#444" stroke-width="1.3"/>
<text x="76.6" y="1147.9" font-size="26" text-anchor="end">0.9</text>
<line x1="82.2" y1="1175.7" x2="98.2" y2="1175.7" stroke="#444" stroke-width="1.3"/>
<text x="76.6" y="1183.1" font-size="26" text-anchor="end">0.8</text>
<line x1="82.2" y1="1211.3" x2="98.2" y2="1211.3" stroke="#444" stroke-width="1.3"/>
<text x="76.6" y="1218.7" font-size="26" text-anchor="end">0.7</text>
<line x1="82.2" y1="1246.5" x2="98.2" y2="1246.5" stroke="#444" stroke-width="1.3"/>
<text x="76.6" y="1253.9" font-size="26" text-anchor="end">0.6</text>
<line x1="82.2" y1="1281.7" x2="98.2" y2="1281.7" stroke="#444" stroke-width="1.3"/>
<text x="76.6" y="1289.1" font-size="26" text-anchor="end">0.5</text>
<line x1="82.2" y1="1320.9" x2="98.2" y2="1320.9" stroke="#444" stroke-width="1.3"/>
<text x="76.6" y="1328.3" font-size="26" text-anchor="end">0.4</text>
<line x1="82.2" y1="1356.5" x2="98.2" y2="1356.5" stroke="#444" stroke-width="1.3"/>
<text x="76.6" y="1363.9" font-size="26" text-anchor="end">0.3</text>
<line x1="82.2" y1="1391.7" x2="98.2" y2="1391.7" stroke="#444" stroke-width="1.3"/>
<text x="76.6" y="1399.1" font-size="26" text-anchor="end">0.2</text>
<line x1="82.2" y1="1427.8" x2="98.2" y2="1427.8" stroke="#444" stroke-width="1.3"/>
<text x="76.6" y="1435.2" font-size="26" text-anchor="end">0.1</text>
<line x1="82.2" y1="1463.4" x2="98.2" y2="1463.4" stroke="#444" stroke-width="1.3"/>
<text x="76.6" y="1470.8" font-size="26" text-anchor="end">0.0</text>
<line x1="97.9" y1="1463.4" x2="97.9" y2="1479.0" stroke="#444" stroke-width="1.3"/>
<text x="97.9" y="1505.8" font-size="26" text-anchor="middle">0</text>
<line x1="205.3" y1="1463.4" x2="205.3" y2="1479.0" stroke="#444" stroke-width="1.3"/>
<text x="205.3" y="1505.8" font-size="26" text-anchor="middle">2</text>
<line x1="312.7" y1="1463.4" x2="312.7" y2="1479.0" stroke="#444" stroke-width="1.3"/>
<text x="312.7" y="1505.8" font-size="26" text-anchor="middle">4</text>
<line x1="420.2" y1="1463.4" x2="420.2" y2="1479.0" stroke="#444" stroke-width="1.3"/>
<text x="420.2" y="1505.8" font-size="26" text-anchor="middle">6</text>
<line x1="527.6" y1="1463.4" x2="527.6" y2="1479.0" stroke="#444" stroke-width="1.3"/>
<text x="527.6" y="1505.8" font-size="26" text-anchor="middle">8</text>
<line x1="635.0" y1="1463.4" x2="635.0" y2="1479.0" stroke="#444" stroke-width="1.3"/>
<text x="635.0" y="1505.8" font-size="26" text-anchor="middle">10</text>
<line x1="742.4" y1="1463.4" x2="742.4" y2="1479.0" stroke="#444" stroke-width="1.3"/>
<text x="742.4" y="1505.8" font-size="26" text-anchor="middle">12</text>
<line x1="849.8" y1="1463.4" x2="849.8" y2="1479.0" stroke="#444" stroke-width="1.3"/>
<text x="849.8" y="1505.8" font-size="26" text-anchor="middle">14</text>
<line x1="957.3" y1="1463.4" x2="957.3" y2="1479.0" stroke="#444" stroke-width="1.3"/>
<text x="957.3" y="1505.8" font-size="26" text-anchor="middle">16</text>
<line x1="1064.7" y1="1463.4" x2="1064.7" y2="1479.0" stroke="#444" stroke-width="1.3"/>
<text x="1064.7" y="1505.8" font-size="26" text-anchor="middle">18</text>
<line x1="1172.1" y1="1463.4" x2="1172.1" y2="1479.0" stroke="#444" stroke-width="1.3"/>
<text x="1172.1" y="1505.8" font-size="26" text-anchor="middle">20</text>
<line x1="1279.5" y1="1463.4" x2="1279.5" y2="1479.0" stroke="#444" stroke-width="1.3"/>
<text x="1279.5" y="1505.8" font-size="26" text-anchor="middle">22</text>
<line x1="1386.9" y1="1463.4" x2="1386.9" y2="1479.0" stroke="#444" stroke-width="1.3"/>
<text x="1386.9" y="1505.8" font-size="26" text-anchor="middle">24</text>
<line x1="1494.4" y1="1463.4" x2="1494.4" y2="1479.0" stroke="#444" stroke-width="1.3"/>
<text x="1494.4" y="1505.8" font-size="26" text-anchor="middle">26</text>
<line x1="1601.8" y1="1463.4" x2="1601.8" y2="1479.0" stroke="#444" stroke-width="1.3"/>
<text x="1601.8" y="1505.8" font-size="26" text-anchor="middle">28</text>
<text x="851.5" y="1544.6" font-size="26.8">Month</text>
<text x="1291.4" y="1174.9" font-size="26.8">Diet</text>
<circle cx="1310.4" cy="1204.3" r="16.3" fill="none" stroke="#0d6bb5" stroke-width="5.6"/>
<circle cx="1310.4" cy="1256.2" r="16.3" fill="none" stroke="#f5920a" stroke-width="5.6"/>
<text x="1344.0" y="1215.4" font-size="26.8">Breastmilk dominant</text>
<text x="1344.0" y="1267.3" font-size="26.8">Formula dominant</text>
<text transform="translate(20.6 1580.5) rotate(-90)" font-size="26.8" text-anchor="middle"><tspan font-style="italic">Bifidobacterium</tspan> relative abundance</text>
<text x="460.9" y="1640.3" font-size="26.8" text-anchor="middle">Importance</text>
<line x1="97.9" y1="1689.8" x2="97.9" y2="1704.7" stroke="#444" stroke-width="1.3"/>
<text x="97.9" y="1679.6" font-size="26.8" text-anchor="middle">0.00</text>
<line x1="211.6" y1="1689.8" x2="211.6" y2="1704.7" stroke="#444" stroke-width="1.3"/>
<text x="211.6" y="1679.6" font-size="26.8" text-anchor="middle">0.05</text>
<line x1="321.6" y1="1689.8" x2="321.6" y2="1704.7" stroke="#444" stroke-width="1.3"/>
<text x="321.6" y="1679.6" font-size="26.8" text-anchor="middle">0.10</text>
<line x1="434.2" y1="1689.8" x2="434.2" y2="1704.7" stroke="#444" stroke-width="1.3"/>
<text x="434.2" y="1679.6" font-size="26.8" text-anchor="middle">0.15</text>
<line x1="547.3" y1="1689.8" x2="547.3" y2="1704.7" stroke="#444" stroke-width="1.3"/>
<text x="547.3" y="1679.6" font-size="26.8" text-anchor="middle">0.20</text>
<line x1="656.9" y1="1689.8" x2="656.9" y2="1704.7" stroke="#444" stroke-width="1.3"/>
<text x="656.9" y="1679.6" font-size="26.8" text-anchor="middle">0.25</text>
<line x1="770.0" y1="1689.8" x2="770.0" y2="1704.7" stroke="#444" stroke-width="1.3"/>
<text x="770.0" y="1679.6" font-size="26.8" text-anchor="middle">0.30</text>
<line x1="97.3" y1="1704.7" x2="770.6" y2="1704.7" stroke="#444" stroke-width="1.3"/>
<rect x="98.50" y="1706.60" width="639.10" height="29.20" fill="#d9d9d9"/>
<circle cx="64.7" cy="1721.4" r="13.1" fill="#ebebeb"/>
<rect x="98.50" y="1738.72" width="328.90" height="29.20" fill="#d9d9d9"/>
<circle cx="64.7" cy="1753.5" r="13.1" fill="#ebebeb"/>
<rect x="98.50" y="1770.84" width="212.80" height="29.20" fill="#d9d9d9"/>
<circle cx="64.7" cy="1785.6" r="13.1" fill="#ebebeb"/>
<rect x="98.50" y="1802.96" width="129.60" height="29.20" fill="#d9d9d9"/>
<circle cx="64.7" cy="1817.8" r="13.1" fill="#ebebeb"/>
<rect x="98.50" y="1835.08" width="96.20" height="29.20" fill="#d9d9d9"/>
<circle cx="64.7" cy="1849.9" r="13.1" fill="#ebebeb"/>
<rect x="98.50" y="1867.20" width="94.40" height="29.20" fill="#d9d9d9"/>
<circle cx="64.7" cy="1882.0" r="13.1" fill="#ebebeb"/>
<rect x="98.50" y="1899.32" width="56.60" height="29.20" fill="#d9d9d9"/>
<circle cx="64.7" cy="1914.1" r="13.1" fill="#ebebeb"/>
<rect x="98.50" y="1931.44" width="46.90" height="29.20" fill="#a3d6ee"/>
<circle cx="64.7" cy="1946.2" r="13.1" fill="#9dd4ec"/>
<rect x="98.50" y="1963.56" width="37.20" height="29.20" fill="#d9d9d9"/>
<circle cx="64.7" cy="1978.4" r="13.1" fill="#ebebeb"/>
<rect x="98.50" y="1995.68" width="29.80" height="29.20" fill="#d9d9d9"/>
<circle cx="64.7" cy="2010.5" r="13.1" fill="#ebebeb"/>
<rect x="98.50" y="2027.80" width="27.60" height="29.20" fill="#d9d9d9"/>
<circle cx="64.7" cy="2042.6" r="13.1" fill="#ebebeb"/>
<rect x="98.50" y="2059.92" width="27.10" height="29.20" fill="#d9d9d9"/>
<circle cx="64.7" cy="2074.7" r="13.1" fill="#ebebeb"/>
<rect x="98.50" y="2092.04" width="26.20" height="29.20" fill="#d9d9d9"/>
<circle cx="64.7" cy="2106.8" r="13.1" fill="#ebebeb"/>
<rect x="98.50" y="2124.16" width="24.50" height="29.20" fill="#d9d9d9"/>
<circle cx="64.7" cy="2139.0" r="13.1" fill="#ebebeb"/>
<line x1="97.9" y1="1689.8" x2="97.9" y2="2155.5" stroke="#333" stroke-width="1.3"/>
<text x="1288.4" y="1640.3" font-size="26.8" text-anchor="middle">Global mean</text>
<line x1="930.7" y1="1689.8" x2="930.7" y2="1704.7" stroke="#444" stroke-width="1.3"/>
<text x="930.7" y="1679.6" font-size="26.8" text-anchor="middle">0.00</text>
<line x1="1021.3" y1="1689.8" x2="1021.3" y2="1704.7" stroke="#444" stroke-width="1.3"/>
<text x="1021.3" y="1679.6" font-size="26.8" text-anchor="middle">0.02</text>
<line x1="1108.4" y1="1689.8" x2="1108.4" y2="1704.7" stroke="#444" stroke-width="1.3"/>
<text x="1108.4" y="1679.6" font-size="26.8" text-anchor="middle">0.04</text>
<line x1="1199.0" y1="1689.8" x2="1199.0" y2="1704.7" stroke="#444" stroke-width="1.3"/>
<text x="1199.0" y="1679.6" font-size="26.8" text-anchor="middle">0.06</text>
<line x1="1289.2" y1="1689.8" x2="1289.2" y2="1704.7" stroke="#444" stroke-width="1.3"/>
<text x="1289.2" y="1679.6" font-size="26.8" text-anchor="middle">0.08</text>
<line x1="1379.9" y1="1689.8" x2="1379.9" y2="1704.7" stroke="#444" stroke-width="1.3"/>
<text x="1379.9" y="1679.6" font-size="26.8" text-anchor="middle">0.10</text>
<line x1="1467.0" y1="1689.8" x2="1467.0" y2="1704.7" stroke="#444" stroke-width="1.3"/>
<text x="1467.0" y="1679.6" font-size="26.8" text-anchor="middle">0.12</text>
<line x1="1557.6" y1="1689.8" x2="1557.6" y2="1704.7" stroke="#444" stroke-width="1.3"/>
<text x="1557.6" y="1679.6" font-size="26.8" text-anchor="middle">0.14</text>
<line x1="930.1" y1="1704.7" x2="1602.5" y2="1704.7" stroke="#444" stroke-width="1.3"/>
<rect x="931.30" y="1706.60" width="252.40" height="29.20" fill="#d9d9d9"/>
<circle cx="897.2" cy="1721.4" r="13.1" fill="#ebebeb"/>
<rect x="931.30" y="1738.72" width="30.60" height="29.20" fill="#d9d9d9"/>
<circle cx="897.2" cy="1753.5" r="13.1" fill="#ebebeb"/>
<rect x="931.30" y="1770.84" width="80.80" height="29.20" fill="#d9d9d9"/>
<circle cx="897.2" cy="1785.6" r="13.1" fill="#ebebeb"/>
<rect x="931.30" y="1802.96" width="108.50" height="29.20" fill="#d9d9d9"/>
<circle cx="897.2" cy="1817.8" r="13.1" fill="#ebebeb"/>
<rect x="931.30" y="1835.08" width="172.30" height="29.20" fill="#d9d9d9"/>
<circle cx="897.2" cy="1849.9" r="13.1" fill="#ebebeb"/>
<rect x="931.30" y="1867.20" width="35.00" height="29.20" fill="#d9d9d9"/>
<circle cx="897.2" cy="1882.0" r="13.1" fill="#ebebeb"/>
<rect x="931.30" y="1899.32" width="31.50" height="29.20" fill="#d9d9d9"/>
<circle cx="897.2" cy="1914.1" r="13.1" fill="#ebebeb"/>
<rect x="931.30" y="1931.44" width="597.80" height="29.20" fill="#a3d6ee"/>
<circle cx="897.2" cy="1946.2" r="13.1" fill="#9dd4ec"/>
<rect x="931.30" y="1963.56" width="13.50" height="29.20" fill="#d9d9d9"/>
<circle cx="897.2" cy="1978.4" r="13.1" fill="#ebebeb"/>
<rect x="931.30" y="1995.68" width="168.80" height="29.20" fill="#d9d9d9"/>
<circle cx="897.2" cy="2010.5" r="13.1" fill="#ebebeb"/>
<rect x="931.30" y="2027.80" width="98.40" height="29.20" fill="#d9d9d9"/>
<circle cx="897.2" cy="2042.6" r="13.1" fill="#ebebeb"/>
<rect x="931.30" y="2059.92" width="108.50" height="29.20" fill="#d9d9d9"/>
<circle cx="897.2" cy="2074.7" r="13.1" fill="#ebebeb"/>
<rect x="931.30" y="2092.04" width="51.80" height="29.20" fill="#d9d9d9"/>
<circle cx="897.2" cy="2106.8" r="13.1" fill="#ebebeb"/>
<rect x="931.30" y="2124.16" width="242.30" height="29.20" fill="#d9d9d9"/>
<circle cx="897.2" cy="2139.0" r="13.1" fill="#ebebeb"/>
<line x1="930.7" y1="1689.8" x2="930.7" y2="2155.5" stroke="#333" stroke-width="1.3"/>
</g>
<g id="pd">
<text x="1700" y="1128.3" font-size="31" font-weight="bold" fill="#000">d</text>
<defs><linearGradient id="cb" x1="0" y1="0" x2="0" y2="1"><stop offset="0" stop-color="#fffbe0"/><stop offset="0.1" stop-color="#fff3b8"/><stop offset="0.28" stop-color="#fedc80"/><stop offset="0.42" stop-color="#fdb555"/><stop offset="0.52" stop-color="#f98f3c"/><stop offset="0.6" stop-color="#ee5a28"/><stop offset="0.68" stop-color="#e2330f"/><stop offset="0.8" stop-color="#cc241d"/><stop offset="0.9" stop-color="#a81d25"/><stop offset="1" stop-color="#7d1426"/></linearGradient></defs>
<rect x="2057.10" y="1143.80" width="41.90" height="369.20" fill="url(#cb)"/>
<text x="2080.6" y="1131.2" font-size="26.8" text-anchor="middle">Max</text>
<text x="2080.2" y="1543.4" font-size="26.8" text-anchor="middle">Min</text>
</g>
<g id="bd">
<defs>
<path id="bm" d="M1853.5 1126.3C1858.8 1126.3 1864.4 1126.9 1869.4 1128.3C1874.4 1129.8 1879.1 1132.0 1883.4 1134.9C1887.7 1137.8 1892.2 1142.1 1895.4 1145.9C1898.5 1149.7 1900.5 1153.5 1902.3 1157.8C1904.2 1162.2 1905.4 1166.8 1906.3 1171.8C1907.2 1176.8 1907.6 1182.4 1907.7 1187.8C1907.8 1193.1 1907.3 1198.7 1906.9 1203.7C1906.5 1208.7 1905.4 1214.2 1905.3 1217.7C1905.2 1221.1 1905.7 1222.3 1906.3 1224.6C1906.9 1227.0 1908.6 1228.8 1908.9 1231.6C1909.2 1234.4 1908.9 1237.9 1908.3 1241.6C1907.7 1245.2 1906.5 1250.2 1905.3 1253.5C1904.2 1256.9 1902.7 1259.7 1901.3 1261.5C1900.0 1263.3 1897.7 1262.5 1897.3 1264.5C1896.9 1266.5 1898.1 1270.3 1898.9 1273.5C1899.8 1276.6 1900.9 1280.5 1902.3 1283.5C1903.7 1286.4 1904.5 1288.8 1907.3 1291.4C1910.1 1294.1 1914.0 1295.7 1919.3 1299.4C1924.6 1303.1 1933.2 1308.9 1939.2 1313.4C1945.2 1317.8 1952.5 1317.0 1955.2 1326.3C1957.8 1335.6 1956.2 1352.1 1955.2 1369.2C1954.2 1386.3 1950.6 1407.2 1949.2 1429.0C1947.8 1450.8 1947.3 1486.4 1946.8 1499.9C1946.3 1513.4 1946.3 1504.9 1946.2 1509.9C1946.1 1514.9 1946.0 1523.2 1946.2 1529.8C1946.4 1536.5 1947.0 1543.1 1947.6 1549.7C1948.2 1556.4 1948.6 1563.0 1949.6 1569.7C1950.5 1576.3 1952.2 1583.0 1953.2 1589.6C1954.1 1596.3 1954.7 1602.9 1955.2 1609.6C1955.7 1616.2 1955.8 1622.9 1956.2 1629.5C1956.5 1636.1 1956.7 1642.8 1957.2 1649.4C1957.7 1656.1 1958.7 1662.7 1959.1 1669.4C1959.6 1676.0 1959.8 1682.7 1960.1 1689.3C1960.5 1696.0 1960.8 1702.6 1961.1 1709.2C1961.5 1715.9 1962.1 1722.5 1962.1 1729.2C1962.2 1735.8 1961.8 1742.5 1961.5 1749.1C1961.3 1755.8 1961.1 1762.4 1960.7 1769.1C1960.4 1775.7 1960.1 1783.8 1959.5 1789.0C1959.0 1794.1 1957.8 1794.9 1957.5 1800.0C1957.2 1805.1 1957.7 1813.8 1957.9 1819.7C1958.1 1825.6 1958.2 1830.2 1958.5 1835.4C1958.8 1840.6 1959.2 1845.9 1959.9 1851.1C1960.5 1856.4 1961.3 1862.0 1962.4 1866.9C1963.5 1871.8 1964.9 1876.1 1966.3 1880.6C1967.8 1885.2 1969.6 1889.8 1971.3 1894.4C1972.9 1899.0 1974.6 1903.6 1976.2 1908.2C1977.8 1912.8 1979.4 1917.4 1980.7 1921.9C1982.0 1926.5 1983.2 1930.8 1984.0 1935.7C1984.9 1940.6 1985.6 1946.2 1986.0 1951.4C1986.4 1956.7 1986.5 1961.9 1986.6 1967.2C1986.7 1972.4 1986.7 1977.7 1986.6 1982.9C1986.5 1988.2 1986.3 1993.4 1986.0 1998.7C1985.8 2003.9 1985.4 2009.1 1985.0 2014.4C1984.7 2019.6 1983.9 2024.9 1984.0 2030.1C1984.2 2035.4 1984.9 2041.6 1986.0 2045.9C1987.2 2050.1 1989.6 2052.4 1990.9 2055.7C1992.2 2059.0 1993.3 2061.6 1993.9 2065.5C1994.5 2069.5 1994.5 2074.4 1994.5 2079.3C1994.5 2084.2 1994.1 2089.8 1993.9 2095.0C1993.6 2100.3 1993.2 2105.8 1992.9 2110.8C1992.6 2115.7 1992.4 2120.3 1991.9 2124.5C1991.4 2128.8 1990.9 2132.7 1989.9 2136.3C1989.0 2139.9 1987.5 2143.5 1986.0 2146.2C1984.5 2148.8 1982.9 2150.3 1981.1 2152.1C1979.3 2153.9 1977.2 2155.5 1975.2 2157.0C1973.2 2158.5 1971.6 2160.0 1969.3 2160.9C1967.0 2161.8 1963.7 2162.0 1961.4 2162.3C1959.1 2162.6 1957.5 2163.2 1955.5 2162.9C1953.6 2162.6 1951.8 2161.5 1949.6 2160.3C1947.5 2159.2 1944.5 2158.0 1942.7 2156.0C1940.9 2154.0 1939.6 2151.1 1938.8 2148.1C1938.0 2145.2 1937.8 2142.2 1937.8 2138.3C1937.8 2134.4 1938.3 2129.1 1938.8 2124.5C1939.3 2119.9 1940.0 2115.7 1940.8 2110.8C1941.6 2105.8 1942.7 2100.3 1943.7 2095.0C1944.7 2089.8 1945.7 2084.2 1946.7 2079.3C1947.7 2074.4 1948.6 2069.8 1949.6 2065.5C1950.6 2061.3 1952.1 2057.7 1952.6 2053.7C1953.1 2049.8 1953.1 2046.2 1952.6 2041.9C1952.1 2037.7 1950.8 2033.1 1949.6 2028.2C1948.5 2023.2 1947.2 2017.7 1945.7 2012.4C1944.2 2007.2 1942.4 2001.9 1940.8 1996.7C1939.1 1991.4 1937.7 1986.2 1935.9 1981.0C1934.1 1975.7 1931.6 1970.5 1930.0 1965.2C1928.3 1960.0 1927.3 1954.7 1926.0 1949.5C1924.7 1944.2 1923.7 1938.7 1922.1 1933.7C1920.5 1928.8 1918.5 1924.6 1916.2 1920.0C1913.9 1915.4 1910.9 1910.8 1908.3 1906.2C1905.7 1901.6 1902.9 1897.0 1900.5 1892.4C1898.0 1887.9 1895.4 1883.6 1893.6 1878.7C1891.8 1873.8 1890.6 1868.2 1889.6 1862.9C1888.7 1857.7 1888.2 1852.5 1887.7 1847.2C1887.1 1842.0 1886.8 1836.7 1886.3 1831.5C1885.8 1826.2 1885.1 1821.0 1884.7 1815.7C1884.3 1810.5 1884.2 1804.2 1883.7 1800.0C1883.3 1795.8 1883.3 1797.9 1882.0 1790.4C1880.7 1782.8 1878.0 1766.6 1876.0 1754.7C1874.1 1742.8 1871.9 1729.6 1870.2 1719.0C1868.6 1708.4 1867.2 1696.3 1866.2 1691.3C1865.3 1686.3 1865.2 1685.7 1864.6 1689.3C1864.1 1692.9 1863.9 1704.1 1862.7 1713.0C1861.5 1721.9 1859.7 1731.8 1857.5 1742.7C1855.3 1753.6 1852.5 1768.9 1849.5 1778.4C1846.5 1788.0 1841.6 1793.8 1839.5 1800.0C1837.3 1806.2 1837.7 1810.5 1836.5 1815.7C1835.4 1821.0 1833.7 1825.9 1832.6 1831.5C1831.5 1837.0 1830.3 1843.6 1829.6 1849.2C1829.0 1854.7 1828.5 1860.3 1828.7 1864.9C1828.8 1869.5 1829.6 1872.4 1830.6 1876.7C1831.6 1881.0 1833.6 1885.6 1834.6 1890.5C1835.5 1895.4 1836.4 1901.0 1836.5 1906.2C1836.7 1911.5 1836.4 1917.0 1835.5 1921.9C1834.7 1926.9 1833.3 1931.5 1831.6 1935.7C1830.0 1940.0 1827.0 1943.3 1825.7 1947.5C1824.4 1951.8 1823.9 1956.4 1823.7 1961.3C1823.6 1966.2 1824.2 1971.8 1824.7 1977.0C1825.2 1982.3 1826.0 1987.8 1826.7 1992.8C1827.4 1997.7 1828.0 2002.6 1828.7 2006.5C1829.3 2010.5 1830.4 2013.1 1830.6 2016.4C1830.9 2019.6 1830.9 2023.2 1830.0 2026.2C1829.2 2029.1 1828.1 2031.8 1825.7 2034.1C1823.4 2036.4 1819.5 2038.3 1815.9 2040.0C1812.3 2041.6 1808.0 2042.6 1804.1 2043.9C1800.1 2045.1 1796.2 2046.0 1792.3 2047.4C1788.3 2048.9 1784.4 2050.9 1780.5 2052.7C1776.5 2054.6 1772.6 2056.5 1768.7 2058.6C1764.7 2060.8 1760.8 2063.6 1756.9 2065.5C1752.9 2067.5 1749.2 2069.1 1745.1 2070.4C1741.0 2071.8 1735.6 2072.6 1732.3 2073.4C1729.0 2074.2 1728.2 2075.4 1725.4 2075.4C1722.6 2075.4 1718.2 2074.5 1715.6 2073.4C1712.9 2072.2 1710.9 2070.4 1709.7 2068.5C1708.4 2066.5 1707.9 2064.1 1708.1 2061.6C1708.3 2059.1 1709.1 2056.7 1710.7 2053.7C1712.2 2050.8 1714.7 2047.0 1717.5 2043.9C1720.3 2040.8 1723.4 2037.5 1727.4 2035.0C1731.3 2032.6 1736.2 2030.9 1741.1 2029.1C1746.1 2027.3 1751.6 2026.0 1756.9 2024.2C1762.1 2022.4 1768.2 2020.6 1772.6 2018.3C1777.0 2016.0 1781.1 2013.4 1783.4 2010.5C1785.7 2007.5 1786.2 2004.6 1786.4 2000.6C1786.5 1996.7 1785.3 1991.4 1784.4 1986.9C1783.5 1982.3 1782.2 1978.0 1780.9 1973.1C1779.6 1968.2 1777.9 1962.6 1776.5 1957.4C1775.2 1952.1 1773.8 1946.9 1772.6 1941.6C1771.5 1936.4 1770.6 1931.1 1769.7 1925.9C1768.7 1920.6 1767.8 1915.4 1767.1 1910.1C1766.4 1904.9 1765.7 1899.7 1765.7 1894.4C1765.7 1889.2 1766.4 1883.9 1767.1 1878.7C1767.8 1873.4 1769.1 1868.2 1769.7 1862.9C1770.2 1857.7 1770.8 1852.5 1770.6 1847.2C1770.5 1842.0 1769.5 1836.7 1768.7 1831.5C1767.9 1826.2 1766.5 1821.0 1765.7 1815.7C1764.9 1810.5 1764.7 1812.6 1763.8 1800.0C1762.8 1787.4 1760.5 1752.7 1760.0 1740.0C1759.5 1727.3 1760.6 1728.1 1760.9 1723.6C1761.1 1719.2 1761.4 1716.6 1761.7 1713.1C1762.0 1709.6 1762.2 1706.1 1762.4 1702.6C1762.7 1699.1 1762.9 1695.6 1763.2 1692.2C1763.5 1688.7 1763.8 1685.2 1764.2 1681.7C1764.6 1678.2 1765.1 1674.7 1765.6 1671.2C1766.1 1667.7 1766.6 1664.2 1767.2 1660.7C1767.7 1657.2 1768.3 1653.7 1768.7 1650.2C1769.2 1646.7 1769.5 1643.2 1769.8 1639.7C1770.0 1636.2 1770.1 1632.7 1770.3 1629.2C1770.5 1625.7 1770.6 1622.2 1770.8 1618.7C1771.1 1615.2 1771.4 1611.7 1771.9 1608.2C1772.4 1604.7 1773.1 1601.2 1774.0 1597.7C1774.9 1594.2 1776.0 1590.7 1777.1 1587.2C1778.3 1583.7 1779.7 1580.3 1780.8 1576.7C1781.9 1573.1 1783.6 1566.8 1783.7 1565.7C1783.8 1564.7 1782.3 1568.6 1781.3 1570.4C1780.3 1572.3 1779.1 1573.9 1777.6 1576.7C1776.2 1579.5 1774.2 1583.5 1772.4 1587.2C1770.7 1590.9 1768.9 1594.7 1767.2 1598.8C1765.4 1602.8 1763.5 1607.3 1761.9 1611.4C1760.3 1615.4 1759.0 1620.3 1757.7 1622.9C1756.4 1625.5 1754.5 1625.5 1754.2 1627.1C1754.0 1628.7 1756.0 1630.2 1756.5 1632.3C1756.9 1634.4 1757.3 1637.1 1757.2 1639.7C1757.0 1642.3 1756.4 1645.5 1755.6 1648.1C1754.8 1650.7 1753.3 1653.3 1752.5 1655.4C1751.6 1657.5 1751.0 1657.9 1750.6 1660.7C1750.2 1663.5 1749.8 1669.4 1750.2 1672.2C1750.5 1675.0 1751.4 1675.5 1752.5 1677.5C1753.6 1679.4 1755.4 1681.7 1756.7 1683.8C1758.0 1685.9 1759.7 1688.3 1760.3 1690.1C1761.0 1691.8 1761.0 1693.4 1760.7 1694.2C1760.3 1695.1 1759.3 1696.0 1758.2 1695.3C1757.2 1694.6 1756.0 1691.9 1754.6 1690.1C1753.2 1688.2 1750.9 1684.8 1749.8 1684.3C1748.8 1683.8 1748.2 1685.8 1748.5 1686.9C1748.7 1688.0 1750.1 1689.4 1751.4 1691.1C1752.8 1692.9 1755.1 1695.3 1756.7 1697.4C1758.2 1699.5 1760.2 1702.1 1760.9 1703.7C1761.5 1705.3 1761.0 1706.1 1760.3 1706.8C1759.6 1707.5 1758.3 1708.9 1756.7 1707.9C1755.0 1706.8 1752.1 1702.4 1750.4 1700.5C1748.7 1698.7 1747.2 1696.7 1746.4 1696.6C1745.5 1696.4 1744.8 1698.3 1745.3 1699.5C1745.8 1700.7 1747.8 1701.9 1749.3 1703.7C1750.9 1705.4 1752.8 1707.9 1754.6 1710.0C1756.3 1712.1 1758.8 1714.5 1759.8 1716.3C1760.9 1718.0 1761.0 1719.3 1760.9 1720.5C1760.7 1721.6 1759.8 1723.5 1758.8 1723.1C1757.7 1722.8 1756.5 1720.9 1754.6 1718.4C1752.6 1715.8 1749.3 1711.0 1747.2 1707.9C1745.1 1704.8 1743.8 1701.8 1742.0 1700.0C1740.1 1698.3 1738.1 1697.1 1736.2 1697.4C1734.3 1697.7 1731.4 1700.2 1730.6 1701.6C1729.9 1703.0 1731.0 1703.7 1731.5 1705.8C1732.0 1707.9 1733.0 1711.4 1733.6 1714.2C1734.2 1717.0 1735.0 1720.3 1735.2 1722.6C1735.3 1724.9 1735.1 1726.6 1734.6 1727.8C1734.2 1729.0 1733.3 1730.1 1732.5 1729.7C1731.7 1729.4 1730.9 1727.6 1729.9 1725.7C1728.9 1723.8 1727.8 1721.0 1726.8 1718.4C1725.7 1715.8 1724.5 1713.1 1723.6 1710.0C1722.7 1706.8 1722.0 1703.0 1721.5 1699.5C1721.0 1696.0 1720.7 1692.5 1720.5 1689.0C1720.2 1685.5 1720.0 1682.4 1720.1 1678.5C1720.3 1674.7 1720.9 1670.1 1721.5 1665.9C1722.1 1661.7 1722.9 1657.7 1723.6 1653.3C1724.3 1649.0 1725.0 1644.1 1725.7 1639.7C1726.4 1635.3 1727.0 1631.1 1727.8 1627.1C1728.6 1623.1 1729.5 1619.6 1730.4 1615.6C1731.4 1611.5 1732.5 1607.7 1733.6 1603.0C1734.6 1598.2 1735.8 1592.5 1736.7 1587.2C1737.7 1582.0 1738.6 1576.7 1739.3 1571.5C1740.0 1566.2 1740.5 1561.0 1740.9 1555.7C1741.4 1550.5 1741.4 1544.9 1742.0 1540.0C1742.5 1535.1 1742.9 1532.2 1744.1 1526.5C1745.2 1520.9 1746.4 1514.0 1748.8 1506.1C1751.1 1498.2 1755.9 1487.7 1758.2 1479.3C1760.6 1470.9 1762.0 1462.3 1762.9 1455.7C1763.9 1449.2 1763.8 1445.1 1764.2 1440.0C1764.6 1434.8 1765.0 1430.2 1765.4 1425.0C1765.7 1419.9 1766.1 1414.4 1766.4 1409.1C1766.6 1403.7 1766.9 1398.4 1766.8 1393.1C1766.6 1387.8 1765.5 1382.5 1765.4 1377.2C1765.2 1371.8 1765.4 1366.5 1765.8 1361.2C1766.2 1355.9 1766.8 1350.2 1767.8 1345.3C1768.8 1340.3 1770.1 1335.3 1771.7 1331.3C1773.4 1327.3 1775.1 1324.3 1777.7 1321.3C1780.4 1318.3 1784.4 1315.2 1787.7 1313.4C1791.0 1311.5 1795.3 1311.4 1797.7 1310.4C1800.1 1309.4 1801.2 1308.7 1802.0 1307.4C1802.9 1306.0 1803.0 1304.2 1802.6 1302.4C1802.3 1300.6 1800.2 1298.4 1800.1 1296.4C1799.9 1294.4 1801.7 1292.4 1801.6 1290.4C1801.6 1288.4 1801.0 1285.8 1799.7 1284.4C1798.3 1283.1 1795.2 1283.6 1793.7 1282.5C1792.2 1281.3 1791.0 1279.6 1790.7 1277.5C1790.3 1275.3 1792.0 1272.5 1791.7 1269.5C1791.3 1266.5 1789.6 1263.2 1788.7 1259.5C1787.8 1255.9 1786.6 1251.2 1786.1 1247.6C1785.6 1243.9 1786.5 1240.1 1785.7 1237.6C1784.9 1235.1 1782.1 1234.9 1781.3 1232.6C1780.5 1230.3 1780.6 1227.5 1780.7 1223.6C1780.8 1219.8 1781.6 1214.7 1782.1 1209.7C1782.6 1204.7 1782.8 1199.1 1783.7 1193.7C1784.6 1188.4 1785.7 1183.1 1787.7 1177.8C1789.7 1172.5 1792.3 1167.2 1795.7 1161.8C1799.0 1156.5 1803.3 1150.4 1807.6 1145.9C1811.9 1141.4 1816.6 1137.8 1821.6 1134.9C1826.6 1132.0 1832.2 1129.8 1837.5 1128.3C1842.9 1126.9 1848.2 1126.3 1853.5 1126.3Z"/><path id="ba" d="M1929.2 1306.4C1930.9 1307.5 1934.2 1309.5 1939.2 1313.4C1944.2 1317.2 1952.8 1324.0 1959.1 1329.3C1965.5 1334.6 1972.1 1339.9 1977.1 1345.3C1982.1 1350.6 1986.1 1355.9 1989.1 1361.2C1992.0 1366.5 1993.5 1371.5 1995.0 1377.2C1996.5 1382.8 1997.4 1389.1 1998.0 1395.1C1998.7 1401.1 1998.7 1407.4 1999.0 1413.0C1999.4 1418.7 2000.2 1424.5 2000.0 1429.0C1999.9 1433.5 1998.1 1436.1 1998.2 1440.0C1998.3 1443.9 1999.7 1448.4 2000.7 1452.6C2001.8 1456.8 2003.2 1461.0 2004.5 1465.2C2005.7 1469.4 2007.1 1473.6 2008.3 1477.8C2009.4 1482.0 2010.5 1486.2 2011.4 1490.4C2012.3 1494.5 2013.1 1498.7 2013.9 1502.9C2014.8 1507.1 2015.6 1511.3 2016.4 1515.5C2017.3 1519.7 2018.2 1523.9 2019.0 1528.1C2019.7 1532.3 2020.2 1536.5 2020.8 1540.7C2021.5 1544.9 2022.1 1549.1 2022.7 1553.3C2023.4 1557.5 2024.1 1561.7 2024.6 1565.9C2025.1 1570.1 2025.7 1574.3 2025.9 1578.5C2026.1 1582.7 2026.0 1586.9 2025.9 1591.1C2025.8 1595.3 2025.6 1599.4 2025.3 1603.6C2024.9 1607.8 2024.4 1612.0 2024.0 1616.2C2023.6 1620.4 2023.2 1624.6 2022.7 1628.8C2022.3 1633.0 2022.0 1637.2 2021.5 1641.4C2021.0 1645.6 2020.1 1650.9 2019.6 1654.0C2019.0 1657.1 2018.7 1657.3 2018.1 1660.0C2017.5 1662.7 2016.7 1667.0 2016.0 1670.5C2015.3 1674.0 2014.6 1677.5 2013.9 1681.0C2013.2 1684.5 2012.5 1688.0 2011.8 1691.5C2011.1 1695.0 2010.3 1698.5 2009.7 1702.0C2009.1 1705.5 2008.6 1709.0 2008.2 1712.5C2007.7 1716.0 2007.2 1720.2 2007.1 1723.0C2007.0 1725.8 2007.0 1726.8 2007.6 1729.3C2008.2 1731.7 2009.8 1734.9 2010.8 1737.7C2011.7 1740.5 2012.6 1743.3 2013.4 1746.1C2014.2 1748.9 2015.0 1751.7 2015.5 1754.5C2016.0 1757.3 2016.6 1760.2 2016.6 1762.8C2016.6 1765.5 2016.0 1768.1 2015.5 1770.2C2015.0 1772.3 2013.9 1773.5 2013.4 1775.4C2012.9 1777.4 2013.1 1780.0 2012.4 1781.7C2011.7 1783.5 2010.4 1784.7 2009.2 1785.9C2008.0 1787.2 2006.1 1787.5 2005.0 1789.1C2004.0 1790.7 2003.6 1792.9 2002.9 1795.4C2002.2 1797.8 2001.4 1801.7 2000.8 1803.8C2000.2 1805.9 1999.9 1807.2 1999.2 1808.0C1998.5 1808.8 1997.3 1809.0 1996.6 1808.5C1995.9 1808.0 1995.5 1805.1 1995.0 1804.8C1994.6 1804.6 1994.3 1805.5 1994.0 1806.9C1993.7 1808.3 1993.8 1811.5 1993.5 1813.2C1993.1 1815.0 1992.8 1816.5 1991.9 1817.4C1991.0 1818.3 1989.3 1819.0 1988.2 1818.5C1987.2 1817.9 1986.2 1816.2 1985.6 1814.3C1985.0 1812.3 1984.7 1809.9 1984.5 1806.9C1984.4 1804.0 1984.6 1799.9 1984.5 1796.4C1984.5 1792.9 1984.4 1786.8 1984.0 1785.9C1983.7 1785.1 1983.1 1788.6 1982.4 1791.2C1981.7 1793.8 1980.7 1798.2 1979.8 1801.7C1978.9 1805.2 1978.0 1809.0 1977.2 1812.2C1976.4 1815.3 1975.9 1818.6 1975.1 1820.6C1974.3 1822.6 1973.5 1823.7 1972.5 1824.2C1971.4 1824.8 1969.7 1824.5 1968.8 1823.7C1967.9 1822.9 1967.4 1821.4 1967.2 1819.5C1967.1 1817.6 1967.5 1815.1 1967.8 1812.2C1968.0 1809.2 1968.5 1805.2 1968.8 1801.7C1969.2 1798.2 1969.6 1794.7 1969.8 1791.2C1970.1 1787.7 1970.5 1784.0 1970.4 1780.7C1970.2 1777.4 1969.5 1773.7 1968.8 1771.2C1968.1 1768.8 1967.1 1766.7 1966.2 1766.0C1965.2 1765.3 1963.7 1765.8 1963.0 1767.0C1962.3 1768.3 1962.4 1771.2 1962.0 1773.3C1961.5 1775.4 1961.0 1777.8 1960.4 1779.6C1959.8 1781.5 1959.3 1783.3 1958.3 1784.4C1957.3 1785.4 1955.7 1786.4 1954.6 1785.9C1953.6 1785.5 1952.6 1783.5 1952.0 1781.7C1951.4 1780.0 1951.4 1777.7 1951.3 1775.4C1951.2 1773.2 1951.3 1770.7 1951.5 1768.1C1951.7 1765.5 1952.1 1762.3 1952.5 1759.7C1953.0 1757.1 1953.4 1755.0 1954.1 1752.4C1954.8 1749.7 1955.6 1746.8 1956.7 1744.0C1957.9 1741.2 1959.4 1738.2 1960.9 1735.6C1962.5 1732.9 1964.6 1731.0 1966.2 1728.2C1967.8 1725.4 1969.2 1722.3 1970.4 1718.8C1971.5 1715.3 1972.2 1711.8 1973.0 1707.2C1973.8 1702.7 1974.4 1696.7 1975.1 1691.5C1975.8 1686.2 1976.6 1681.0 1977.2 1675.7C1977.8 1670.5 1977.7 1665.7 1978.8 1660.0C1979.9 1654.3 1983.1 1646.6 1983.7 1641.4C1984.3 1636.2 1983.0 1633.0 1982.5 1628.8C1981.9 1624.6 1981.1 1620.4 1980.6 1616.2C1980.0 1612.0 1979.6 1607.8 1979.3 1603.6C1979.0 1599.4 1979.0 1594.8 1978.7 1591.1C1978.4 1587.3 1978.2 1583.9 1977.4 1581.0C1976.7 1578.0 1976.1 1576.4 1974.3 1573.4C1972.5 1570.5 1969.2 1567.3 1966.7 1563.4C1964.2 1559.4 1961.3 1554.3 1959.2 1549.5C1957.1 1544.7 1955.6 1539.0 1954.1 1534.4C1952.7 1529.8 1951.3 1527.1 1950.4 1521.8C1949.4 1516.6 1949.1 1509.2 1948.5 1502.9C1947.8 1496.6 1947.1 1489.3 1946.6 1484.1C1946.1 1478.8 1946.9 1475.7 1945.3 1471.5C1943.8 1467.3 1940.6 1469.3 1937.2 1458.9C1933.9 1448.5 1928.2 1425.7 1925.3 1409.1C1922.3 1392.4 1919.9 1372.5 1919.3 1359.2C1918.6 1345.9 1920.9 1334.3 1921.3 1329.3Z"/>
<clipPath id="bc"><use href="#bm"/><use href="#ba"/></clipPath>
<filter id="bl" x="-30%" y="-30%" width="160%" height="160%"><feGaussianBlur stdDeviation="5.5"/></filter>
<filter id="bl2" x="-30%" y="-30%" width="160%" height="160%"><feGaussianBlur stdDeviation="11"/></filter>
<filter id="ft" x="-20%" y="-20%" width="140%" height="140%"><feGaussianBlur stdDeviation="0.9"/></filter>
<filter id="inn" x="-5%" y="-5%" width="110%" height="110%"><feGaussianBlur in="SourceAlpha" stdDeviation="6" result="b"/><feComposite in="SourceAlpha" in2="b" operator="out" result="e"/><feFlood flood-color="#1c1a19" flood-opacity="0.95"/><feComposite operator="in" in2="e"/></filter>
</defs>
<g fill="none" stroke="#3a3938" stroke-width="2.2"><use href="#bm"/><use href="#ba"/></g>
<g clip-path="url(#bc)">
<rect x="1690" y="1115" width="390" height="1052" fill="#7b7977"/>
<g filter="url(#bl2)">
<path d="M1755 1310L1835 1300L1852 1400L1808 1490L1805 1590L1775 1540L1755 1400Z" fill="#3b3938"/>
<ellipse cx="1866" cy="1195" rx="52" ry="62" fill="#bdbaa8"/>
<ellipse cx="1955" cy="1365" rx="48" ry="42" fill="#d8d5be"/>
<path d="M1810 1369L1909 1359L1939 1409L1949 1469L1945 1490L1802 1490L1794 1449L1810 1409Z" fill="#f0764a" fill-opacity="0.5"/>
<path d="M1814 1470L1945 1470L1949 1530L1929 1550L1925 1610L1889 1629L1899 1669L1905 1709L1885 1719L1869 1689L1842 1679L1826 1629L1814 1590L1830 1550L1802 1530L1802 1490Z" fill="#e8404a" fill-opacity="0.55"/>
<path d="M1887 1721L1946 1711L1954 1800L1965 1879L1985 1957L1985 2036L1993 2095L1985 2154L1946 2154L1946 2056L1926 1977L1906 1898L1891 1839Z" fill="#e8403c" fill-opacity="0.32"/>
<path d="M1794 1210L1830 1206L1869 1250L1889 1262L1869 1299L1830 1319L1806 1315L1794 1269Z" fill="#f0704a" fill-opacity="0.45"/>
</g>
<path d="M1968 1440L1974 1478L1969 1503L1978 1528L1984 1553L1993 1578L1988 1604L1991 1629L1986 1654L1991 1684" fill="none" stroke="#dd2448" stroke-width="23" stroke-opacity="0.62" stroke-linecap="round" stroke-linejoin="round" filter="url(#bl)"/>
<ellipse cx="1988" cy="1746" rx="16" ry="27" fill="#e02a44" fill-opacity="0.8" filter="url(#bl)"/>
<g filter="url(#bl)" opacity="0.85">
<circle cx="1834" cy="1176" r="14" fill="#f6f2da"/>
<circle cx="1869" cy="1178" r="12" fill="#f6f2da"/>
<circle cx="1838" cy="1204" r="14" fill="#f6f2da"/>
<circle cx="1881" cy="1214" r="12" fill="#f6f2da"/>
<circle cx="1855" cy="1222" r="12" fill="#f6f2da"/>
<circle cx="1849" cy="1154" r="12" fill="#f6f2da"/>
<circle cx="1879" cy="1156" r="10" fill="#f6f2da"/>
<circle cx="1820" cy="1158" r="10" fill="#fde6a0"/>
<circle cx="1889" cy="1194" r="10" fill="#f6f2da"/>
<circle cx="1865" cy="1198" r="10" fill="#fde6a0"/>
<circle cx="1812" cy="1194" r="15" fill="#fba348"/>
<circle cx="1804" cy="1212" r="9" fill="#fde6a0"/>
<circle cx="1820" cy="1214" r="12" fill="#f96c42"/>
<circle cx="1834" cy="1228" r="11" fill="#f96c42"/>
<circle cx="1820" cy="1228" r="9" fill="#fba348"/>
<circle cx="1804" cy="1230" r="11" fill="#f96c42"/>
<circle cx="1838" cy="1242" r="9" fill="#f6f2da"/>
<circle cx="1855" cy="1240" r="12" fill="#f96c42"/>
<circle cx="1861" cy="1250" r="9" fill="#fba348"/>
<circle cx="1802" cy="1262" r="14" fill="#ea3038"/>
<circle cx="1796" cy="1275" r="9" fill="#fba348"/>
<circle cx="1810" cy="1275" r="12" fill="#ea3038"/>
<circle cx="1830" cy="1260" r="15" fill="#f96c42"/>
<circle cx="1810" cy="1295" r="12" fill="#dc1f48"/>
<circle cx="1814" cy="1311" r="11" fill="#ea3038"/>
<circle cx="1820" cy="1307" r="6" fill="#fde6a0"/>
<circle cx="1861" cy="1269" r="11" fill="#f96c42"/>
<circle cx="1863" cy="1281" r="9" fill="#f6f2da"/>
<circle cx="1842" cy="1293" r="12" fill="#fba348"/>
<circle cx="1844" cy="1305" r="11" fill="#fba348"/>
<circle cx="1877" cy="1269" r="8" fill="#fba348"/>
<circle cx="1895" cy="1246" r="9" fill="#fba348"/>
<circle cx="1893" cy="1259" r="9" fill="#ea3038"/>
<circle cx="1897" cy="1232" r="6" fill="#f6f2da"/>
<circle cx="1881" cy="1301" r="15" fill="#fba348"/>
<circle cx="1889" cy="1313" r="10" fill="#fde6a0"/>
<circle cx="1869" cy="1309" r="9" fill="#fba348"/>
<circle cx="1853" cy="1337" r="10" fill="#f6f2da"/>
<circle cx="1909" cy="1327" r="15" fill="#f6f2da"/>
<circle cx="1863" cy="1349" r="19" fill="#fba348"/>
<circle cx="1909" cy="1343" r="15" fill="#fba348"/>
<circle cx="1941" cy="1337" r="12" fill="#fde6a0"/>
<circle cx="1929" cy="1349" r="12" fill="#fba348"/>
<circle cx="1965" cy="1367" r="12" fill="#f6f2da"/>
<circle cx="1937" cy="1389" r="15" fill="#f6f2da"/>
<circle cx="1959" cy="1399" r="12" fill="#f6f2da"/>
<circle cx="1979" cy="1379" r="10" fill="#fde6a0"/>
<circle cx="1840" cy="1385" r="14" fill="#dc1f48"/>
<circle cx="1845" cy="1399" r="12" fill="#dc1f48"/>
<circle cx="1818" cy="1385" r="11" fill="#fde6a0"/>
<circle cx="1822" cy="1405" r="12" fill="#fde6a0"/>
<circle cx="1859" cy="1375" r="12" fill="#fba348"/>
<circle cx="1879" cy="1375" r="12" fill="#fde6a0"/>
<circle cx="1895" cy="1393" r="15" fill="#f96c42"/>
<circle cx="1834" cy="1421" r="15" fill="#fba348"/>
<circle cx="1849" cy="1421" r="10" fill="#fde6a0"/>
<circle cx="1875" cy="1409" r="11" fill="#f6f2da"/>
<circle cx="1889" cy="1417" r="10" fill="#f6f2da"/>
<circle cx="1879" cy="1429" r="15" fill="#f96c42"/>
<circle cx="1889" cy="1437" r="12" fill="#f96c42"/>
<circle cx="1804" cy="1437" r="12" fill="#ea3038"/>
<circle cx="1818" cy="1453" r="15" fill="#ea3038"/>
<circle cx="1844" cy="1455" r="15" fill="#f96c42"/>
<circle cx="1865" cy="1453" r="10" fill="#fde6a0"/>
<circle cx="1881" cy="1449" r="12" fill="#f6f2da"/>
<circle cx="1891" cy="1445" r="10" fill="#f6f2da"/>
<circle cx="1899" cy="1465" r="19" fill="#dc1f48"/>
<circle cx="1919" cy="1469" r="15" fill="#dc1f48"/>
<circle cx="1969" cy="1449" r="19" fill="#ea3038"/>
<circle cx="1973" cy="1439" r="12" fill="#dc1f48"/>
<circle cx="1822" cy="1473" r="15" fill="#fde6a0"/>
<circle cx="1865" cy="1479" r="15" fill="#ea3038"/>
<circle cx="1830" cy="1482" r="15" fill="#fde6a0"/>
<circle cx="1818" cy="1500" r="12" fill="#fde6a0"/>
<circle cx="1820" cy="1520" r="10" fill="#fde6a0"/>
<circle cx="1869" cy="1478" r="15" fill="#ea3038"/>
<circle cx="1899" cy="1482" r="19" fill="#dc1f48"/>
<circle cx="1929" cy="1486" r="15" fill="#dc1f48"/>
<circle cx="1849" cy="1510" r="15" fill="#fba348"/>
<circle cx="1869" cy="1516" r="15" fill="#f96c42"/>
<circle cx="1889" cy="1526" r="15" fill="#ea3038"/>
<circle cx="1905" cy="1530" r="12" fill="#ea3038"/>
<circle cx="1853" cy="1544" r="15" fill="#f96c42"/>
<circle cx="1863" cy="1550" r="9" fill="#fba348"/>
<circle cx="1830" cy="1550" r="12" fill="#ea3038"/>
<circle cx="1897" cy="1570" r="15" fill="#ea3038"/>
<circle cx="1897" cy="1566" r="12" fill="#f96c42"/>
<circle cx="1861" cy="1582" r="15" fill="#dc1f48"/>
<circle cx="1830" cy="1594" r="15" fill="#dc1f48"/>
<circle cx="1869" cy="1600" r="17" fill="#fba348"/>
<circle cx="1905" cy="1598" r="15" fill="#fba348"/>
<circle cx="1879" cy="1624" r="15" fill="#ea3038"/>
<circle cx="1849" cy="1635" r="15" fill="#dc1f48"/>
<circle cx="1842" cy="1655" r="12" fill="#dc1f48"/>
<circle cx="1865" cy="1669" r="19" fill="#dc1f48"/>
<circle cx="1855" cy="1677" r="12" fill="#ea3038"/>
<circle cx="1893" cy="1695" r="15" fill="#dc1f48"/>
<circle cx="1889" cy="1709" r="12" fill="#ea3038"/>
<circle cx="1989" cy="1745" r="15" fill="#ea3038"/>
<circle cx="1977" cy="1735" r="11" fill="#dc1f48"/>
<circle cx="1965" cy="1757" r="6" fill="#f6f2da"/>
<circle cx="1977" cy="1773" r="8" fill="#fba348"/>
<circle cx="1985" cy="1765" r="12" fill="#ea3038"/>
<circle cx="1955" cy="1781" r="5" fill="#fba348"/>
<circle cx="2011" cy="1775" r="3" fill="#f6f2da"/>
<circle cx="2001" cy="1793" r="4" fill="#fba348"/>
<circle cx="1973" cy="1799" r="8" fill="#ea3038"/>
<circle cx="1989" cy="1799" r="8" fill="#ea3038"/>
<circle cx="1971" cy="1823" r="4" fill="#fba348"/>
<circle cx="1933" cy="1737" r="15" fill="#f96c42"/>
<circle cx="1949" cy="1689" r="9" fill="#fba348"/>
<circle cx="1913" cy="1805" r="15" fill="#fba348"/>
<circle cx="1929" cy="1813" r="12" fill="#ea3038"/>
<circle cx="1901" cy="1835" r="15" fill="#ea3038"/>
<circle cx="1939" cy="1839" r="9" fill="#fba348"/>
<circle cx="1912" cy="1808" r="15" fill="#fba348"/>
<circle cx="1902" cy="1839" r="18" fill="#ea3038"/>
<circle cx="1936" cy="1839" r="15" fill="#f96c42"/>
<circle cx="1922" cy="1824" r="12" fill="#ea3038"/>
<circle cx="1926" cy="1910" r="15" fill="#ea3038"/>
<circle cx="1952" cy="1918" r="18" fill="#fba348"/>
<circle cx="1956" cy="1948" r="15" fill="#f96c42"/>
<circle cx="1965" cy="1963" r="15" fill="#ea3038"/>
<circle cx="1961" cy="1987" r="12" fill="#ea3038"/>
<circle cx="1946" cy="1938" r="9" fill="#f96c42"/>
<circle cx="1965" cy="2016" r="12" fill="#ea3038"/>
<circle cx="1969" cy="2042" r="12" fill="#dc1f48"/>
<circle cx="1965" cy="2060" r="12" fill="#dc1f48"/>
<circle cx="1983" cy="2075" r="6" fill="#fde6a0"/>
<circle cx="1985" cy="2054" r="6" fill="#fba348"/>
<circle cx="1961" cy="2095" r="18" fill="#dc1f48"/>
<circle cx="1975" cy="2095" r="12" fill="#dc1f48"/>
<circle cx="1952" cy="2123" r="12" fill="#ea3038"/>
<circle cx="1975" cy="2123" r="12" fill="#dc1f48"/>
<circle cx="1946" cy="2148" r="9" fill="#ea3038"/>
<circle cx="1959" cy="2152" r="8" fill="#ea3038"/>
<circle cx="1971" cy="2150" r="8" fill="#ea3038"/>
<circle cx="1981" cy="2142" r="5" fill="#fba348"/>
<circle cx="1985" cy="2107" r="9" fill="#dc1f48"/>
</g>
<g filter="url(#inn)"><use href="#bm"/><use href="#ba"/></g>
<g fill="none" stroke="#1e1c1b" stroke-linecap="round" stroke-linejoin="round" filter="url(#ft)">
<path d="M1804.6 1315.4C1805.8 1316.2 1808.8 1319.3 1811.6 1320.3C1814.4 1321.4 1817.6 1322.1 1821.6 1321.7C1825.6 1321.4 1830.9 1320.4 1835.5 1318.3C1840.2 1316.3 1844.8 1312.9 1849.5 1309.4C1854.1 1305.9 1859.1 1301.7 1863.5 1297.4C1867.8 1293.1 1872.1 1288.1 1875.4 1283.5C1878.7 1278.8 1881.4 1272.8 1883.4 1269.5C1885.4 1266.2 1886.7 1264.5 1887.4 1263.5" stroke-width="3.2" stroke-opacity="0.7"/>
<path d="M1819.6 1326.3C1823.2 1325.8 1834.5 1325.8 1841.5 1322.9C1848.5 1320.1 1855.1 1314.6 1861.5 1309.4C1867.8 1304.1 1876.4 1294.4 1879.4 1291.4" stroke-width="13" stroke-opacity="0.3"/>
<path d="M1837.5 1363.2C1841.2 1363.7 1850.8 1366.2 1859.5 1366.2C1868.1 1366.2 1880.1 1364.9 1889.4 1363.2C1898.7 1361.5 1908.6 1358.0 1915.3 1356.2C1921.9 1354.4 1923.6 1352.1 1929.2 1352.2C1934.9 1352.4 1945.9 1356.4 1949.2 1357.2" stroke-width="2.6" stroke-opacity="0.6"/>
<path d="M1829.6 1327.3C1830.2 1330.0 1831.9 1337.9 1833.5 1343.3C1835.2 1348.6 1837.9 1355.2 1839.5 1359.2C1841.2 1363.2 1842.9 1365.9 1843.5 1367.2" stroke-width="2" stroke-opacity="0.5"/>
<path d="M1785.7 1237.6C1787.7 1238.4 1793.7 1240.9 1797.7 1242.6C1801.6 1244.2 1805.6 1246.4 1809.6 1247.6C1813.6 1248.7 1816.9 1249.6 1821.6 1249.6C1826.2 1249.6 1834.9 1247.9 1837.5 1247.6" stroke-width="3.4" stroke-opacity="0.6"/>
<path d="M1891.4 1229.6C1892.7 1229.0 1896.8 1225.0 1899.3 1225.6C1901.8 1226.3 1905.2 1229.6 1906.3 1233.6C1907.5 1237.6 1907.5 1244.6 1906.3 1249.6C1905.2 1254.5 1901.8 1260.5 1899.3 1263.5C1896.8 1266.5 1892.7 1266.8 1891.4 1267.5" stroke-width="2.2" stroke-opacity="0.6"/>
<path d="M1929.0 1440.0C1930.4 1443.1 1933.8 1452.0 1937.8 1458.9C1941.8 1465.8 1947.4 1475.9 1952.9 1481.5C1958.3 1487.2 1964.8 1491.4 1970.5 1492.9C1976.2 1494.3 1982.7 1493.1 1986.9 1490.4C1991.1 1487.6 1994.2 1478.8 1995.7 1476.5" stroke-width="2.6" stroke-opacity="0.5"/>
<path d="M1809.3 1468.1C1813.5 1471.3 1826.6 1482.8 1834.4 1487.0C1842.3 1491.2 1848.6 1492.8 1856.5 1493.3C1864.4 1493.9 1872.2 1492.3 1881.7 1490.2C1891.1 1488.1 1902.9 1484.4 1913.1 1480.7C1923.4 1477.1 1938.1 1470.2 1943.1 1468.1" stroke-width="3" stroke-opacity="0.45"/>
<path d="M1944.6 1590.9C1942.0 1593.0 1934.1 1600.1 1928.9 1603.5C1923.6 1606.9 1918.4 1609.3 1913.1 1611.4C1907.9 1613.5 1900.0 1615.3 1897.4 1616.1" stroke-width="2.6" stroke-opacity="0.5"/>
<path d="M1830.5 1584.6C1830.8 1585.9 1832.1 1589.9 1832.1 1592.5C1832.1 1595.1 1830.8 1599.1 1830.5 1600.4" stroke-width="3.5" stroke-opacity="0.7"/>
<path d="M1806.1 1496.5C1808.2 1498.1 1814.0 1503.3 1818.7 1505.9C1823.4 1508.5 1831.8 1511.2 1834.4 1512.2" stroke-width="2.4" stroke-opacity="0.35"/>
<path d="M1810.8 1521.7C1813.2 1523.2 1820.0 1528.7 1825.0 1531.1C1830.0 1533.5 1838.1 1535.0 1840.7 1535.8" stroke-width="2.4" stroke-opacity="0.3"/>
<path d="M1770.6 1864.9C1773.6 1863.9 1782.1 1860.3 1788.3 1859.0C1794.6 1857.7 1801.5 1856.1 1808.0 1857.0C1814.6 1858.0 1824.4 1863.6 1827.7 1864.9" stroke-width="3" stroke-opacity="0.35"/>
<path d="M1768.7 1878.7C1771.3 1880.0 1777.9 1885.6 1784.4 1886.5C1791.0 1887.5 1800.1 1885.9 1808.0 1884.6C1815.9 1883.3 1827.7 1879.7 1831.6 1878.7" stroke-width="3" stroke-opacity="0.35"/>
<path d="M1910.3 1894.4C1912.9 1895.1 1920.5 1898.7 1926.0 1898.3C1931.6 1898.0 1937.8 1895.1 1943.7 1892.4C1949.6 1889.8 1958.5 1884.2 1961.4 1882.6" stroke-width="3" stroke-opacity="0.3"/>
<path d="M1767.2 1598.8C1766.3 1600.9 1763.5 1607.3 1761.9 1611.4C1760.3 1615.4 1758.4 1621.0 1757.7 1622.9" stroke-width="2" stroke-opacity="0.4"/>
</g>
<path d="M1787 1239l6 1.5l3 2.5l-5 -0.5zM1818 1245l8 -1l5 3l-7 2z" fill="#fff"/>
</g>
</g>
</svg></body></html>
